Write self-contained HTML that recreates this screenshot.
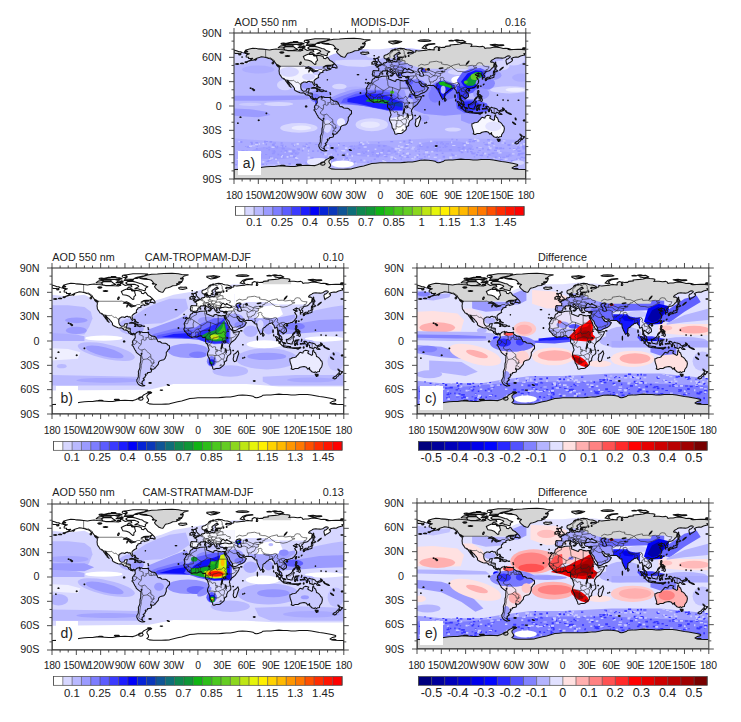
<!DOCTYPE html>
<html><head><meta charset="utf-8"><style>
*{margin:0;padding:0;box-sizing:border-box}
html,body{width:741px;height:722px;background:#fff;overflow:hidden}
body{position:relative;font-family:"Liberation Sans",sans-serif;color:#222}
svg{position:absolute;overflow:visible}
div{position:absolute;white-space:nowrap;line-height:1}
.yl{width:60px;text-align:right;font-size:10.8px}
.xl{width:60px;text-align:center;font-size:10.4px;letter-spacing:-0.25px}
.tl{font-size:10.8px}
.tc{text-align:center;font-size:10.8px}
.tr{width:100px;text-align:right;font-size:10.8px}
.lab{width:22.5px;height:24.3px;background:#fff;font-size:14px;padding:4.9px 0 0 4.7px}
svg.map{overflow:hidden}
.cl{width:60px;text-align:center;font-size:11.4px}
.cl2{font-size:12.5px}
</style></head><body>
<svg style="position:absolute;width:0;height:0"><defs><path id="bd" d="M-123,-49 -95,-49 -95,-49.4 -89.5,-48 -84.5,-46.5 -82.5,-45.3 -82.5,-42 -79,-42.8 -76.5,-44 -75,-45 -71.5,-45 -70,-46.5 -69,-47.4 -67.8,-47 -67.8,-45.5 -67,-45M-141,-69.6 -141,-60.3 -139,-60 -137,-59 -135,-59.5 -133,-58 -130,-56 -130,-54.7M-117.1,-32.5 -111,-31.3 -108,-31.3 -106.5,-31.8 -104.5,-29.8 -103,-29 -101,-29.5 -99.5,-27.5 -97.2,-25.9M-92.2,-14.5 -92,-16 -90.5,-16.1 -90.5,-17.8 -89.2,-17.8 -89.2,-15.9M-88.2,-15.7 -89.2,-14.4 -90.1,-13.7M-89.3,-14.4 -87.8,-13.9 -87.8,-13.3M-87.5,-13 -86,-13.9 -85,-14.1 -83.2,-15M-85.7,-11.1 -83.7,-10.9M-82.9,-8.1 -82.6,-9.5M-77.9,-7.2 -77.3,-8.6M-72,-11.5 -72.5,-8 -70,-7 -67.5,-6 -67.5,-2 -70,-1.2 -69.5,1 -70,4.2M-79,-1.2 -77,-0.4 -75.5,0.1 -73,2.5 -70,4.2M-80.3,3.4 -79,4.9 -76,2.5 -75.5,0.1M-70,4.2 -73,7 -73.5,9 -70.5,11 -69,11M-69,11 -68.8,13 -69.5,15.5 -69.5,17.5 -70.4,18.3M-69,11 -65.5,10 -62,13.5 -60,15.5 -58.3,16.5 -58,19.8M-69.5,17.5 -68.5,21 -67.5,22.8 -64.5,22.4 -62.5,22 -60,19.5 -58,19.8M-62.5,22 -58,24.5 -57.5,27.3 -55.5,27.5 -54.6,25.6M-58,19.8 -57.5,22 -55.5,22.5 -54.3,24 -54.6,25.6 -53.8,27.2 -56,28.5 -57.6,30.2M-57.6,30.2 -55.5,30.9 -53.5,32.5 -53.4,33.7M-57.6,30.2 -58.2,33 -58.4,34M-67.5,22.8 -68.5,25 -69.8,30 -70,33.5 -71,37 -71.5,41 -71.8,44 -72.5,48 -73,50 -71.5,52 -69,52.3M-60.5,-8.5 -61,-6 -60.7,-5.2 -62.8,-4 -64.5,-4 -63.5,-2.5 -64,-1.5 -66.3,-0.8 -67.5,-2M-60.7,-5.2 -60,-2 -57,-1.8 -55,-2.3 -52,-2.2 -51.5,-4M-57,-6 -58,-4 -57,-1.8M-54,-5.8 -54.4,-3.5 -54,-2.2M-2,-35.1 -1.7,-32.5 -3.6,-31.7 -8.7,-28.7 -8.7,-26 -12,-26 -12,-23.5 -13,-21.3 -17,-21.3M-13,-27.7 -8.7,-27.7 -4.8,-25 -6,-21 -5.5,-16.5 -11.5,-15.5 -12.2,-14.7 -16.5,-16.3M-4.8,-25 1.2,-21 4,-19.2 5.8,-19.4 12,-23.5M8.6,-36.9 8.3,-34.5 9.5,-30.3 10,-25 12,-23.5 15,-23 24,-19.5 24,-20 25,-20 25,-31.6M25,-22 36.9,-22M4,-19.2 3.5,-15.4 1,-15 0.2,-14.9 -2,-14.2 -4.5,-12 -5.5,-10.4 -8,-10.2 -8.5,-11.4 -9.5,-12.4 -11.4,-12.4 -12.2,-14.7M3.6,-11.7 7,-13 10,-13.3 13.6,-13.7 14.2,-13.1M15.5,-23 15.7,-20 14.2,-13.1M24,-19.5 22,-15 22.5,-13 22,-11 23,-9M15.5,-7.5 18.5,-8.8 21.7,-10.6 23,-9M14.2,-13.1 14.5,-11.5 15.5,-9.9 14,-9.5 15.5,-7.5M14.2,-12 13.3,-10 11.8,-7.2 9.7,-5.5 8.6,-4.6M2.7,-6.4 2.8,-9 3.6,-11.7M1.2,-6.1 0.5,-8.5 0,-11M-3.1,-5.1 -2.5,-8 -2.8,-9.6 -2.7,-11 0,-11 1,-11 2.4,-11.9 3.6,-11.7M0.2,-14.9 2.4,-11.9M-7.5,-4.4 -8.5,-7.5 -8,-8.5 -8,-10.2M23,-9 24,-8.7 26,-9.5 29,-9.6 32,-12 34,-9.5 33,-8 35,-4.6M38.6,-18 36.5,-14 36.2,-12.5 35,-10.5 34,-9.5M36.5,-14 40,-14.5 42.5,-12.5M43.3,-11 44,-9 48,-8 45,-5 42,-4 41,-3.9M41,-3.9 41,1.6M35,-4.6 38,-3.6 41,-3.9M34,-4.2 35,-1.5 34,1M34,1 37.6,3 39.3,4.6M29.6,1 34,1M30.8,-3.5 33.5,-3.8 34,-4.2M18.5,-3.5 22,-4.2 25,-5.2 27.5,-5 30.8,-3.5M12.2,5.8 13.5,4.8 16,3.5 17.5,1 18,-2 18.5,-3.5M9.5,-2.3 11.3,-2.2 13,-2.3 16,-2 16.2,-3.5 15,-5 14.5,-5 15.5,-7.5M11.3,-2.2 11.3,-1 13,-1.2 14.5,2 11.7,3 11,3.8M30.8,-3.5 29.7,1.4 29,2.8 29.2,4.5 30.5,8.3 28.8,8.5 28.5,11 29,13.4 27.2,11.7 25.5,11.6 24,11 22,11 21.8,7.3 20,7 17.6,8 16.5,6 13,5.9M11.8,17.2 14,17.4 18.5,17.4 21,18 23.5,17.6 25.3,17.8M22,11 24,11 24,13 22,13 22,16.3 23.5,17.6M21,18 20.9,22 20,22 20,28.5 16.5,28.6M20,24.8 22.5,26 25.5,25.5 27,24.3 29.4,22.2 31.3,22.4 32,24 32,26.8M25.3,17.8 26,18.5 27.5,20.5 29.4,22.2M25.3,17.8 27.5,17 29,16 30.4,15.6 33,16.5 32.7,19 32.5,21 31.3,22.4M30.4,15.6 33,14 33.5,10.5 32.9,9.4 30.8,8.3M40.4,10.5 37.8,11.5 35,11.5 33.5,10.5M33,14 35,16.5 35.3,17M-16.7,-12.4 -13.7,-12.4 -11.4,-12.4M-13.3,-9 -12,-10 -10.3,-8.5M-11.5,-6.9 -10.3,-8.5 -8.5,-7.6M-12.2,-14.7 -11.4,-12.4M28.2,28.7 29.4,29.8 27,30.5 28.2,28.7M-8.8,-42 -6.5,-41.9 -7,-39.6 -7.4,-37.2M-1.8,-43.4 3.2,-42.4M2.5,-51.1 4,-50 5.8,-49.5 8.2,-49 7.6,-47.6 6,-46.2 7,-45.8 6.6,-44.1 7.5,-43.8M7.6,-47.6 10.5,-47.5 10.5,-46.5 9,-45.9 7,-45.8M10.5,-46.8 12.5,-47 13.7,-46.5 13.7,-45.6M10.5,-47.5 13,-47.5 13.8,-48.8 12.2,-50.3 14.8,-50.9M14.2,-54 14.6,-52.5 14.8,-50.9M7,-53.5 6,-51.8 5.8,-50.7M3.5,-51.4 5.8,-50.7 6.1,-50M8.6,-54.9 9.9,-54.8M14.8,-50.9 16.5,-50.2 18.8,-49.5 22.5,-49.1M22.5,-49.1 24,-50.5 23.5,-52.5 23.5,-54.2 22.7,-54.4 19.5,-54.4M13.8,-48.8 15,-49 16.9,-48.6 17.2,-48 16.1,-46.8 18.8,-45.9 21,-46.2 22.7,-48 22.5,-49.1M16.9,-48.6 18.8,-49.5M13.7,-45.6 15.5,-45.9 16.5,-46.5M18.8,-45.9 19.5,-45 19,-44.5 19.4,-42.5M15.8,-45.2 19,-44.9M21,-46.2 22.7,-48 24,-47.9 26.6,-48.3 28.2,-45.5 29.6,-45.2M22.5,-44.5 25,-43.7 27.5,-44 28.6,-43.7M22.4,-42.3 24,-41.5 26.2,-41.7 28,-42M19,-44.5 22.5,-44.5 22.4,-42.3 21,-42.2 20,-42.5M20,-39.7 20.8,-40.9 22.4,-41.3 24,-41.5M26,-40.8 26.6,-41.7 28,-42M23.5,-51.5 27,-51.5 31,-52 34,-52.3 36,-50.3 40,-49.5 40,-47.5 38.2,-47.1M26.6,-48.3 28.5,-48 30,-46.5 29.6,-45.2M23.5,-54.2 26,-54.5 26.6,-55.7 28.2,-56 31,-55.7 31,-53.5 31,-52M21,-56.1 26.6,-55.7M24.3,-57.9 27.3,-57.5M28,-59.5 27.5,-57.5 28.2,-56M28,-60.5 31.5,-62.9 30,-64 30,-67 29,-69 28.5,-69.9M24,-65.8 23.5,-68 20.8,-69.1M12,-59 12.5,-61 12,-63.5 14.5,-65.5 16,-68 18,-68.5 20.8,-69.1 24.5,-68.8 26,-69.9 28.5,-69.9M36,-36 37,-36.7 40,-37 42.3,-37.1 44.8,-37.2 44,-39.5 44.8,-39.7M41.5,-41.5 43.5,-41.1 44.8,-39.7M42.3,-37.1 41,-34.5 38.8,-33.4 36,-32.7M38.8,-33.4 39,-32 37,-31.5 38,-30 36.5,-29.5 35,-29.4M39,-32 44,-29 46.5,-29.1 48,-29.5M44.8,-37.2 46,-35 45.5,-34 47.5,-33 48.5,-30M42.8,-16.5 46,-17.3 47.5,-17 52,-19 55,-20 55.5,-22.5 51,-24.5M52,-19 53,-16.6M54,-37.3 56,-38 57.5,-38 60.5,-36.8 61,-36.6 60.5,-34 61,-31.5 61.5,-29.8 62.8,-28.2 61.6,-25.2M61.5,-29.8 66,-29.5 66.5,-31 69.3,-31.9 70.5,-33.9 71,-34.8 71.5,-36.5 74.5,-37M61,-36.6 62.5,-35.2 64.5,-36.2 66.5,-37.4 68,-37 70,-37.7 71.5,-36.5M68.2,-23.7 70,-24.2 71,-24.4 70,-27.8 72,-28 74.5,-31 75,-32.5 74,-34.5 77.8,-35.5M77.8,-35.5 79,-34.3 78.7,-32.5 80.5,-30 84,-28.2 88,-27.9 88.8,-27.3 92,-27.8 95.5,-29 97.4,-28.2M80,-28.8 83,-27.3 86,-26.6 88.1,-26.4 89,-26 88.5,-24.2 89,-22M89.8,-26 92.4,-25 92,-23.6 92.3,-20.7M97.4,-28.2 96,-27 94.5,-25 93.5,-23 92.5,-22M97.4,-28.2 98.5,-25.8 97.7,-24 99,-22.2 100.1,-21.5 101.2,-21.2 100.5,-20.4 98,-19.7 97.5,-18 98.5,-16 99,-11 98.6,-10M100.5,-20.4 101,-17.5 102.1,-18.2 104.7,-17.5 105.5,-15.3 103,-14.3 102.3,-12.2M102.1,-22.4 104.6,-19.6 106.6,-16.4 107.6,-14.6 106,-11.5 104.5,-10.4M101.2,-21.2 102.1,-22.4 105,-23 106.7,-22.8 108,-21.5M100.2,-6.5 101.8,-5.8 102.1,-6.2M87.8,-49.1 91,-46 96,-42.7 101,-42.5 105,-41.6 110.3,-42.7 112,-43.7 114.5,-44.8 117.5,-46.5 119.7,-47 119,-47.8 116,-47.8 115.5,-48.5 116,-49.5M116,-49.5 119,-50 120,-52.5 122.5,-53.4 126,-52.8 127.5,-49.7 130.5,-48.6 134.7,-48.3 133,-45 131,-44.8 130.6,-42.4M124.3,-39.9 126.7,-41.7 128.2,-41.9 129.7,-42.4 130.6,-42.4M126.1,-37.7 128.4,-38.6M87.8,-49.1 91,-50.5 98,-52 98.5,-50 104,-50.3 108,-49.3 114,-50.2 116,-49.5M74.5,-37 75,-38.5 74,-40 76,-40.4 78.5,-41.5 80.2,-42.2 80,-44.8 82.6,-45.2 83,-47 85.5,-47 87.3,-49.1 87.8,-49.1M47,-49 51,-51.5 55,-50.5 60,-51.5 61,-52.8 61,-54 65,-54.6 70,-55.2 73.5,-54 76.5,-54 76,-52 80,-51 83,-51 87.3,-49.1M53,-41.9 56,-41.3 56,-45 58.5,-45.5 62,-43.5 66,-42 68,-41 69,-41.5 71,-42.7 73.5,-42.5 75,-42.8 78.5,-42.8 80.2,-42.2M56,-41.3 60,-42 62,-40 64.5,-38.5 66.5,-37.4M66.5,-37.4 68,-38.5 68.5,-40.5 70.5,-41 73,-40 75,-40M40,-43.4 43.5,-42.8 46.5,-41.8 48.5,-41.8M44.8,-39.7 46.5,-38.9 48,-38.5 48.9,-38.4M109.6,-1.9 112,-1.4 114.5,-1.5 115.5,-4 117.7,-4.2M141,2.6 141,9.1" fill="none" stroke="#222" stroke-width="0.6" vector-effect="non-scaling-stroke" stroke-linejoin="round"/><path id="cs" d="M-168,-65.5 -163,-67 -166,-68.8 -161,-70.3 -156.8,-71.3 -152,-70.8 -150,-70.4 -145,-70.1 -141,-69.7 -136,-69 -133,-69.6 -128,-70.2 -124,-69.6 -120,-69.3 -114,-68.3 -108,-68.5 -104,-68 -98,-67.8 -96,-69.5 -95,-71.5 -92,-70 -90,-68.5 -85,-69.5 -82,-68.5 -81.5,-66.8 -86,-66.2 -87,-64.5 -91,-62.8 -94.5,-61 -93.5,-58.8 -92.5,-57 -88,-56.5 -85,-55.3 -82.3,-52.9 -80.5,-51.3 -79,-51.5 -79,-54.5 -76.8,-56.5 -77.5,-58.5 -78,-60.5 -77.5,-62.5 -73,-62 -70,-61 -69.5,-59 -67,-58.3 -65,-60.3 -64,-59.3 -61.5,-56 -59,-55 -57,-53 -55.7,-52 -57.5,-51.3 -60,-50.2 -64,-50.2 -66.5,-50 -70,-47.8 -69,-48.6 -65,-49.2 -64.3,-48.5 -65,-47.5 -64.5,-46.2 -61.5,-45.6 -60,-46 -61,-45 -64,-44.5 -65.8,-43.6 -66,-44.8 -67.8,-44.5 -70,-43.7 -70.6,-42.5 -70,-41.7 -71.5,-41.4 -74,-40.6 -74.2,-39.5 -75.5,-38.5 -75.9,-37 -76,-35.5 -75.5,-35.2 -77,-34.5 -79,-33.3 -81,-31.5 -81.3,-29.8 -80,-26.5 -80.5,-25.2 -81.3,-25.8 -82,-26.5 -82.7,-28 -83,-29 -84,-30 -85.5,-29.7 -87,-30.4 -89,-30.2 -89.5,-29.2 -90.5,-29.1 -92,-29.6 -94,-29.6 -95.5,-28.7 -97.2,-27.8 -97.5,-26 -97.7,-24 -97.3,-21.5 -96.2,-19.5 -95,-18.6 -94,-18.2 -91.5,-18.5 -90.5,-19.8 -90.3,-21 -87,-21.5 -87.5,-19.8 -87.8,-18.3 -88.3,-17.5 -88.3,-16 -86,-15.9 -84,-15.8 -83.3,-15 -83.6,-13 -83.3,-11 -82,-9.2 -81.2,-8.8 -79.5,-9.5 -77.8,-8.8 -77.3,-8.5 -77.8,-7.5 -78.5,-8.3 -79.5,-8.9 -80.3,-8.2 -80,-7.4 -81,-7.6 -82.8,-8.2 -83.7,-9.1 -85.5,-10 -85.7,-11.1 -87.5,-13 -88.5,-13.3 -91.5,-14 -93,-15.6 -94.5,-16.2 -97,-16 -98.5,-16.3 -101.5,-17.5 -104.5,-19.2 -105.5,-20 -105.3,-21.5 -106.5,-23.5 -108,-25.2 -109,-26.5 -110.6,-27.8 -112.2,-29.5 -113,-31 -114.8,-31.8 -114.3,-30 -113,-29 -112.2,-27.5 -111.3,-25.6 -110.5,-24.2 -109.5,-23 -110.3,-23.5 -112,-24.8 -112.2,-26 -114,-27.5 -114.3,-28.6 -116,-30.5 -116.7,-31.8 -117.1,-32.5 -118.5,-34 -120.6,-34.6 -121.9,-36.5 -122.5,-37.5 -123,-38 -123.8,-39.5 -124.2,-40.5 -124.1,-42 -124.5,-43 -124,-46 -124.7,-48.4 -123,-48.5 -123,-49 -125,-50 -127.5,-50.8 -128,-52 -130,-54.5 -131.5,-55.5 -133,-57 -135,-58.2 -137,-58.5 -139.5,-59.6 -142,-60 -146,-60.8 -148,-60 -150,-59.5 -151.5,-59.2 -152.5,-58 -154,-57.5 -156.5,-56.5 -158,-56.5 -161,-55.5 -163,-55 -164.5,-54.5 -162,-55.6 -160,-56.5 -158,-57.8 -157,-58.7 -159,-58.4 -162,-58.5 -162,-60 -165,-60.5 -165,-61.8 -164.5,-63 -161,-64.5 -163.5,-64.6 -166,-64.7 -166.5,-65.3 -168,-65.5ZM-77.3,-8.5 -76.5,-9.5 -75.5,-10.5 -74.5,-11 -73,-11.5 -72,-12 -71.5,-11.3 -71.8,-10.5 -71.2,-9.5 -71,-10.5 -70,-11.5 -68,-10.5 -66,-10.6 -64,-10.6 -62,-10.6 -61,-10 -60.5,-8.5 -58,-6.8 -56,-5.9 -54,-5.8 -52.5,-5 -51.5,-4 -50.8,-2 -50,-1.5 -50,-0.2 -48.5,1 -47,0.6 -44.5,2.5 -42,2.8 -40,2.8 -38,3.8 -37,5 -35.3,5.5 -35,7 -35,9.5 -36.5,10.5 -37.5,12.5 -39,14 -39,17.5 -39.8,19.5 -40.5,21.5 -42,23 -45,23.7 -47,24.5 -48.5,26 -48.8,28.5 -50,30 -51,31 -52.5,33 -53.5,34 -55,34.9 -56.5,34.8 -58.3,34 -58.5,34.5 -57,36.5 -57.8,38.3 -60,38.8 -62,39 -62.3,40.5 -65,41 -64.5,42.5 -63.8,42.2 -65,43.5 -65.5,45 -67.5,46.3 -66,47.8 -67.5,49 -69,50.5 -68.5,52.3 -69.5,52.5 -68.5,53.3 -67.5,54.5 -65.5,55 -67,55.3 -69,55.5 -71,55 -72.5,54 -74,52.5 -75.3,50 -75.4,47.8 -74.5,46.5 -73.5,44.5 -73.5,42 -73.3,40 -73.5,37.5 -72.5,35.5 -71.5,32.5 -71.4,28 -70.5,25 -70.5,23 -70.2,18.5 -71.5,17.5 -73,16.5 -76,14 -76.5,12.5 -77.5,11 -79,8.2 -79.5,7 -81.2,5.5 -81.2,4.5 -80.3,3.5 -80,2.5 -80.9,1.5 -80.3,0 -80,-0.8 -78.9,-1.5 -78.5,-2.5 -77.3,-3.8 -77.4,-6.5 -77.8,-7.5 -77.3,-8.5ZM-73,-78 -69,-79 -66,-80.2 -62,-81.3 -57,-82.2 -50,-82.5 -42,-83.2 -32,-83.6 -24,-82.9 -20,-82 -12,-81.5 -17,-80 -19,-78.5 -18,-77 -19,-74 -22,-72.5 -22,-70.5 -24.5,-69.5 -27,-68.5 -31,-68 -34,-66.5 -37,-65.7 -40,-65 -41,-63.5 -42.5,-61 -43.5,-60 -45.5,-60.5 -48,-61.2 -49.5,-62.8 -51,-64 -52.5,-65.5 -53.5,-67 -52.5,-68.5 -51,-69.6 -54,-70.5 -54.5,-71.5 -55.5,-72.5 -56,-73.5 -58,-75.2 -62,-76 -66,-76.1 -68,-76.5 -71,-77.2 -73,-78ZM-5.9,-35.8 -4,-35.2 -2,-35.1 0,-35.8 2,-36.5 3,-36.8 5,-36.8 8,-36.9 10,-37.3 11,-36.9 10.5,-36.3 11,-35.2 10.3,-34.3 10.3,-33.5 11.5,-33.1 12,-32.9 15.5,-31.5 16.5,-31.2 19,-30.3 20,-31.5 20,-32.3 22.5,-32.8 23.5,-32.3 25,-31.6 27,-31.3 29,-30.9 31,-31.5 32.3,-31.3 34.2,-31.3 34.3,-30 34.9,-29.5 34.2,-28 33.6,-27.9 33,-29.5 32.5,-29.9 32.7,-28.5 33.9,-27 35,-24.8 35.5,-23.9 36.6,-22 37.3,-19 38.6,-18 39.3,-16 39.7,-15.5 41.2,-14.2 41.7,-13.5 43.3,-12.5 43.2,-11.7 44.5,-10.4 47,-11.1 49,-11.3 51.2,-11.8 51.1,-10.4 50.5,-9 49.5,-7 48,-5 46,-2 43.5,0 42,1 40.2,3 39.3,4.8 38.8,6.5 39.5,8 39.5,10 40.5,11.5 40.6,15 39.3,16.8 37,18 35.5,21.5 35.5,24 33,25.5 32.9,26 32.4,29 30.9,30.5 30,31.3 28.2,32.7 27,33.6 25.7,34 22.5,34 20,34.8 18.8,34.4 18.4,34.2 18.2,32.5 17.3,30.5 16.5,28.6 15.2,27 14.5,22.5 13.2,20 12,18 11.8,16 12.5,13.5 13.8,11 13.2,8.8 12.3,6 11.8,4 10,2.5 9.3,0.5 9.5,-1 9.8,-3 9.6,-4 8.5,-4.5 7,-4.4 6,-4.3 5,-5.5 4.5,-6.3 3,-6.4 1,-5.9 -1,-5 -2,-4.8 -4,-5.2 -6,-4.8 -7.5,-4.4 -9.5,-5.5 -11.5,-7 -12.5,-7.5 -13.3,-9 -14.5,-10.3 -15,-11 -16.5,-12 -16.7,-12.5 -16.8,-13.8 -17.5,-14.7 -16.5,-16.2 -16.1,-18 -16.3,-19.5 -17,-21 -16.5,-22.5 -15,-24.5 -14.5,-26 -13,-27.7 -11.5,-28.2 -10,-29.5 -9.8,-31 -9.6,-32 -8.5,-33.2 -6.8,-34 -6.2,-35.2 -5.9,-35.8ZM49.3,12 50.5,15.5 49.8,17 48.8,20 47.5,24.5 45.2,25.5 44,24.5 43.5,22 44.3,19 44.3,16.2 46.5,15.5 47.5,14 48.5,13 49.3,12ZM-9,-37 -8.8,-38.5 -9.5,-39 -8.8,-41 -8.8,-42.8 -8,-43.7 -5,-43.5 -1.8,-43.4 -1.2,-46 -2.5,-47.3 -4.7,-48.4 -3,-48.8 -1.5,-48.7 -1.3,-49.7 0,-49.6 1.5,-50.5 2.5,-51.1 3.5,-51.5 4.5,-52.5 5,-53.3 7,-53.5 8.5,-53.8 8.8,-54.5 8.5,-55.5 8.2,-57 10.5,-57.7 10.2,-56 10.8,-55.5 11,-54 13,-54.4 14,-54 16,-54.4 18,-54.8 19.5,-54.4 21,-55 21,-57 22,-57.5 23.5,-57 24.3,-57.3 23.7,-58.8 24.5,-59.4 26,-59.6 28,-60 29.5,-60.1 26,-60.4 23,-60 21.3,-60.7 21.5,-63 23.5,-64 25.3,-65 24.5,-65.8 22.5,-65.8 21.2,-65 19.5,-63.5 17.5,-62.3 17.3,-61 18.8,-60 18.3,-59.2 16.5,-58.5 16.5,-57 15.8,-56.1 14.5,-56 12.8,-55.5 12.5,-56.4 11.8,-57.7 11,-58.8 10.5,-59.6 10,-59 8,-58 6.5,-58.1 5.5,-58.8 5,-60 5,-61 5.5,-62.3 7,-62.8 9,-63.5 10.5,-64.5 12.5,-65.8 13.5,-67.8 15,-68.4 16,-69 18,-69.7 19,-70 21,-70.2 23.5,-70.8 25.5,-71.1 28,-71 30,-70.5 31,-70 33,-69.3 36.5,-69 40,-67.8 41,-67.5 41,-66.7 39,-66 35,-66.3 34,-65 36,-64.5 37.5,-64.2 40.5,-64.6 42,-66.3 44.2,-66.5 44.2,-68.5 46,-68 48,-67.7 53.5,-68.5 58,-68.9 60.5,-69.8 64,-69.4 67,-69.2 67,-70.5 66.8,-71.5 69,-73 70.5,-73.2 72,-72.5 72.5,-71 72,-68.5 73.6,-68.5 74,-70 73,-71.5 72.8,-72.7 76,-72 78,-72.3 80,-72.3 81,-73.5 84,-73.8 87,-74 86.5,-75.2 90,-75.6 95,-76 99,-76.5 104,-77.7 107,-77 111,-76.7 113.5,-76 113,-74 112,-73.5 115,-73.7 118.5,-73.6 123,-73 127,-73.5 129,-72.5 129.5,-71 132,-71.5 136,-71.6 140,-72.5 143,-72.7 146,-72.3 150,-71.5 152,-70.9 155,-71.1 159,-70.8 161,-69.5 165,-69.6 170,-70 175,-69.8 178,-69.4 180,-69 180,-65.3 178.7,-64.5 177.5,-64.7 179,-62.8 177,-62.5 173.5,-61.7 170.5,-60.2 168,-60.5 164.8,-59.8 163.4,-59.3 162,-58 163.5,-57.5 163.5,-56 162,-54.8 160,-53.2 158.5,-52.8 156.7,-51 156,-53 155.5,-56 156.5,-57.8 158,-58 161,-60.5 160.5,-61.3 159.5,-61.8 157,-61.5 154,-59.5 151,-59 148,-59.3 145.5,-59.4 143,-59.3 141.5,-58.7 140.5,-57.8 138,-56.5 136.5,-54.8 137,-54 139,-54.2 140.5,-53.2 141.3,-52 140.5,-50.5 140.4,-48.5 139.5,-47.5 138.2,-46.5 136.5,-44.5 135,-43.5 133,-42.8 132,-43 130.7,-42.3 129.7,-41 129.5,-40.5 128,-39.5 128.3,-38.5 129.3,-37.5 129.4,-35.5 128,-35 126.5,-34.4 126.3,-35.5 126.5,-37 126.2,-37.7 125,-37.8 125.3,-38.5 125.2,-39.5 124,-39.8 122.5,-40.3 121.5,-40.9 121,-40.5 122,-39.2 121.3,-39 120,-40 119,-39.2 117.7,-38.8 118.5,-38 118.8,-37.5 120,-37.5 121,-37.7 122.5,-37.4 122.5,-36.8 120.8,-36.5 120,-35.8 119.3,-34.8 120.2,-34.3 120.8,-32.7 121.9,-31.7 121.9,-30.9 121.5,-30.2 122,-29.8 121.5,-28.5 120.7,-27.5 119.7,-26.5 119.5,-25.5 118.5,-24.6 118,-24.4 116.5,-22.9 115,-22.7 113.5,-22.2 112,-21.8 110.5,-21.2 110.2,-20.3 109.7,-21.5 108.5,-21.7 108,-21.5 106.6,-20.2 105.8,-19 106.5,-18 107,-17 108.3,-16 108.8,-15.3 109.3,-13.5 109.3,-12 108.8,-11.2 107.5,-10.5 106.5,-9.5 105,-8.6 104.8,-10.4 104.3,-10.5 103,-10.8 102.5,-12 101,-12.7 100,-13.5 100,-12.2 99.2,-10 99.5,-9.3 100.3,-8.4 100.5,-7.2 101.3,-6.9 102.2,-6.2 103.4,-4.8 103.5,-2.8 104.3,-1.4 103.5,-1.3 101.3,-2.9 100.6,-4 100.3,-5.6 100.2,-6.5 99,-7.9 98.3,-8 98.6,-10 98.6,-12 98.2,-13.5 97.8,-16 97.3,-16.6 96.5,-16.8 95.5,-15.8 94.5,-16 94.2,-18.8 93.5,-19.5 92.3,-20.7 91.8,-22.3 91.5,-22.5 90.5,-22.2 90,-21.9 89,-21.6 88.5,-21.7 86.9,-20.6 86.5,-19.9 85,-19.4 84,-18.3 82.3,-16.6 81.3,-16.2 80.3,-15.5 80.2,-13.5 80.2,-13 79.8,-11.5 79.8,-10.3 79,-9.3 77.5,-8.1 76.5,-9.5 75.8,-11.5 74.8,-12.8 74.2,-14.8 73.5,-16 73,-18 72.8,-19.3 72.8,-20.5 72.6,-21.3 71.5,-20.8 70.5,-21.2 69.2,-22.3 70,-22.8 68.5,-23.5 67.5,-23.9 66.7,-25.2 64.5,-25.2 62,-25.2 59.5,-25.4 57.5,-25.7 57,-27 56.3,-27.2 54,-26.7 52.5,-27.5 51.5,-27.9 50.3,-30 49,-30.4 48.5,-30 48,-29.5 48.5,-28.5 49.5,-27.2 50,-26.5 50.5,-25.2 51.5,-25.8 51.5,-24.7 52,-24 54.5,-24.2 55.5,-25.3 56,-26 56.3,-24.5 57.5,-23.8 58.5,-23.6 59.8,-22.5 58.7,-20.8 57.8,-19 56.5,-18 55,-17 52,-15.8 50,-15 48.7,-14 47,-13.3 45,-12.8 43.4,-12.7 42.8,-15 42.6,-16.5 41.5,-18 40,-20 39.1,-21.7 38.5,-24 37.2,-25.3 36.5,-26 35.5,-27.5 35,-28 34.9,-29.5 34.5,-28.2 33.8,-27.8 32.7,-29.8 32.3,-31.3 34.2,-31.3 34.5,-31.5 35,-33 35.9,-35.5 36,-36.5 34.5,-36.8 32.5,-36.1 30.5,-36.5 28,-36.8 27.3,-37.5 26.5,-38.5 26.3,-40 27.5,-40.3 29,-41 28,-41.2 28.6,-41.5 28,-41.8 28.5,-43.5 29.5,-45.5 30.5,-46.5 31.6,-46.6 32.5,-45.4 33.5,-44.5 35,-45 34.9,-45.7 35.5,-46.2 37,-45 38.5,-44.3 39.8,-43.6 41.5,-42.5 41.5,-41.5 40,-41 38,-41 36,-41.7 34,-42 33,-42 31,-41.2 29,-41.2 27,-40.5 26,-40.8 24,-40.8 23,-40.3 22.8,-39.5 24,-38 23,-37.5 22.5,-36.5 21.8,-36.9 21,-37.7 21.2,-38.3 20.2,-39.6 19.4,-41.8 18,-42.7 16,-43.5 15,-44.5 13.7,-45.6 12.3,-45.3 12.5,-44 14,-42.5 15.3,-42 16,-41.4 18.5,-40.2 17.5,-40.3 16.6,-38.8 16,-38 15.7,-38 15.8,-40 14,-40.8 12,-41.9 10.5,-43 9.5,-44 8.8,-44.4 7.5,-43.8 6.5,-43.1 5,-43.4 3.2,-43.2 3.2,-42 2,-41.3 0.5,-40.6 -0.3,-39.5 0.2,-38.7 -0.7,-37.6 -2.1,-36.7 -4.4,-36.7 -5.6,-36 -6.3,-36.8 -7.4,-37.2 -9,-37ZM-180,-69 -176,-67.8 -174,-67 -171.8,-66.9 -169.8,-66 -171,-65.5 -172.5,-64.5 -175,-64.8 -178,-64.7 -180,-65.3ZM113.5,22 113.5,24.5 114,26.5 115,29.5 115.7,31.8 115.7,33.5 115,34.3 116.5,35 118,35 120,34 123.5,33.9 126,32.3 129,31.7 131,31.5 134,32.5 135.6,34.8 136,34.5 137.8,32.7 137.8,34 137.5,35.5 138.5,35.5 139.5,36.5 140,37.5 141.5,38.3 143.5,38.8 145,38 146.3,39 148,37.8 150,37.5 150.2,35.5 151.2,33.9 152.5,32.3 153,31 153.6,28 153,25 151.5,24 150.8,22.5 149,20.5 148,19.8 146.3,19 146,17 145.4,16 145.3,14.8 144,14.3 143.5,13.5 142.5,10.7 142,11.5 141.6,12.8 141.5,15 141.5,17 140,17.7 139,16.8 137.3,16 135.5,14.8 136.8,12.2 135.5,12 133,11.3 131,12.2 130,13.2 129.5,14.8 128.5,14.9 127.7,14.3 126,14 125,15 123.5,17 122.2,18 121.3,19.5 120,20 118.5,20.3 116.7,20.6 115,21.5 114.2,21.8 113.5,22ZM144.6,40.7 146.5,41.1 148.3,40.9 148.3,42 148,43.2 146.8,43.6 146,43.6 145.2,42.2 144.6,40.7ZM172.7,34.4 173.5,35 174.3,35.5 174.8,36.8 175.9,37 177,37.8 178.5,37.7 178,39 177,39.3 176.9,40 176,41 175.2,41.6 174.6,41.2 175.1,40.2 173.8,39.2 174.6,38.5 174.5,37 173,35.5 172.7,34.4ZM172.7,40.5 174,41 174.3,41.4 173.4,42.8 172.8,43.6 171.2,44.5 170.6,45.9 169.5,46.6 168,46.7 166.5,46 167,45 168.5,44 170.8,42.8 171.5,41.7 172.7,40.5ZM130.2,-31.2 131.3,-31.4 131.8,-32.5 132,-33.8 133,-33 134.7,-33.8 135.2,-34.3 135.8,-33.5 136.8,-34.3 137,-34.6 138.3,-34.6 139,-34.8 139.8,-35 140.9,-35.7 140.6,-36.8 141,-38 141.9,-39.5 141.4,-41.4 140.2,-41.2 140,-40.2 140,-39 139.5,-38 138.5,-37.4 137,-37 136.7,-37.3 136,-36 135.5,-35.6 133,-35.5 131,-34.3 130.8,-34 129.7,-33.3 130,-32.5 130.2,-31.2ZM140,-41.5 141.2,-41.8 141.8,-42.6 143.3,-42 144.5,-43 145.5,-43.3 144.3,-44.1 142.5,-45 141.9,-45.5 141.7,-44.3 141.3,-43.2 140.3,-43.2 140,-41.5ZM142,-46 143.5,-46.8 143.2,-49.5 144.6,-49 143.3,-51 143,-52.5 142.8,-54.3 142.2,-53.5 142.2,-52 141.8,-50 141.8,-48.5 142,-46ZM120.1,-23 120.8,-21.9 121.5,-22.8 122,-25 121.5,-25.3 120.5,-24.5 120.1,-23ZM108.6,-19.2 109.5,-18.3 110.5,-18.6 111,-19.6 110.3,-20.1 109.2,-19.9 108.6,-19.2ZM120,-14.8 120.6,-16.5 120.6,-18.5 122.3,-18.5 122.1,-17 121.5,-15.8 122,-14.5 124,-13.8 124,-12.8 123,-13.2 121.5,-13.8 120.6,-14 120,-14.8ZM122,-7 123.5,-7.8 124.5,-8.5 125.5,-9.8 126.5,-7.5 126.2,-6.3 125.5,-5.6 124.2,-6.3 123.5,-7.5 122,-7ZM122,-10.5 123,-11.5 124.5,-12.3 125.7,-11.2 125,-10.1 123.5,-9.7 122.5,-9.3 122,-10.5ZM109,-1.8 109.3,-0.5 109.6,1 110.2,2.5 111.5,3 113,3.2 114.5,3.8 116.3,3.8 116.5,1.5 117.5,0.5 118,-0.8 117.7,-2 117.5,-3.5 118.5,-4.5 119,-5.3 117.7,-6 117.2,-7 116,-6 115.3,-5 114.5,-4.5 113,-3.1 111.5,-2.7 111,-1.6 109.8,-2 109,-1.8ZM95.3,-5.6 97.5,-5.2 98.5,-4 100.3,-2.5 101.5,-1.8 103.7,0.5 104.5,1.7 106,3 105.8,5.8 104.5,5.9 102.3,4 100.8,2 99.7,0.5 98.7,-1.7 97.5,-2.7 96,-4.3 95.3,-5.6ZM105.2,6.8 106,5.9 106.5,6 108.3,6.2 110.5,6.8 111,6.4 112.6,6.9 114.5,7.7 114.4,8.7 112.5,8.4 111,8.2 108,7.8 106.4,7.4 105.2,6.8ZM115,8.3 116,8.2 119,8.5 122,8.2 125,8.2 127,8.4 125,9.3 123.5,10.3 122,9 119,9.3 116.5,8.9 115,8.7 115,8.3ZM119.4,5.5 120.4,5.5 120.4,3 121,2.7 122.5,4.8 123.2,4.3 122,1.8 123.3,0.9 121,1.3 120.5,-0.5 123,-0.6 124.9,-1.5 121,-1.2 120,-0.7 119.5,0.5 118.8,2.7 119.4,5.5ZM127.5,0.5 128.5,-1.5 128,-2.3 127.8,-0.8 127.5,0.5ZM131,1.2 132.4,0.4 134.1,0.9 135.3,3.4 137.8,1.5 139,2.2 141,2.6 144.5,3.8 145.8,5.5 147.6,6.1 147.2,7.5 148.5,9 150.8,10.3 149.5,10.4 147.2,10.2 146,8.5 144.2,7.6 143.3,9 141,9.1 139.2,8.1 138,8.4 137.7,5.3 135.2,4.4 133.2,4 132,2.8 131,1.2ZM79.8,-6.2 80.6,-5.9 81.8,-7.5 81.2,-8.6 80.2,-9.8 79.8,-8 79.8,-6.2ZM-5.7,-50 -4,-50.3 -3,-50.6 -1,-50.7 1.4,-51.2 1.7,-52.7 0.3,-53.3 0.2,-53.5 -0.2,-54.2 -1.6,-55.6 -2.1,-56.3 -1.8,-57.6 -3.1,-58.6 -5,-58.6 -5.7,-57.5 -5.7,-56.7 -5.5,-55.3 -4.8,-54.8 -3.3,-54.9 -3.1,-53.4 -4.7,-53.3 -4.2,-52.3 -5.2,-51.7 -3.4,-51.4 -4.5,-51 -5.7,-50ZM-6,-52.2 -6.2,-53.5 -6.2,-54 -5.7,-54.8 -7.5,-55.3 -8.5,-54.5 -10,-53.6 -9.3,-52.5 -10.3,-51.8 -8,-51.6 -6,-52.2ZM-22.5,-64 -24,-65.5 -22,-66.4 -18,-66.2 -14.5,-66.4 -13.5,-65 -15,-64.3 -18.7,-63.4 -22.5,-64ZM-84.9,-21.9 -82,-23.2 -80,-22.9 -77.2,-21.6 -74.1,-20.2 -77.7,-19.9 -78.5,-21.5 -81.8,-22.1 -84.9,-21.9ZM-74.5,-18.4 -73,-19.9 -70,-19.7 -68.4,-18.6 -70,-18.2 -71.5,-17.7 -74.5,-18.4ZM-61.8,-66.8 -64,-65.5 -65,-64.5 -64.5,-63 -66,-62 -68,-62.5 -71.5,-63.5 -74,-64.5 -77.8,-64.4 -73,-67 -73.5,-68 -77,-69.5 -79,-70 -84,-69.8 -87,-70 -89,-71.5 -86,-73.8 -80,-73.5 -76,-72.5 -71.5,-71 -68.5,-70.2 -66.5,-68.5 -61.8,-66.8ZM-118.5,-71 -117.5,-73 -113,-73.2 -107,-73.5 -104.5,-71.5 -101.5,-69.6 -107,-68.8 -114,-68.4 -117.5,-69.5 -118.5,-71ZM-125.5,-71.9 -123,-73.8 -118.5,-74.5 -115.5,-73.4 -120,-71.5 -125.5,-71.9ZM-90,-76.5 -80,-76.2 -75,-78.5 -66,-80.5 -62,-82.5 -70,-83 -80,-83 -91,-81 -87,-79 -90,-76.5ZM-91,-74.7 -80.5,-74.5 -79.5,-75.5 -89,-76.5 -91,-74.7ZM-120,-76 -100,-76 -96,-78 -110,-78.5 -120,-76ZM-101,-72 -96,-72 -93,-73.5 -98,-74 -101,-72ZM-87,-63.5 -81,-63.8 -84,-65.5 -86,-66 -87,-63.5ZM-59.4,-47.6 -56,-47.6 -53,-46.7 -52.8,-48 -53.5,-49.5 -55.5,-51.5 -57,-51.5 -59,-48.5 -59.4,-47.6ZM11,-78.5 16,-76.5 22,-77.5 27,-79.5 20,-80.5 11,-79.8 11,-78.5ZM52,-71.5 56,-70.5 58,-71 56,-73 60,-75.5 68,-76.5 67,-77 60,-76.5 55,-74.5 52,-71.5ZM95,-79 100,-78 106,-79 102,-81 95,-80.5 95,-79ZM136,-75.5 143,-73.5 150,-75 142,-76 136,-75.5ZM-180,78.3 -170,78 -163,78.2 -158,77 -150,76.5 -145,75.5 -140,75 -135,74.5 -130,74.5 -125,73.8 -120,73.8 -115,74.2 -110,74.5 -105,74.5 -100,73.5 -95,73.3 -90,73 -85,73.4 -80,73.5 -77,72.5 -75,71.5 -72,70.5 -70,69.5 -68,67.8 -67,66.5 -65,65.5 -63,64.5 -59,63.3 -57,63.5 -58,64.5 -60.5,65.5 -62,66.5 -63,68 -62.5,70 -61,72 -61,74 -63,76 -60,77.5 -55,78 -50,78 -45,78 -40,77.8 -35,77.5 -30,76 -25,75 -20,74 -15,72.5 -10,71 -5,70.5 0,70 5,70 10,70 15,70 20,70 25,70 30,69.5 35,69 40,69 45,68 50,67 55,66.5 60,67 65,67.5 68,68 70,69.5 72,70 75,69.5 78,68.5 80,67 85,66.5 90,66.5 95,66 100,65.5 105,66 110,66 115,66.5 120,66.5 125,66 130,66 135,66 140,66.5 145,67.5 150,68.5 155,69 160,70 165,71 170,72 170,73.5 166,74.5 163,76.5 165,77.5 168,78 175,78.2 180,78.3 180,90 -180,90ZM47,-44.5 47.5,-45.6 49.5,-46.5 51.5,-47 53,-46.5 53,-45 51,-44.3 51,-42.8 52.8,-41.8 53,-40 53.9,-38.5 53.5,-37 51,-36.7 49,-37.5 49.5,-40 48.5,-41.8 47,-43.5 47,-44.5ZM-92,-46.7 -88,-48.5 -84.5,-46.5 -84.5,-45.5 -82.5,-45.5 -83.5,-43 -82.5,-42 -79,-42.8 -76.5,-43.5 -79.5,-43.5 -81,-44.5 -84,-43 -84.5,-44 -86,-45.8 -87.5,-44 -87.8,-41.8 -86.5,-43.8 -85,-45.8 -89,-46.5 -92,-46.7ZM-154.5,-19.6 -154.8,-20.2 -155.5,-20.5 -156.2,-20.2 -156.5,-19.6 -156.2,-19 -155.5,-18.7 -154.8,-19 -154.5,-19.6ZM-156.2,-21 -156.4,-21.3 -157,-21.4 -157.6,-21.3 -157.8,-21 -157.6,-20.7 -157,-20.6 -156.4,-20.7 -156.2,-21ZM-158.9,-22 -159.1,-22.3 -159.5,-22.4 -159.9,-22.3 -160.1,-22 -159.9,-21.7 -159.5,-21.6 -159.1,-21.7 -158.9,-22ZM179.2,17.8 178.8,17.2 178,17 177.2,17.2 176.8,17.8 177.2,18.4 178,18.6 178.8,18.4 179.2,17.8ZM168.1,15.8 167.3,14.7 166.8,14.9 166.9,16.2 167.7,17.3 168.2,17.1 168.1,15.8ZM167.5,22.7 167.2,22 165.8,20.8 164.3,19.9 163.5,19.9 163.8,20.6 165.2,21.8 166.7,22.7 167.5,22.7ZM162.3,10.6 161.8,9.9 160.3,9 158.6,8.4 157.7,8.4 158.2,9.1 159.7,10 161.4,10.6 162.3,10.6ZM158.3,8.8 158.1,8.2 157.2,7.6 156.3,7.2 155.7,7.2 155.9,7.8 156.8,8.4 157.7,8.8 158.3,8.8ZM-171.2,13.8 -171.4,13.5 -172,13.4 -172.6,13.5 -172.8,13.8 -172.6,14.1 -172,14.2 -171.4,14.1 -171.2,13.8ZM-174.7,21.2 -174.8,20.9 -175.2,20.8 -175.6,20.9 -175.7,21.2 -175.6,21.5 -175.2,21.6 -174.8,21.5 -174.7,21.2ZM-148.8,17.6 -149,17.2 -149.5,17.1 -150,17.2 -150.2,17.6 -150,18 -149.5,18.1 -149,18 -148.8,17.6ZM-139.5,9 -139.6,8.6 -140,8.5 -140.4,8.6 -140.5,9 -140.4,9.4 -140,9.5 -139.6,9.4 -139.5,9ZM-90,0.5 -90.3,-0.1 -91,-0.3 -91.7,-0.1 -92,0.5 -91.7,1.1 -91,1.3 -90.3,1.1 -90,0.5ZM145.4,-13.4 145.3,-13.7 145,-13.8 144.7,-13.7 144.6,-13.4 144.7,-13.1 145,-13 145.3,-13.1 145.4,-13.4ZM171.5,-7.1 171.4,-7.4 171,-7.5 170.6,-7.4 170.5,-7.1 170.6,-6.8 171,-6.7 171.4,-6.8 171.5,-7.1ZM158.4,-6.9 158.3,-7.2 158,-7.3 157.7,-7.2 157.6,-6.9 157.7,-6.6 158,-6.5 158.3,-6.6 158.4,-6.9ZM152.4,-7.4 152.3,-7.6 152,-7.7 151.7,-7.6 151.6,-7.4 151.7,-7.2 152,-7.1 152.3,-7.2 152.4,-7.4ZM153.4,4.7 152.4,4.4 150.3,4.7 148.3,5.5 147.6,6.3 148.6,6.6 150.7,6.3 152.7,5.5 153.4,4.7ZM153.9,4.7 153.7,4 152.8,3.1 151.8,2.4 151.1,2.3 151.3,3 152.2,3.9 153.2,4.6 153.9,4.7ZM156.3,6.8 156.2,6.3 155.8,5.9 155.1,5.7 154.7,5.8 154.8,6.3 155.2,6.7 155.9,6.9 156.3,6.8ZM128.6,-27 128.1,-27 127.5,-26.4 127.4,-26 127.9,-26 128.5,-26.6 128.6,-27ZM125.1,-24.5 124.9,-24.7 124.5,-24.8 124.1,-24.7 123.9,-24.5 124.1,-24.3 124.5,-24.2 124.9,-24.3 125.1,-24.5ZM152.3,-47.9 151.4,-47.6 149.7,-46.3 148.2,-44.9 147.7,-44.1 148.6,-44.4 150.3,-45.7 151.8,-47.1 152.3,-47.9ZM-174,-51.8 -174.6,-52.2 -176,-52.3 -177.4,-52.2 -178,-51.8 -177.4,-51.4 -176,-51.3 -174.6,-51.4 -174,-51.8ZM-168,-52.5 -168.6,-52.8 -170,-52.9 -171.4,-52.8 -172,-52.5 -171.4,-52.2 -170,-52.1 -168.6,-52.2 -168,-52.5ZM-163.5,-54 -163.9,-54.4 -165,-54.5 -166.1,-54.4 -166.5,-54 -166.1,-53.6 -165,-53.5 -163.9,-53.6 -163.5,-54ZM179.5,-51.8 179.1,-52.1 178,-52.2 176.9,-52.1 176.5,-51.8 176.9,-51.5 178,-51.4 179.1,-51.5 179.5,-51.8ZM-151.9,-58.5 -152.5,-58.5 -153.4,-58 -154.1,-57.1 -154.1,-56.5 -153.5,-56.5 -152.6,-57 -151.9,-57.9 -151.9,-58.5ZM-171.5,-63.5 -171.9,-63.9 -173,-64 -174.1,-63.9 -174.5,-63.5 -174.1,-63.1 -173,-63 -171.9,-63.1 -171.5,-63.5ZM-169.4,-60.3 -169.6,-60.5 -170,-60.6 -170.4,-60.5 -170.6,-60.3 -170.4,-60.1 -170,-60 -169.6,-60.1 -169.4,-60.3ZM-131.1,-52.5 -131,-53.4 -131.4,-54 -132.2,-54.1 -132.9,-53.5 -133,-52.6 -132.6,-52 -131.8,-51.9 -131.1,-52.5ZM-123.5,-48.1 -123.7,-48.9 -125,-50.2 -126.6,-51 -127.5,-50.9 -127.3,-50.1 -126,-48.8 -124.4,-48 -123.5,-48.1ZM-117.9,-33.3 -118,-33.4 -118.3,-33.5 -118.6,-33.4 -118.7,-33.3 -118.6,-33.2 -118.3,-33.1 -118,-33.2 -117.9,-33.3ZM-76.3,-18.2 -76.6,-18.4 -77.3,-18.6 -78,-18.4 -78.3,-18.2 -78,-18 -77.3,-17.8 -76.6,-18 -76.3,-18.2ZM-65.6,-18.2 -65.9,-18.4 -66.5,-18.5 -67.1,-18.4 -67.4,-18.2 -67.1,-18 -66.5,-17.9 -65.9,-18 -65.6,-18.2ZM-60.7,-10.5 -60.9,-10.9 -61.3,-11 -61.7,-10.9 -61.9,-10.5 -61.7,-10.1 -61.3,-10 -60.9,-10.1 -60.7,-10.5ZM-60.7,-14.5 -60.8,-14.9 -61,-15.1 -61.2,-14.9 -61.3,-14.5 -61.2,-14.1 -61,-13.9 -60.8,-14.1 -60.7,-14.5ZM-61.1,-16.2 -61.2,-16.4 -61.5,-16.5 -61.8,-16.4 -61.9,-16.2 -61.8,-16 -61.5,-15.9 -61.2,-16 -61.1,-16.2ZM-76.9,-24.3 -76.9,-25.4 -77.4,-25.6 -78.1,-24.7 -78.1,-23.6 -77.6,-23.4 -76.9,-24.3ZM-75.2,-23.4 -75.4,-23.7 -76,-23.8 -76.6,-23.7 -76.8,-23.4 -76.6,-23.1 -76,-23 -75.4,-23.1 -75.2,-23.4ZM-73.4,-22.5 -73.6,-22.7 -74,-22.8 -74.4,-22.7 -74.6,-22.5 -74.4,-22.3 -74,-22.2 -73.6,-22.3 -73.4,-22.5ZM-77.4,-26.6 -77.6,-26.8 -78,-26.9 -78.4,-26.8 -78.6,-26.6 -78.4,-26.4 -78,-26.3 -77.6,-26.4 -77.4,-26.6ZM-15,-28.1 -15.1,-28.4 -15.5,-28.5 -15.9,-28.4 -16,-28.1 -15.9,-27.8 -15.5,-27.7 -15.1,-27.8 -15,-28.1ZM-17.5,-28.5 -17.6,-28.7 -17.8,-28.8 -18,-28.7 -18.1,-28.5 -18,-28.3 -17.8,-28.2 -17.6,-28.3 -17.5,-28.5ZM-13.3,-28.8 -13.4,-29 -13.8,-29.1 -14.2,-29 -14.3,-28.8 -14.2,-28.6 -13.8,-28.5 -13.4,-28.6 -13.3,-28.8ZM-23.4,-16 -23.6,-16.4 -24,-16.6 -24.4,-16.4 -24.6,-16 -24.4,-15.6 -24,-15.4 -23.6,-15.6 -23.4,-16ZM-26,-38.6 -26.3,-38.8 -27,-38.9 -27.7,-38.8 -28,-38.6 -27.7,-38.4 -27,-38.3 -26.3,-38.4 -26,-38.6ZM-16.6,-32.7 -16.7,-32.9 -17,-33 -17.3,-32.9 -17.4,-32.7 -17.3,-32.5 -17,-32.4 -16.7,-32.5 -16.6,-32.7ZM-57.5,51.7 -57.9,51.3 -59,51.1 -60.1,51.3 -60.5,51.7 -60.1,52.1 -59,52.3 -57.9,52.1 -57.5,51.7ZM-35.1,54.8 -35.4,54.4 -36.4,53.9 -37.4,53.7 -37.9,53.8 -37.6,54.2 -36.6,54.7 -35.6,54.9 -35.1,54.8ZM-64.5,-32.3 -64.6,-32.5 -64.8,-32.6 -65,-32.5 -65.1,-32.3 -65,-32.1 -64.8,-32 -64.6,-32.1 -64.5,-32.3ZM-54.1,-47 -54.2,-47.2 -54.5,-47.3 -54.8,-47.2 -54.9,-47 -54.8,-46.8 -54.5,-46.7 -54.2,-46.8 -54.1,-47ZM-61.8,-46.4 -62.2,-46.7 -63,-46.8 -63.8,-46.7 -64.2,-46.4 -63.8,-46.1 -63,-46 -62.2,-46.1 -61.8,-46.4ZM-61,-49.1 -61.4,-49.5 -62.4,-49.8 -63.5,-49.9 -64,-49.7 -63.6,-49.3 -62.6,-49 -61.5,-48.9 -61,-49.1ZM70.7,49.3 70.3,48.9 69.5,48.7 68.7,48.9 68.3,49.3 68.7,49.7 69.5,49.9 70.3,49.7 70.7,49.3ZM57.9,20.3 57.8,20 57.5,19.9 57.2,20 57.1,20.3 57.2,20.6 57.5,20.7 57.8,20.6 57.9,20.3ZM55.9,21.1 55.8,20.8 55.5,20.7 55.2,20.8 55.1,21.1 55.2,21.4 55.5,21.5 55.8,21.4 55.9,21.1ZM44,11.7 43.9,11.4 43.5,11.3 43.1,11.4 43,11.7 43.1,12 43.5,12.1 43.9,12 44,11.7ZM55.9,4.6 55.8,4.4 55.5,4.3 55.2,4.4 55.1,4.6 55.2,4.8 55.5,4.9 55.8,4.8 55.9,4.6ZM73.7,-3.5 73.6,-5.3 73.4,-6 73.2,-5.3 73.1,-3.5 73.2,-1.7 73.4,-1 73.6,-1.7 73.7,-3.5ZM93.1,-12 93,-13.3 92.7,-13.8 92.4,-13.3 92.3,-12 92.4,-10.7 92.7,-10.2 93,-10.7 93.1,-12ZM93.8,-7 93.7,-7.6 93.5,-7.8 93.3,-7.6 93.2,-7 93.3,-6.4 93.5,-6.2 93.7,-6.4 93.8,-7ZM54.5,-12.5 54.2,-12.8 53.5,-12.9 52.8,-12.8 52.5,-12.5 52.8,-12.2 53.5,-12.1 54.2,-12.2 54.5,-12.5ZM15.4,-37.5 15,-38 14,-38.2 13,-38 12.6,-37.5 13,-37 14,-36.8 15,-37 15.4,-37.5ZM9.9,-40 9.6,-40.9 9,-41.3 8.4,-40.9 8.1,-40 8.4,-39.1 9,-38.7 9.6,-39.1 9.9,-40ZM9.6,-42.1 9.5,-42.7 9.1,-42.9 8.7,-42.7 8.6,-42.1 8.7,-41.5 9.1,-41.3 9.5,-41.5 9.6,-42.1ZM26.8,-35.2 26.3,-35.5 25,-35.6 23.7,-35.5 23.2,-35.2 23.7,-34.9 25,-34.8 26.3,-34.9 26.8,-35.2ZM34.8,-35 34.3,-35.4 33.2,-35.5 32.1,-35.4 31.6,-35 32.1,-34.6 33.2,-34.5 34.3,-34.6 34.8,-35ZM3.7,-39.6 3.5,-39.8 3,-39.9 2.5,-39.8 2.3,-39.6 2.5,-39.4 3,-39.3 3.5,-39.4 3.7,-39.6ZM-6.2,-58.2 -6.4,-58.6 -7,-58.8 -7.6,-58.6 -7.8,-58.2 -7.6,-57.8 -7,-57.6 -6.4,-57.8 -6.2,-58.2ZM-2.4,-59 -2.6,-59.3 -3,-59.4 -3.4,-59.3 -3.6,-59 -3.4,-58.7 -3,-58.6 -2.6,-58.7 -2.4,-59ZM-0.9,-60.4 -1,-60.8 -1.2,-61 -1.4,-60.8 -1.5,-60.4 -1.4,-60 -1.2,-59.8 -1,-60 -0.9,-60.4ZM-6.6,-62 -6.7,-62.2 -7,-62.3 -7.3,-62.2 -7.4,-62 -7.3,-61.8 -7,-61.7 -6.7,-61.8 -6.6,-62ZM12.2,-56.5 11.8,-56.9 11,-57.1 10.2,-56.9 9.8,-56.5 10.2,-56.1 11,-55.9 11.8,-56.1 12.2,-56.5ZM18.9,-57.4 18.8,-57.8 18.5,-58 18.2,-57.8 18.1,-57.4 18.2,-57 18.5,-56.8 18.8,-57 18.9,-57.4ZM23.5,-58.5 23.2,-58.8 22.5,-58.9 21.8,-58.8 21.5,-58.5 21.8,-58.2 22.5,-58.1 23.2,-58.2 23.5,-58.5ZM16.3,-69.2 15.8,-69.2 14.8,-68.7 13.9,-68.1 13.7,-67.7 14.2,-67.6 15.2,-68.1 16.1,-68.7 16.3,-69.2ZM20,-69.8 19.7,-70.1 19,-70.2 18.3,-70.1 18,-69.8 18.3,-69.5 19,-69.4 19.7,-69.5 20,-69.8ZM127.2,-33.4 127.1,-33.6 126.7,-33.7 126.3,-33.6 126.2,-33.4 126.3,-33.2 126.7,-33.1 127.1,-33.2 127.2,-33.4ZM131,-32 130.9,-32.6 130.5,-32.8 130.1,-32.6 130,-32 130.1,-31.4 130.5,-31.2 130.9,-31.4 131,-32ZM122,-18.8 121.9,-19.1 121.5,-19.2 121.1,-19.1 121,-18.8 121.1,-18.5 121.5,-18.4 121.9,-18.5 122,-18.8ZM126,-11.5 125.7,-12.3 125,-12.7 124.3,-12.3 124,-11.5 124.3,-10.7 125,-10.3 125.7,-10.7 126,-11.5ZM123.5,-10.7 122.9,-11.6 122.4,-11.4 122.5,-10.3 123.1,-9.4 123.6,-9.6 123.5,-10.7ZM120.3,-11.3 119.5,-11 118.1,-9.9 117,-8.5 116.7,-7.7 117.5,-8 118.9,-9.1 120,-10.5 120.3,-11.3ZM121.7,-12.5 121.6,-13.1 121.2,-13.3 120.8,-13.1 120.7,-12.5 120.8,-11.9 121.2,-11.7 121.6,-11.9 121.7,-12.5ZM123.1,-13.8 122.9,-14.1 122.5,-14.2 122.1,-14.1 121.9,-13.8 122.1,-13.5 122.5,-13.4 122.9,-13.5 123.1,-13.8ZM126.8,7.6 125.9,7.6 124.2,8.2 122.7,9.1 122.2,9.8 123.1,9.8 124.8,9.2 126.3,8.3 126.8,7.6ZM131.5,3.2 131.1,2.8 130,2.7 128.9,2.8 128.5,3.2 128.9,3.6 130,3.7 131.1,3.6 131.5,3.2ZM127.8,3.5 127.6,3.1 127,3 126.4,3.1 126.2,3.5 126.4,3.9 127,4 127.6,3.9 127.8,3.5ZM135.3,6 135.1,5.2 134.5,4.8 133.9,5.2 133.7,6 133.9,6.8 134.5,7.2 135.1,6.8 135.3,6ZM107,2.4 106.7,2 106,1.8 105.3,2 105,2.4 105.3,2.8 106,3 106.7,2.8 107,2.4ZM108.4,2.9 108.2,2.5 107.8,2.4 107.4,2.5 107.2,2.9 107.4,3.3 107.8,3.4 108.2,3.3 108.4,2.9ZM114.5,7 114.2,6.8 113.5,6.7 112.8,6.8 112.5,7 112.8,7.2 113.5,7.3 114.2,7.2 114.5,7ZM101.5,2.2 102.1,1 101.6,0.6 100.5,1.4 99.9,2.6 100.4,3 101.5,2.2ZM98,-1.1 97.9,-1.8 97.5,-2.1 97.1,-1.8 97,-1.1 97.1,-0.4 97.5,-0.1 97.9,-0.4 98,-1.1ZM132.3,0.8 132.1,0.5 131.5,0.4 130.9,0.5 130.7,0.8 130.9,1.1 131.5,1.2 132.1,1.1 132.3,0.8ZM131.1,8 130.9,7.3 130.5,7 130.1,7.3 129.9,8 130.1,8.7 130.5,9 130.9,8.7 131.1,8ZM147.5,42 147.4,41.7 147,41.6 146.6,41.7 146.5,42 146.6,42.3 147,42.4 147.4,42.3 147.5,42ZM-106,-75.5 -107.8,-76.3 -112,-76.7 -116.2,-76.3 -118,-75.5 -116.2,-74.7 -112,-74.3 -107.8,-74.7 -106,-75.5ZM-116,-76.7 -116.9,-77.3 -119,-77.6 -121.1,-77.3 -122,-76.7 -121.1,-76.1 -119,-75.8 -116.9,-76.1 -116,-76.7ZM-96.5,-75.7 -97.2,-76.3 -99,-76.5 -100.8,-76.3 -101.5,-75.7 -100.8,-75.1 -99,-74.9 -97.2,-75.1 -96.5,-75.7ZM-87.5,-79.8 -88.4,-80.9 -90.5,-81.3 -92.6,-80.9 -93.5,-79.8 -92.6,-78.7 -90.5,-78.3 -88.4,-78.7 -87.5,-79.8ZM-92.2,-73 -92.7,-73.8 -94,-74.2 -95.3,-73.8 -95.8,-73 -95.3,-72.2 -94,-71.8 -92.7,-72.2 -92.2,-73ZM-95,-69 -95.7,-69.6 -97.5,-69.8 -99.3,-69.6 -100,-69 -99.3,-68.4 -97.5,-68.2 -95.7,-68.4 -95,-69ZM-78,-62.2 -78.6,-62.6 -80,-62.8 -81.4,-62.6 -82,-62.2 -81.4,-61.8 -80,-61.6 -78.6,-61.8 -78,-62.2ZM-101,-79 -101.9,-79.4 -104,-79.6 -106.1,-79.4 -107,-79 -106.1,-78.6 -104,-78.4 -101.9,-78.6 -101,-79ZM-93.5,-76.8 -94.2,-77.2 -96,-77.3 -97.8,-77.2 -98.5,-76.8 -97.8,-76.4 -96,-76.3 -94.2,-76.4 -93.5,-76.8ZM-74,-77.5 -74.6,-77.8 -76,-77.9 -77.4,-77.8 -78,-77.5 -77.4,-77.2 -76,-77.1 -74.6,-77.2 -74,-77.5ZM63,-80.5 60.7,-81.2 55,-81.5 49.3,-81.2 47,-80.5 49.3,-79.8 55,-79.5 60.7,-79.8 63,-80.5ZM22,-79.5 21.1,-80.2 19,-80.5 16.9,-80.2 16,-79.5 16.9,-78.8 19,-78.5 21.1,-78.8 22,-79.5ZM24,-78.3 23.4,-78.7 22,-78.8 20.6,-78.7 20,-78.3 20.6,-77.9 22,-77.8 23.4,-77.9 24,-78.3ZM91,-80.5 90.1,-80.8 88,-80.9 85.9,-80.8 85,-80.5 85.9,-80.2 88,-80.1 90.1,-80.2 91,-80.5ZM98,-81 97.1,-81.4 95,-81.5 92.9,-81.4 92,-81 92.9,-80.6 95,-80.5 97.1,-80.6 98,-81ZM143,-75.2 142.1,-75.6 140,-75.8 137.9,-75.6 137,-75.2 137.9,-74.8 140,-74.6 142.1,-74.8 143,-75.2ZM153,-75 152.1,-75.4 150,-75.6 147.9,-75.4 147,-75 147.9,-74.6 150,-74.4 152.1,-74.6 153,-75ZM182,-71.3 181.1,-71.7 179,-71.9 176.9,-71.7 176,-71.3 176.9,-70.9 179,-70.7 181.1,-70.9 182,-71.3ZM162,-69.8 161.4,-70 160,-70.1 158.6,-70 158,-69.8 158.6,-69.6 160,-69.5 161.4,-69.6 162,-69.8ZM-165,-67.3 -165.3,-67.4 -166,-67.5 -166.7,-67.4 -167,-67.3 -166.7,-67.2 -166,-67.1 -165.3,-67.2 -165,-67.3ZM-20,-72.5 -20.6,-72.9 -22,-73.1 -23.4,-72.9 -24,-72.5 -23.4,-72.1 -22,-71.9 -20.6,-72.1 -20,-72.5ZM-23.5,-70.4 -23.9,-70.7 -25,-70.8 -26.1,-70.7 -26.5,-70.4 -26.1,-70.1 -25,-70 -23.9,-70.1 -23.5,-70.4ZM-18.5,-77 -18.9,-77.4 -20,-77.5 -21.1,-77.4 -21.5,-77 -21.1,-76.6 -20,-76.5 -18.9,-76.6 -18.5,-77ZM-63,-76.7 -63.9,-77 -66,-77.1 -68.1,-77 -69,-76.7 -68.1,-76.4 -66,-76.3 -63.9,-76.4 -63,-76.7ZM-53.8,-70.6 -54.2,-71 -55,-71.1 -55.8,-71 -56.2,-70.6 -55.8,-70.2 -55,-70.1 -54.2,-70.2 -53.8,-70.6ZM-58,62.8 -58.6,62.6 -60,62.5 -61.4,62.6 -62,62.8 -61.4,63 -60,63.1 -58.6,63 -58,62.8ZM-43.5,60.6 -43.9,60.4 -45,60.3 -46.1,60.4 -46.5,60.6 -46.1,60.8 -45,60.9 -43.9,60.8 -43.5,60.6ZM-67.5,71 -68.4,69.6 -70.5,69 -72.6,69.6 -73.5,71 -72.6,72.4 -70.5,73 -68.4,72.4 -67.5,71ZM-59,64.2 -59.3,64 -60,63.9 -60.7,64 -61,64.2 -60.7,64.4 -60,64.5 -59.3,64.4 -59,64.2ZM-97,72.2 -97.9,71.8 -100,71.7 -102.1,71.8 -103,72.2 -102.1,72.6 -100,72.7 -97.9,72.6 -97,72.2ZM-117,73.5 -117.9,73.2 -120,73.1 -122.1,73.2 -123,73.5 -122.1,73.8 -120,73.9 -117.9,73.8 -117,73.5ZM170.5,77.5 169.8,77.1 168,76.9 166.2,77.1 165.5,77.5 166.2,77.9 168,78.1 169.8,77.9 170.5,77.5ZM167.5,77.5 167.2,77.2 166.5,77.1 165.8,77.2 165.5,77.5 165.8,77.8 166.5,77.9 167.2,77.8 167.5,77.5ZM34.5,1 34.1,0 33,-0.4 31.9,0 31.5,1 31.9,2 33,2.4 34.1,2 34.5,1ZM30.1,6.6 30.6,4.2 30.5,3.1 29.9,4 29.1,6.4 28.6,8.8 28.7,9.9 29.3,9 30.1,6.6ZM35,11.9 34.6,10.2 34.2,9.5 34,10.3 34.2,12.1 34.6,13.8 35,14.5 35.2,13.7 35,11.9ZM108.6,-53 109.7,-54.6 110,-55.4 109.2,-55 107.8,-53.6 106.7,-52 106.4,-51.2 107.2,-51.6 108.6,-53ZM61.2,-45.2 60.8,-46 60,-46.4 59.2,-46 58.8,-45.2 59.2,-44.4 60,-44 60.8,-44.4 61.2,-45.2ZM78,-46.9 77.2,-47.1 75.4,-46.9 73.7,-46.5 73,-46.1 73.8,-45.9 75.6,-46.1 77.3,-46.5 78,-46.9ZM-97.3,-52.4 -96.9,-53.6 -97.2,-54.3 -98,-54.1 -98.7,-53 -99.1,-51.8 -98.8,-51.1 -98,-51.3 -97.3,-52.4ZM-118.5,-66 -119.2,-66.6 -121,-66.8 -122.8,-66.6 -123.5,-66 -122.8,-65.4 -121,-65.2 -119.2,-65.4 -118.5,-66ZM-111.2,-61.6 -112,-62 -114,-62.2 -116,-62 -116.8,-61.6 -116,-61.2 -114,-61 -112,-61.2 -111.2,-61.6ZM32.1,-61 31.9,-61.6 31.5,-61.8 31.1,-61.6 30.9,-61 31.1,-60.4 31.5,-60.2 31.9,-60.4 32.1,-61ZM36,-61.8 35.9,-62.4 35.5,-62.6 35.1,-62.4 35,-61.8 35.1,-61.2 35.5,-61 35.9,-61.2 36,-61.8ZM-68.9,15.8 -69.1,15.4 -69.5,15.3 -69.9,15.4 -70.1,15.8 -69.9,16.2 -69.5,16.3 -69.1,16.2 -68.9,15.8ZM14.8,-13 14.6,-13.4 14,-13.6 13.4,-13.4 13.2,-13 13.4,-12.6 14,-12.4 14.6,-12.6 14.8,-13ZM37.6,-12 37.5,-12.3 37.3,-12.4 37.1,-12.3 37,-12 37.1,-11.7 37.3,-11.6 37.5,-11.7 37.6,-12ZM36.4,-3.8 36.3,-4.4 36.1,-4.6 35.9,-4.4 35.8,-3.8 35.9,-3.2 36.1,-3 36.3,-3.2 36.4,-3.8ZM-84.9,-11.2 -84.9,-11.5 -85.3,-11.8 -85.8,-12 -86.1,-11.8 -86.1,-11.5 -85.7,-11.2 -85.2,-11 -84.9,-11.2ZM77.9,-42.5 77.6,-42.7 77,-42.8 76.4,-42.7 76.1,-42.5 76.4,-42.3 77,-42.2 77.6,-42.3 77.9,-42.5ZM60.8,-45.5 60.6,-46.1 60,-46.4 59.4,-46.1 59.2,-45.5 59.4,-44.9 60,-44.6 60.6,-44.9 60.8,-45.5Z" fill="none" stroke="#111" stroke-width="1.05" vector-effect="non-scaling-stroke" stroke-linejoin="round"/></defs></svg>
<svg class="map" style="left:234.30px;top:33.40px;width:291.80px;height:146.00px" viewBox="-180 -90 360 180" preserveAspectRatio="none"><rect x="-180" y="-90" width="360" height="180" fill="#b9b9ff"/><ellipse cx="-172" cy="-58" rx="14" ry="7" fill="#d7d7ff"/><path d="M-55,-52 -40,-49 -20,-48 -8,-50 -5,-56 -20,-57 -40,-57 -55,-56Z" fill="#d7d7ff"/><path d="M-15,-60 0,-58 12,-62 18,-68 10,-72 -10,-72 -20,-66Z" fill="#d7d7ff"/><ellipse cx="165" cy="-58" rx="14" ry="8" fill="#d7d7ff"/><ellipse cx="150" cy="-50" rx="10" ry="6" fill="#d7d7ff"/><ellipse cx="-117" cy="-26" rx="10" ry="6.5" fill="#d7d7ff"/><ellipse cx="-150" cy="-45" rx="20" ry="5" fill="#adadff"/><path d="M-95,-49 -83,-46 -67,-45 -67.5,-44.5 -67.8,-44.5 -70,-43.7 -70.6,-42.5 -70.3,-42.1 -71,-41.5 -71.5,-41.4 -74,-40.6 -74.2,-39.5 -75.5,-38.5 -75.9,-37 -75.9,-36.5 -77.3,-34.3 -79,-33.3 -81,-31.5 -81.3,-29.8 -80,-26.5 -80.5,-25.2 -81.3,-25.8 -82,-26.5 -82.7,-28 -83,-29 -84,-30 -85.5,-29.7 -87,-30.4 -89,-30.2 -89.5,-29.2 -90.5,-29.1 -92,-29.6 -94,-29.6 -95.5,-28.7 -97.2,-27.8 -97.5,-26 -97.7,-24 -97.6,-23.1 -98.7,-19.3 -103.1,-18.4 -104.5,-19.2 -105.5,-20 -105.3,-21.5 -106.5,-23.5 -108,-25.2 -109,-26.5 -110.6,-27.8 -112.2,-29.5 -113,-31 -114.8,-31.8 -114.3,-30 -113,-29 -112.2,-27.5 -111.3,-25.6 -110.5,-24.2 -109.5,-23 -109.8,-23.2 -112.2,-25.7 -112.2,-26 -113.2,-26.8 -114.1,-27.8 -114.3,-28.6 -116,-30.5 -116.7,-31.8 -117.1,-32.5 -118.5,-34 -120.6,-34.6 -121.9,-36.5 -122.5,-37.5 -123,-38 -123.8,-39.5 -124.2,-40.5 -124.1,-42 -124.5,-43 -124,-46 -124.7,-48.4 -123,-48.5 -123,-49Z" fill="#f3f3ff" fill-rule="evenodd"/><path d="M-100,-41.7 -100.1,-41.4 -100.1,-41.1 -100.2,-40.8 -100.4,-40.5 -100.5,-40.3 -100.7,-40 -100.9,-39.7 -101.2,-39.4 -101.4,-39.2 -101.7,-38.9 -102,-38.7 -102.4,-38.4 -102.7,-38.2 -103.1,-38 -103.5,-37.8 -103.9,-37.6 -104.4,-37.4 -104.9,-37.2 -105.3,-37 -105.8,-36.9 -106.3,-36.7 -106.9,-36.6 -107.4,-36.5 -108,-36.4 -108.5,-36.3 -109.1,-36.2 -109.7,-36.1 -110.2,-36.1 -110.8,-36 -111.4,-36 -112,-36 -112.6,-36 -113.2,-36 -113.8,-36.1 -114.3,-36.1 -114.9,-36.2 -115.5,-36.3 -116,-36.4 -116.6,-36.5 -117.1,-36.6 -117.7,-36.7 -118.2,-36.9 -118.7,-37 -119.1,-37.2 -119.6,-37.4 -120.1,-37.6 -120.5,-37.8 -120.9,-38 -121.3,-38.2 -121.6,-38.4 -122,-38.7 -122.3,-38.9 -122.6,-39.2 -122.8,-39.4 -123.1,-39.7 -123.3,-40 -123.5,-40.3 -123.6,-40.5 -123.8,-40.8 -123.9,-41.1 -123.9,-41.4 -124,-41.7 -124,-42 -124,-42.3 -123.9,-42.6 -123.9,-42.9 -123.8,-43.2 -123.6,-43.5 -123.5,-43.7 -123.3,-44 -123.1,-44.3 -122.8,-44.6 -122.6,-44.8 -122.3,-45.1 -122,-45.3 -121.6,-45.6 -121.3,-45.8 -120.9,-46 -120.5,-46.2 -120.1,-46.4 -119.6,-46.6 -119.1,-46.8 -118.7,-47 -118.2,-47.1 -117.7,-47.3 -117.1,-47.4 -116.6,-47.5 -116,-47.6 -115.5,-47.7 -114.9,-47.8 -114.3,-47.9 -113.8,-47.9 -113.2,-48 -112.6,-48 -112,-48 -111.4,-48 -110.8,-48 -110.2,-47.9 -109.7,-47.9 -109.1,-47.8 -108.5,-47.7 -108,-47.6 -107.4,-47.5 -106.9,-47.4 -106.3,-47.3 -105.8,-47.1 -105.3,-47 -104.9,-46.8 -104.4,-46.6 -103.9,-46.4 -103.5,-46.2 -103.1,-46 -102.7,-45.8 -102.4,-45.6 -102,-45.3 -101.7,-45.1 -101.4,-44.8 -101.2,-44.6 -100.9,-44.3 -100.7,-44 -100.5,-43.7 -100.4,-43.5 -100.2,-43.2 -100.1,-42.9 -100.1,-42.6 -100,-42.3 -100,-42Z" fill="#d7d7ff" fill-rule="evenodd"/><path d="M-80,-35.8 -80,-35.6 -80.1,-35.4 -80.2,-35.2 -80.2,-35 -80.3,-34.8 -80.5,-34.7 -80.6,-34.5 -80.8,-34.3 -80.9,-34.1 -81.1,-33.9 -81.3,-33.8 -81.6,-33.6 -81.8,-33.5 -82.1,-33.3 -82.3,-33.2 -82.6,-33 -82.9,-32.9 -83.2,-32.8 -83.6,-32.7 -83.9,-32.6 -84.2,-32.5 -84.6,-32.4 -84.9,-32.3 -85.3,-32.2 -85.7,-32.2 -86.1,-32.1 -86.4,-32.1 -86.8,-32 -87.2,-32 -87.6,-32 -88,-32 -88.4,-32 -88.8,-32 -89.2,-32 -89.6,-32.1 -89.9,-32.1 -90.3,-32.2 -90.7,-32.2 -91.1,-32.3 -91.4,-32.4 -91.8,-32.5 -92.1,-32.6 -92.4,-32.7 -92.8,-32.8 -93.1,-32.9 -93.4,-33 -93.7,-33.2 -93.9,-33.3 -94.2,-33.5 -94.4,-33.6 -94.7,-33.8 -94.9,-33.9 -95.1,-34.1 -95.2,-34.3 -95.4,-34.5 -95.5,-34.7 -95.7,-34.8 -95.8,-35 -95.8,-35.2 -95.9,-35.4 -96,-35.6 -96,-35.8 -96,-36 -96,-36.2 -96,-36.4 -95.9,-36.6 -95.8,-36.8 -95.8,-37 -95.7,-37.2 -95.5,-37.3 -95.4,-37.5 -95.2,-37.7 -95.1,-37.9 -94.9,-38.1 -94.7,-38.2 -94.4,-38.4 -94.2,-38.5 -93.9,-38.7 -93.7,-38.8 -93.4,-39 -93.1,-39.1 -92.8,-39.2 -92.4,-39.3 -92.1,-39.4 -91.8,-39.5 -91.4,-39.6 -91.1,-39.7 -90.7,-39.8 -90.3,-39.8 -89.9,-39.9 -89.6,-39.9 -89.2,-40 -88.8,-40 -88.4,-40 -88,-40 -87.6,-40 -87.2,-40 -86.8,-40 -86.4,-39.9 -86.1,-39.9 -85.7,-39.8 -85.3,-39.8 -84.9,-39.7 -84.6,-39.6 -84.2,-39.5 -83.9,-39.4 -83.6,-39.3 -83.2,-39.2 -82.9,-39.1 -82.6,-39 -82.3,-38.8 -82.1,-38.7 -81.8,-38.5 -81.6,-38.4 -81.3,-38.2 -81.1,-38.1 -80.9,-37.9 -80.8,-37.7 -80.6,-37.5 -80.5,-37.3 -80.3,-37.2 -80.2,-37 -80.2,-36.8 -80.1,-36.6 -80,-36.4 -80,-36.2 -80,-36Z" fill="#d7d7ff" fill-rule="evenodd"/><path d="M-73,-40.9 -74,-40.6 -74.2,-39.5 -75.5,-38.5 -75.5,-38.4 -75.6,-38.4 -75.9,-38.3 -76.1,-38.2 -76.3,-38.2 -76.5,-38.1 -76.8,-38.1 -77,-38.1 -77.3,-38 -77.5,-38 -77.8,-38 -78,-38 -78.2,-38 -78.5,-38 -78.7,-38 -79,-38.1 -79.2,-38.1 -79.5,-38.1 -79.7,-38.2 -79.9,-38.2 -80.1,-38.3 -80.4,-38.4 -80.6,-38.4 -80.8,-38.5 -81,-38.6 -81.2,-38.7 -81.4,-38.8 -81.5,-38.9 -81.7,-39 -81.9,-39.1 -82,-39.2 -82.2,-39.3 -82.3,-39.5 -82.4,-39.6 -82.5,-39.7 -82.6,-39.9 -82.7,-40 -82.8,-40.1 -82.9,-40.3 -82.9,-40.4 -82.9,-40.6 -83,-40.7 -83,-40.9 -83,-41 -83,-41.1 -83,-41.3 -82.9,-41.4 -82.9,-41.6 -82.9,-41.7 -82.8,-41.9 -82.7,-42 -82.6,-42.1 -82.5,-42.3 -82.4,-42.4 -82.3,-42.5 -82.2,-42.7 -82,-42.8 -81.9,-42.9 -81.7,-43 -81.5,-43.1 -81.4,-43.2 -81.2,-43.3 -81,-43.4 -80.8,-43.5 -80.6,-43.6 -80.4,-43.6 -80.1,-43.7 -79.9,-43.8 -79.7,-43.8 -79.5,-43.9 -79.2,-43.9 -79,-43.9 -78.7,-44 -78.5,-44 -78.2,-44 -78,-44 -77.8,-44 -77.5,-44 -77.3,-44 -77,-43.9 -76.8,-43.9 -76.5,-43.9 -76.3,-43.8 -76.1,-43.8 -75.9,-43.7 -75.6,-43.6 -75.4,-43.6 -75.2,-43.5 -75,-43.4 -74.8,-43.3 -74.6,-43.2 -74.5,-43.1 -74.3,-43 -74.1,-42.9 -74,-42.8 -73.8,-42.7 -73.7,-42.5 -73.6,-42.4 -73.5,-42.3 -73.4,-42.1 -73.3,-42 -73.2,-41.9 -73.1,-41.7 -73.1,-41.6 -73.1,-41.4 -73,-41.3 -73,-41.1 -73,-41Z" fill="#c8c8ff" fill-rule="evenodd"/><ellipse cx="-90" cy="-25" rx="7" ry="4" fill="#9b9bff"/><ellipse cx="-73" cy="-15" rx="13" ry="5" fill="#9b9bff"/><ellipse cx="-80" cy="-10" rx="6" ry="5" fill="#7d7dff"/><ellipse cx="-75" cy="-5" rx="5" ry="5" fill="#3a3aff"/><path d="M-180,-6.5 -140,-6.5 -110,-7.5 -90,-8 -85,-10 -90,-13 -110,-13 -140,-12.5 -180,-12.5Z" fill="#9b9bff"/><ellipse cx="-125" cy="-2.5" rx="18" ry="2.5" fill="#d7d7ff"/><ellipse cx="-160" cy="-2" rx="14" ry="2" fill="#cbcbff"/><ellipse cx="160" cy="-20" rx="24" ry="4.5" fill="#d7d7ff"/><ellipse cx="167" cy="-20" rx="12" ry="2.5" fill="#efefff"/><ellipse cx="175" cy="-35" rx="12" ry="5" fill="#adadff"/><ellipse cx="-50" cy="-24" rx="9" ry="3.5" fill="#d7d7ff"/><ellipse cx="-30" cy="-20" rx="14" ry="4" fill="#b0b0ff"/><path d="M-62,-2 -45,-2 -20,-1 0,2 10,6 30,6 35,-5 30,-20 10,-25 -5,-24 -20,-22 -35,-20 -50,-15 -62,-10Z" fill="#9b9bff"/><path d="M-58,-3 -40,-2 -20,0 0,3 10,6 28,6 30,-8 20,-18 0,-22 -15,-21 -30,-18 -45,-13 -58,-8Z" fill="#7d7dff"/><path d="M-48,-4 -30,-2 -10,2 10,6 28,6 28,-6 15,-16 0,-19 -15,-18 -30,-15 -45,-9Z" fill="#5c5cff"/><path d="M-40,-5 -28,-3 -18,-1 -8,2 10,5 28,5 28,-4 12,-11 0,-15 -15,-15 -28,-12 -40,-9Z" fill="#1c1cff"/><path d="M-18,-6 -8,-4 0,-3.5 10,-2.5 12,-6 5,-8 -5,-8.5 -15,-8.2Z" fill="#0f9637"/><path d="M8,-2 20,0 28,2 28,-3 18,-5 10,-5Z" fill="#0a37b9"/><ellipse cx="15" cy="-17" rx="2.5" ry="2" fill="#4bc81e"/><ellipse cx="-3" cy="-6" rx="6" ry="1.5" fill="#2dbe19"/><path d="M-13.9,-26.7 -13,-27.7 -11.5,-28.2 -10,-29.5 -9.8,-31 -9.6,-32 -8.5,-33.2 -6.8,-34 -6.4,-34.8 10.3,-33.6 10.3,-33.5 11.5,-33.1 12,-32.9 15.5,-31.5 16.5,-31.2 19,-30.3 20,-31.5 20,-32.3 22.5,-32.8 23.5,-32.3 25,-31.6 27,-31.3 29,-30.9 31,-31.5 32.3,-31.3 34.2,-31.3 34.3,-30 34.9,-29.5 34.2,-28 33.6,-27.9 33,-29.5 32.5,-29.9 32.7,-28.5 33.9,-27 35,-24.8 35,-20 -16.5,-20 -16.8,-20.5Z" fill="#a7a7ff" fill-rule="evenodd"/><ellipse cx="45" cy="-25" rx="12" ry="8" fill="#7d7dff"/><ellipse cx="55" cy="-18" rx="8" ry="5" fill="#7d7dff"/><ellipse cx="45" cy="-12" rx="10" ry="4" fill="#5c5cff"/><ellipse cx="36" cy="-30" rx="5" ry="4" fill="#5c5cff"/><ellipse cx="65" cy="-10" rx="12" ry="10" fill="#9595ff"/><path d="M17.7,-60.7 18.8,-60 18.3,-59.2 16.5,-58.5 16.5,-57 15.8,-56.1 14.5,-56 12.8,-55.5 12.5,-56.4 11.8,-57.7 11,-58.8 10.5,-59.6 10,-59 8,-58 6.5,-58.1 5.5,-58.8 5,-60 5,-61 5.4,-62ZM23.9,-60.1 23,-60 22.4,-60.3ZM40,-58 40,-45 27.4,-37.4 27.3,-37.5 26.5,-38.5 26.3,-40 27.5,-40.3 29,-41 28.6,-41.1 27,-40.5 26,-40.8 24,-40.8 23,-40.3 22.8,-39.5 24,-38 23,-37.5 22.5,-36.5 21.8,-36.9 21,-37.7 21.2,-38.3 20.2,-39.6 19.4,-41.8 18,-42.7 16,-43.5 15,-44.5 13.7,-45.6 12.3,-45.3 12.5,-44 14,-42.5 15.3,-42 16,-41.4 18.5,-40.2 17.5,-40.3 16.6,-38.8 16,-38 15.7,-38 15.8,-40 14,-40.8 12,-41.9 10.5,-43 9.5,-44 8.8,-44.4 7.5,-43.8 6.5,-43.1 5,-43.4 3.2,-43.2 3.2,-42 2,-41.3 0.5,-40.6 -0.3,-39.5 0.2,-38.7 -0.7,-37.6 -2.1,-36.7 -4.4,-36.7 -5.6,-36 -6.3,-36.8 -7.4,-37.2 -9,-37 -8.8,-38.5 -9.5,-39 -8.8,-41 -8.8,-42.8 -8,-43.7 -5,-43.5 -1.8,-43.4 -1.2,-46 -2.5,-47.3 -4.7,-48.4 -3,-48.8 -1.5,-48.7 -1.3,-49.7 0,-49.6 1.5,-50.5 2.5,-51.1 3.5,-51.5 4.5,-52.5 5,-53.3 7,-53.5 8.5,-53.8 8.8,-54.5 8.5,-55.5 8.2,-57 10.5,-57.7 10.2,-56 10.8,-55.5 11,-54 13,-54.4 14,-54 16,-54.4 18,-54.8 19.5,-54.4 21,-55 21,-57 22,-57.5 23.5,-57 24.3,-57.3 23.7,-58.8 24.5,-59.4 26,-59.6 26.8,-59.8Z" fill="#a7a7ff" fill-rule="evenodd"/><ellipse cx="25" cy="-47" rx="8" ry="5" fill="#9595ff"/><ellipse cx="24" cy="-38.5" rx="2.5" ry="2" fill="#3a3aff"/><ellipse cx="55" cy="-45" rx="4" ry="3" fill="#3a3aff"/><ellipse cx="57" cy="-45" rx="1.5" ry="1.5" fill="#ff9600"/><path d="M40,-12 55,-22 65,-25 75,-20 80,-12 85,-20 92,-22 100,-15 108,-5 105,10 80,12 55,10 42,5Z" fill="#9292ff"/><ellipse cx="68" cy="-13" rx="8" ry="9" fill="#7d7dff"/><ellipse cx="88" cy="-15" rx="7" ry="6" fill="#7d7dff"/><path d="M62,-25 70,-30 80,-32 90,-28 98,-26 100,-20 95,-12 85,-8 78,-4 72,-8 65,-15Z" fill="#7d7dff"/><path d="M68,-26 75,-31 86,-28 92,-25 90,-20 82,-14 78,-8 74,-14 70,-20Z" fill="#1c1cff"/><path d="M72,-29 78,-30.5 86,-26.5 90,-24 88,-22 80,-24.5 74,-26Z" fill="#0fb414"/><ellipse cx="78" cy="-20" rx="3" ry="5" fill="#b9b9ff"/><path d="M106,-31.8 106,-31.5 105.9,-31.3 105.8,-31 105.7,-30.8 105.6,-30.5 105.5,-30.3 105.3,-30.1 105.1,-29.9 104.9,-29.6 104.7,-29.4 104.5,-29.2 104.2,-29 104,-28.8 103.7,-28.6 103.4,-28.5 103,-28.3 102.7,-28.1 102.4,-28 102,-27.8 101.6,-27.7 101.2,-27.6 100.8,-27.5 100.4,-27.4 100,-27.3 99.6,-27.2 99.2,-27.1 98.8,-27.1 98.3,-27.1 97.9,-27 97.4,-27 97,-27 96.6,-27 96.1,-27 95.7,-27.1 95.2,-27.1 94.8,-27.1 94.4,-27.2 94,-27.3 93.6,-27.4 93.2,-27.5 92.8,-27.6 92.4,-27.7 92,-27.8 91.6,-28 91.3,-28.1 91,-28.3 90.6,-28.5 90.3,-28.6 90,-28.8 89.8,-29 89.5,-29.2 89.3,-29.4 89.1,-29.6 88.9,-29.9 88.7,-30.1 88.5,-30.3 88.4,-30.5 88.3,-30.8 88.2,-31 88.1,-31.3 88,-31.5 88,-31.8 88,-32 88,-32.2 88,-32.5 88.1,-32.7 88.2,-33 88.3,-33.2 88.4,-33.5 88.5,-33.7 88.7,-33.9 88.9,-34.1 89.1,-34.4 89.3,-34.6 89.5,-34.8 89.8,-35 90,-35.2 90.3,-35.4 90.6,-35.5 91,-35.7 91.3,-35.9 91.6,-36 92,-36.2 92.4,-36.3 92.8,-36.4 93.2,-36.5 93.6,-36.6 94,-36.7 94.4,-36.8 94.8,-36.9 95.2,-36.9 95.7,-36.9 96.1,-37 96.6,-37 97,-37 97.4,-37 97.9,-37 98.3,-36.9 98.8,-36.9 99.2,-36.9 99.6,-36.8 100,-36.7 100.4,-36.6 100.8,-36.5 101.2,-36.4 101.6,-36.3 102,-36.2 102.4,-36 102.7,-35.9 103,-35.7 103.4,-35.5 103.7,-35.4 104,-35.2 104.2,-35 104.5,-34.8 104.7,-34.6 104.9,-34.4 105.1,-34.1 105.3,-33.9 105.5,-33.7 105.6,-33.5 105.7,-33.2 105.8,-33 105.9,-32.7 106,-32.5 106,-32.2 106,-32Z" fill="#ffffff" fill-rule="evenodd"/><path d="M116,-41.8 115.9,-41.6 115.8,-41.4 115.7,-41.2 115.5,-41 115.3,-40.8 115.1,-40.7 114.8,-40.5 114.5,-40.3 114.1,-40.1 113.7,-39.9 113.3,-39.8 112.9,-39.6 112.4,-39.5 111.9,-39.3 111.3,-39.2 110.7,-39 110.2,-38.9 109.5,-38.8 108.9,-38.7 108.2,-38.6 107.5,-38.5 106.8,-38.4 106.1,-38.3 105.4,-38.2 104.6,-38.2 103.9,-38.1 103.1,-38.1 102.3,-38 101.6,-38 100.8,-38 100,-38 99.2,-38 98.4,-38 97.7,-38 96.9,-38.1 96.1,-38.1 95.4,-38.2 94.6,-38.2 93.9,-38.3 93.2,-38.4 92.5,-38.5 91.8,-38.6 91.1,-38.7 90.5,-38.8 89.8,-38.9 89.3,-39 88.7,-39.2 88.1,-39.3 87.6,-39.5 87.1,-39.6 86.7,-39.8 86.3,-39.9 85.9,-40.1 85.5,-40.3 85.2,-40.5 84.9,-40.7 84.7,-40.8 84.5,-41 84.3,-41.2 84.2,-41.4 84.1,-41.6 84,-41.8 84,-42 84,-42.2 84.1,-42.4 84.2,-42.6 84.3,-42.8 84.5,-43 84.7,-43.2 84.9,-43.3 85.2,-43.5 85.5,-43.7 85.9,-43.9 86.3,-44.1 86.7,-44.2 87.1,-44.4 87.6,-44.5 88.1,-44.7 88.7,-44.8 89.3,-45 89.8,-45.1 90.5,-45.2 91.1,-45.3 91.8,-45.4 92.5,-45.5 93.2,-45.6 93.9,-45.7 94.6,-45.8 95.4,-45.8 96.1,-45.9 96.9,-45.9 97.7,-46 98.4,-46 99.2,-46 100,-46 100.8,-46 101.6,-46 102.3,-46 103.1,-45.9 103.9,-45.9 104.6,-45.8 105.4,-45.8 106.1,-45.7 106.8,-45.6 107.5,-45.5 108.2,-45.4 108.9,-45.3 109.5,-45.2 110.2,-45.1 110.7,-45 111.3,-44.8 111.9,-44.7 112.4,-44.5 112.9,-44.4 113.3,-44.2 113.7,-44.1 114.1,-43.9 114.5,-43.7 114.8,-43.5 115.1,-43.3 115.3,-43.2 115.5,-43 115.7,-42.8 115.8,-42.6 115.9,-42.4 116,-42.2 116,-42Z" fill="#d7d7ff" fill-rule="evenodd"/><path d="M95,-32 102,-42 112,-46 124,-47 132,-43 134,-35 128,-26 120,-18 110,-15 98,-20Z" fill="#5c5cff"/><path d="M100,-30 108,-40 118,-44 126,-43 129,-36 124,-28 116,-21 106,-21Z" fill="#0e0efc"/><path d="M104,-28 111,-37 118,-42 125,-42 126,-37 121,-30 115,-25 108,-25Z" fill="#0f9637"/><ellipse cx="117" cy="-36" rx="5" ry="4" fill="#64cd23"/><ellipse cx="106" cy="-29.5" rx="2.5" ry="2" fill="#4bc81e"/><path d="M95,-25 105,-24 110,-18 108,-10 100,-5 95,-10Z" fill="#3a3aff"/><path d="M93,-10 105,-8 118,-8 132,-3 135,6 118,10 105,9 95,3Z" fill="#5c5cff"/><ellipse cx="110" cy="0" rx="14" ry="6" fill="#2b2bff"/><ellipse cx="130" cy="-28" rx="12" ry="8" fill="#8989ff"/><ellipse cx="140" cy="-38" rx="10" ry="6" fill="#9b9bff"/><ellipse cx="125" cy="-15" rx="10" ry="7" fill="#9b9bff"/><path d="M100,10 125,10 125,20 110,22 100,18Z" fill="#9b9bff"/><ellipse cx="90" cy="29" rx="10" ry="2.5" fill="#d7d7ff"/><ellipse cx="55" cy="15" rx="6" ry="4" fill="#aaaaff"/><path d="M-180,3 -160,4 -140,7 -135,11 -150,14 -180,12Z" fill="#9b9bff"/><ellipse cx="-100" cy="27" rx="23" ry="6" fill="#d7d7ff"/><ellipse cx="-97" cy="27" rx="12" ry="3" fill="#ebebff"/><ellipse cx="-10" cy="23" rx="20" ry="8" fill="#d7d7ff"/><ellipse cx="-12" cy="23" rx="12" ry="4" fill="#e7e7ff"/><path d="M-71.5,-10 -71.2,-9.5 -71.1,-9.9 -58.1,-6.9 -58,-6.8 -56,-5.9 -54,-5.8 -52.5,-5 -51.5,-4 -50.8,-2 -50,-1.5 -50,-0.2 -48.5,1 -47,0.6 -44.5,2.5 -42,2.8 -40,2.8 -38,3.8 -37,5 -35.3,5.5 -35.2,5.9 -36.4,10.4 -36.5,10.5 -37.5,12.5 -39,14 -39,17.5 -39.8,19.5 -40.5,21.5 -42,23 -45,23.7 -47,24.5 -48.5,26 -48.8,28.5 -50,30 -51,31 -52.5,33 -53.5,34 -55,34.9 -56.5,34.8 -58.3,34 -58.5,34.5 -57.5,35.8 -70,40 -71.7,33.1 -71.5,32.5 -71.4,28 -70.5,25 -70.5,23 -70.2,18.5 -71.5,17.5 -73,16.5 -76,14 -76.5,12.5 -77.5,11 -78.8,8.5 -80,5 -80,2.5 -80,-0.8 -78.9,-1.5 -78.5,-2.5 -77.3,-3.8 -77.4,-6.5 -77.8,-7.5 -77.3,-8.5 -76.5,-9.5 -75.5,-10.5 -74.9,-10.8Z" fill="#b0b0ff" fill-rule="evenodd"/><path d="M-43,20.2 -43,20.5 -43.1,20.7 -43.1,21 -43.1,21.2 -43.2,21.5 -43.3,21.7 -43.4,21.9 -43.5,22.1 -43.6,22.4 -43.7,22.6 -43.8,22.8 -44,23 -44.1,23.2 -44.3,23.4 -44.5,23.5 -44.5,23.6 -45,23.7 -47,24.5 -47.5,25 -47.5,25 -47.8,25 -48,25 -48.2,25 -48.5,25 -48.7,24.9 -49,24.9 -49.2,24.9 -49.5,24.8 -49.7,24.7 -49.9,24.6 -50.1,24.5 -50.4,24.4 -50.6,24.3 -50.8,24.2 -51,24 -51.2,23.9 -51.4,23.7 -51.5,23.5 -51.7,23.4 -51.9,23.2 -52,23 -52.2,22.8 -52.3,22.6 -52.4,22.4 -52.5,22.1 -52.6,21.9 -52.7,21.7 -52.8,21.5 -52.9,21.2 -52.9,21 -52.9,20.7 -53,20.5 -53,20.2 -53,20 -53,19.8 -53,19.5 -52.9,19.3 -52.9,19 -52.9,18.8 -52.8,18.5 -52.7,18.3 -52.6,18.1 -52.5,17.9 -52.4,17.6 -52.3,17.4 -52.2,17.2 -52,17 -51.9,16.8 -51.7,16.6 -51.5,16.5 -51.4,16.3 -51.2,16.1 -51,16 -50.8,15.8 -50.6,15.7 -50.4,15.6 -50.1,15.5 -49.9,15.4 -49.7,15.3 -49.5,15.2 -49.2,15.1 -49,15.1 -48.7,15.1 -48.5,15 -48.2,15 -48,15 -47.8,15 -47.5,15 -47.3,15.1 -47,15.1 -46.8,15.1 -46.5,15.2 -46.3,15.3 -46.1,15.4 -45.9,15.5 -45.6,15.6 -45.4,15.7 -45.2,15.8 -45,16 -44.8,16.1 -44.6,16.3 -44.5,16.5 -44.3,16.6 -44.1,16.8 -44,17 -43.8,17.2 -43.7,17.4 -43.6,17.6 -43.5,17.9 -43.4,18.1 -43.3,18.3 -43.2,18.5 -43.1,18.8 -43.1,19 -43.1,19.3 -43,19.5 -43,19.8 -43,20Z" fill="#ebebff" fill-rule="evenodd"/><path d="M-60,25.4 -60,25.8 -60.1,26.2 -60.1,26.6 -60.1,26.9 -60.2,27.3 -60.3,27.7 -60.4,28.1 -60.5,28.4 -60.6,28.8 -60.7,29.1 -60.8,29.4 -61,29.8 -61.1,30.1 -61.3,30.4 -61.5,30.7 -61.6,30.9 -61.8,31.2 -62,31.4 -62.2,31.7 -62.4,31.9 -62.6,32.1 -62.9,32.2 -63.1,32.4 -63.3,32.5 -63.5,32.7 -63.8,32.8 -64,32.8 -64.3,32.9 -64.5,33 -64.8,33 -65,33 -65.2,33 -65.5,33 -65.7,32.9 -66,32.8 -66.2,32.8 -66.5,32.7 -66.7,32.5 -66.9,32.4 -67.1,32.2 -67.4,32.1 -67.6,31.9 -67.8,31.7 -68,31.4 -68.2,31.2 -68.4,30.9 -68.5,30.7 -68.7,30.4 -68.9,30.1 -69,29.8 -69.2,29.4 -69.3,29.1 -69.4,28.8 -69.5,28.4 -69.6,28.1 -69.7,27.7 -69.8,27.3 -69.9,26.9 -69.9,26.6 -69.9,26.2 -70,25.8 -70,25.4 -70,25 -70,24.6 -70,24.2 -69.9,23.8 -69.9,23.4 -69.9,23.1 -69.8,22.7 -69.7,22.3 -69.6,21.9 -69.5,21.6 -69.4,21.2 -69.3,20.9 -69.2,20.6 -69,20.2 -68.9,19.9 -68.7,19.6 -68.5,19.3 -68.4,19.1 -68.2,18.8 -68,18.6 -67.8,18.3 -67.6,18.1 -67.4,17.9 -67.1,17.8 -66.9,17.6 -66.7,17.5 -66.5,17.3 -66.2,17.2 -66,17.2 -65.7,17.1 -65.5,17 -65.2,17 -65,17 -64.8,17 -64.5,17 -64.3,17.1 -64,17.2 -63.8,17.2 -63.5,17.3 -63.3,17.5 -63.1,17.6 -62.9,17.8 -62.6,17.9 -62.4,18.1 -62.2,18.3 -62,18.6 -61.8,18.8 -61.6,19.1 -61.5,19.3 -61.3,19.6 -61.1,19.9 -61,20.2 -60.8,20.6 -60.7,20.9 -60.6,21.2 -60.5,21.6 -60.4,21.9 -60.3,22.3 -60.2,22.7 -60.1,23.1 -60.1,23.4 -60.1,23.8 -60,24.2 -60,24.6 -60,25Z" fill="#d7d7ff" fill-rule="evenodd"/><path d="M39.6,10.1 40,10.8 40,15.8 39.3,16.8 37,18 35.5,21.5 35.5,24 33,25.5 32.9,26 32.4,29 30.9,30.5 30,31.3 28.2,32.7 27,33.6 25.7,34 22.5,34 20,34.8 18.8,34.4 18.4,34.2 18.2,32.5 17.3,30.5 16.5,28.6 15.2,27 14.5,22.5 13.2,20 12,18 12,15.3 12.1,15Z" fill="#ebebff" fill-rule="evenodd"/><path d="M31,28.2 31,28.5 30.9,28.7 30.9,29 30.8,29.2 30.7,29.5 30.6,29.7 30.5,29.9 30.4,30.1 30.3,30.4 30.1,30.6 30,30.8 29.8,31 29.6,31.2 29.4,31.4 29.2,31.5 29,31.7 28.8,31.9 28.6,32 28.3,32.2 28.1,32.3 27.8,32.4 27.6,32.5 27.3,32.6 27,32.7 26.7,32.8 26.5,32.9 26.2,32.9 25.9,32.9 25.6,33 25.3,33 25,33 24.7,33 24.4,33 24.1,32.9 23.8,32.9 23.5,32.9 23.3,32.8 23,32.7 22.7,32.6 22.4,32.5 22.2,32.4 21.9,32.3 21.7,32.2 21.4,32 21.2,31.9 21,31.7 20.8,31.5 20.6,31.4 20.4,31.2 20.2,31 20,30.8 19.9,30.6 19.7,30.4 19.6,30.1 19.5,29.9 19.4,29.7 19.3,29.5 19.2,29.2 19.1,29 19.1,28.7 19,28.5 19,28.2 19,28 19,27.8 19,27.5 19.1,27.3 19.1,27 19.2,26.8 19.3,26.5 19.4,26.3 19.5,26.1 19.6,25.9 19.7,25.6 19.9,25.4 20,25.2 20.2,25 20.4,24.8 20.6,24.6 20.8,24.5 21,24.3 21.2,24.1 21.4,24 21.7,23.8 21.9,23.7 22.2,23.6 22.4,23.5 22.7,23.4 23,23.3 23.3,23.2 23.5,23.1 23.8,23.1 24.1,23.1 24.4,23 24.7,23 25,23 25.3,23 25.6,23 25.9,23.1 26.2,23.1 26.5,23.1 26.7,23.2 27,23.3 27.3,23.4 27.6,23.5 27.8,23.6 28.1,23.7 28.3,23.8 28.6,24 28.8,24.1 29,24.3 29.2,24.5 29.4,24.6 29.6,24.8 29.8,25 30,25.2 30.1,25.4 30.3,25.6 30.4,25.9 30.5,26.1 30.6,26.3 30.7,26.5 30.8,26.8 30.9,27 30.9,27.3 31,27.5 31,27.8 31,28Z" fill="#ffffff" fill-rule="evenodd"/><path d="M114.2,21.8 115,21.5 116.7,20.6 118.5,20.3 120,20 121.3,19.5 122.2,18 123.5,17 125,15 126,14 127.7,14.3 128.5,14.9 129.5,14.8 130,13.2 131,12.2 133,11.3 135.5,12 136.8,12.2 135.5,14.8 137.3,16 139,16.8 140,17.7 141.5,17 141.5,15 141.6,12.8 142,11.5 142.5,10.7 143.5,13.5 144,14.3 145.3,14.8 145.4,16 146,17 146.3,19 148,19.8 149,20.5 150.8,22.5 151.5,24 153,25 153.6,28 153,31 152.5,32.3 151.2,33.9 150.2,35.5 150,37.5 148,37.8 146.3,39 145,38 143.5,38.8 141.5,38.3 140,37.5 139.5,36.5 138.5,35.5 137.5,35.5 137.8,34 137.8,32.7 136,34.5 135.6,34.8 134,32.5 131,31.5 129,31.7 126,32.3 123.5,33.9 120,34 118,35 116.5,35 115,34.3 115.7,33.5 115.7,31.8 115,29.5 114,26.5 113.5,24.5 113.5,22Z" fill="#f7f7ff" fill-rule="evenodd"/><path d="M150,25.3 150,25.6 149.9,25.9 149.8,26.2 149.7,26.5 149.6,26.7 149.4,27 149.2,27.3 149,27.6 148.8,27.8 148.6,28.1 148.3,28.3 148,28.6 147.7,28.8 147.4,29 147.1,29.2 146.7,29.4 146.3,29.6 146,29.8 145.6,30 145.1,30.1 144.7,30.3 144.3,30.4 143.8,30.5 143.4,30.6 142.9,30.7 142.4,30.8 142,30.9 141.5,30.9 141,31 140.5,31 140,31 139.5,31 139,31 138.5,30.9 138,30.9 137.6,30.8 137.1,30.7 136.6,30.6 136.2,30.5 135.7,30.4 135.3,30.3 134.9,30.1 134.4,30 134,29.8 133.7,29.6 133.3,29.4 132.9,29.2 132.6,29 132.3,28.8 132,28.6 131.7,28.3 131.4,28.1 131.2,27.8 131,27.6 130.8,27.3 130.6,27 130.4,26.7 130.3,26.5 130.2,26.2 130.1,25.9 130,25.6 130,25.3 130,25 130,24.7 130,24.4 130.1,24.1 130.2,23.8 130.3,23.5 130.4,23.3 130.6,23 130.8,22.7 131,22.4 131.2,22.2 131.4,21.9 131.7,21.7 132,21.4 132.3,21.2 132.6,21 132.9,20.8 133.3,20.6 133.7,20.4 134,20.2 134.4,20 134.9,19.9 135.3,19.7 135.7,19.6 136.2,19.5 136.6,19.4 137.1,19.3 137.6,19.2 138,19.1 138.5,19.1 139,19 139.5,19 140,19 140.5,19 141,19 141.5,19.1 142,19.1 142.4,19.2 142.9,19.3 143.4,19.4 143.8,19.5 144.3,19.6 144.7,19.7 145.1,19.9 145.6,20 146,20.2 146.3,20.4 146.7,20.6 147.1,20.8 147.4,21 147.7,21.2 148,21.4 148.3,21.7 148.6,21.9 148.8,22.2 149,22.4 149.2,22.7 149.4,23 149.6,23.3 149.7,23.5 149.8,23.8 149.9,24.1 150,24.4 150,24.7 150,25Z" fill="#e3e3ff" fill-rule="evenodd"/><ellipse cx="47" cy="19" rx="2.5" ry="7" fill="#ebebff"/><path d="M-180,40 -120,44 -60,45 0,43 60,40 120,40 180,42 180,68 -180,72Z" fill="#acacff"/><ellipse cx="-130" cy="58" rx="30" ry="8" fill="#a1a1ff"/><ellipse cx="-10" cy="55" rx="30" ry="8" fill="#a1a1ff"/><ellipse cx="80" cy="50" rx="35" ry="7" fill="#a1a1ff"/><ellipse cx="150" cy="60" rx="15" ry="4" fill="#a4a4ff"/><path d="M-131.6 44.9h3.4v1.4h-3.4zM-1.6 57.6h3.1v2.2h-3.1zM-146.2 71.1h3.6v1.6h-3.6zM-19.7 48.9h2.1v2.4h-2.1zM-170.8 54.7h3.8v1.6h-3.8zM-102 58.5h1.6v1.3h-1.6zM-22.4 56.1h2.1v1.3h-2.1zM-101.2 57.3h2.2v1h-2.2zM121.5 54.2h3.1v1.3h-3.1zM177.3 44.5h1.8v1.5h-1.8zM79.7 49.2h3.8v1.6h-3.8zM118.8 50.6h2.3v1.9h-2.3zM137.7 44.9h2.8v1.9h-2.8zM-167.6 64.2h3.5v1.6h-3.5zM-117.7 54.4h3.3v2h-3.3zM-45.1 58h2.8v2.2h-2.8zM7.5 59.4h2.7v1h-2.7zM-164.3 49.5h4v1.9h-4zM-38.3 66.5h2.8v2.5h-2.8zM97.4 54.7h3.7v1.3h-3.7zM28 57.3h2.2v1.8h-2.2zM102.1 45.7h3.7v2.1h-3.7zM111.3 55.4h2.9v1.6h-2.9zM-159.8 44.2h2.9v1.3h-2.9zM1.7 56.5h2.4v1.5h-2.4zM13.9 52h3v1.7h-3zM-169.9 64.7h1.9v1.9h-1.9zM130 46.4h3.5v2.2h-3.5zM-88.1 45.1h3.2v1.1h-3.2zM-174 71.5h3.4v1.4h-3.4zM-140.6 52h2.4v1.1h-2.4zM-122.5 55.1h1.9v1.4h-1.9zM76.2 57.4h2.3v1.7h-2.3zM-171.5 59.6h2.6v1.3h-2.6zM-140.8 43.2h2.8v1.3h-2.8zM38 45.9h1.6v1h-1.6zM-127.3 49h1.9v2.1h-1.9zM64.1 54.6h2.1v2.5h-2.1zM107.2 55.5h2.1v2h-2.1zM-37.8 53.6h2.3v1.9h-2.3zM-158.8 62.4h3.9v2.3h-3.9zM87.8 58.7h2.1v1h-2.1zM115 41.2h2.9v1.3h-2.9zM132.4 40.8h3.3v1.8h-3.3zM-43.9 60.9h2v2h-2zM-24.1 65.8h1.8v2h-1.8zM-73.4 56h2.3v2.3h-2.3zM-107.7 61.5h4v2.2h-4zM-57.9 65.2h3.2v2.3h-3.2zM155.6 61h3.7v2h-3.7zM-95.5 48.8h1.7v1.3h-1.7zM148 65.2h3.4v1.9h-3.4zM122.8 60.2h2.4v1.4h-2.4zM132.3 52.7h3.9v2.3h-3.9zM-131.3 54.4h1.8v1.1h-1.8zM-153.7 44.3h3.5v2.2h-3.5zM-57.3 52.3h3.5v1.6h-3.5zM25.5 64.8h1.7v1.4h-1.7zM140.7 53.9h3.8v1.7h-3.8zM-80.2 46.8h3.6v1h-3.6zM61.3 69.1h1.8v2.3h-1.8zM-165.6 64.3h4v1.6h-4zM-138.4 66.6h2.1v2.1h-2.1zM-143 42.9h2.4v2.5h-2.4zM147.3 62.6h2.1v1.7h-2.1zM-144 51.1h1.6v1h-1.6zM173.7 62.5h3v1.7h-3zM-67.2 70h3.8v2.5h-3.8zM-102.5 52.2h3.9v1.8h-3.9zM67.7 50.8h2.1v1.8h-2.1zM-69.4 64.1h1.7v1.4h-1.7zM174 57.7h3.1v2h-3.1zM158.7 59.5h2.3v1.5h-2.3zM141.7 62.3h2.3v1.8h-2.3zM28.4 52.9h2.1v1h-2.1zM-92.2 69.7h2.9v1.1h-2.9zM-153 51.7h2.2v2.2h-2.2zM-2.4 44.4h1.9v1.8h-1.9zM161.7 66.5h3.4v2.5h-3.4zM115.8 61.8h1.8v1.8h-1.8zM151 62.6h3.7v1.2h-3.7zM109.4 43h3.6v2.1h-3.6zM68.3 66.3h2.6v1.2h-2.6zM77.3 50.6h2.1v1.1h-2.1zM166.8 46.1h2.9v1.8h-2.9zM126.5 57.5h2.5v1.5h-2.5zM52.7 58.7h2.9v1.1h-2.9zM-52.2 67.6h1.8v1.4h-1.8zM118.4 59.3h2.5v1.9h-2.5zM10.3 56h3.1v1.7h-3.1zM67.1 48.6h2.1v1.7h-2.1zM-7.6 64.8h2.5v1.8h-2.5zM146.5 42.6h2.2v2h-2.2zM-162.6 69.7h2.8v2.3h-2.8zM-122.6 47.5h3.7v1.5h-3.7zM69.3 44.8h2.4v2.1h-2.4zM85.1 53h3.6v2.3h-3.6zM165.6 53.7h1.9v1.4h-1.9zM-101.7 53.8h3.4v1.1h-3.4zM65.4 49.1h2.4v1.8h-2.4zM-120.7 48.6h1.6v2.5h-1.6zM110.9 51.9h2.2v2.4h-2.2zM165.4 67.5h3.4v2.3h-3.4zM57.5 49.6h2.6v2.4h-2.6zM169.6 59.8h3.5v1.6h-3.5zM-120.7 61.6h1.8v2.4h-1.8zM36.2 58.9h1.8v1.4h-1.8zM-90.6 48h1.5v1.3h-1.5zM45.9 52.6h3.6v1.3h-3.6zM-77.5 54.6h2.2v1.9h-2.2zM-89.7 50.1h3.5v2.2h-3.5zM170.5 54.5h2.7v2.3h-2.7zM96.9 53.7h2.5v1.4h-2.5zM-141.1 46.2h1.8v2.1h-1.8zM94 40.8h1.8v1.8h-1.8zM26.1 62h2.8v1.5h-2.8zM-20.8 57.6h2.3v1.6h-2.3zM101.9 50.1h2.7v2h-2.7zM-44.1 65.5h1.5v1.4h-1.5zM35.3 43.8h3.6v1.8h-3.6zM175.3 57.2h3.6v1.6h-3.6zM88.1 40.4h2.3v1.3h-2.3zM43.2 55h2.4v1h-2.4zM-39.9 58.4h2.5v2.3h-2.5zM30.4 48.5h3.7v2.1h-3.7zM-2.6 48.1h3.1v2h-3.1zM46.7 59h3.1v2h-3.1zM157.4 47h3.6v2.2h-3.6zM113.5 52.6h2.4v1.4h-2.4zM74.9 44h2.9v1.2h-2.9zM119.9 56.5h2.7v1.1h-2.7zM3.7 48.2h2.6v1.5h-2.6zM68.6 59.1h3.2v1.9h-3.2zM-104.8 65.4h3.7v1.4h-3.7zM-153 45.4h2.8v1.6h-2.8zM4.1 48.4h1.9v2h-1.9zM76.8 45.9h2.2v1.9h-2.2zM-96.4 54h1.9v2.2h-1.9zM132 61.5h2.1v2.4h-2.1zM74.4 45h1.6v2.3h-1.6zM44.1 61.9h2.6v2.1h-2.6zM102.7 65.9h3.1v1.2h-3.1zM170.3 57.8h3.8v2.1h-3.8zM38.3 63.6h2.8v1.2h-2.8zM-130.3 49.1h2.4v2.1h-2.4zM-93.4 49h3.3v1.5h-3.3zM-141.7 59.3h2.7v1.1h-2.7zM-112.8 70.2h3v2.3h-3zM-102 70.9h3.3v2.2h-3.3zM167.1 52.4h2.4v2.3h-2.4zM-137.5 49.8h1.7v1.6h-1.7zM-1.8 59.9h1.9v1.3h-1.9zM115.3 57.2h2.9v1.3h-2.9zM77.4 61.4h3v2.4h-3zM107.1 44.6h2.3v1.6h-2.3zM28.9 42.6h2.5v2.3h-2.5zM93.1 67.1h3.8v1h-3.8zM-127.7 50.7h1.6v1.6h-1.6zM-133.2 57.2h3.6v2.4h-3.6zM-167.2 70.1h3.6v1.1h-3.6zM-81.5 68.2h1.7v1h-1.7zM49.5 48.2h3.2v2.3h-3.2zM58.7 59.5h3.1v2.5h-3.1zM51 64.2h1.7v2.4h-1.7zM32.6 60.8h3v1.8h-3zM-52.8 58.8h2v2.3h-2zM-27.3 50.8h3.3v2.1h-3.3zM79.6 47.9h2.1v2.5h-2.1zM127.6 44.7h1.6v1.1h-1.6zM112.7 57h2.4v2.5h-2.4zM-165.6 55h2.6v1.2h-2.6zM-37.7 49.4h3.7v1h-3.7zM8.8 69.1h3.5v1.1h-3.5zM-167.7 59.7h3.3v1.5h-3.3zM-133.2 46.6h3.5v2.3h-3.5zM-70.7 58.4h2.1v1.8h-2.1zM-61.2 61.2h3.5v2.4h-3.5zM30.3 68.6h3.1v1.7h-3.1zM175.7 49h3.6v2.1h-3.6zM12.8 43.3h3.6v1.4h-3.6zM-123.5 60.1h2.8v1.1h-2.8zM-55.7 53.6h1.6v2.2h-1.6zM54.4 62h2.2v1.5h-2.2zM-62.9 48h2.8v1.8h-2.8zM-62.8 61.5h1.7v2.5h-1.7zM113.6 42.4h3.8v2.2h-3.8zM-131.6 55.2h2.9v2.5h-2.9zM102.2 49.5h3.4v1.5h-3.4zM159.2 51.4h2.5v1.7h-2.5zM172.7 55h1.9v1.2h-1.9zM67.4 54h3.8v1.3h-3.8zM-32 48.7h1.6v1.1h-1.6zM16.5 63.5h1.8v1.4h-1.8zM47.6 55.2h1.7v1.1h-1.7zM126.2 51.4h1.9v2.3h-1.9zM-172.1 60.2h3.6v2.1h-3.6zM35.3 44.3h3.7v1.6h-3.7zM63.2 54.6h3.9v2.2h-3.9zM81.3 46h4v1.4h-4zM-107.5 48.1h3.4v1.8h-3.4zM-4.7 59.1h3.7v2.2h-3.7zM126.4 57.3h2v1.4h-2zM-136.8 62.3h3.7v2.1h-3.7zM169.5 54.6h2.9v1.8h-2.9zM9.2 54.7h3.5v2.4h-3.5zM-33 51.8h2.3v1.5h-2.3zM2.3 53.2h2.9v2.5h-2.9zM-121.3 51.6h4v2.1h-4zM23.7 60.2h2.5v2.4h-2.5zM142.3 50.6h3.7v2.4h-3.7zM124.7 59.7h2.7v2.2h-2.7zM-45.9 48h2.7v1.5h-2.7zM-15.8 68.3h2.4v1.6h-2.4zM-173.5 66.5h2.2v2.3h-2.2zM32.2 62.8h4v1.4h-4zM5 48.3h3.2v1.7h-3.2zM99.7 56.5h3.3v1.7h-3.3zM169.7 49.1h1.7v1.2h-1.7zM167.9 64.7h1.6v1.4h-1.6zM-36.3 48.8h3.6v1.1h-3.6zM17.9 54.9h2.4v2.4h-2.4zM19 58.6h3.2v1.2h-3.2zM-84.5 63.1h2.7v2.2h-2.7zM128.8 46.8h3.2v1.1h-3.2zM-39.7 50.6h2.2v1.8h-2.2zM145.8 68.3h3.6v1.2h-3.6zM-107.6 55.3h2.5v2.3h-2.5zM177.1 62.8h2.7v2.3h-2.7zM16.1 65.1h3.4v1.5h-3.4zM176 51h3.8v2.5h-3.8zM-83.7 54.7h2.6v2.1h-2.6zM123.3 64.7h2.2v2.1h-2.2zM-31.8 67.8h2v1.8h-2zM35.5 41.3h2.8v1.9h-2.8zM-126.4 58.8h2.2v2h-2.2zM-83.9 65.1h2.4v1.7h-2.4zM-58.2 52.6h2v2.3h-2zM69.9 54.9h1.6v1.5h-1.6zM68.4 51.4h3.5v2.3h-3.5zM-66.5 56.2h2.3v1.2h-2.3zM-129.6 63.8h1.7v1.8h-1.7zM73.1 54h3.2v1.3h-3.2zM-108.2 53.8h3.7v1.6h-3.7zM-178.5 71.4h2.3v1.9h-2.3zM-149.6 64.8h3.2v2.5h-3.2zM-57.2 52.8h2.8v1h-2.8zM-61.3 67.5h2.1v2.2h-2.1zM-152.1 48.8h1.8v1.5h-1.8zM-83 70.4h1.6v1.2h-1.6zM49.8 64.3h3.2v1.4h-3.2zM5.5 61.7h3.9v1.5h-3.9zM109.3 51.5h3.6v1.9h-3.6zM133.3 59h3.2v1.9h-3.2zM10 53.9h2.8v1.6h-2.8zM143.4 51.8h2.9v1.1h-2.9zM3.1 66.4h2v1.7h-2zM16.5 64h2.2v1.8h-2.2zM-9.6 59.1h1.8v1.6h-1.8zM55.6 54.6h2.9v2.3h-2.9zM80.3 50.1h1.6v1.5h-1.6zM65.7 67h3.8v1.2h-3.8zM136.5 65.1h3.6v2.3h-3.6zM-122.5 44.8h2.5v1.7h-2.5zM-137.6 52.8h2.2v2h-2.2zM107.8 52.7h1.5v2.4h-1.5zM151.1 51.4h2.4v1.8h-2.4zM137.8 57.3h3.4v1.9h-3.4zM-33 52.6h1.6v1.7h-1.6zM-166.5 49.5h1.5v1.1h-1.5zM-140 67.5h2.8v1.5h-2.8zM147.2 51h3.5v2.2h-3.5zM-91.7 46.1h2.1v1.8h-2.1zM-51.2 66.9h3.4v2.4h-3.4zM-55.3 51h4v2.2h-4zM-160 58.1h2.4v1.4h-2.4zM113.8 57.9h3.2v2h-3.2zM62.3 43.5h1.9v2h-1.9zM-4.5 61.1h3.3v2.5h-3.3zM-172.2 43.3h2.5v2.3h-2.5zM-117.1 49.1h1.7v1.5h-1.7zM169.2 51h3.5v1.7h-3.5zM-10.4 56.2h3.4v2.1h-3.4zM-110.2 57.9h2.9v1.9h-2.9zM153.6 45.1h1.9v1.6h-1.9zM-140.8 71.2h1.7v1.3h-1.7zM95.8 50.6h3.5v1.4h-3.5zM117.4 41.7h1.5v1.6h-1.5zM48.2 48.4h3.8v1.8h-3.8zM109.4 40.6h3.8v2h-3.8zM-56.7 64.3h3.4v2.4h-3.4zM165.7 66.4h3v1.8h-3zM-26.1 46.6h3.8v2.1h-3.8zM72.1 49.9h3.1v1.8h-3.1zM-90.8 47.1h1.8v2h-1.8zM-40.7 54.1h3.1v1.7h-3.1zM172.1 64.3h1.5v2.4h-1.5zM-67.7 63.1h2.5v1.9h-2.5zM175 49.4h2.3v1.8h-2.3zM-18.5 55.9h2.5v1.3h-2.5zM-37.6 59.5h2v2.2h-2zM-50.4 67.2h2.9v2.3h-2.9zM101 52.1h3.3v1.5h-3.3zM-128.6 63.8h2.4v1.4h-2.4zM-11.6 67.2h1.8v1.4h-1.8zM-109.3 46.3h2.8v1.3h-2.8zM-25.5 44.1h2.9v1.8h-2.9zM-39.1 65.7h3.1v1.1h-3.1zM88.7 59.8h3.2v1.9h-3.2zM-133.5 54.8h1.7v1.4h-1.7zM-42.6 62.9h3.2v2.5h-3.2zM-51.5 45.2h2.1v2.1h-2.1zM-54.8 54.9h1.7v2.2h-1.7zM-104.8 57.2h2.2v2.2h-2.2zM33.3 52.3h3.4v1.4h-3.4zM-159 45.5h2.3v2.2h-2.3zM164.4 51.9h1.8v2.3h-1.8zM48 64.1h2v1.8h-2zM-136.2 43h3.3v2.2h-3.3zM-131.8 49.1h2.1v1h-2.1zM-136.5 65.6h3.4v1.6h-3.4z" fill="#9595ff"/><path d="M-6.5 52.4h2.2v2h-2.2zM61.8 42.5h2.8v2.3h-2.8zM168.4 47.4h2.6v1.4h-2.6zM-144.8 45.4h1.8v1.8h-1.8zM-102.8 45.7h2.8v2.4h-2.8zM-27.8 57.9h3.9v1.9h-3.9zM-111.6 55.7h2.8v1.3h-2.8zM173.3 47.1h1.7v2.4h-1.7zM-15 45.3h1.9v1.2h-1.9zM146.4 62.9h1.6v1.8h-1.6zM176.6 45.3h2.5v2.5h-2.5zM106.8 45.1h3.1v1.6h-3.1zM146.1 56.9h3.8v1.8h-3.8zM147.5 56.7h2.6v1.9h-2.6zM-65.8 67.2h3v2.3h-3zM103.4 47.2h2.5v2.5h-2.5zM104.7 53.6h1.8v1.9h-1.8zM-174.8 43.1h2.3v1.6h-2.3zM18.3 51.6h3v1.7h-3zM48.4 44.9h2.6v1.8h-2.6zM-122.1 61.6h2v2.3h-2zM-126.6 68.5h2.3v1.8h-2.3zM115.7 40.1h3.6v1.9h-3.6zM-166.5 70h3.1v2.2h-3.1zM18.1 53.6h3v1.1h-3zM-83.8 69.3h2.2v2.1h-2.2zM-85.4 65.3h2.2v1.7h-2.2zM85.5 62.4h3.7v2.5h-3.7zM129.4 67.7h2.6v1.5h-2.6zM-66.4 48h3.7v1.1h-3.7zM31.8 50.8h3.7v1.6h-3.7zM170.3 65.7h1.8v1.2h-1.8zM31.2 68.1h2.2v1.3h-2.2zM80.4 65h3.8v1h-3.8zM-88.8 54.3h1.5v2.1h-1.5zM-149.5 45.9h1.6v1.8h-1.6zM-104.6 62.8h2.7v1.6h-2.7zM-38.9 51.1h2v1.3h-2zM66.4 62.5h3.8v1.6h-3.8zM-172.6 68.6h3.1v2h-3.1zM162.8 58.2h3.3v1.5h-3.3zM-153.3 58.6h3.3v2.2h-3.3zM162.7 45.4h2.9v1.8h-2.9zM0.4 56.7h3.2v1.9h-3.2zM128.6 57.6h2.7v2.2h-2.7zM63.2 55.2h2.9v2.2h-2.9zM38.7 63.7h2.3v1.9h-2.3zM-163.5 57.4h3.7v1.3h-3.7zM-20.1 49.6h3.8v2h-3.8zM45.3 59.7h2.6v2h-2.6zM-51.7 46.9h1.5v2.1h-1.5zM87.1 62.2h1.5v1.5h-1.5zM32.1 46.8h3.7v1.3h-3.7zM-150.6 68.2h4v2h-4zM-133.8 49.9h3.9v1.9h-3.9zM72.2 66.1h3.4v1.8h-3.4zM26.7 60.3h2.2v1.6h-2.2zM9.5 57.2h3.7v1.1h-3.7zM38.8 52.2h3.1v1.4h-3.1zM-37.9 65.3h1.9v2.5h-1.9zM87.8 43.9h1.5v2.1h-1.5zM-69.4 56.1h3.2v1h-3.2zM-46.5 54.3h3.7v1.8h-3.7zM-65.7 52.7h3v1.4h-3zM17.3 63.2h1.5v1.5h-1.5zM-148.9 56.3h2.8v2.3h-2.8zM89.2 48h4v1.4h-4zM-45.8 64.6h1.8v1.8h-1.8zM4.1 67.8h3.8v2.5h-3.8zM-157.8 48.6h3.6v1.1h-3.6zM-176.8 54.8h2.3v1h-2.3zM-176.8 65.2h2v1.4h-2zM18.2 64h2.1v1.3h-2.1zM139.3 64.4h2.9v1.7h-2.9zM-60.7 59h1.5v1.3h-1.5zM50.5 47.6h2v1.3h-2zM106.1 43.9h1.9v2.2h-1.9zM-126 70.6h2.2v1.5h-2.2zM32.2 57.8h3.5v2h-3.5zM-137.1 65.5h3.4v1.2h-3.4zM162.9 46h2v1.4h-2zM-89.2 58.5h2.1v1h-2.1zM-89.4 65.8h2.4v1.7h-2.4zM134.8 50.9h3v2.3h-3zM-40.8 58.4h2.1v2.2h-2.1zM135.8 42.9h3v1.2h-3zM-154 46.5h3.7v1.8h-3.7zM151.5 42.2h3.4v1.6h-3.4zM-15.7 60.7h2.5v1.7h-2.5zM-173.8 67.9h1.9v1.9h-1.9zM133.8 49.2h1.9v1.7h-1.9zM45.8 67.7h1.7v1.9h-1.7zM-95.2 51.4h1.9v2.3h-1.9zM-68.5 58.3h2.9v2.3h-2.9zM149.9 45h3.2v1.1h-3.2zM-112.8 54.9h4v2.1h-4zM-111 60.6h3.9v1.8h-3.9zM133.3 44.5h3.5v1.9h-3.5zM59.7 61.1h1.8v2.4h-1.8zM-168.3 63.3h3v2.4h-3zM-104.3 64.1h3.6v1.5h-3.6zM-34.9 60.5h1.6v2.4h-1.6zM-145 67.7h2.4v2.3h-2.4zM-129.3 64.7h2.3v1.8h-2.3zM144.4 54.7h3.8v1.8h-3.8zM-24.4 44.1h3v1.7h-3zM4.5 60.6h2.6v1.1h-2.6zM-106.1 47.6h1.8v1.3h-1.8zM-121.1 60.4h1.6v1.5h-1.6zM39.5 50.3h3.7v1.1h-3.7zM51.8 65.7h2.4v1.9h-2.4zM121.7 50.5h4v1h-4zM-66.2 56.6h1.6v1.1h-1.6zM-48 54.1h1.8v1.1h-1.8zM-65.2 48.3h2.9v2.5h-2.9zM37.8 43.5h2.9v1.7h-2.9zM-30.4 69.7h1.7v2h-1.7zM-115.1 61.5h2.3v2.3h-2.3zM-89.1 62.2h2.7v2.4h-2.7zM-74 51.7h1.6v1.6h-1.6zM153.8 65h2.4v2h-2.4zM23.6 53.6h3v2h-3zM-63.8 60.7h2.5v1.8h-2.5zM24.1 44h2.5v1.7h-2.5zM119.8 40.9h2.1v2.1h-2.1zM-90.9 48.3h1.6v1.8h-1.6zM25.2 49.6h3.8v2.2h-3.8zM22.7 56.1h1.5v1.8h-1.5zM22.4 48.3h1.9v1.9h-1.9zM-161.4 48.8h3.6v1.7h-3.6zM67.6 50.8h2.3v1.1h-2.3zM92.9 60.6h1.9v1.7h-1.9zM119.9 41.5h2.9v2.5h-2.9zM-117.6 56.3h1.5v1.4h-1.5zM55.6 55.7h4v2.5h-4zM-135.6 63.6h4v1.5h-4zM42.2 62.1h2.9v1.6h-2.9zM-15.1 54.3h1.9v1.9h-1.9zM163.9 53.1h3.5v1.4h-3.5zM-43.2 51h3.3v1.9h-3.3zM-21.8 45.9h2.6v2.3h-2.6zM-160.6 48.9h1.7v1.6h-1.7zM-20.4 66.2h2.6v2.3h-2.6zM-166.9 65.8h3.9v1.7h-3.9zM99.3 66.4h3v1.3h-3zM99.3 54.2h3.5v1.1h-3.5zM154.1 64.6h3.6v1.7h-3.6zM-160.6 57h3.8v1.7h-3.8zM2.7 66.7h2.9v1.6h-2.9zM139.6 48.3h2.7v1.2h-2.7zM40 64.8h3.5v1.3h-3.5zM-16.6 43.9h1.8v1.2h-1.8zM-161.1 67.1h2.4v1.5h-2.4zM-4.6 57.7h3.4v1.5h-3.4zM29.2 62h3.4v1.3h-3.4zM-3.8 57.7h2.6v1.8h-2.6zM13 61.9h3.6v2.4h-3.6zM21.2 51.7h3.3v1.5h-3.3zM33.2 57.2h2.7v1.6h-2.7zM13.1 65h2.1v1.3h-2.1z" fill="#ceceff"/><ellipse cx="-75" cy="69" rx="15" ry="5" fill="#e7e7ff"/><ellipse cx="-46" cy="71.5" rx="14" ry="4.2" fill="#ffffff"/><ellipse cx="170" cy="70" rx="8" ry="3" fill="#d7d7ff"/><path d="M-180,-68 -168,-66 -160,-70 -140,-70.5 -132,-62 -100,-60 -68,-58 -62,-62 -57,-64 -50,-66 -45,-70 -20,-70 0,-70 20,-72 40,-71 60,-68 80,-70 100,-72 130,-70 160,-68 175,-66 180,-66 180,-90 -180,-90Z" fill="#ffffff"/><path d="M-95,-64 -75,-64 -75,-51 -95,-51Z" fill="#ffffff"/><path d="M-66.3,-49 -65,-49.2 -64.8,-49ZM-123,-49 -125,-50 -127.5,-50.8 -128,-52 -130,-54.5 -131.5,-55.5 -133,-57 -135,-58.2 -137,-58.5 -139.5,-59.6 -142,-60 -146,-60.8 -148,-60 -150,-59.5 -151.5,-59.2 -152.5,-58 -154,-57.5 -156.5,-56.5 -158,-56.5 -161,-55.5 -163,-55 -164.5,-54.5 -162,-55.6 -160,-56.5 -158,-57.8 -157,-58.7 -159,-58.4 -162,-58.5 -162,-60 -165,-60.5 -165,-61.8 -164.5,-63 -161,-64.5 -163.5,-64.6 -166,-64.7 -166.5,-65.3 -168,-65.5 -163,-67 -166,-68.8 -161,-70.3 -156.8,-71.3 -152,-70.8 -150,-70.4 -145,-70.1 -141,-69.7 -136,-69 -133,-69.6 -128,-70.2 -124,-69.6 -120,-69.3 -114,-68.3 -108,-68.5 -104,-68 -98,-67.8 -96,-69.5 -95,-71.5 -92,-70 -90,-68.5 -85,-69.5 -82,-68.5 -81.5,-66.8 -86,-66.2 -87,-64.5 -91,-62.8 -94.5,-61 -93.5,-58.8 -92.5,-57 -88,-56.5 -85,-55.3 -82.3,-52.9 -80.5,-51.3 -79,-51.5 -79,-54.5 -76.8,-56.5 -77.5,-58.5 -78,-60.5 -77.5,-62.5 -73,-62 -70,-61 -69.5,-59 -67,-58.3 -65,-60.3 -64,-59.3 -61.5,-56 -59,-55 -57,-53 -55.7,-52 -57.5,-51.3 -60,-50.2 -64,-50.2 -66.5,-50 -68.1,-49Z" fill="#d5d5d5" fill-rule="evenodd"/><path d="M-180,-69 -176,-67.8 -174,-67 -171.8,-66.9 -169.8,-66 -171,-65.5 -172.5,-64.5 -175,-64.8 -178,-64.7 -180,-65.3ZM180,-65.3 178.7,-64.5 177.5,-64.7 179,-62.8 177,-62.5 173.5,-61.7 170.5,-60.2 168,-60.5 165,-59.8 165,-61 160.7,-61 160.5,-61.3 159.5,-61.8 157,-61.5 156.2,-61 155,-61 155,-60.2 154,-59.5 151,-59 148,-59.3 145.5,-59.4 143,-59.3 141.5,-58.7 141.3,-58.5 23.8,-58.5 23.7,-58.8 24.5,-59.4 26,-59.6 28,-60 29.5,-60.1 26,-60.4 23,-60 21.3,-60.7 21.5,-63 23.5,-64 25.3,-65 24.5,-65.8 22.5,-65.8 21.2,-65 19.5,-63.5 17.5,-62.3 17.3,-61 18.8,-60 18.3,-59.2 16.5,-58.5 11.2,-58.5 11,-58.8 10.5,-59.6 10,-59 9,-58.5 5.9,-58.5 5.5,-58.8 5,-60 5,-61 5.5,-62.3 7,-62.8 9,-63.5 10.5,-64.5 12.5,-65.8 13.5,-67.8 15,-68.4 16,-69 18,-69.7 19,-70 21,-70.2 23.5,-70.8 25.5,-71.1 28,-71 30,-70.5 31,-70 33,-69.3 36.5,-69 40,-67.8 41,-67.5 41,-66.7 39,-66 35,-66.3 34,-65 36,-64.5 37.5,-64.2 40.5,-64.6 42,-66.3 44.2,-66.5 44.2,-68.5 46,-68 48,-67.7 53.5,-68.5 58,-68.9 60.5,-69.8 64,-69.4 67,-69.2 67,-70.5 66.8,-71.5 69,-73 70.5,-73.2 72,-72.5 72.5,-71 72,-68.5 73.6,-68.5 74,-70 73,-71.5 72.8,-72.7 76,-72 78,-72.3 80,-72.3 81,-73.5 84,-73.8 87,-74 86.5,-75.2 90,-75.6 95,-76 99,-76.5 104,-77.7 107,-77 111,-76.7 113.5,-76 113,-74 112,-73.5 115,-73.7 118.5,-73.6 123,-73 127,-73.5 129,-72.5 129.5,-71 132,-71.5 136,-71.6 140,-72.5 143,-72.7 146,-72.3 150,-71.5 152,-70.9 155,-71.1 159,-70.8 161,-69.5 165,-69.6 170,-70 175,-69.8 178,-69.4 180,-69ZM-5.1,-58.5 -5,-58.6 -3.1,-58.6 -3,-58.5ZM-66.8,-58.5 -65,-60.3 -64,-59.3 -63.4,-58.5ZM-77.5,-58.5 -78,-60.5 -77.5,-62.5 -73,-62 -70,-61 -69.5,-59 -67.7,-58.5ZM-137,-58.5 -139.5,-59.6 -142,-60 -146,-60.8 -148,-60 -150,-59.5 -151.5,-59.2 -152.1,-58.5 -157.2,-58.5 -157,-58.7 -158.3,-58.5 -162,-58.5 -162,-60 -165,-60.5 -165,-61.8 -164.5,-63 -161,-64.5 -163.5,-64.6 -166,-64.7 -166.5,-65.3 -168,-65.5 -163,-67 -166,-68.8 -161,-70.3 -156.8,-71.3 -152,-70.8 -150,-70.4 -145,-70.1 -141,-69.7 -136,-69 -133,-69.6 -128,-70.2 -124,-69.6 -120,-69.3 -114,-68.3 -108,-68.5 -104,-68 -98,-67.8 -96,-69.5 -95,-71.5 -92,-70 -90,-68.5 -85,-69.5 -82,-68.5 -81.5,-66.8 -86,-66.2 -87,-64.5 -91,-62.8 -94.5,-61 -93.5,-58.8 -93.3,-58.5ZM-84,-65.5 -81,-63.8 -87,-63.5 -86,-66ZM-18.7,-63.4 -22.5,-64 -24,-65.5 -22,-66.4 -18,-66.2 -14.5,-66.4 -13.5,-65 -15,-64.3ZM-71.5,-63.5 -74,-64.5 -77.8,-64.4 -73,-67 -73.5,-68 -77,-69.5 -79,-70 -84,-69.8 -87,-70 -89,-71.5 -86,-73.8 -80,-73.5 -76,-72.5 -71.5,-71 -68.5,-70.2 -66.5,-68.5 -61.8,-66.8 -64,-65.5 -65,-64.5 -64.5,-63 -66,-62 -68,-62.5ZM-114,-68.4 -117.5,-69.5 -118.5,-71 -117.8,-72.4 -120,-71.5 -125.5,-71.9 -123,-73.8 -118.5,-74.5 -115.5,-73.4 -116.3,-73.1 -113,-73.2 -107,-73.5 -104.5,-71.5 -101.5,-69.6 -107,-68.8ZM-32,-83.6 -24,-82.9 -20,-82 -12,-81.5 -17,-80 -19,-78.5 -18,-77 -19,-74 -22,-72.5 -22,-70.5 -24.5,-69.5 -27,-68.5 -31,-68 -34,-66.5 -37,-65.7 -40,-65 -41,-63.5 -42.5,-61 -43.5,-60 -45.5,-60.5 -48,-61.2 -49.5,-62.8 -51,-64 -52.5,-65.5 -53.5,-67 -52.5,-68.5 -51,-69.6 -54,-70.5 -54.5,-71.5 -55.5,-72.5 -56,-73.5 -58,-75.2 -62,-76 -66,-76.1 -68,-76.5 -71,-77.2 -73,-78 -69,-79 -66,-80.2 -62,-81.3 -57,-82.2 -50,-82.5 -42,-83.2ZM-96,-72 -101,-72 -98,-74 -93,-73.5ZM-87,-79 -91,-81 -80,-83 -70,-83 -62,-82.5 -66,-80.5 -75,-78.5 -80,-76.2 -88.6,-76.5 -79.5,-75.5 -80.5,-74.5 -91,-74.7 -89,-76.5 -90,-76.5ZM-96,-78 -100,-76 -120,-76 -110,-78.5ZM58,-71 56,-70.5 52,-71.5 55,-74.5 60,-76.5 67,-77 68,-76.5 60,-75.5 56,-73ZM11,-79.8 20,-80.5 27,-79.5 22,-77.5 16,-76.5 11,-78.5ZM95,-80.5 102,-81 106,-79 100,-78 95,-79ZM143,-73.5 136,-75.5 142,-76 150,-75Z" fill="#d5d5d5" fill-rule="evenodd"/><path d="M25,-59.5 26,-59.6 28,-60 29.5,-60.1 26,-60.4 25,-60.3 25,-64.8 25.3,-65 25,-65.3 25,-71 25.5,-71.1 28,-71 30,-70.5 31,-70 33,-69.3 36.5,-69 40,-67.8 41,-67.5 41,-66.7 39,-66 35,-66.3 34,-65 36,-64.5 37.5,-64.2 40.5,-64.6 42,-66.3 44.2,-66.5 44.2,-68.5 46,-68 48,-67.7 53.5,-68.5 58,-68.9 60.5,-69.8 64,-69.4 67,-69.2 67,-70.5 66.8,-71.5 69,-73 70.5,-73.2 72,-72.5 72.5,-71 72,-68.5 73.6,-68.5 74,-70 73,-71.5 72.8,-72.7 76,-72 78,-72.3 80,-72.3 81,-73.5 84,-73.8 87,-74 86.5,-75.2 90,-75.6 95,-76 99,-76.5 104,-77.7 107,-77 111,-76.7 113.5,-76 113,-74 112,-73.5 115,-73.7 118.5,-73.6 123,-73 127,-73.5 129,-72.5 129.5,-71 132,-71.5 136,-71.6 140,-72.5 143,-72.7 146,-72.3 150,-71.5 152,-70.9 155,-71.1 159,-70.8 161,-69.5 165,-69.6 170,-70 175,-69.8 178,-69.4 180,-69 180,-65.3 178.7,-64.5 177.5,-64.7 179,-62.8 177,-62.5 173.5,-61.7 173.2,-61.5 165,-61 160.7,-61 160.5,-61.3 159.5,-61.8 157,-61.5 156.2,-61 155,-61 151.9,-59.2 151,-59 148,-59.3 145.5,-59.4 143,-59.3 141.5,-58.7 140.5,-57.8 138,-56.5 136.5,-54.8 137,-54 139,-54.2 140.5,-53.2 141.3,-52 140.5,-50.5 140.4,-48.5 139.5,-47.5 138.2,-46.5 137.6,-45.7 135,-50 110,-50 108,-46 60,-46 50,-47 40,-50 25,-56Z" fill="#d5d5d5" fill-rule="evenodd"/><path d="M180,90 -180,90 -180,78.3 -170,78 -163,78.2 -158,77 -150,76.5 -145,75.5 -140,75 -135,74.5 -130,74.5 -125,73.8 -120,73.8 -115,74.2 -110,74.5 -105,74.5 -100,73.5 -95,73.3 -90,73 -85,73.4 -80,73.5 -77,72.5 -75,71.5 -72,70.5 -70,69.5 -68,67.8 -67,66.5 -65,65.5 -63,64.5 -59,63.3 -57,63.5 -58,64.5 -60.5,65.5 -62,66.5 -63,68 -62.5,70 -61,72 -61,74 -63,76 -60,77.5 -55,78 -50,78 -45,78 -40,77.8 -35,77.5 -30,76 -25,75 -20,74 -15,72.5 -10,71 -5,70.5 0,70 5,70 10,70 15,70 20,70 25,70 30,69.5 35,69 40,69 45,68 50,67 55,66.5 60,67 65,67.5 68,68 70,69.5 72,70 75,69.5 78,68.5 80,67 85,66.5 90,66.5 95,66 100,65.5 105,66 110,66 115,66.5 120,66.5 125,66 130,66 135,66 140,66.5 145,67.5 150,68.5 155,69 160,70 165,71 170,72 170,73.5 166,74.5 163,76.5 165,77.5 168,78 175,78.2 180,78.3Z" fill="#d5d5d5" fill-rule="evenodd"/><use href="#bd"/><use href="#cs"/></svg>
<svg class="frame" style="left:226.30px;top:25.40px;width:307.80px;height:162.00px"><rect x="8" y="8" width="291.8" height="146" fill="none" stroke="#3a3a3a" stroke-width="1.1"/><path d="M8.00 8.00v-5.00M8.00 154.00v5.00M16.11 8.00v-2.50M16.11 154.00v2.50M24.21 8.00v-2.50M24.21 154.00v2.50M32.32 8.00v-5.00M32.32 154.00v5.00M40.42 8.00v-2.50M40.42 154.00v2.50M48.53 8.00v-2.50M48.53 154.00v2.50M56.63 8.00v-5.00M56.63 154.00v5.00M64.74 8.00v-2.50M64.74 154.00v2.50M72.84 8.00v-2.50M72.84 154.00v2.50M80.95 8.00v-5.00M80.95 154.00v5.00M89.06 8.00v-2.50M89.06 154.00v2.50M97.16 8.00v-2.50M97.16 154.00v2.50M105.27 8.00v-5.00M105.27 154.00v5.00M113.37 8.00v-2.50M113.37 154.00v2.50M121.48 8.00v-2.50M121.48 154.00v2.50M129.58 8.00v-5.00M129.58 154.00v5.00M137.69 8.00v-2.50M137.69 154.00v2.50M145.79 8.00v-2.50M145.79 154.00v2.50M153.90 8.00v-5.00M153.90 154.00v5.00M162.01 8.00v-2.50M162.01 154.00v2.50M170.11 8.00v-2.50M170.11 154.00v2.50M178.22 8.00v-5.00M178.22 154.00v5.00M186.32 8.00v-2.50M186.32 154.00v2.50M194.43 8.00v-2.50M194.43 154.00v2.50M202.53 8.00v-5.00M202.53 154.00v5.00M210.64 8.00v-2.50M210.64 154.00v2.50M218.74 8.00v-2.50M218.74 154.00v2.50M226.85 8.00v-5.00M226.85 154.00v5.00M234.96 8.00v-2.50M234.96 154.00v2.50M243.06 8.00v-2.50M243.06 154.00v2.50M251.17 8.00v-5.00M251.17 154.00v5.00M259.27 8.00v-2.50M259.27 154.00v2.50M267.38 8.00v-2.50M267.38 154.00v2.50M275.48 8.00v-5.00M275.48 154.00v5.00M283.59 8.00v-2.50M283.59 154.00v2.50M291.69 8.00v-2.50M291.69 154.00v2.50M299.80 8.00v-5.00M299.80 154.00v5.00M8.00 8.00h-5.00M299.80 8.00h5.00M8.00 16.11h-2.50M299.80 16.11h2.50M8.00 24.22h-2.50M299.80 24.22h2.50M8.00 32.33h-5.00M299.80 32.33h5.00M8.00 40.44h-2.50M299.80 40.44h2.50M8.00 48.56h-2.50M299.80 48.56h2.50M8.00 56.67h-5.00M299.80 56.67h5.00M8.00 64.78h-2.50M299.80 64.78h2.50M8.00 72.89h-2.50M299.80 72.89h2.50M8.00 81.00h-5.00M299.80 81.00h5.00M8.00 89.11h-2.50M299.80 89.11h2.50M8.00 97.22h-2.50M299.80 97.22h2.50M8.00 105.33h-5.00M299.80 105.33h5.00M8.00 113.44h-2.50M299.80 113.44h2.50M8.00 121.56h-2.50M299.80 121.56h2.50M8.00 129.67h-5.00M299.80 129.67h5.00M8.00 137.78h-2.50M299.80 137.78h2.50M8.00 145.89h-2.50M299.80 145.89h2.50M8.00 154.00h-5.00M299.80 154.00h5.00" stroke="#3a3a3a" stroke-width="0.9" fill="none"/></svg>
<div class="yl" style="left:161.80px;top:27.80px">90N</div>
<div class="yl" style="left:161.80px;top:52.13px">60N</div>
<div class="yl" style="left:161.80px;top:76.47px">30N</div>
<div class="yl" style="left:161.80px;top:100.80px">0</div>
<div class="yl" style="left:161.80px;top:125.13px">30S</div>
<div class="yl" style="left:161.80px;top:149.47px">60S</div>
<div class="yl" style="left:161.80px;top:173.80px">90S</div>
<div class="xl" style="left:204.30px;top:190.70px">180</div>
<div class="xl" style="left:228.62px;top:190.70px">150W</div>
<div class="xl" style="left:252.93px;top:190.70px">120W</div>
<div class="xl" style="left:277.25px;top:190.70px">90W</div>
<div class="xl" style="left:301.57px;top:190.70px">60W</div>
<div class="xl" style="left:325.88px;top:190.70px">30W</div>
<div class="xl" style="left:350.20px;top:190.70px">0</div>
<div class="xl" style="left:374.52px;top:190.70px">30E</div>
<div class="xl" style="left:398.83px;top:190.70px">60E</div>
<div class="xl" style="left:423.15px;top:190.70px">90E</div>
<div class="xl" style="left:447.47px;top:190.70px">120E</div>
<div class="xl" style="left:471.78px;top:190.70px">150E</div>
<div class="xl" style="left:496.10px;top:190.70px">180</div>
<div class="tl" style="left:234.60px;top:16.80px">AOD 550 nm</div>
<div class="tc" style="left:234.30px;top:16.80px;width:291.80px">MODIS-DJF</div>
<div class="tr" style="left:426.10px;top:16.80px">0.16</div>
<div class="lab" style="left:238.10px;top:151.00px">a)</div>
<svg class="cb" style="left:235.00px;top:206.20px;width:289.60px;height:9.80px"><rect x="0.50" y="0.5" width="9.31" height="8.80" fill="#ffffff"/><rect x="9.81" y="0.5" width="9.31" height="8.80" fill="#d7d7ff"/><rect x="19.12" y="0.5" width="9.31" height="8.80" fill="#b9b9ff"/><rect x="28.43" y="0.5" width="9.31" height="8.80" fill="#9b9bff"/><rect x="37.74" y="0.5" width="9.31" height="8.80" fill="#7d7dff"/><rect x="47.05" y="0.5" width="9.31" height="8.80" fill="#5c5cff"/><rect x="56.36" y="0.5" width="9.31" height="8.80" fill="#3a3aff"/><rect x="65.67" y="0.5" width="9.31" height="8.80" fill="#1c1cff"/><rect x="74.98" y="0.5" width="9.31" height="8.80" fill="#0000fa"/><rect x="84.29" y="0.5" width="9.31" height="8.80" fill="#0523d7"/><rect x="93.60" y="0.5" width="9.31" height="8.80" fill="#0a37b9"/><rect x="102.91" y="0.5" width="9.31" height="8.80" fill="#0f5596"/><rect x="112.22" y="0.5" width="9.31" height="8.80" fill="#0f6e78"/><rect x="121.53" y="0.5" width="9.31" height="8.80" fill="#0f8750"/><rect x="130.84" y="0.5" width="9.31" height="8.80" fill="#0f9637"/><rect x="140.15" y="0.5" width="9.31" height="8.80" fill="#0fb414"/><rect x="149.45" y="0.5" width="9.31" height="8.80" fill="#2dbe19"/><rect x="158.76" y="0.5" width="9.31" height="8.80" fill="#4bc81e"/><rect x="168.07" y="0.5" width="9.31" height="8.80" fill="#64cd23"/><rect x="177.38" y="0.5" width="9.31" height="8.80" fill="#8cd71e"/><rect x="186.69" y="0.5" width="9.31" height="8.80" fill="#bee614"/><rect x="196.00" y="0.5" width="9.31" height="8.80" fill="#e6f50a"/><rect x="205.31" y="0.5" width="9.31" height="8.80" fill="#fff000"/><rect x="214.62" y="0.5" width="9.31" height="8.80" fill="#ffd200"/><rect x="223.93" y="0.5" width="9.31" height="8.80" fill="#ffb900"/><rect x="233.24" y="0.5" width="9.31" height="8.80" fill="#ff9600"/><rect x="242.55" y="0.5" width="9.31" height="8.80" fill="#ff7800"/><rect x="251.86" y="0.5" width="9.31" height="8.80" fill="#ff5000"/><rect x="261.17" y="0.5" width="9.31" height="8.80" fill="#ff2d00"/><rect x="270.48" y="0.5" width="9.31" height="8.80" fill="#ff1400"/><rect x="279.79" y="0.5" width="9.31" height="8.80" fill="#ff0000"/><path d="M0.50 0.5v8.80M9.81 0.5v8.80M19.12 0.5v8.80M28.43 0.5v8.80M37.74 0.5v8.80M47.05 0.5v8.80M56.36 0.5v8.80M65.67 0.5v8.80M74.98 0.5v8.80M84.29 0.5v8.80M93.60 0.5v8.80M102.91 0.5v8.80M112.22 0.5v8.80M121.53 0.5v8.80M130.84 0.5v8.80M140.15 0.5v8.80M149.45 0.5v8.80M158.76 0.5v8.80M168.07 0.5v8.80M177.38 0.5v8.80M186.69 0.5v8.80M196.00 0.5v8.80M205.31 0.5v8.80M214.62 0.5v8.80M223.93 0.5v8.80M233.24 0.5v8.80M242.55 0.5v8.80M251.86 0.5v8.80M261.17 0.5v8.80M270.48 0.5v8.80M279.79 0.5v8.80M289.10 0.5v8.80" stroke="#444" stroke-width="0.6" fill="none"/><rect x="0.5" y="0.5" width="288.60" height="8.80" fill="none" stroke="#444" stroke-width="0.7"/></svg>
<div class="cl" style="left:224.12px;top:217.30px">0.1</div>
<div class="cl" style="left:252.05px;top:217.30px">0.25</div>
<div class="cl" style="left:279.98px;top:217.30px">0.4</div>
<div class="cl" style="left:307.91px;top:217.30px">0.55</div>
<div class="cl" style="left:335.84px;top:217.30px">0.7</div>
<div class="cl" style="left:363.76px;top:217.30px">0.85</div>
<div class="cl" style="left:391.69px;top:217.30px">1</div>
<div class="cl" style="left:419.62px;top:217.30px">1.15</div>
<div class="cl" style="left:447.55px;top:217.30px">1.3</div>
<div class="cl" style="left:475.48px;top:217.30px">1.45</div>
<svg class="map" style="left:52.00px;top:268.20px;width:291.80px;height:146.00px" viewBox="-180 -90 360 180" preserveAspectRatio="none"><rect x="-180" y="-90" width="360" height="180" fill="#d7d7ff"/><path d="M-180,-44 -160,-44 -140,-42 -132,-36 -130,-28 -134,-18 -140,-8 -180,-8Z" fill="#b9b9ff"/><ellipse cx="-150" cy="-25.5" rx="14" ry="3.5" fill="#9b9bff"/><ellipse cx="-150" cy="-13" rx="13" ry="4.5" fill="#9b9bff"/><path d="M-180,-10 -150,-8 -140,-6 -140,0 -180,0Z" fill="#adadff"/><ellipse cx="-116" cy="-3.5" rx="23" ry="3.2" fill="#ffffff"/><ellipse cx="-82" cy="-18" rx="16" ry="10" fill="#b9b9ff"/><ellipse cx="-75" cy="-14" rx="8" ry="4" fill="#aaaaff"/><path d="M-80,-30 -65,-40 -50,-47 -35,-52 -15,-52 -12,-40 -25,-30 -45,-22 -80,-20Z" fill="#b9b9ff"/><path d="M-62,-14 -45,-20 -25,-27 -14,-32 -10,-22 -18,-14 -40,-9 -62,-8Z" fill="#9b9bff"/><path d="M-60,-2 -40,-3 -20,-3 0,-2 10,0 10,-15 -10,-18 -30,-15 -50,-10 -60,-7Z" fill="#7d7dff"/><path d="M-52,-4 -20,-3 0,-2 10,-2 10,-12 -10,-14 -30,-11 -50,-7Z" fill="#5c5cff"/><path d="M-45,-5 -20,-4 0,-3 10,-3 10,-9 -10,-10 -30,-8.5Z" fill="#1c1cff"/><path d="M-13.4,-27.2 -13,-27.7 -11.5,-28.2 -10,-29.5 -9.8,-31 -9.6,-32 -8.5,-33.2 -6.8,-34 -6.2,-35.2 -5.9,-35.8 -4,-35.2 -2,-35.1 0,-35.8 0.8,-36.1 11,-35.2 10.3,-34.3 10.3,-33.5 11.5,-33.1 12,-32.9 15.5,-31.5 16.5,-31.2 19,-30.3 20,-31.5 20,-32.3 22.5,-32.8 23.5,-32.3 25,-31.6 27,-31.3 29,-30.9 31,-31.5 32.3,-31.3 34.2,-31.3 34.3,-30 34.9,-29.5 34.2,-28 33.6,-27.9 33,-29.5 32.5,-29.9 32.7,-28.5 33.9,-27 35,-24.8 35.5,-23.9 36,-23 36,-17 -16.3,-17 -16.1,-18 -16.3,-19.1Z" fill="#b9b9ff" fill-rule="evenodd"/><ellipse cx="12" cy="-25" rx="12" ry="5" fill="#9b9bff"/><path d="M-10,-5 -5,-15 5,-22 20,-28 35,-29 40,-15 40,3 20,4 5,0Z" fill="#6c6cff"/><path d="M-5,-5 3,-12 15,-18 28,-24 33,-28 38,-15 38,2 20,3 8,1Z" fill="#2b2bff"/><path d="M32.6,-25.5 28.5,-20.2 21.8,-13.6 12.6,-10.9 4.6,-6.9 11.2,-1.5 21.8,0.5 33.9,-0.3 35.2,-10.9Z" fill="#0f9637"/><path d="M32,-22 30,-16 24,-9 20,-5 25,-2 33,-2 34,-10Z" fill="#3cc31c"/><ellipse cx="20.5" cy="-5" rx="5.5" ry="3.2" fill="#bee614"/><ellipse cx="21.5" cy="-4" rx="2" ry="1.2" fill="#ffd200"/><path d="M45,-37 27.8,-37 27.3,-37.5 26.5,-38.5 26.3,-40 27.5,-40.3 29,-41 28.6,-41.1 27,-40.5 26,-40.8 24,-40.8 23,-40.3 22.8,-39.5 24,-38 23,-37.5 22.8,-37 21.7,-37 21,-37.7 21.2,-38.3 20.2,-39.6 19.4,-41.8 18,-42.7 16,-43.5 15,-44.5 13.7,-45.6 12.3,-45.3 12.5,-44 14,-42.5 15.3,-42 16,-41.4 18.5,-40.2 17.5,-40.3 16.6,-38.8 16,-38 15.7,-38 15.8,-40 14,-40.8 12,-41.9 10.5,-43 9.5,-44 8.8,-44.4 7.5,-43.8 6.5,-43.1 5,-43.4 3.2,-43.2 3.2,-42 2,-41.3 0.5,-40.6 -0.3,-39.5 0.2,-38.7 -0.7,-37.6 -1.6,-37 -6.8,-37 -7.4,-37.2 -9,-37 -8.8,-38.5 -9.5,-39 -8.8,-41 -8.8,-42.8 -8,-43.7 -5,-43.5 -1.8,-43.4 -1.2,-46 -2.5,-47.3 -4.7,-48.4 -3,-48.8 -1.5,-48.7 -1.3,-49.7 0,-49.6 1.5,-50.5 2.5,-51.1 3.5,-51.5 4.5,-52.5 5,-53.3 7,-53.5 8.5,-53.8 8.8,-54.5 8.5,-55.5 8.2,-57 10.5,-57.7 10.2,-56 10.8,-55.5 11,-54 13,-54.4 14,-54 16,-54.4 18,-54.8 19.5,-54.4 21,-55 21,-57 22,-57.5 23.5,-57 24.3,-57.3 23.7,-58.8 24.5,-59.4 26,-59.6 28,-60 29.5,-60.1 26,-60.4 23,-60 21.3,-60.7 21.5,-63 23.5,-64 25.3,-65 24.5,-65.8 22.5,-65.8 21.2,-65 19.5,-63.5 17.5,-62.3 17.3,-61 18.8,-60 18.3,-59.2 16.5,-58.5 16.5,-57 15.8,-56.1 14.5,-56 12.8,-55.5 12.5,-56.4 11.8,-57.7 11,-58.8 10.5,-59.6 10,-59 8,-58 6.5,-58.1 5.5,-58.8 5,-60 5,-61 5.5,-62.3 7,-62.8 9,-63.5 10.5,-64.5 12.5,-65.8 13.5,-67.8 15,-68.4 16,-69 18,-69.7 19,-70 21,-70.2 23.5,-70.8 25.5,-71.1 28,-71 30,-70.5 31,-70 33,-69.3 36.5,-69 40,-67.8 41,-67.5 41,-66.7 39,-66 35,-66.3 34,-65 36,-64.5 37.5,-64.2 40.5,-64.6 42,-66.3 44.2,-66.5 44.2,-68.5 45,-68.3Z" fill="#ffffff" fill-rule="evenodd"/><ellipse cx="18" cy="-37" rx="14" ry="3" fill="#d7d7ff"/><ellipse cx="45" cy="-26" rx="12" ry="8" fill="#a7a7ff"/><ellipse cx="52" cy="-20" rx="7" ry="4" fill="#8c8cff"/><ellipse cx="50" cy="-43" rx="3" ry="3" fill="#5c5cff"/><path d="M45,-68.3 46,-68 48,-67.7 53.5,-68.5 58,-68.9 60.5,-69.8 64,-69.4 67,-69.2 67,-70.5 66.8,-71.5 69,-73 70.5,-73.2 72,-72.5 72.5,-71 72,-68.5 73.6,-68.5 74,-70 73,-71.5 72.8,-72.7 76,-72 78,-72.3 80,-72.3 81,-73.5 84,-73.8 87,-74 86.5,-75.2 90,-75.6 95,-76 99,-76.5 104,-77.7 107,-77 111,-76.7 113.5,-76 113,-74 112,-73.5 115,-73.7 118.5,-73.6 123,-73 127,-73.5 129,-72.5 129.5,-71 132,-71.5 136,-71.6 140,-72.5 143,-72.7 146,-72.3 150,-71.5 152,-70.9 155,-71.1 159,-70.8 161,-69.5 165,-69.6 170,-70 175,-69.8 178,-69.4 180,-69 180,-65.3 178.7,-64.5 177.5,-64.7 179,-62.8 177,-62.5 173.5,-61.7 170.5,-60.2 168,-60.5 164.8,-59.8 163.4,-59.3 162,-58 163.5,-57.5 163.5,-56 162,-54.8 160,-53.2 158.5,-52.8 156.7,-51 156,-53 155.5,-56 156.5,-57.8 158,-58 161,-60.5 160.5,-61.3 159.5,-61.8 157,-61.5 154,-59.5 151,-59 148,-59.3 145.5,-59.4 143,-59.3 141.5,-58.7 140.5,-57.8 138,-56.5 136.5,-54.8 137,-54 139,-54.2 140.5,-53.2 141.3,-52 140.5,-50.5 140.4,-48.5 139.5,-47.5 138.2,-46.5 136.9,-45 100,-45 80,-48 60,-48 45,-44Z" fill="#ffffff" fill-rule="evenodd"/><path d="M75,-42 100,-45 105,-33 98,-28 72,-28Z" fill="#ffffff" fill-rule="evenodd"/><path d="M62,-28 95,-28 95,-15.9 94.5,-16 94.2,-18.8 93.5,-19.5 92.3,-20.7 91.8,-22.3 91.5,-22.5 90.5,-22.2 90,-21.9 89,-21.6 88.5,-21.7 86.9,-20.6 86.5,-19.9 85,-19.4 84,-18.3 82.3,-16.6 81.3,-16.2 80.3,-15.5 80.2,-13.5 80.2,-13 79.8,-11.5 79.8,-10.3 79,-9.3 77.5,-8.1 76.5,-9.5 75.8,-11.5 74.8,-12.8 74.2,-14.8 73.5,-16 73,-18 72.8,-19.3 72.8,-20.5 72.6,-21.3 71.5,-20.8 70.5,-21.2 69.2,-22.3 70,-22.8 68.5,-23.5 67.5,-23.9 66.7,-25.2 64.5,-25.2 62,-25.2Z" fill="#adadff" fill-rule="evenodd"/><path d="M81,-19.7 81,-19.4 81,-19.1 80.9,-18.8 80.9,-18.5 80.8,-18.3 80.8,-18 80.7,-17.7 80.6,-17.4 80.5,-17.2 80.4,-16.9 80.3,-16.7 80.2,-16.4 80.1,-16.2 80,-16 79.8,-15.8 79.7,-15.6 79.5,-15.4 79.4,-15.2 79.2,-15 79.1,-14.9 78.9,-14.7 78.7,-14.6 78.5,-14.5 78.3,-14.4 78.2,-14.3 78,-14.2 77.8,-14.1 77.6,-14.1 77.4,-14 77.2,-14 77,-14 76.8,-14 76.6,-14 76.4,-14.1 76.2,-14.1 76,-14.2 75.8,-14.3 75.7,-14.4 75.5,-14.5 75.3,-14.6 75.1,-14.7 74.9,-14.9 74.8,-15 74.6,-15.2 74.5,-15.4 74.3,-15.6 74.2,-15.8 74,-16 73.9,-16.2 73.8,-16.4 73.7,-16.7 73.6,-16.9 73.5,-17.2 73.4,-17.4 73.3,-17.7 73.2,-18 73.2,-18.3 73.1,-18.5 73.1,-18.8 73,-19.1 73,-19.4 73,-19.7 73,-20 73,-20.3 73,-20.6 73,-20.9 73.1,-21.2 73.1,-21.5 73.2,-21.7 73.2,-22 73.3,-22.3 73.4,-22.6 73.5,-22.8 73.6,-23.1 73.7,-23.3 73.8,-23.6 73.9,-23.8 74,-24 74.2,-24.2 74.3,-24.4 74.5,-24.6 74.6,-24.8 74.8,-25 74.9,-25.1 75.1,-25.3 75.3,-25.4 75.5,-25.5 75.7,-25.6 75.8,-25.7 76,-25.8 76.2,-25.9 76.4,-25.9 76.6,-26 76.8,-26 77,-26 77.2,-26 77.4,-26 77.6,-25.9 77.8,-25.9 78,-25.8 78.2,-25.7 78.3,-25.6 78.5,-25.5 78.7,-25.4 78.9,-25.3 79.1,-25.1 79.2,-25 79.4,-24.8 79.5,-24.6 79.7,-24.4 79.8,-24.2 80,-24 80.1,-23.8 80.2,-23.6 80.3,-23.3 80.4,-23.1 80.5,-22.8 80.6,-22.6 80.7,-22.3 80.8,-22 80.8,-21.7 80.9,-21.5 80.9,-21.2 81,-20.9 81,-20.6 81,-20.3 81,-20Z" fill="#d7d7ff" fill-rule="evenodd"/><ellipse cx="65" cy="-12" rx="9" ry="7" fill="#b3b3ff"/><ellipse cx="87" cy="-14" rx="6" ry="6" fill="#adadff"/><path d="M95,-28 120,-33 120,-26.8 119.7,-26.5 119.5,-25.5 118.5,-24.6 118,-24.4 116.5,-22.9 115,-22.7 113.5,-22.2 112,-21.8 110.5,-21.2 110.2,-20.3 109.7,-21.5 108.5,-21.7 108,-21.5 106.6,-20.2 105.8,-19 106.5,-18 107,-17 108.3,-16 108.8,-15.3 109.3,-13.5 109.3,-12 108.8,-11.2 107.5,-10.5 106.5,-9.5 105,-8.6 104.8,-10.4 104.3,-10.5 103,-10.8 102.5,-12 101,-12.7 100,-13.5 100,-12.2 99.2,-10 99.5,-9.3 100.3,-8.4 100.5,-7.2 101.3,-6.9 102.2,-6.2 103.4,-4.8 103.5,-2.8 104.3,-1.4 103.5,-1.3 101.3,-2.9 100.6,-4 100.3,-5.6 100.2,-6.5 99,-7.9 98.3,-8 98.6,-10 98.6,-12 98.2,-13.5 97.8,-16 97.3,-16.6 96.5,-16.8 95.5,-15.8 95,-15.9Z" fill="#aaaaff" fill-rule="evenodd"/><path d="M108,-22 125,-32 145,-38 165,-42 180,-44 180,-27 150,-24 122,-18Z" fill="#b9b9ff"/><path d="M100,-15 125,-22 150,-26 180,-27 180,-12 150,-11 120,-9 100,-8Z" fill="#9b9bff"/><ellipse cx="120" cy="-18" rx="12" ry="4.5" fill="#7d7dff"/><ellipse cx="156" cy="-2.5" rx="24" ry="3.3" fill="#ffffff"/><ellipse cx="132" cy="2" rx="12" ry="4" fill="#b9b9ff"/><ellipse cx="-113" cy="13" rx="36" ry="9" fill="#b9b9ff" transform="rotate(12 -113 13)"/><ellipse cx="-115" cy="13.5" rx="24" ry="5.5" fill="#9b9bff" transform="rotate(14 -115 13.5)"/><path d="M-180,9 -160,10 -145,14 -148,22 -180,24Z" fill="#efefff"/><ellipse cx="-168" cy="31" rx="6" ry="2.5" fill="#b9b9ff"/><path d="M-180,42 -120,43 -75,44 -65,48 -65,55 -180,55Z" fill="#b9b9ff"/><path d="M80,44 120,42 180,42 180,55 90,55 80,50Z" fill="#b9b9ff"/><ellipse cx="-110" cy="48.5" rx="40" ry="3" fill="#a7a7ff"/><ellipse cx="140" cy="48" rx="30" ry="3" fill="#aaaaff"/><ellipse cx="-12" cy="12" rx="25" ry="9" fill="#9b9bff"/><ellipse cx="0" cy="17" rx="11" ry="4" fill="#7d7dff"/><ellipse cx="40" cy="37" rx="22" ry="7" fill="#b9b9ff"/><ellipse cx="17" cy="25" rx="6" ry="6.5" fill="#7d7dff"/><ellipse cx="17" cy="26.5" rx="3.5" ry="4" fill="#1c1cff"/><ellipse cx="16.5" cy="27" rx="1.8" ry="1.8" fill="#0f9637"/><path d="M-71.5,-10 -71.2,-9.5 -71.1,-10 -61,-10 -60.5,-8.5 -58,-6.8 -56,-5.9 -54,-5.8 -52.5,-5 -51.5,-4 -50.8,-2 -50,-1.5 -50,-0.2 -48.5,1 -47,0.6 -44.5,2.5 -42,2.8 -40,2.8 -38,3.8 -37,5 -35.3,5.5 -35,7 -35,9.5 -36.5,10.5 -37.5,12.5 -39,14 -39,17.5 -39.8,19.5 -40.5,21.5 -42,23 -45,23.7 -47,24.5 -48.5,26 -48.8,28.5 -50,30 -51,31 -52.5,33 -53.5,34 -55,34.9 -56.5,34.8 -58.3,34 -58.5,34.5 -57,36.5 -57.8,38.3 -60,38.8 -62,39 -62.3,40.5 -65,41 -64.5,42.5 -63.8,42.2 -65,43.5 -65.5,45 -67.5,46.3 -66,47.8 -67.5,49 -69,50.5 -68.5,52.3 -69.5,52.5 -68.5,53.3 -67.5,54.5 -65.5,55 -67,55.3 -69,55.5 -71,55 -72.5,54 -74,52.5 -75.3,50 -75.4,47.8 -74.5,46.5 -73.5,44.5 -73.5,42 -73.3,40 -73.5,37.5 -72.5,35.5 -71.5,32.5 -71.4,28 -70.5,25 -70.5,23 -70.2,18.5 -71.5,17.5 -73,16.5 -76,14 -76.5,12.5 -77.5,11 -79,8.2 -79.5,7 -80,6.6 -80,2.5 -80,-0.8 -78.9,-1.5 -78.5,-2.5 -77.3,-3.8 -77.4,-6.5 -77.8,-7.5 -77.3,-8.5 -76.5,-9.5 -76,-10Z" fill="#c5c5ff" fill-rule="evenodd"/><ellipse cx="85" cy="22" rx="38" ry="13" fill="#b9b9ff"/><ellipse cx="85" cy="19" rx="24" ry="4.5" fill="#9b9bff"/><ellipse cx="82" cy="4" rx="22" ry="5" fill="#ffffff"/><path d="M114.2,21.8 115,21.5 116.7,20.6 118.5,20.3 120,20 121.3,19.5 122.2,18 123.5,17 125,15 126,14 127.7,14.3 128.5,14.9 129.5,14.8 130,13.2 131,12.2 133,11.3 135.5,12 136.8,12.2 135.5,14.8 137.3,16 139,16.8 140,17.7 141.5,17 141.5,15 141.6,12.8 142,11.5 142.5,10.7 143.5,13.5 144,14.3 145.3,14.8 145.4,16 146,17 146.3,19 148,19.8 149,20.5 150.8,22.5 151.5,24 153,25 153.6,28 153,31 152.5,32.3 151.2,33.9 150.2,35.5 150,37.5 148,37.8 146.3,39 145,38 143.5,38.8 141.5,38.3 140,37.5 139.5,36.5 138.5,35.5 137.5,35.5 137.8,34 137.8,32.7 136,34.5 135.6,34.8 134,32.5 131,31.5 129,31.7 126,32.3 123.5,33.9 120,34 118,35 116.5,35 115,34.3 115.7,33.5 115.7,31.8 115,29.5 114,26.5 113.5,24.5 113.5,22Z" fill="#ebebff" fill-rule="evenodd"/><ellipse cx="170" cy="25" rx="10" ry="12" fill="#c5c5ff"/><path d="M-180,61 -60,60 -30,53 60,53 100,56 180,56 180,90 -180,90Z" fill="#ffffff"/><path d="M-180,-57 -160,-55 -140,-57 -130,-52 -125,-48 -60,-48 -45,-52 -30,-57 0,-62 10,-65 45,-70 170,-65 180,-62 180,-90 -180,-90Z" fill="#ffffff"/><path d="M-85.5,-10 -85.7,-11.1 -87.5,-13 -88.5,-13.3 -91.5,-14 -93,-15.6 -94.5,-16.2 -97,-16 -98.5,-16.3 -101.5,-17.5 -104.5,-19.2 -105.5,-20 -105.3,-21.5 -106.5,-23.5 -108,-25.2 -109,-26.5 -110.6,-27.8 -112.2,-29.5 -113,-31 -114.8,-31.8 -114.3,-30 -113,-29 -112.2,-27.5 -111.3,-25.6 -110.5,-24.2 -109.5,-23 -110.3,-23.5 -112,-24.8 -112.2,-26 -114,-27.5 -114.3,-28.6 -116,-30.5 -116.7,-31.8 -117.1,-32.5 -118.5,-34 -120.6,-34.6 -121.9,-36.5 -122.5,-37.5 -123,-38 -123.8,-39.5 -124.2,-40.5 -124.1,-42 -124.5,-43 -124,-46 -124.7,-48.4 -123,-48.5 -123,-49 -125,-50 -127.5,-50.8 -128,-52 -130,-54.5 -131.5,-55.5 -133,-57 -135,-58.2 -137,-58.5 -139.5,-59.6 -142,-60 -146,-60.8 -148,-60 -150,-59.5 -151.5,-59.2 -152.5,-58 -154,-57.5 -156.5,-56.5 -158,-56.5 -161,-55.5 -163,-55 -164.5,-54.5 -162,-55.6 -160,-56.5 -158,-57.8 -157,-58.7 -159,-58.4 -162,-58.5 -162,-60 -165,-60.5 -165,-61.8 -164.5,-63 -161,-64.5 -163.5,-64.6 -166,-64.7 -166.5,-65.3 -168,-65.5 -163,-67 -166,-68.8 -161,-70.3 -156.8,-71.3 -152,-70.8 -150,-70.4 -145,-70.1 -141,-69.7 -136,-69 -133,-69.6 -128,-70.2 -124,-69.6 -120,-69.3 -114,-68.3 -108,-68.5 -104,-68 -98,-67.8 -96,-69.5 -95,-71.5 -92,-70 -90,-68.5 -85,-69.5 -82,-68.5 -81.5,-66.8 -86,-66.2 -87,-64.5 -91,-62.8 -94.5,-61 -93.5,-58.8 -92.5,-57 -88,-56.5 -85,-55.3 -82.3,-52.9 -80.5,-51.3 -79,-51.5 -79,-54.5 -76.8,-56.5 -77.5,-58.5 -78,-60.5 -77.5,-62.5 -73,-62 -70,-61 -69.5,-59 -67,-58.3 -65,-60.3 -64,-59.3 -61.5,-56 -59,-55 -57,-53 -55.7,-52 -57.5,-51.3 -60,-50.2 -64,-50.2 -66.5,-50 -68.6,-48.7 -65,-49.2 -64.3,-48.5 -65,-47.5 -64.5,-46.2 -61.5,-45.6 -60,-46 -61,-45 -64,-44.5 -65.8,-43.6 -66,-44.8 -67.8,-44.5 -70,-43.7 -70.6,-42.5 -70,-41.7 -71.5,-41.4 -74,-40.6 -74.2,-39.5 -75.5,-38.5 -75.9,-37 -76,-35.5 -75.5,-35.2 -77,-34.5 -79,-33.3 -81,-31.5 -81.3,-29.8 -80,-26.5 -80.5,-25.2 -81.3,-25.8 -82,-26.5 -82.7,-28 -83,-29 -84,-30 -85.5,-29.7 -87,-30.4 -89,-30.2 -89.5,-29.2 -90.5,-29.1 -92,-29.6 -94,-29.6 -95.5,-28.7 -97.2,-27.8 -97.5,-26 -97.7,-24 -97.3,-21.5 -96.2,-19.5 -95,-18.6 -94,-18.2 -91.5,-18.5 -90.5,-19.8 -90.3,-21 -87,-21.5 -87.5,-19.8 -87.8,-18.3 -88.3,-17.5 -88.3,-16 -86,-15.9 -84,-15.8 -83.3,-15 -83.6,-13 -83.3,-11 -82.6,-10Z" fill="#ffffff" fill-rule="evenodd"/><path d="M-180,-69 -176,-67.8 -174,-67 -171.8,-66.9 -169.8,-66 -171,-65.5 -172.5,-64.5 -175,-64.8 -178,-64.7 -180,-65.3ZM180,-65.3 178.7,-64.5 177.5,-64.7 179,-62.8 177,-62.5 173.5,-61.7 170.5,-60.2 168,-60.5 164.8,-59.8 163.4,-59.3 162,-58 158,-58 161,-60.5 160.5,-61.3 159.5,-61.8 157,-61.5 154,-59.5 151,-59 148,-59.3 145.5,-59.4 143,-59.3 141.5,-58.7 140.7,-58 24,-58 23.7,-58.8 24.5,-59.4 26,-59.6 28,-60 29.5,-60.1 26,-60.4 23,-60 21.3,-60.7 21.5,-63 23.5,-64 25.3,-65 24.5,-65.8 22.5,-65.8 21.2,-65 19.5,-63.5 17.5,-62.3 17.3,-61 18.8,-60 18.3,-59.2 16.5,-58.5 16.5,-58 11.6,-58 11,-58.8 10.5,-59.6 10,-59 8,-58 6.5,-58.1 5.5,-58.8 5,-60 5,-61 5.5,-62.3 7,-62.8 9,-63.5 10.5,-64.5 12.5,-65.8 13.5,-67.8 15,-68.4 16,-69 18,-69.7 19,-70 21,-70.2 23.5,-70.8 25.5,-71.1 28,-71 30,-70.5 31,-70 33,-69.3 36.5,-69 40,-67.8 41,-67.5 41,-66.7 39,-66 35,-66.3 34,-65 36,-64.5 37.5,-64.2 40.5,-64.6 42,-66.3 44.2,-66.5 44.2,-68.5 46,-68 48,-67.7 53.5,-68.5 58,-68.9 60.5,-69.8 64,-69.4 67,-69.2 67,-70.5 66.8,-71.5 69,-73 70.5,-73.2 72,-72.5 72.5,-71 72,-68.5 73.6,-68.5 74,-70 73,-71.5 72.8,-72.7 76,-72 78,-72.3 80,-72.3 81,-73.5 84,-73.8 87,-74 86.5,-75.2 90,-75.6 95,-76 99,-76.5 104,-77.7 107,-77 111,-76.7 113.5,-76 113,-74 112,-73.5 115,-73.7 118.5,-73.6 123,-73 127,-73.5 129,-72.5 129.5,-71 132,-71.5 136,-71.6 140,-72.5 143,-72.7 146,-72.3 150,-71.5 152,-70.9 155,-71.1 159,-70.8 161,-69.5 165,-69.6 170,-70 175,-69.8 178,-69.4 180,-69ZM-5.4,-58 -5,-58.6 -3.1,-58.6 -2.3,-58ZM-77.3,-58 -77.5,-58.5 -78,-60.5 -77.5,-62.5 -73,-62 -70,-61 -69.5,-59 -67,-58.3 -65,-60.3 -64,-59.3 -63,-58ZM-134.7,-58 -135,-58.2 -137,-58.5 -139.5,-59.6 -142,-60 -146,-60.8 -148,-60 -150,-59.5 -151.5,-59.2 -152.5,-58 -157.8,-58 -157,-58.7 -159,-58.4 -162,-58.5 -162,-60 -165,-60.5 -165,-61.8 -164.5,-63 -161,-64.5 -163.5,-64.6 -166,-64.7 -166.5,-65.3 -168,-65.5 -163,-67 -166,-68.8 -161,-70.3 -156.8,-71.3 -152,-70.8 -150,-70.4 -145,-70.1 -141,-69.7 -136,-69 -133,-69.6 -128,-70.2 -124,-69.6 -120,-69.3 -114,-68.3 -108,-68.5 -104,-68 -98,-67.8 -96,-69.5 -95,-71.5 -92,-70 -90,-68.5 -85,-69.5 -82,-68.5 -81.5,-66.8 -86,-66.2 -87,-64.5 -91,-62.8 -94.5,-61 -93.5,-58.8 -93.1,-58ZM-84,-65.5 -81,-63.8 -87,-63.5 -86,-66ZM-18.7,-63.4 -22.5,-64 -24,-65.5 -22,-66.4 -18,-66.2 -14.5,-66.4 -13.5,-65 -15,-64.3ZM-71.5,-63.5 -74,-64.5 -77.8,-64.4 -73,-67 -73.5,-68 -77,-69.5 -79,-70 -84,-69.8 -87,-70 -89,-71.5 -86,-73.8 -80,-73.5 -76,-72.5 -71.5,-71 -68.5,-70.2 -66.5,-68.5 -61.8,-66.8 -64,-65.5 -65,-64.5 -64.5,-63 -66,-62 -68,-62.5ZM-114,-68.4 -117.5,-69.5 -118.5,-71 -117.8,-72.4 -120,-71.5 -125.5,-71.9 -123,-73.8 -118.5,-74.5 -115.5,-73.4 -116.3,-73.1 -113,-73.2 -107,-73.5 -104.5,-71.5 -101.5,-69.6 -107,-68.8ZM-32,-83.6 -24,-82.9 -20,-82 -12,-81.5 -17,-80 -19,-78.5 -18,-77 -19,-74 -22,-72.5 -22,-70.5 -24.5,-69.5 -27,-68.5 -31,-68 -34,-66.5 -37,-65.7 -40,-65 -41,-63.5 -42.5,-61 -43.5,-60 -45.5,-60.5 -48,-61.2 -49.5,-62.8 -51,-64 -52.5,-65.5 -53.5,-67 -52.5,-68.5 -51,-69.6 -54,-70.5 -54.5,-71.5 -55.5,-72.5 -56,-73.5 -58,-75.2 -62,-76 -66,-76.1 -68,-76.5 -71,-77.2 -73,-78 -69,-79 -66,-80.2 -62,-81.3 -57,-82.2 -50,-82.5 -42,-83.2ZM-96,-72 -101,-72 -98,-74 -93,-73.5ZM-87,-79 -91,-81 -80,-83 -70,-83 -62,-82.5 -66,-80.5 -75,-78.5 -80,-76.2 -88.6,-76.5 -79.5,-75.5 -80.5,-74.5 -91,-74.7 -89,-76.5 -90,-76.5ZM-96,-78 -100,-76 -120,-76 -110,-78.5ZM58,-71 56,-70.5 52,-71.5 55,-74.5 60,-76.5 67,-77 68,-76.5 60,-75.5 56,-73ZM11,-79.8 20,-80.5 27,-79.5 22,-77.5 16,-76.5 11,-78.5ZM95,-80.5 102,-81 106,-79 100,-78 95,-79ZM143,-73.5 136,-75.5 142,-76 150,-75Z" fill="#ffffff" fill-rule="evenodd"/><path d="M-69,-79 -66,-80.2 -62,-81.3 -57,-82.2 -50,-82.5 -42,-83.2 -32,-83.6 -24,-82.9 -20,-82 -12,-81.5 -17,-80 -19,-78.5 -18,-77 -19,-74 -22,-72.5 -22,-70.5 -24.5,-69.5 -27,-68.5 -31,-68 -34,-66.5 -37,-65.7 -40,-65 -41,-63.5 -42.5,-61 -43.5,-60 -45.5,-60.5 -48,-61.2 -49.5,-62.8 -51,-64 -52.5,-65.5 -53.5,-67 -52.5,-68.5 -51,-69.6 -54,-70.5 -54.5,-71.5 -55.5,-72.5 -56,-73.5 -58,-75.2 -62,-76 -66,-76.1 -68,-76.5 -71,-77.2 -73,-78Z" fill="#d5d5d5" fill-rule="evenodd"/><path d="M-18.7,-63.4 -22.5,-64 -24,-65.5 -22,-66.4 -18,-66.2 -14.5,-66.4 -13.5,-65 -15,-64.3Z" fill="#d5d5d5" fill-rule="evenodd"/><path d="M80,-72.3 81,-73.5 84,-73.8 87,-74 86.5,-75.2 90,-75.6 95,-76 99,-76.5 104,-77.7 107,-77 111,-76.7 113.5,-76 113,-74 112,-73.5 115,-73.7 115,-70 80,-70ZM95,-80.5 102,-81 106,-79 100,-78 95,-79Z" fill="#d5d5d5" fill-rule="evenodd"/><use href="#bd"/><use href="#cs"/></svg>
<svg class="frame" style="left:44.00px;top:260.20px;width:307.80px;height:162.00px"><rect x="8" y="8" width="291.8" height="146" fill="none" stroke="#3a3a3a" stroke-width="1.1"/><path d="M8.00 8.00v-5.00M8.00 154.00v5.00M16.11 8.00v-2.50M16.11 154.00v2.50M24.21 8.00v-2.50M24.21 154.00v2.50M32.32 8.00v-5.00M32.32 154.00v5.00M40.42 8.00v-2.50M40.42 154.00v2.50M48.53 8.00v-2.50M48.53 154.00v2.50M56.63 8.00v-5.00M56.63 154.00v5.00M64.74 8.00v-2.50M64.74 154.00v2.50M72.84 8.00v-2.50M72.84 154.00v2.50M80.95 8.00v-5.00M80.95 154.00v5.00M89.06 8.00v-2.50M89.06 154.00v2.50M97.16 8.00v-2.50M97.16 154.00v2.50M105.27 8.00v-5.00M105.27 154.00v5.00M113.37 8.00v-2.50M113.37 154.00v2.50M121.48 8.00v-2.50M121.48 154.00v2.50M129.58 8.00v-5.00M129.58 154.00v5.00M137.69 8.00v-2.50M137.69 154.00v2.50M145.79 8.00v-2.50M145.79 154.00v2.50M153.90 8.00v-5.00M153.90 154.00v5.00M162.01 8.00v-2.50M162.01 154.00v2.50M170.11 8.00v-2.50M170.11 154.00v2.50M178.22 8.00v-5.00M178.22 154.00v5.00M186.32 8.00v-2.50M186.32 154.00v2.50M194.43 8.00v-2.50M194.43 154.00v2.50M202.53 8.00v-5.00M202.53 154.00v5.00M210.64 8.00v-2.50M210.64 154.00v2.50M218.74 8.00v-2.50M218.74 154.00v2.50M226.85 8.00v-5.00M226.85 154.00v5.00M234.96 8.00v-2.50M234.96 154.00v2.50M243.06 8.00v-2.50M243.06 154.00v2.50M251.17 8.00v-5.00M251.17 154.00v5.00M259.27 8.00v-2.50M259.27 154.00v2.50M267.38 8.00v-2.50M267.38 154.00v2.50M275.48 8.00v-5.00M275.48 154.00v5.00M283.59 8.00v-2.50M283.59 154.00v2.50M291.69 8.00v-2.50M291.69 154.00v2.50M299.80 8.00v-5.00M299.80 154.00v5.00M8.00 8.00h-5.00M299.80 8.00h5.00M8.00 16.11h-2.50M299.80 16.11h2.50M8.00 24.22h-2.50M299.80 24.22h2.50M8.00 32.33h-5.00M299.80 32.33h5.00M8.00 40.44h-2.50M299.80 40.44h2.50M8.00 48.56h-2.50M299.80 48.56h2.50M8.00 56.67h-5.00M299.80 56.67h5.00M8.00 64.78h-2.50M299.80 64.78h2.50M8.00 72.89h-2.50M299.80 72.89h2.50M8.00 81.00h-5.00M299.80 81.00h5.00M8.00 89.11h-2.50M299.80 89.11h2.50M8.00 97.22h-2.50M299.80 97.22h2.50M8.00 105.33h-5.00M299.80 105.33h5.00M8.00 113.44h-2.50M299.80 113.44h2.50M8.00 121.56h-2.50M299.80 121.56h2.50M8.00 129.67h-5.00M299.80 129.67h5.00M8.00 137.78h-2.50M299.80 137.78h2.50M8.00 145.89h-2.50M299.80 145.89h2.50M8.00 154.00h-5.00M299.80 154.00h5.00" stroke="#3a3a3a" stroke-width="0.9" fill="none"/></svg>
<div class="yl" style="left:-20.50px;top:262.60px">90N</div>
<div class="yl" style="left:-20.50px;top:286.93px">60N</div>
<div class="yl" style="left:-20.50px;top:311.27px">30N</div>
<div class="yl" style="left:-20.50px;top:335.60px">0</div>
<div class="yl" style="left:-20.50px;top:359.93px">30S</div>
<div class="yl" style="left:-20.50px;top:384.27px">60S</div>
<div class="yl" style="left:-20.50px;top:408.60px">90S</div>
<div class="xl" style="left:22.00px;top:425.50px">180</div>
<div class="xl" style="left:46.32px;top:425.50px">150W</div>
<div class="xl" style="left:70.63px;top:425.50px">120W</div>
<div class="xl" style="left:94.95px;top:425.50px">90W</div>
<div class="xl" style="left:119.27px;top:425.50px">60W</div>
<div class="xl" style="left:143.58px;top:425.50px">30W</div>
<div class="xl" style="left:167.90px;top:425.50px">0</div>
<div class="xl" style="left:192.22px;top:425.50px">30E</div>
<div class="xl" style="left:216.53px;top:425.50px">60E</div>
<div class="xl" style="left:240.85px;top:425.50px">90E</div>
<div class="xl" style="left:265.17px;top:425.50px">120E</div>
<div class="xl" style="left:289.48px;top:425.50px">150E</div>
<div class="xl" style="left:313.80px;top:425.50px">180</div>
<div class="tl" style="left:52.30px;top:251.60px">AOD 550 nm</div>
<div class="tc" style="left:52.00px;top:251.60px;width:291.80px">CAM-TROPMAM-DJF</div>
<div class="tr" style="left:243.80px;top:251.60px">0.10</div>
<div class="lab" style="left:55.80px;top:385.80px">b)</div>
<svg class="cb" style="left:52.70px;top:441.00px;width:289.60px;height:9.80px"><rect x="0.50" y="0.5" width="9.31" height="8.80" fill="#ffffff"/><rect x="9.81" y="0.5" width="9.31" height="8.80" fill="#d7d7ff"/><rect x="19.12" y="0.5" width="9.31" height="8.80" fill="#b9b9ff"/><rect x="28.43" y="0.5" width="9.31" height="8.80" fill="#9b9bff"/><rect x="37.74" y="0.5" width="9.31" height="8.80" fill="#7d7dff"/><rect x="47.05" y="0.5" width="9.31" height="8.80" fill="#5c5cff"/><rect x="56.36" y="0.5" width="9.31" height="8.80" fill="#3a3aff"/><rect x="65.67" y="0.5" width="9.31" height="8.80" fill="#1c1cff"/><rect x="74.98" y="0.5" width="9.31" height="8.80" fill="#0000fa"/><rect x="84.29" y="0.5" width="9.31" height="8.80" fill="#0523d7"/><rect x="93.60" y="0.5" width="9.31" height="8.80" fill="#0a37b9"/><rect x="102.91" y="0.5" width="9.31" height="8.80" fill="#0f5596"/><rect x="112.22" y="0.5" width="9.31" height="8.80" fill="#0f6e78"/><rect x="121.53" y="0.5" width="9.31" height="8.80" fill="#0f8750"/><rect x="130.84" y="0.5" width="9.31" height="8.80" fill="#0f9637"/><rect x="140.15" y="0.5" width="9.31" height="8.80" fill="#0fb414"/><rect x="149.45" y="0.5" width="9.31" height="8.80" fill="#2dbe19"/><rect x="158.76" y="0.5" width="9.31" height="8.80" fill="#4bc81e"/><rect x="168.07" y="0.5" width="9.31" height="8.80" fill="#64cd23"/><rect x="177.38" y="0.5" width="9.31" height="8.80" fill="#8cd71e"/><rect x="186.69" y="0.5" width="9.31" height="8.80" fill="#bee614"/><rect x="196.00" y="0.5" width="9.31" height="8.80" fill="#e6f50a"/><rect x="205.31" y="0.5" width="9.31" height="8.80" fill="#fff000"/><rect x="214.62" y="0.5" width="9.31" height="8.80" fill="#ffd200"/><rect x="223.93" y="0.5" width="9.31" height="8.80" fill="#ffb900"/><rect x="233.24" y="0.5" width="9.31" height="8.80" fill="#ff9600"/><rect x="242.55" y="0.5" width="9.31" height="8.80" fill="#ff7800"/><rect x="251.86" y="0.5" width="9.31" height="8.80" fill="#ff5000"/><rect x="261.17" y="0.5" width="9.31" height="8.80" fill="#ff2d00"/><rect x="270.48" y="0.5" width="9.31" height="8.80" fill="#ff1400"/><rect x="279.79" y="0.5" width="9.31" height="8.80" fill="#ff0000"/><path d="M0.50 0.5v8.80M9.81 0.5v8.80M19.12 0.5v8.80M28.43 0.5v8.80M37.74 0.5v8.80M47.05 0.5v8.80M56.36 0.5v8.80M65.67 0.5v8.80M74.98 0.5v8.80M84.29 0.5v8.80M93.60 0.5v8.80M102.91 0.5v8.80M112.22 0.5v8.80M121.53 0.5v8.80M130.84 0.5v8.80M140.15 0.5v8.80M149.45 0.5v8.80M158.76 0.5v8.80M168.07 0.5v8.80M177.38 0.5v8.80M186.69 0.5v8.80M196.00 0.5v8.80M205.31 0.5v8.80M214.62 0.5v8.80M223.93 0.5v8.80M233.24 0.5v8.80M242.55 0.5v8.80M251.86 0.5v8.80M261.17 0.5v8.80M270.48 0.5v8.80M279.79 0.5v8.80M289.10 0.5v8.80" stroke="#444" stroke-width="0.6" fill="none"/><rect x="0.5" y="0.5" width="288.60" height="8.80" fill="none" stroke="#444" stroke-width="0.7"/></svg>
<div class="cl" style="left:41.82px;top:452.10px">0.1</div>
<div class="cl" style="left:69.75px;top:452.10px">0.25</div>
<div class="cl" style="left:97.68px;top:452.10px">0.4</div>
<div class="cl" style="left:125.61px;top:452.10px">0.55</div>
<div class="cl" style="left:153.54px;top:452.10px">0.7</div>
<div class="cl" style="left:181.46px;top:452.10px">0.85</div>
<div class="cl" style="left:209.39px;top:452.10px">1</div>
<div class="cl" style="left:237.32px;top:452.10px">1.15</div>
<div class="cl" style="left:265.25px;top:452.10px">1.3</div>
<div class="cl" style="left:293.18px;top:452.10px">1.45</div>
<svg class="map" style="left:416.50px;top:268.30px;width:291.80px;height:146.00px" viewBox="-180 -90 360 180" preserveAspectRatio="none"><rect x="-180" y="-90" width="360" height="180" fill="#e1e1ff"/><path d="M-180,-36 -160,-37 -130,-34 -122,-26 -126,-12 -150,-11 -180,-12Z" fill="#ffe1e1"/><ellipse cx="-155" cy="-16.5" rx="22" ry="6.5" fill="#ffafaf"/><path d="M118,-22 150,-21 180,-21 180,-7 150,-7 118,-10Z" fill="#ffe1e1"/><ellipse cx="162" cy="-14" rx="19" ry="4.8" fill="#ffafaf"/><ellipse cx="128" cy="-16" rx="7" ry="3" fill="#ffc3c3"/><path d="M-180,-12 -140,-11.5 -100,-11 -85,-9 -80,-2 -100,0 -140,0 -180,-1Z" fill="#b4b4ff"/><path d="M-180,-8 -130,-7.5 -95,-6 -95,-3 -130,-3 -180,-4Z" fill="#8282ff"/><ellipse cx="-82" cy="-3" rx="4" ry="3" fill="#0005ff"/><path d="M-180,-62 -165,-60 -150,-58 -138,-59 -140,-54 -160,-50 -180,-52Z" fill="#b4b4ff"/><ellipse cx="-172" cy="-58" rx="8" ry="3" fill="#8282ff"/><path d="M-65,-48 -67.4,-44.6 -67.8,-44.5 -70,-43.7 -70.6,-42.5 -70,-41.7 -71.5,-41.4 -74,-40.6 -74.2,-39.5 -75.5,-38.5 -75.7,-37.7 -95,-36 -112,-40 -112,-49Z" fill="#9b9bff" fill-rule="evenodd"/><path d="M-112,-40 -100,-33 -97.2,-27.7 -97.5,-26 -97.7,-24 -97.3,-21.5 -96.2,-19.5 -95,-18.6 -94,-18.2 -92.3,-18.4 -90,-14 -91.7,-14.2 -93,-15.6 -94.5,-16.2 -97,-16 -98.5,-16.3 -101.5,-17.5 -104.5,-19.2 -105.5,-20 -105.3,-21.5 -106.5,-23.5 -108,-25.2 -109,-26.5 -110.6,-27.8 -112.2,-29.5 -113,-31 -114.8,-31.8 -114.3,-30 -113,-29 -112.2,-27.5 -111.3,-25.6 -110.5,-24.2 -109.5,-23 -109.9,-23.3 -112,-25 -112.2,-26 -114,-27.5 -114.3,-28.6 -116,-30.5 -116.7,-31.8 -117.1,-32.5 -118.5,-34 -120.6,-34.6 -121.9,-36.5 -122.5,-37.5 -123,-38 -123.8,-39.5 -124,-40Z" fill="#f0e1f0" fill-rule="evenodd"/><ellipse cx="-90" cy="-25" rx="7" ry="4" fill="#b4b4ff"/><ellipse cx="-100" cy="-13" rx="6" ry="3" fill="#b4b4ff"/><ellipse cx="-67" cy="-8" rx="6" ry="3" fill="#ff5252"/><path d="M-38,-63 -10,-61 5,-55 5,-41 -20,-40 -38,-46Z" fill="#ffe1e1"/><path d="M-62,-58 -50,-63 -45,-60 -45,-50 -55,-45 -62,-45Z" fill="#9b9bff"/><ellipse cx="-47" cy="-15" rx="14" ry="9" fill="#ffc8c8"/><ellipse cx="-48" cy="-14" rx="10" ry="6" fill="#ffafaf"/><path d="M-45,0 -20,-1 0,-3 10,-3 10,1 -10,3 -45,2Z" fill="#5252ff"/><path d="M-30,-3 -10,-5 8,-5 8,-2 -10,-1 -30,0Z" fill="#1416ff"/><path d="M18.8,-60 18.3,-59.2 16.5,-58.5 16.5,-57 15.8,-56.1 14.5,-56 12.8,-55.5 12.5,-56.4 11.8,-57.7 11,-58.8 10.5,-59.6 10,-59 8,-58 6.5,-58.1 5.5,-58.8 5,-60ZM45,-60 45,-36 36,-36 36,-36.5 34.5,-36.8 32.5,-36.1 30.5,-36.5 28,-36.8 27.3,-37.5 26.5,-38.5 26.3,-40 27.5,-40.3 29,-41 28.6,-41.1 27,-40.5 26,-40.8 24,-40.8 23,-40.3 22.8,-39.5 24,-38 23,-37.5 22.5,-36.5 21.8,-36.9 21,-37.7 21.2,-38.3 20.2,-39.6 19.4,-41.8 18,-42.7 16,-43.5 15,-44.5 13.7,-45.6 12.3,-45.3 12.5,-44 14,-42.5 15.3,-42 16,-41.4 18.5,-40.2 17.5,-40.3 16.6,-38.8 16,-38 15.7,-38 15.8,-40 14,-40.8 12,-41.9 10.5,-43 9.5,-44 8.8,-44.4 7.5,-43.8 6.5,-43.1 5,-43.4 3.2,-43.2 3.2,-42 2,-41.3 0.5,-40.6 -0.3,-39.5 0.2,-38.7 -0.7,-37.6 -2.1,-36.7 -4.4,-36.7 -5.6,-36 -6.3,-36.8 -7.4,-37.2 -9,-37 -8.8,-38.5 -9.5,-39 -8.8,-41 -8.8,-42.8 -8,-43.7 -5,-43.5 -1.8,-43.4 -1.2,-46 -2.5,-47.3 -4.7,-48.4 -3,-48.8 -1.5,-48.7 -1.3,-49.7 0,-49.6 1.5,-50.5 2.5,-51.1 3.5,-51.5 4.5,-52.5 5,-53.3 7,-53.5 8.5,-53.8 8.8,-54.5 8.5,-55.5 8.2,-57 10.5,-57.7 10.2,-56 10.8,-55.5 11,-54 13,-54.4 14,-54 16,-54.4 18,-54.8 19.5,-54.4 21,-55 21,-57 22,-57.5 23.5,-57 24.3,-57.3 23.7,-58.8 24.5,-59.4 26,-59.6 28,-60Z" fill="#9b9bff" fill-rule="evenodd"/><path d="M35,-33 35.9,-35.5 36,-36.5 35,-36.7 35,-40 62,-40 62,-25.2 59.5,-25.4 57.5,-25.7 57,-27 56.3,-27.2 54,-26.7 52.5,-27.5 51.5,-27.9 50.3,-30 49,-30.4 48.5,-30 48,-29.5 48.5,-28.5 49.5,-27.2 50,-26.5 50.5,-25.2 51.5,-25.8 51.5,-24.7 52,-24 54.5,-24.2 55.5,-25.3 56,-26 56.3,-24.5 57.5,-23.8 58.5,-23.6 59.8,-22.5 58.7,-20.8 57.8,-19 56.5,-18 55,-17 52,-15.8 50,-15 48.7,-14 47,-13.3 45,-12.8 43.4,-12.7 42.8,-15 42.6,-16.5 41.5,-18 40,-20 39.1,-21.7 38.5,-24 37.2,-25.3 36.5,-26 35.5,-27.5 35,-28Z" fill="#6a6aff" fill-rule="evenodd"/><path d="M-16.7,-15.9 -16.5,-16.2 -16.3,-17.1 -12.7,-27.8 -11.5,-28.2 -10,-29.5 -9.8,-31 -9.6,-32 -8.5,-33.2 -6.8,-34 -6.2,-35.2 -5.9,-35.8 -4,-35.2 -2,-35.1 0,-35.8 0.6,-36 10.6,-36 11,-35.2 10.3,-34.3 10.3,-33.5 11.5,-33.1 12,-32.9 15.5,-31.5 16.5,-31.2 19,-30.3 20,-31.5 20,-32.3 22.5,-32.8 23.5,-32.3 25,-31.6 27,-31.3 29,-30.9 31,-31.5 32.3,-31.3 34.2,-31.3 34.3,-30 34.9,-29.5 34.2,-28 33.6,-27.9 33,-29.5 32.5,-29.9 32.7,-28.5 33.9,-27 35,-24.8 35,-15 -17,-15Z" fill="#e7e1f9" fill-rule="evenodd"/><ellipse cx="0" cy="-20" rx="8" ry="4" fill="#9b9bff"/><ellipse cx="-4" cy="-23.5" rx="2.5" ry="2" fill="#ff5252"/><path d="M-17,-15 12,-15 12,-0 9.4,-0 9.5,-1 9.8,-3 9.6,-4 8.5,-4.5 7,-4.4 6,-4.3 5,-5.5 4.5,-6.3 3,-6.4 1,-5.9 -1,-5 -2,-4.8 -4,-5.2 -6,-4.8 -7.5,-4.4 -9.5,-5.5 -11.5,-7 -12.5,-7.5 -13.3,-9 -14.5,-10.3 -15,-11 -16.5,-12 -16.7,-12.5 -16.8,-13.8 -17,-14.1Z" fill="#b4b4ff" fill-rule="evenodd"/><ellipse cx="14" cy="-18" rx="7" ry="3" fill="#5252ff"/><path d="M8,-6 14,-12 20,-18 28,-22 34,-27 37,-22 37,-8 40,-5 37,-1 30,0.5 14,-0.5 8,-3Z" fill="#ff0000"/><path d="M17.5,-10 22,-16 30,-18 34,-22 35,-10 35,-2 25,-1.5 17.5,-2Z" fill="#c30000"/><ellipse cx="28" cy="-8" rx="6" ry="5" fill="#a00000"/><path d="M45,-52 105,-52 125,-50 125,-42 105,-38 45,-36Z" fill="#6a6aff" fill-rule="evenodd"/><ellipse cx="75" cy="-8" rx="22" ry="10" fill="#b4b4ff"/><ellipse cx="60" cy="-45" rx="2.5" ry="2" fill="#ff0000"/><path d="M62,-33 95,-33 95,-15.9 94.5,-16 94.2,-18.8 93.5,-19.5 92.3,-20.7 91.8,-22.3 91.5,-22.5 90.5,-22.2 90,-21.9 89,-21.6 88.5,-21.7 86.9,-20.6 86.5,-19.9 85,-19.4 84,-18.3 82.3,-16.6 81.3,-16.2 80.3,-15.5 80.2,-13.5 80.2,-13 79.8,-11.5 79.8,-10.3 79,-9.3 77.5,-8.1 76.5,-9.5 75.8,-11.5 74.8,-12.8 74.2,-14.8 73.5,-16 73,-18 72.8,-19.3 72.8,-20.5 72.6,-21.3 71.5,-20.8 70.5,-21.2 69.2,-22.3 70,-22.8 68.5,-23.5 67.5,-23.9 66.7,-25.2 64.5,-25.2 62,-25.2Z" fill="#1416ff" fill-rule="evenodd"/><path d="M72,-30 78,-31 88,-27 86,-24 76,-25Z" fill="#0000eb"/><path d="M104,-32.8 103.9,-32.6 103.9,-32.4 103.8,-32.2 103.6,-32 103.5,-31.8 103.3,-31.7 103.1,-31.5 102.8,-31.3 102.6,-31.1 102.3,-30.9 102,-30.8 101.6,-30.6 101.3,-30.5 100.9,-30.3 100.5,-30.2 100.1,-30 99.6,-29.9 99.1,-29.8 98.7,-29.7 98.2,-29.6 97.7,-29.5 97.1,-29.4 96.6,-29.3 96,-29.2 95.5,-29.2 94.9,-29.1 94.3,-29.1 93.8,-29 93.2,-29 92.6,-29 92,-29 91.4,-29 90.8,-29 90.2,-29 89.7,-29.1 89.1,-29.1 88.5,-29.2 88,-29.2 87.4,-29.3 86.9,-29.4 86.3,-29.5 85.8,-29.6 85.3,-29.7 84.9,-29.8 84.4,-29.9 83.9,-30 83.5,-30.2 83.1,-30.3 82.7,-30.5 82.4,-30.6 82,-30.8 81.7,-30.9 81.4,-31.1 81.2,-31.3 80.9,-31.5 80.7,-31.7 80.5,-31.8 80.4,-32 80.2,-32.2 80.1,-32.4 80.1,-32.6 80,-32.8 80,-33 80,-33.2 80.1,-33.4 80.1,-33.6 80.2,-33.8 80.4,-34 80.5,-34.2 80.7,-34.3 80.9,-34.5 81.2,-34.7 81.4,-34.9 81.7,-35.1 82,-35.2 82.4,-35.4 82.7,-35.5 83.1,-35.7 83.5,-35.8 83.9,-36 84.4,-36.1 84.9,-36.2 85.3,-36.3 85.8,-36.4 86.3,-36.5 86.9,-36.6 87.4,-36.7 88,-36.8 88.5,-36.8 89.1,-36.9 89.7,-36.9 90.2,-37 90.8,-37 91.4,-37 92,-37 92.6,-37 93.2,-37 93.8,-37 94.3,-36.9 94.9,-36.9 95.5,-36.8 96,-36.8 96.6,-36.7 97.1,-36.6 97.7,-36.5 98.2,-36.4 98.7,-36.3 99.1,-36.2 99.6,-36.1 100.1,-36 100.5,-35.8 100.9,-35.7 101.3,-35.5 101.6,-35.4 102,-35.2 102.3,-35.1 102.6,-34.9 102.8,-34.7 103.1,-34.5 103.3,-34.3 103.5,-34.2 103.6,-34 103.8,-33.8 103.9,-33.6 103.9,-33.4 104,-33.2 104,-33Z" fill="#cacaff" fill-rule="evenodd"/><path d="M100,-24 105,-40 118,-46 130,-43 132,-33 122,-21 105,-20Z" fill="#0002f5"/><path d="M104,-27 110,-38 118,-42 125,-37 121,-26 110,-23Z" fill="#0000aa"/><path d="M118,-26 132,-40 150,-52 165,-56 170,-48 150,-36 132,-23Z" fill="#6060ff"/><path d="M128,-22 150,-32 180,-40 180,-26 150,-23 128,-20Z" fill="#b4b4ff"/><path d="M92,-6 110,-6 130,-2 142,3 130,9 110,9 92,4Z" fill="#3d3dff"/><ellipse cx="108" cy="0" rx="8" ry="3" fill="#0005ff"/><ellipse cx="70" cy="0" rx="25" ry="8" fill="#b4b4ff"/><ellipse cx="150" cy="0" rx="28" ry="5" fill="#b4b4ff"/><path d="M-180,5 -150,7 -125,15 -125,22 -150,20 -180,15Z" fill="#9b9bff"/><ellipse cx="-167" cy="10" rx="12" ry="4" fill="#8282ff"/><ellipse cx="-108" cy="17" rx="33" ry="11" fill="#ffe1e1" transform="rotate(15 -108 17)"/><ellipse cx="-106" cy="16" rx="14" ry="3.8" fill="#ffafaf" transform="rotate(15 -106 16)"/><path d="M-165,24 -125,26 -105,38 -120,43 -165,37Z" fill="#b4b4ff"/><ellipse cx="-165" cy="41" rx="16" ry="5" fill="#b4b4ff"/><ellipse cx="-12" cy="19" rx="26" ry="11" fill="#ffe1e1"/><ellipse cx="-10" cy="18" rx="21" ry="6.5" fill="#ffafaf"/><ellipse cx="86" cy="22" rx="27" ry="10" fill="#ffe1e1"/><ellipse cx="89" cy="21.5" rx="19" ry="6.5" fill="#ffafaf"/><ellipse cx="45" cy="28" rx="15" ry="4" fill="#ffe1e1"/><path d="M114.2,21.8 115,21.5 116.7,20.6 118.5,20.3 120,20 121.3,19.5 122.2,18 123.5,17 125,15 126,14 127.7,14.3 128.5,14.9 129.5,14.8 130,13.2 131,12.2 133,11.3 135.5,12 136.8,12.2 135.5,14.8 137.3,16 139,16.8 140,17.7 141.5,17 141.5,15 141.6,12.8 142,11.5 142.5,10.7 143.5,13.5 144,14.3 145.3,14.8 145.4,16 146,17 146.3,19 148,19.8 149,20.5 150.8,22.5 151.5,24 153,25 153.6,28 153,31 152.5,32.3 151.2,33.9 150.2,35.5 150,37.5 148,37.8 146.3,39 145,38 143.5,38.8 141.5,38.3 140,37.5 139.5,36.5 138.5,35.5 137.5,35.5 137.8,34 137.8,32.7 136,34.5 135.6,34.8 134,32.5 131,31.5 129,31.7 126,32.3 123.5,33.9 120,34 118,35 116.5,35 115,34.3 115.7,33.5 115.7,31.8 115,29.5 114,26.5 113.5,24.5 113.5,22Z" fill="#ffe1e1" fill-rule="evenodd"/><path d="M60,0 180,0 180,8 60,8Z" fill="#aaaaff"/><path d="M108,7 140,7 140,16 120,18 108,14Z" fill="#8282ff"/><ellipse cx="172" cy="25" rx="12" ry="12" fill="#c2c2ff"/><path d="M-71.5,-10 -71.2,-9.5 -71.1,-10 -61,-10 -60.5,-8.5 -58,-6.8 -56,-5.9 -54,-5.8 -52.5,-5 -51.5,-4 -50.8,-2 -50,-1.5 -50,-0.2 -48.5,1 -47,0.6 -44.5,2.5 -42,2.8 -40,2.8 -38,3.8 -37,5 -35.3,5.5 -35,7 -35,9.5 -36.5,10.5 -37.5,12.5 -39,14 -39,17.5 -39.8,19.5 -40.5,21.5 -42,23 -45,23.7 -47,24.5 -48.5,26 -48.8,28.5 -50,30 -51,31 -52.5,33 -53.5,34 -55,34.9 -56.5,34.8 -58.3,34 -58.5,34.5 -57,36.5 -57.8,38.3 -60,38.8 -62,39 -62.3,40.5 -65,41 -64.5,42.5 -63.8,42.2 -65,43.5 -65.5,45 -67.5,46.3 -66,47.8 -67.5,49 -69,50.5 -68.5,52.3 -69.5,52.5 -68.5,53.3 -67.5,54.5 -65.5,55 -67,55.3 -69,55.5 -71,55 -72.5,54 -74,52.5 -75.3,50 -75.4,47.8 -74.5,46.5 -73.5,44.5 -73.5,42 -73.3,40 -73.5,37.5 -72.5,35.5 -71.5,32.5 -71.4,28 -70.5,25 -70.5,23 -70.2,18.5 -71.5,17.5 -73,16.5 -76,14 -76.5,12.5 -77.5,11 -79,8.2 -79.5,7 -80,6.6 -80,2.5 -80,-0.8 -78.9,-1.5 -78.5,-2.5 -77.3,-3.8 -77.4,-6.5 -77.8,-7.5 -77.3,-8.5 -76.5,-9.5 -76,-10Z" fill="#f0e1f0" fill-rule="evenodd"/><ellipse cx="-62" cy="3" rx="28" ry="10" fill="#8282ff"/><path d="M-36.8,5.4 -37.1,5.9 -37.5,6.4 -38,6.8 -38.5,7.3 -39.1,7.7 -39.7,8.1 -40.4,8.6 -41.1,9 -41.9,9.3 -42.7,9.7 -43.6,10.1 -44.5,10.4 -45.5,10.7 -46.5,11 -47.6,11.3 -48.6,11.6 -49.7,11.8 -50.9,12 -52.1,12.2 -53.2,12.4 -54.5,12.6 -55.7,12.7 -56.9,12.8 -58.2,12.9 -59.5,13 -60.7,13 -62,13 -63.3,13 -64.5,13 -65.8,12.9 -67.1,12.8 -68.3,12.7 -69.5,12.6 -70.8,12.4 -71.9,12.2 -73.1,12 -74.3,11.8 -75.4,11.6 -76.4,11.3 -77.5,11 -77.5,11 -79,8.2 -79.5,7 -81.2,5.5 -81.2,4.5 -80.3,3.5 -80,2.5 -80.9,1.5 -80.3,-0 -80,-0.8 -78.9,-1.5 -78.5,-2.5 -77.3,-3.8 -77.3,-5.1 -76.4,-5.3 -75.4,-5.6 -74.3,-5.8 -73.1,-6 -71.9,-6.2 -70.8,-6.4 -69.5,-6.6 -68.3,-6.7 -67.1,-6.8 -65.8,-6.9 -64.5,-7 -63.3,-7 -62,-7 -60.7,-7 -59.5,-7 -58.2,-6.9 -58.1,-6.9 -58,-6.8 -56,-5.9 -54,-5.8 -52.5,-5 -51.5,-4 -50.8,-2 -50,-1.5 -50,-0.2 -48.5,1 -47,0.6 -44.5,2.5 -42,2.8 -40,2.8 -38,3.8 -37,5 -36.6,5.1Z" fill="#7474ff" fill-rule="evenodd"/><path d="M-64,2.2 -64,2.5 -64.1,2.7 -64.2,3 -64.3,3.2 -64.4,3.5 -64.5,3.7 -64.7,3.9 -64.9,4.1 -65.1,4.4 -65.3,4.6 -65.5,4.8 -65.8,5 -66,5.2 -66.3,5.4 -66.6,5.5 -67,5.7 -67.3,5.9 -67.6,6 -68,6.2 -68.4,6.3 -68.8,6.4 -69.2,6.5 -69.6,6.6 -70,6.7 -70.4,6.8 -70.8,6.9 -71.2,6.9 -71.7,6.9 -72.1,7 -72.6,7 -73,7 -73.4,7 -73.9,7 -74.3,6.9 -74.8,6.9 -75.2,6.9 -75.6,6.8 -76,6.7 -76.4,6.6 -76.8,6.5 -77.2,6.4 -77.6,6.3 -78,6.2 -78.4,6 -78.7,5.9 -79,5.7 -79.4,5.5 -79.7,5.4 -80,5.2 -80.2,5 -80.5,4.8 -80.7,4.6 -80.9,4.4 -81,4.3 -80.3,3.5 -80,2.5 -80.9,1.5 -80.3,-0 -80,-0.8 -78.9,-1.5 -78.8,-1.8 -78.7,-1.9 -78.4,-2 -78,-2.2 -77.6,-2.3 -77.2,-2.4 -76.8,-2.5 -76.4,-2.6 -76,-2.7 -75.6,-2.8 -75.2,-2.9 -74.8,-2.9 -74.3,-2.9 -73.9,-3 -73.4,-3 -73,-3 -72.6,-3 -72.1,-3 -71.7,-2.9 -71.2,-2.9 -70.8,-2.9 -70.4,-2.8 -70,-2.7 -69.6,-2.6 -69.2,-2.5 -68.8,-2.4 -68.4,-2.3 -68,-2.2 -67.6,-2 -67.3,-1.9 -67,-1.7 -66.6,-1.5 -66.3,-1.4 -66,-1.2 -65.8,-1 -65.5,-0.8 -65.3,-0.6 -65.1,-0.4 -64.9,-0.1 -64.7,0.1 -64.5,0.3 -64.4,0.5 -64.3,0.8 -64.2,1 -64.1,1.3 -64,1.5 -64,1.8 -64,2Z" fill="#2828ff" fill-rule="evenodd"/><path d="M-48,1.7 -48,1.9 -48.1,2.1 -48.1,2.3 -48.1,2.5 -48.2,2.7 -48.3,2.8 -48.4,3 -48.5,3.2 -48.6,3.4 -48.7,3.6 -48.8,3.7 -49,3.9 -49.1,4 -49.3,4.2 -49.5,4.3 -49.6,4.5 -49.8,4.6 -50,4.7 -50.2,4.8 -50.4,4.9 -50.6,5 -50.9,5.1 -51.1,5.2 -51.3,5.3 -51.5,5.3 -51.8,5.4 -52,5.4 -52.3,5.5 -52.5,5.5 -52.8,5.5 -53,5.5 -53.2,5.5 -53.5,5.5 -53.7,5.5 -54,5.4 -54.2,5.4 -54.5,5.3 -54.7,5.3 -54.9,5.2 -55.1,5.1 -55.4,5 -55.6,4.9 -55.8,4.8 -56,4.7 -56.2,4.6 -56.4,4.5 -56.5,4.3 -56.7,4.2 -56.9,4 -57,3.9 -57.2,3.7 -57.3,3.6 -57.4,3.4 -57.5,3.2 -57.6,3 -57.7,2.8 -57.8,2.7 -57.9,2.5 -57.9,2.3 -57.9,2.1 -58,1.9 -58,1.7 -58,1.5 -58,1.3 -58,1.1 -57.9,0.9 -57.9,0.7 -57.9,0.5 -57.8,0.3 -57.7,0.2 -57.6,-0 -57.5,-0.2 -57.4,-0.4 -57.3,-0.6 -57.2,-0.7 -57,-0.9 -56.9,-1 -56.7,-1.2 -56.5,-1.3 -56.4,-1.5 -56.2,-1.6 -56,-1.7 -55.8,-1.8 -55.6,-1.9 -55.4,-2 -55.1,-2.1 -54.9,-2.2 -54.7,-2.3 -54.5,-2.3 -54.2,-2.4 -54,-2.4 -53.7,-2.5 -53.5,-2.5 -53.2,-2.5 -53,-2.5 -52.8,-2.5 -52.5,-2.5 -52.3,-2.5 -52,-2.4 -51.8,-2.4 -51.5,-2.3 -51.3,-2.3 -51.1,-2.2 -50.9,-2.1 -50.8,-2.1 -50.8,-2 -50,-1.5 -50,-0.2 -48.5,1 -48.1,0.9 -48.1,0.9 -48,1.1 -48,1.3 -48,1.5Z" fill="#3d3dff" fill-rule="evenodd"/><path d="M-42,20.4 -42,20.8 -42.1,21.2 -42.2,21.6 -42.2,21.9 -42.3,22.3 -42.5,22.7 -42.6,23.1 -42.6,23.2 -45,23.7 -47,24.5 -48.5,26 -48.7,27.9 -48.8,27.9 -49.2,28 -49.6,28 -50,28 -50.4,28 -50.8,28 -51.2,27.9 -51.6,27.8 -51.9,27.8 -52.3,27.7 -52.7,27.5 -53.1,27.4 -53.4,27.2 -53.8,27.1 -54.1,26.9 -54.4,26.7 -54.8,26.4 -55.1,26.2 -55.4,25.9 -55.7,25.7 -55.9,25.4 -56.2,25.1 -56.4,24.8 -56.7,24.4 -56.9,24.1 -57.1,23.8 -57.2,23.4 -57.4,23.1 -57.5,22.7 -57.7,22.3 -57.8,21.9 -57.8,21.6 -57.9,21.2 -58,20.8 -58,20.4 -58,20 -58,19.6 -58,19.2 -57.9,18.8 -57.8,18.4 -57.8,18.1 -57.7,17.7 -57.5,17.3 -57.4,16.9 -57.2,16.6 -57.1,16.2 -56.9,15.9 -56.7,15.6 -56.4,15.2 -56.2,14.9 -55.9,14.6 -55.7,14.3 -55.4,14.1 -55.1,13.8 -54.8,13.6 -54.4,13.3 -54.1,13.1 -53.8,12.9 -53.4,12.8 -53.1,12.6 -52.7,12.5 -52.3,12.3 -51.9,12.2 -51.6,12.2 -51.2,12.1 -50.8,12 -50.4,12 -50,12 -49.6,12 -49.2,12 -48.8,12.1 -48.4,12.2 -48.1,12.2 -47.7,12.3 -47.3,12.5 -46.9,12.6 -46.6,12.8 -46.2,12.9 -45.9,13.1 -45.6,13.3 -45.2,13.6 -44.9,13.8 -44.6,14.1 -44.3,14.3 -44.1,14.6 -43.8,14.9 -43.6,15.2 -43.3,15.6 -43.1,15.9 -42.9,16.2 -42.8,16.6 -42.6,16.9 -42.5,17.3 -42.3,17.7 -42.2,18.1 -42.2,18.4 -42.1,18.8 -42,19.2 -42,19.6 -42,20Z" fill="#ffd2d2" fill-rule="evenodd"/><path d="M-69.3,52.9 -69.5,53 -69.8,53 -70,53 -70.2,53 -70.5,53 -70.7,52.9 -71,52.8 -71.2,52.8 -71.5,52.7 -71.7,52.5 -71.9,52.4 -72.1,52.2 -72.4,52.1 -72.6,51.9 -72.8,51.7 -73,51.4 -73.2,51.2 -73.4,50.9 -73.5,50.7 -73.7,50.4 -73.9,50.1 -74,49.8 -74.2,49.4 -74.3,49.1 -74.4,48.8 -74.5,48.4 -74.6,48.1 -74.7,47.7 -74.8,47.3 -74.8,47 -74.5,46.5 -73.5,44.5 -73.5,42 -73.3,40 -73.4,39.1 -73.4,39.1 -73.2,38.8 -73,38.6 -72.8,38.3 -72.6,38.1 -72.4,37.9 -72.1,37.8 -71.9,37.6 -71.7,37.5 -71.5,37.3 -71.2,37.2 -71,37.2 -70.7,37.1 -70.5,37 -70.2,37 -70,37 -69.8,37 -69.5,37 -69.3,37.1 -69,37.2 -68.8,37.2 -68.5,37.3 -68.3,37.5 -68.1,37.6 -67.9,37.8 -67.6,37.9 -67.4,38.1 -67.2,38.3 -67,38.6 -66.8,38.8 -66.6,39.1 -66.5,39.3 -66.3,39.6 -66.1,39.9 -66,40.2 -65.8,40.6 -65.7,40.9 -65.6,41.2 -65.5,41.6 -65.4,41.9 -65.3,42.3 -65.2,42.7 -65.1,43.1 -65.1,43.4 -65.1,43.7 -65.5,45 -67.5,46.3 -66,47.8 -67.5,49 -69,50.5 -68.5,52.3 -69.5,52.5 -69.1,52.9Z" fill="#9b9bff" fill-rule="evenodd"/><path d="M-61,-8.9 -61,-8.8 -61.1,-8.6 -61.1,-8.5 -61.2,-8.4 -61.3,-8.3 -61.4,-8.2 -61.5,-8 -61.6,-7.9 -61.7,-7.8 -61.9,-7.7 -62,-7.6 -62.2,-7.5 -62.4,-7.4 -62.6,-7.3 -62.8,-7.2 -63,-7.1 -63.2,-7.1 -63.4,-7 -63.7,-6.9 -63.9,-6.9 -64.2,-6.8 -64.4,-6.7 -64.7,-6.7 -65,-6.6 -65.3,-6.6 -65.5,-6.6 -65.8,-6.5 -66.1,-6.5 -66.4,-6.5 -66.7,-6.5 -67,-6.5 -67.3,-6.5 -67.6,-6.5 -67.9,-6.5 -68.2,-6.5 -68.5,-6.6 -68.7,-6.6 -69,-6.6 -69.3,-6.7 -69.6,-6.7 -69.8,-6.8 -70.1,-6.9 -70.3,-6.9 -70.6,-7 -70.8,-7.1 -71,-7.1 -71.2,-7.2 -71.4,-7.3 -71.6,-7.4 -71.8,-7.5 -72,-7.6 -72.1,-7.7 -72.3,-7.8 -72.4,-7.9 -72.5,-8 -72.6,-8.2 -72.7,-8.3 -72.8,-8.4 -72.9,-8.5 -72.9,-8.6 -73,-8.8 -73,-8.9 -73,-9 -73,-9.1 -73,-9.2 -72.9,-9.4 -72.9,-9.5 -72.8,-9.6 -72.7,-9.7 -72.6,-9.8 -72.5,-10 -72.4,-10.1 -72.3,-10.2 -72.1,-10.3 -72,-10.4 -71.8,-10.5 -71.8,-10.5 -71.2,-9.5 -71,-10.5 -70.5,-11 -70.3,-11.1 -70.1,-11.1 -69.8,-11.2 -69.6,-11.3 -69.5,-11.3 -68,-10.5 -66,-10.6 -64,-10.6 -62.4,-10.6 -62.4,-10.6 -62.2,-10.5 -62,-10.4 -61.9,-10.3 -61.7,-10.2 -61.6,-10.1 -61.5,-10 -61.4,-9.8 -61.3,-9.7 -61.2,-9.6 -61.1,-9.5 -61.1,-9.4 -61,-9.2 -61,-9.1 -61,-9Z" fill="#ff5252" fill-rule="evenodd"/><ellipse cx="21" cy="24.5" rx="12" ry="4.5" fill="#ff0000" transform="rotate(33 21 24.5)"/><ellipse cx="19" cy="24" rx="6" ry="3" fill="#ac0000" transform="rotate(33 19 24)"/><path d="M-180,49 -150,52 -100,52 -70,47 -40,43 0,43 60,40 120,40 180,46 180,80 -180,80Z" fill="#a0a0ff"/><path d="M-180,56 -120,56 -60,51 0,50 60,50 120,53 180,55 180,80 -180,80Z" fill="#7d7dff"/><path d="M-159.6 72.9h3.6v2.1h-3.6zM61.1 64.9h3v1.9h-3zM29.2 70.3h2.6v1.6h-2.6zM80.3 40.2h3.9v1.8h-3.9zM-19.9 66.3h1.6v1h-1.6zM-12.6 64.5h2.5v2.3h-2.5zM9.3 55.8h2.1v1h-2.1zM-62.9 71.1h2.8v2.5h-2.8zM62.8 69.5h3.7v2.2h-3.7zM84.4 43.4h3.4v2.2h-3.4zM166.3 70.2h3.4v2.1h-3.4zM-13.9 56.9h2.7v2.4h-2.7zM0.3 46.1h2.4v2.3h-2.4zM143.9 59.4h2.9v2.4h-2.9zM80.6 58.5h2.1v1.5h-2.1zM71.8 70h3.8v1.4h-3.8zM148.1 64.9h3.9v2.1h-3.9zM1.5 57.4h3.1v1.9h-3.1zM-67.7 68.5h2.8v2.4h-2.8zM44.4 73.3h3.6v2.1h-3.6zM146.8 69.1h3.4v1.1h-3.4zM55 66.2h2.1v2.3h-2.1zM-141.7 57.2h3.6v1.4h-3.6zM-27.7 50.2h1.6v1.5h-1.6zM-118.1 51.8h1.7v2.4h-1.7zM-170.9 49.7h1.6v1.4h-1.6zM112.8 70.3h2v2h-2zM-41.2 74.4h4v1.2h-4zM-166.9 63.6h3v2.1h-3zM-139.3 63.9h1.6v1.7h-1.6zM95.7 49.4h3.8v2.1h-3.8zM130.5 50.6h2.7v1.3h-2.7zM57.9 64.6h1.8v1.7h-1.8zM134.9 71.4h3v1.6h-3zM5.3 70.8h3.9v1.4h-3.9zM38.2 60.9h1.5v1.8h-1.5zM-129.4 74h1.6v1.2h-1.6zM-145.5 53.1h2.8v2.5h-2.8zM-96.3 60h2.1v1.9h-2.1zM44.7 47.2h3.3v1.4h-3.3zM-27.7 57.1h1.5v1.1h-1.5zM-32.9 72h3.3v1.4h-3.3zM-144.1 69.5h2.1v1.3h-2.1zM7.5 59.3h2.3v2h-2.3zM166.7 49.8h2.6v1.8h-2.6zM29.2 74.2h2.5v1.8h-2.5zM-114.8 72.6h3.5v1.5h-3.5zM6.9 42.8h3v1.4h-3zM174.1 62.6h1.5v2h-1.5zM-143.6 65h3.6v2h-3.6zM-174.3 59.7h2.5v1.7h-2.5zM-105 54.8h1.7v1.4h-1.7zM-110.8 55.4h2.5v1.7h-2.5zM91.3 61.8h1.8v1.2h-1.8zM50.8 41.5h3.2v1h-3.2zM57.3 48h3.3v1.7h-3.3zM-51.3 59.5h3.5v1.4h-3.5zM9.5 58.8h3.9v2.2h-3.9zM155.5 45.9h2.2v1.3h-2.2zM-4 66.7h2.6v2h-2.6zM150.7 54.9h3.5v1.1h-3.5zM-127.3 61h1.7v1.1h-1.7zM53.3 71.4h2.2v1.3h-2.2zM61.5 51.5h2.6v1.8h-2.6zM-139.7 56.5h3.9v2.1h-3.9zM-145.4 57.4h3.3v1.4h-3.3zM142.2 59.4h3.3v1.6h-3.3zM178.2 47.8h2.9v1.2h-2.9zM-21.2 74.9h3v2.3h-3zM-115 57.6h2.7v1.6h-2.7zM75.8 42.3h3.3v1.7h-3.3zM166.3 64.1h3.4v2h-3.4zM94.2 45.3h2.1v1.9h-2.1zM-35 52h3.9v2h-3.9zM-175.8 59.3h3.3v2.3h-3.3zM54 46.6h1.5v2.4h-1.5zM82.6 54.2h3.8v2.3h-3.8zM96.1 68.8h3.4v1.9h-3.4zM-130.4 54h2.6v1.4h-2.6zM23.8 59.2h2v2.5h-2zM-5.2 45.9h3.1v2.1h-3.1zM-5.4 51.7h2.3v1.4h-2.3zM102.4 61.4h3.2v2.2h-3.2zM131 71.1h1.9v1.6h-1.9zM-12.7 65.4h1.5v1.8h-1.5zM168.1 62.8h2.8v1.6h-2.8zM-20.6 44.7h2.3v2h-2.3zM-5.8 56.6h3.8v1.1h-3.8zM116.8 65h3.1v2.2h-3.1zM55.2 61.9h3.6v1.1h-3.6zM48 61.9h2.8v2.3h-2.8zM107.2 53.4h2.3v1.3h-2.3zM-15.3 67.6h2.2v2.4h-2.2zM-43.5 62.9h2.3v1.1h-2.3zM-15.3 70h2.6v1.4h-2.6zM142 42.8h2.6v2h-2.6zM154.7 64.3h1.7v1.4h-1.7zM-111.8 51.6h2.4v1.5h-2.4zM106.2 67.6h3.5v1.9h-3.5zM-35.9 46.4h2.4v2.3h-2.4zM153.3 57.9h3.2v2.4h-3.2zM87.3 49h3.7v2.4h-3.7zM91.3 40.8h2.2v1.9h-2.2zM61.4 62.8h2.5v1.3h-2.5zM164.8 63.3h2.7v2.3h-2.7zM-134.3 75h2.4v1.5h-2.4zM150.4 44.2h3.4v1.7h-3.4zM15.4 67.5h3.6v1.6h-3.6zM-77.5 53h1.9v1.5h-1.9zM153.4 72.6h1.9v1.3h-1.9zM-89.6 60.9h2.1v1.5h-2.1zM-91.3 67.4h3v1.5h-3zM-45.8 48.4h1.7v1.2h-1.7zM126.3 60.5h3.4v1.2h-3.4zM8.3 45.6h2.3v2.2h-2.3zM39.7 61.8h4v1.6h-4zM-9.4 53.7h2.3v2.3h-2.3zM35.1 54.8h2.8v2.5h-2.8zM176 45.7h2.6v1.6h-2.6zM8.9 74.3h1.8v2.5h-1.8zM64.7 43.1h1.7v1.5h-1.7zM-141.9 63.4h1.9v1.2h-1.9zM61.1 72.7h3.9v2h-3.9zM-93.1 58.7h2.9v1.2h-2.9zM0.8 73.8h2v2.4h-2zM115.9 57.2h3.2v2.3h-3.2zM-129.6 58.3h1.8v1.2h-1.8zM-141 68.4h1.6v1.3h-1.6zM-43.5 53.6h3.6v2.4h-3.6zM78.3 57.7h3.8v1.2h-3.8zM45.8 68.4h2.4v1.4h-2.4zM-24.9 60.6h2.5v2.2h-2.5zM112.1 55.8h2.7v1.4h-2.7zM95.5 40.5h2.1v2.1h-2.1zM71.7 52.3h1.6v1.8h-1.6zM-107.3 69h2.9v2h-2.9zM45.2 49.3h3.3v1.7h-3.3zM116.3 45.9h3v1.1h-3zM-109.5 72.1h3.1v1.8h-3.1zM172.1 43.6h2.7v1.4h-2.7zM72.3 66h3.8v1.9h-3.8zM-31.4 61h3.3v1.7h-3.3zM57.3 71.6h3.3v1.4h-3.3zM147.8 68.3h2.3v1.8h-2.3zM-38.7 57.1h3.8v1.3h-3.8zM98 51h3.5v1.7h-3.5zM-16.4 63.5h2.7v1.4h-2.7zM-111.3 58.9h2v1.7h-2zM26.4 64.9h1.9v1.9h-1.9zM129.7 68h3v2h-3zM138.5 51.4h2.3v1.3h-2.3zM121.3 65.2h1.5v2.3h-1.5zM-108.8 64.7h2.3v1.4h-2.3zM80.7 63.7h2.6v1.6h-2.6zM28.7 71.3h1.9v1.9h-1.9zM-44.7 73.7h3v2.4h-3zM52.2 58.2h3.5v2.4h-3.5zM-125.5 65.2h3.9v2.4h-3.9zM134.8 54.7h3.3v1.8h-3.3zM-95.5 68.3h1.7v2h-1.7zM-130.2 53.6h2.5v1.7h-2.5zM169.4 61.9h2.7v1.6h-2.7zM-102.6 67.9h2.8v2.2h-2.8zM62.8 74.1h3.3v1.6h-3.3zM5.3 72.4h2.8v1.8h-2.8zM101.7 55.1h3.3v2.1h-3.3zM-100.4 75.1h2.7v1.2h-2.7zM-129 64.4h2.8v1.9h-2.8zM52.7 42.1h1.8v1.8h-1.8zM-148.8 51.9h2.6v1.2h-2.6zM-68.2 52.2h2.7v2.4h-2.7zM-52.1 63.8h3.8v1.9h-3.8zM48.9 47h3.7v1.8h-3.7zM-57.5 45.8h1.5v2h-1.5zM179.7 50.2h3.7v1.1h-3.7zM14.5 54.1h2.6v1.6h-2.6zM104.6 70.1h1.6v1.9h-1.6zM167.9 46.2h3.2v1.4h-3.2zM142.1 61.5h3.8v1.2h-3.8zM34.9 73.6h2.1v1.3h-2.1zM-177.7 61.4h2.8v1.4h-2.8zM54.6 74.1h2.8v1.8h-2.8zM-34.9 43.1h1.8v1.6h-1.8zM-14.5 62.6h3.9v1.9h-3.9zM5.9 60.2h2.6v2.4h-2.6zM107.7 52.7h1.9v1.9h-1.9zM-134 63.4h1.6v2.1h-1.6zM171.9 53h2.9v1.4h-2.9zM-20.7 59.3h2.6v1.4h-2.6zM162.9 46.4h3.1v1h-3.1zM170.2 56.3h2.9v2h-2.9zM-91 50.4h2.4v2.3h-2.4zM-13.8 52.1h2.9v1.8h-2.9zM91.7 60.9h2.8v2.3h-2.8zM88.9 52.5h3.9v1.2h-3.9zM35.3 53.5h2.6v2.4h-2.6zM168.3 61.9h3v2.1h-3zM70.6 62.9h3.5v1.5h-3.5zM-127.1 52.1h3.1v1.6h-3.1zM110.9 61.3h3.8v1.9h-3.8zM-34.2 52.7h3.5v2.3h-3.5zM61.3 52h2.5v1.1h-2.5zM-16.3 71.9h3.9v1.5h-3.9zM37.8 49.6h1.9v2.3h-1.9zM-62.8 73.1h3v1.6h-3zM150.9 60h1.7v1h-1.7zM-169.1 58.2h3.3v1.1h-3.3zM-61.3 58.8h3.7v2.5h-3.7zM135 53h2.9v1.3h-2.9zM40.4 70h2.3v2.2h-2.3zM24.5 49.9h2.7v1.4h-2.7zM1.3 55.4h2.1v2.3h-2.1zM173.2 69.5h2.1v2.2h-2.1zM79.9 67.9h3v1.4h-3zM130.6 54.9h2.8v1.2h-2.8zM-33.9 59h2.4v1.3h-2.4zM153 45.6h3v2.2h-3zM-131.9 68.4h3.3v1h-3.3zM-109.1 69.3h2.5v2.3h-2.5zM-70.3 55.4h2.7v1.2h-2.7zM165 69.7h3.5v2.3h-3.5zM-157.4 70.7h2.7v1.1h-2.7zM110.8 57h3.5v1.4h-3.5zM-105 61h1.8v1.9h-1.8zM-13 68.9h1.6v1.5h-1.6zM102.1 70.5h2.1v1.9h-2.1zM48.6 47h3.1v2.3h-3.1zM-169.6 71.7h1.8v2.2h-1.8zM41.1 63.4h3.9v2.1h-3.9zM-109.4 56.1h1.6v1h-1.6zM50 50.1h3.7v2.1h-3.7zM173.2 51.6h2.7v1.4h-2.7zM-157.1 53.5h3.9v1.2h-3.9zM115.5 43.7h2.4v2.3h-2.4zM-123.9 65.2h2.9v2.3h-2.9zM12.9 72.8h3.8v1.9h-3.8zM100.4 67.7h2.3v1.1h-2.3zM-112.8 60.3h2.5v2h-2.5zM120.1 64h3.8v2h-3.8zM-55.9 69.3h3.9v2h-3.9zM-164.5 51.4h2.4v1.6h-2.4zM95.6 68h2.2v1.8h-2.2zM145.7 72.9h3.6v2.1h-3.6zM-116.2 52.2h3.1v2.1h-3.1zM13.4 64.7h2.8v1.4h-2.8zM-16.1 61.4h1.8v1.3h-1.8zM-56 61.8h2.9v2.1h-2.9zM-86.7 56h2.3v1.3h-2.3zM155.6 46.1h1.9v1.2h-1.9zM-142.4 65.2h2.6v1h-2.6zM-28 51.2h3.6v1.3h-3.6zM-43.1 64.7h1.9v1.4h-1.9zM-84.1 66.8h2.1v1.8h-2.1zM112.8 64.9h2.5v1.7h-2.5zM123.2 48.4h4v1.3h-4zM110 65.4h2.9v1.8h-2.9zM26.9 64.4h1.7v1h-1.7zM153.9 44.1h2.7v1.1h-2.7zM121.7 57.9h2.7v2h-2.7zM-123.3 68.1h3.5v2.1h-3.5zM174.2 60.4h3.9v2.3h-3.9zM2.7 43.9h1.9v1.1h-1.9zM113.1 70.9h2.8v2.1h-2.8zM64.6 68.1h3.5v1.1h-3.5zM22.3 43.7h2.9v1.5h-2.9zM179 49.8h3.5v2.3h-3.5zM156.6 55.3h3.6v1.8h-3.6zM-88.2 66h2.2v1h-2.2zM43.2 61.6h3.8v1.1h-3.8zM101.9 69h2.3v1.4h-2.3zM164.6 52.7h2.7v1.3h-2.7zM-162.8 62.8h3.9v1.7h-3.9zM63.2 44.3h1.6v1.5h-1.6zM-29.6 67.9h2.5v2h-2.5zM-131.5 51h2.2v2h-2.2zM-29.1 46h3.9v1.9h-3.9zM-172.3 62.8h3.9v2h-3.9zM93.1 58.9h3.9v2.4h-3.9zM40.6 54.8h1.8v1h-1.8zM125 48.3h3.7v1h-3.7zM-169.7 66.8h1.5v1.9h-1.5zM154.7 43.6h1.8v2h-1.8zM61.6 52.3h2.5v1.4h-2.5zM139 43.5h3.3v1.8h-3.3zM-168.1 66h2.1v1.4h-2.1zM-102.2 52h3.2v1.3h-3.2zM164 55h3.1v1.4h-3.1zM68.9 44.4h2v1.2h-2zM103.6 67h1.8v1.7h-1.8zM-112.7 68.3h2.2v1.1h-2.2zM114.8 55.6h3.1v1.4h-3.1zM99.1 41.4h4v1.1h-4zM-68.2 72.8h2.7v2h-2.7zM39 63.2h3.9v1.9h-3.9zM178.8 60.7h3.1v1.1h-3.1zM12.9 52.7h2.1v1.9h-2.1zM-132.4 59.4h3v1.7h-3zM-125.5 69.2h2.4v2h-2.4zM-24.1 68.8h2.3v1.5h-2.3zM-130.5 54.8h2.7v1.5h-2.7z" fill="#3535ff"/><path d="M-163.7 71.9h2.4v2.2h-2.4zM157.1 48.7h2.1v2.3h-2.1zM-168.3 72h1.8v1.8h-1.8zM33.7 53.4h4.3v2.1h-4.3zM87.8 69.8h4.2v2.4h-4.2zM118.2 73.1h3.6v1.8h-3.6zM13.4 66.4h3.8v2.2h-3.8zM97.1 65.1h3.7v1.1h-3.7zM-177.8 72.2h3.5v2.5h-3.5zM-11.7 52.8h3.3v2.3h-3.3zM169.1 46.6h2.5v1.1h-2.5zM141.6 66h3.8v2.3h-3.8zM-119.5 69h2.8v2.3h-2.8zM-81.7 53.6h4.1v1.6h-4.1zM31.3 67.9h4.1v1.7h-4.1zM-4.9 52.4h2.5v2.2h-2.5zM-14.7 60.5h3.7v2h-3.7zM75.5 44.5h3.9v1.6h-3.9zM51.8 44.9h1.7v2h-1.7zM9.9 61.5h1.9v1.4h-1.9zM90 44.2h4.5v2.1h-4.5zM136.9 46.3h2v2h-2zM132.9 48.9h2.3v2.1h-2.3zM-39.7 60.4h3.7v2h-3.7zM-131 52.9h1.7v1.3h-1.7zM116.9 43.1h2.3v2.1h-2.3zM-114.3 58.1h2.5v1.1h-2.5zM-24.1 56.1h4.1v1.2h-4.1zM-104.9 66.4h4v2.4h-4zM-102.6 58.6h3.1v1.7h-3.1zM-166.1 61.3h3.1v2h-3.1zM10.9 46.5h1.8v1.7h-1.8zM118.9 69.9h2v1.9h-2zM-127.8 56.4h1.9v1.3h-1.9zM-59.7 47.8h3.3v1.9h-3.3zM46 61.7h4.4v1.9h-4.4zM46.3 73.6h2.2v1.9h-2.2zM164.1 50.7h1.7v2.2h-1.7zM-103.6 54.6h2.1v1.1h-2.1zM98.2 58.5h3.3v2.1h-3.3zM33.8 61h2.5v1.8h-2.5zM-91.4 66.6h3.9v1.5h-3.9zM79.6 51.5h2.9v2.2h-2.9zM125.4 49h3.7v2.4h-3.7zM-33.1 60.7h3.3v2.3h-3.3zM-78.8 48.7h4.4v1.4h-4.4zM-173.7 70.2h3.4v1.3h-3.4zM161.4 72.7h4.2v1.5h-4.2zM151.3 63.8h1.8v2h-1.8zM116.2 66.8h3v1.8h-3zM98.2 66.5h3.2v1.8h-3.2zM31.7 56h2.8v1.6h-2.8zM8 72.2h2.7v2.1h-2.7zM65.6 73.1h2.7v1.7h-2.7zM124.3 66.4h4.2v2.2h-4.2zM-172.9 58.1h3.1v1.9h-3.1zM139.5 68.7h4v1h-4zM119.9 66.6h1.6v2.2h-1.6zM169.5 52.3h3.8v1.6h-3.8zM-90.8 52.1h3.9v1.4h-3.9zM-44.8 66.3h2.3v2.3h-2.3zM-177.5 75.2h2.1v2.2h-2.1zM25.2 48.7h3.6v2.3h-3.6zM-143.2 61.2h1.9v1.5h-1.9zM167.3 51.8h2.8v1.6h-2.8zM-154.7 59.7h1.9v1.8h-1.9zM113.9 61.6h3.6v2.2h-3.6zM149.3 60.6h2.2v2.3h-2.2zM-0.3 66.2h3.6v2.3h-3.6zM174 62.4h2.3v1.4h-2.3zM-72.6 68.2h4.3v2h-4.3zM-161.9 72.6h2.1v2.5h-2.1zM-56.8 47h2.2v1.3h-2.2zM159.2 73.3h3v1.8h-3zM-58.5 48.8h4.1v1.3h-4.1zM-71.4 58.5h2.9v1.9h-2.9zM98.8 63.8h4.3v1.7h-4.3zM-169.7 60.8h3.1v1.3h-3.1zM136.7 54.5h3.1v1.4h-3.1zM-132.1 66.1h3.4v2h-3.4zM100.1 51h3.5v1.8h-3.5zM127.3 41.4h3.3v1.6h-3.3zM14.9 47.2h3.5v2.2h-3.5zM-68.7 54.3h2.2v1.9h-2.2zM-174.6 56.8h3.7v2.4h-3.7zM-5.4 44.6h2.1v1h-2.1zM19.1 63.6h2.7v1.9h-2.7zM92.1 45h2.5v1.9h-2.5zM46.7 51.3h3.3v1.7h-3.3zM103 70h2v2h-2zM-16.3 63.7h1.7v1.1h-1.7zM-83.6 72.5h3.6v1.3h-3.6zM-43 60.8h3.6v2.2h-3.6zM47.4 68.2h1.9v1.8h-1.9zM-48.2 49.9h2.1v2h-2.1zM-51 65.9h2v2.1h-2zM1.5 56.4h4v1h-4zM16.3 64.2h2.2v2.2h-2.2zM-92.6 61.3h2.8v1.2h-2.8zM0.1 53.4h4.5v2.4h-4.5zM-142.5 70.6h3.1v2h-3.1zM33.8 74.7h2.7v1.7h-2.7zM-40.9 48.6h3.7v1.1h-3.7zM-12.5 50.9h3.9v2h-3.9zM171.9 49.4h2.7v2.3h-2.7zM40.4 54.5h3.3v2.1h-3.3zM75.1 59.5h3.9v1.6h-3.9zM86.7 43.1h3.1v1.2h-3.1zM146.1 68.3h2.1v1.1h-2.1zM-29 61.6h4v1.3h-4zM-44.2 48.3h1.6v1.6h-1.6zM-72.3 70.9h1.8v1.3h-1.8zM73.1 71.8h1.6v1.4h-1.6zM93 56.8h2.5v1.1h-2.5zM77.4 67.3h3.1v2.5h-3.1zM-93.6 51.2h2.8v1.8h-2.8zM-34.3 50.7h3.1v1h-3.1zM115.1 67.4h2.6v1.7h-2.6zM33.9 48.7h1.9v1.6h-1.9zM43.6 59.1h2.2v2.2h-2.2zM166.8 52.8h3.1v1.2h-3.1zM-7.6 47.7h2.4v1.7h-2.4zM-18.8 64.9h3.3v1.4h-3.3zM151.8 45.8h2.4v1.1h-2.4zM-27.6 71.7h1.6v2.2h-1.6zM-51.4 53.4h2.5v2h-2.5zM-129.2 66.4h1.9v1.1h-1.9zM-76.6 70.2h1.6v1.5h-1.6zM-149 58.2h2.9v1.3h-2.9zM138.2 55h3.8v1.4h-3.8zM79.8 51h3.8v1.3h-3.8zM161.8 59.6h1.7v2.4h-1.7zM-105.2 73.4h3v1.8h-3zM62.6 52.9h2.6v2.1h-2.6zM5.4 70.8h3.3v1.5h-3.3zM16.3 70.3h2.3v1.4h-2.3zM-30.1 61.5h4.1v1.2h-4.1zM5.3 46.8h2.7v2.4h-2.7zM-88.5 58.2h2.4v1.4h-2.4zM55.5 45.9h2.9v1.3h-2.9zM57.7 42.4h3.2v1.4h-3.2zM8.2 45.3h4v1.9h-4zM-130.6 75.6h2.9v1.7h-2.9zM17 49.7h4.4v2.1h-4.4zM88.9 53h3.1v2.2h-3.1zM101.8 65.3h3.9v1.2h-3.9zM11.6 42.9h2.2v2.3h-2.2zM-5.7 49.7h2v1.1h-2zM-89.6 54.6h4.2v1.8h-4.2zM8 62.3h3v2.1h-3zM132.1 63.5h3.5v1.5h-3.5zM-88.8 74h2.7v1.9h-2.7zM3.3 59.9h3.8v1.7h-3.8zM68.8 56h4.3v1.5h-4.3zM-20.9 48.4h2.4v2.2h-2.4zM-63.2 70.5h3.1v1.8h-3.1zM-70 66.2h4.5v1.8h-4.5zM75.7 60.9h3.2v1.4h-3.2zM65.4 65h2.7v1.8h-2.7zM-156.6 53.9h4.5v2h-4.5zM-12.2 71.7h3.1v1.9h-3.1zM71.1 44.2h2.3v1.2h-2.3zM168.9 56.8h4.2v1.9h-4.2zM144.5 54.3h3.7v2h-3.7zM163.1 49h4.4v1.6h-4.4zM-105.8 68.8h2.9v1.8h-2.9zM68.1 59.3h4.4v1.6h-4.4zM-176.9 57h3.5v1.4h-3.5zM87.2 68.9h4.2v1.7h-4.2zM162.9 53.9h3.7v1.3h-3.7zM-126.1 55.1h2v2.3h-2zM131.3 43.2h3.8v1.6h-3.8zM47.4 73.9h1.8v1.8h-1.8zM86.7 65.4h1.5v1.1h-1.5zM-61.2 62.6h4.2v2h-4.2zM137.6 48.8h3.6v2.1h-3.6zM29.1 52.8h3v1.7h-3zM123.7 47.2h2.1v2.3h-2.1zM14.3 73.8h3.9v2.3h-3.9zM-23.7 60.5h2.3v1.3h-2.3zM12.5 60.3h3.5v2h-3.5zM-17.7 61.3h2.1v1.9h-2.1zM64.7 47.8h4v1.5h-4zM16.7 53.9h2.7v1h-2.7zM82.4 43.6h2.9v2.4h-2.9zM-161.4 55h2.7v2h-2.7zM-50.3 50.1h2.1v1.4h-2.1zM-31.7 61h2.7v2.4h-2.7zM5 55.8h1.9v1.8h-1.9zM93.9 50.7h4.4v1.9h-4.4zM-46.3 44.7h4.4v2.5h-4.4zM-138.7 51.7h2v1.4h-2zM99.5 44.5h3.3v1.5h-3.3zM-5.1 64.9h2.3v1.3h-2.3zM89.5 49.9h2.3v1.8h-2.3zM113.5 50.8h4.3v1.1h-4.3zM-60.8 62.7h2.7v2.5h-2.7zM168.5 46.1h3.5v2.2h-3.5zM125.5 68.3h3.4v2.5h-3.4zM-120.1 60h2.6v2.3h-2.6zM-13.3 71h2.6v2h-2.6zM113.6 65.8h1.6v1.9h-1.6zM61.4 54.1h1.8v1h-1.8zM80.7 57.7h1.5v1.8h-1.5zM-149.8 59h3.6v1.3h-3.6zM-33.7 50.1h2.3v1.9h-2.3zM-159.8 50.7h2.2v1.6h-2.2zM177.9 48h2.1v2.2h-2.1zM-36.8 58.2h2.3v1.3h-2.3zM175.1 62h2.1v2.2h-2.1zM-142.2 61.1h1.8v1.1h-1.8zM174.1 58.4h3.5v1.2h-3.5zM-48.8 73.9h4v1h-4zM-108.6 65.7h2v1h-2zM-8.9 57.1h4.1v1.7h-4.1zM-117.2 60.6h2v1.1h-2zM-40.4 46h1.7v2.5h-1.7zM122.8 40.2h3.3v1.5h-3.3zM97.3 70.7h3.1v2.2h-3.1zM13.2 48.5h2v2.3h-2z" fill="#cacaff"/><ellipse cx="-46" cy="71.5" rx="14" ry="4.2" fill="#ffffff"/><path d="M-180,-68 -168,-66 -160,-70 -140,-70.5 -132,-62 -100,-60 -68,-58 -62,-62 -57,-64 -50,-66 -45,-70 -20,-70 0,-70 20,-72 40,-71 60,-68 80,-70 100,-72 130,-70 160,-68 175,-66 180,-66 180,-90 -180,-90Z" fill="#ffffff"/><path d="M-95,-64 -75,-64 -75,-51 -95,-51Z" fill="#ffffff"/><path d="M-66.3,-49 -65,-49.2 -64.8,-49ZM-123,-49 -125,-50 -127.5,-50.8 -128,-52 -130,-54.5 -131.5,-55.5 -133,-57 -135,-58.2 -137,-58.5 -139.5,-59.6 -142,-60 -146,-60.8 -148,-60 -150,-59.5 -151.5,-59.2 -152.5,-58 -154,-57.5 -156.5,-56.5 -158,-56.5 -161,-55.5 -163,-55 -164.5,-54.5 -162,-55.6 -160,-56.5 -158,-57.8 -157,-58.7 -159,-58.4 -162,-58.5 -162,-60 -165,-60.5 -165,-61.8 -164.5,-63 -161,-64.5 -163.5,-64.6 -166,-64.7 -166.5,-65.3 -168,-65.5 -163,-67 -166,-68.8 -161,-70.3 -156.8,-71.3 -152,-70.8 -150,-70.4 -145,-70.1 -141,-69.7 -136,-69 -133,-69.6 -128,-70.2 -124,-69.6 -120,-69.3 -114,-68.3 -108,-68.5 -104,-68 -98,-67.8 -96,-69.5 -95,-71.5 -92,-70 -90,-68.5 -85,-69.5 -82,-68.5 -81.5,-66.8 -86,-66.2 -87,-64.5 -91,-62.8 -94.5,-61 -93.5,-58.8 -92.5,-57 -88,-56.5 -85,-55.3 -82.3,-52.9 -80.5,-51.3 -79,-51.5 -79,-54.5 -76.8,-56.5 -77.5,-58.5 -78,-60.5 -77.5,-62.5 -73,-62 -70,-61 -69.5,-59 -67,-58.3 -65,-60.3 -64,-59.3 -61.5,-56 -59,-55 -57,-53 -55.7,-52 -57.5,-51.3 -60,-50.2 -64,-50.2 -66.5,-50 -68.1,-49Z" fill="#d5d5d5" fill-rule="evenodd"/><path d="M-180,-69 -176,-67.8 -174,-67 -171.8,-66.9 -169.8,-66 -171,-65.5 -172.5,-64.5 -175,-64.8 -178,-64.7 -180,-65.3ZM180,-65.3 178.7,-64.5 177.5,-64.7 179,-62.8 177,-62.5 173.5,-61.7 170.5,-60.2 168,-60.5 165,-59.8 165,-61 160.7,-61 160.5,-61.3 159.5,-61.8 157,-61.5 156.2,-61 155,-61 155,-60.2 154,-59.5 151,-59 148,-59.3 145.5,-59.4 143,-59.3 141.5,-58.7 141.3,-58.5 23.8,-58.5 23.7,-58.8 24.5,-59.4 26,-59.6 28,-60 29.5,-60.1 26,-60.4 23,-60 21.3,-60.7 21.5,-63 23.5,-64 25.3,-65 24.5,-65.8 22.5,-65.8 21.2,-65 19.5,-63.5 17.5,-62.3 17.3,-61 18.8,-60 18.3,-59.2 16.5,-58.5 11.2,-58.5 11,-58.8 10.5,-59.6 10,-59 9,-58.5 5.9,-58.5 5.5,-58.8 5,-60 5,-61 5.5,-62.3 7,-62.8 9,-63.5 10.5,-64.5 12.5,-65.8 13.5,-67.8 15,-68.4 16,-69 18,-69.7 19,-70 21,-70.2 23.5,-70.8 25.5,-71.1 28,-71 30,-70.5 31,-70 33,-69.3 36.5,-69 40,-67.8 41,-67.5 41,-66.7 39,-66 35,-66.3 34,-65 36,-64.5 37.5,-64.2 40.5,-64.6 42,-66.3 44.2,-66.5 44.2,-68.5 46,-68 48,-67.7 53.5,-68.5 58,-68.9 60.5,-69.8 64,-69.4 67,-69.2 67,-70.5 66.8,-71.5 69,-73 70.5,-73.2 72,-72.5 72.5,-71 72,-68.5 73.6,-68.5 74,-70 73,-71.5 72.8,-72.7 76,-72 78,-72.3 80,-72.3 81,-73.5 84,-73.8 87,-74 86.5,-75.2 90,-75.6 95,-76 99,-76.5 104,-77.7 107,-77 111,-76.7 113.5,-76 113,-74 112,-73.5 115,-73.7 118.5,-73.6 123,-73 127,-73.5 129,-72.5 129.5,-71 132,-71.5 136,-71.6 140,-72.5 143,-72.7 146,-72.3 150,-71.5 152,-70.9 155,-71.1 159,-70.8 161,-69.5 165,-69.6 170,-70 175,-69.8 178,-69.4 180,-69ZM-5.1,-58.5 -5,-58.6 -3.1,-58.6 -3,-58.5ZM-66.8,-58.5 -65,-60.3 -64,-59.3 -63.4,-58.5ZM-77.5,-58.5 -78,-60.5 -77.5,-62.5 -73,-62 -70,-61 -69.5,-59 -67.7,-58.5ZM-137,-58.5 -139.5,-59.6 -142,-60 -146,-60.8 -148,-60 -150,-59.5 -151.5,-59.2 -152.1,-58.5 -157.2,-58.5 -157,-58.7 -158.3,-58.5 -162,-58.5 -162,-60 -165,-60.5 -165,-61.8 -164.5,-63 -161,-64.5 -163.5,-64.6 -166,-64.7 -166.5,-65.3 -168,-65.5 -163,-67 -166,-68.8 -161,-70.3 -156.8,-71.3 -152,-70.8 -150,-70.4 -145,-70.1 -141,-69.7 -136,-69 -133,-69.6 -128,-70.2 -124,-69.6 -120,-69.3 -114,-68.3 -108,-68.5 -104,-68 -98,-67.8 -96,-69.5 -95,-71.5 -92,-70 -90,-68.5 -85,-69.5 -82,-68.5 -81.5,-66.8 -86,-66.2 -87,-64.5 -91,-62.8 -94.5,-61 -93.5,-58.8 -93.3,-58.5ZM-84,-65.5 -81,-63.8 -87,-63.5 -86,-66ZM-18.7,-63.4 -22.5,-64 -24,-65.5 -22,-66.4 -18,-66.2 -14.5,-66.4 -13.5,-65 -15,-64.3ZM-71.5,-63.5 -74,-64.5 -77.8,-64.4 -73,-67 -73.5,-68 -77,-69.5 -79,-70 -84,-69.8 -87,-70 -89,-71.5 -86,-73.8 -80,-73.5 -76,-72.5 -71.5,-71 -68.5,-70.2 -66.5,-68.5 -61.8,-66.8 -64,-65.5 -65,-64.5 -64.5,-63 -66,-62 -68,-62.5ZM-114,-68.4 -117.5,-69.5 -118.5,-71 -117.8,-72.4 -120,-71.5 -125.5,-71.9 -123,-73.8 -118.5,-74.5 -115.5,-73.4 -116.3,-73.1 -113,-73.2 -107,-73.5 -104.5,-71.5 -101.5,-69.6 -107,-68.8ZM-32,-83.6 -24,-82.9 -20,-82 -12,-81.5 -17,-80 -19,-78.5 -18,-77 -19,-74 -22,-72.5 -22,-70.5 -24.5,-69.5 -27,-68.5 -31,-68 -34,-66.5 -37,-65.7 -40,-65 -41,-63.5 -42.5,-61 -43.5,-60 -45.5,-60.5 -48,-61.2 -49.5,-62.8 -51,-64 -52.5,-65.5 -53.5,-67 -52.5,-68.5 -51,-69.6 -54,-70.5 -54.5,-71.5 -55.5,-72.5 -56,-73.5 -58,-75.2 -62,-76 -66,-76.1 -68,-76.5 -71,-77.2 -73,-78 -69,-79 -66,-80.2 -62,-81.3 -57,-82.2 -50,-82.5 -42,-83.2ZM-96,-72 -101,-72 -98,-74 -93,-73.5ZM-87,-79 -91,-81 -80,-83 -70,-83 -62,-82.5 -66,-80.5 -75,-78.5 -80,-76.2 -88.6,-76.5 -79.5,-75.5 -80.5,-74.5 -91,-74.7 -89,-76.5 -90,-76.5ZM-96,-78 -100,-76 -120,-76 -110,-78.5ZM58,-71 56,-70.5 52,-71.5 55,-74.5 60,-76.5 67,-77 68,-76.5 60,-75.5 56,-73ZM11,-79.8 20,-80.5 27,-79.5 22,-77.5 16,-76.5 11,-78.5ZM95,-80.5 102,-81 106,-79 100,-78 95,-79ZM143,-73.5 136,-75.5 142,-76 150,-75Z" fill="#d5d5d5" fill-rule="evenodd"/><path d="M25,-59.5 26,-59.6 28,-60 29.5,-60.1 26,-60.4 25,-60.3 25,-64.8 25.3,-65 25,-65.3 25,-71 25.5,-71.1 28,-71 30,-70.5 31,-70 33,-69.3 36.5,-69 40,-67.8 41,-67.5 41,-66.7 39,-66 35,-66.3 34,-65 36,-64.5 37.5,-64.2 40.5,-64.6 42,-66.3 44.2,-66.5 44.2,-68.5 46,-68 48,-67.7 53.5,-68.5 58,-68.9 60.5,-69.8 64,-69.4 67,-69.2 67,-70.5 66.8,-71.5 69,-73 70.5,-73.2 72,-72.5 72.5,-71 72,-68.5 73.6,-68.5 74,-70 73,-71.5 72.8,-72.7 76,-72 78,-72.3 80,-72.3 81,-73.5 84,-73.8 87,-74 86.5,-75.2 90,-75.6 95,-76 99,-76.5 104,-77.7 107,-77 111,-76.7 113.5,-76 113,-74 112,-73.5 115,-73.7 118.5,-73.6 123,-73 127,-73.5 129,-72.5 129.5,-71 132,-71.5 136,-71.6 140,-72.5 143,-72.7 146,-72.3 150,-71.5 152,-70.9 155,-71.1 159,-70.8 161,-69.5 165,-69.6 170,-70 175,-69.8 178,-69.4 180,-69 180,-65.3 178.7,-64.5 177.5,-64.7 179,-62.8 177,-62.5 173.5,-61.7 173.2,-61.5 165,-61 160.7,-61 160.5,-61.3 159.5,-61.8 157,-61.5 156.2,-61 155,-61 151.9,-59.2 151,-59 148,-59.3 145.5,-59.4 143,-59.3 141.5,-58.7 140.5,-57.8 138,-56.5 136.5,-54.8 137,-54 139,-54.2 140.5,-53.2 141.3,-52 140.5,-50.5 140.4,-48.5 139.5,-47.5 138.2,-46.5 137.6,-45.7 135,-50 110,-50 108,-46 60,-46 50,-47 40,-50 25,-56Z" fill="#d5d5d5" fill-rule="evenodd"/><path d="M180,90 -180,90 -180,78.3 -170,78 -163,78.2 -158,77 -150,76.5 -145,75.5 -140,75 -135,74.5 -130,74.5 -125,73.8 -120,73.8 -115,74.2 -110,74.5 -105,74.5 -100,73.5 -95,73.3 -90,73 -85,73.4 -80,73.5 -77,72.5 -75,71.5 -72,70.5 -70,69.5 -68,67.8 -67,66.5 -65,65.5 -63,64.5 -59,63.3 -57,63.5 -58,64.5 -60.5,65.5 -62,66.5 -63,68 -62.5,70 -61,72 -61,74 -63,76 -60,77.5 -55,78 -50,78 -45,78 -40,77.8 -35,77.5 -30,76 -25,75 -20,74 -15,72.5 -10,71 -5,70.5 0,70 5,70 10,70 15,70 20,70 25,70 30,69.5 35,69 40,69 45,68 50,67 55,66.5 60,67 65,67.5 68,68 70,69.5 72,70 75,69.5 78,68.5 80,67 85,66.5 90,66.5 95,66 100,65.5 105,66 110,66 115,66.5 120,66.5 125,66 130,66 135,66 140,66.5 145,67.5 150,68.5 155,69 160,70 165,71 170,72 170,73.5 166,74.5 163,76.5 165,77.5 168,78 175,78.2 180,78.3Z" fill="#d5d5d5" fill-rule="evenodd"/><use href="#bd"/><use href="#cs"/></svg>
<svg class="frame" style="left:408.50px;top:260.30px;width:307.80px;height:162.00px"><rect x="8" y="8" width="291.8" height="146" fill="none" stroke="#3a3a3a" stroke-width="1.1"/><path d="M8.00 8.00v-5.00M8.00 154.00v5.00M16.11 8.00v-2.50M16.11 154.00v2.50M24.21 8.00v-2.50M24.21 154.00v2.50M32.32 8.00v-5.00M32.32 154.00v5.00M40.42 8.00v-2.50M40.42 154.00v2.50M48.53 8.00v-2.50M48.53 154.00v2.50M56.63 8.00v-5.00M56.63 154.00v5.00M64.74 8.00v-2.50M64.74 154.00v2.50M72.84 8.00v-2.50M72.84 154.00v2.50M80.95 8.00v-5.00M80.95 154.00v5.00M89.06 8.00v-2.50M89.06 154.00v2.50M97.16 8.00v-2.50M97.16 154.00v2.50M105.27 8.00v-5.00M105.27 154.00v5.00M113.37 8.00v-2.50M113.37 154.00v2.50M121.48 8.00v-2.50M121.48 154.00v2.50M129.58 8.00v-5.00M129.58 154.00v5.00M137.69 8.00v-2.50M137.69 154.00v2.50M145.79 8.00v-2.50M145.79 154.00v2.50M153.90 8.00v-5.00M153.90 154.00v5.00M162.01 8.00v-2.50M162.01 154.00v2.50M170.11 8.00v-2.50M170.11 154.00v2.50M178.22 8.00v-5.00M178.22 154.00v5.00M186.32 8.00v-2.50M186.32 154.00v2.50M194.43 8.00v-2.50M194.43 154.00v2.50M202.53 8.00v-5.00M202.53 154.00v5.00M210.64 8.00v-2.50M210.64 154.00v2.50M218.74 8.00v-2.50M218.74 154.00v2.50M226.85 8.00v-5.00M226.85 154.00v5.00M234.96 8.00v-2.50M234.96 154.00v2.50M243.06 8.00v-2.50M243.06 154.00v2.50M251.17 8.00v-5.00M251.17 154.00v5.00M259.27 8.00v-2.50M259.27 154.00v2.50M267.38 8.00v-2.50M267.38 154.00v2.50M275.48 8.00v-5.00M275.48 154.00v5.00M283.59 8.00v-2.50M283.59 154.00v2.50M291.69 8.00v-2.50M291.69 154.00v2.50M299.80 8.00v-5.00M299.80 154.00v5.00M8.00 8.00h-5.00M299.80 8.00h5.00M8.00 16.11h-2.50M299.80 16.11h2.50M8.00 24.22h-2.50M299.80 24.22h2.50M8.00 32.33h-5.00M299.80 32.33h5.00M8.00 40.44h-2.50M299.80 40.44h2.50M8.00 48.56h-2.50M299.80 48.56h2.50M8.00 56.67h-5.00M299.80 56.67h5.00M8.00 64.78h-2.50M299.80 64.78h2.50M8.00 72.89h-2.50M299.80 72.89h2.50M8.00 81.00h-5.00M299.80 81.00h5.00M8.00 89.11h-2.50M299.80 89.11h2.50M8.00 97.22h-2.50M299.80 97.22h2.50M8.00 105.33h-5.00M299.80 105.33h5.00M8.00 113.44h-2.50M299.80 113.44h2.50M8.00 121.56h-2.50M299.80 121.56h2.50M8.00 129.67h-5.00M299.80 129.67h5.00M8.00 137.78h-2.50M299.80 137.78h2.50M8.00 145.89h-2.50M299.80 145.89h2.50M8.00 154.00h-5.00M299.80 154.00h5.00" stroke="#3a3a3a" stroke-width="0.9" fill="none"/></svg>
<div class="yl" style="left:344.00px;top:262.70px">90N</div>
<div class="yl" style="left:344.00px;top:287.03px">60N</div>
<div class="yl" style="left:344.00px;top:311.37px">30N</div>
<div class="yl" style="left:344.00px;top:335.70px">0</div>
<div class="yl" style="left:344.00px;top:360.03px">30S</div>
<div class="yl" style="left:344.00px;top:384.37px">60S</div>
<div class="yl" style="left:344.00px;top:408.70px">90S</div>
<div class="xl" style="left:386.50px;top:425.60px">180</div>
<div class="xl" style="left:410.82px;top:425.60px">150W</div>
<div class="xl" style="left:435.13px;top:425.60px">120W</div>
<div class="xl" style="left:459.45px;top:425.60px">90W</div>
<div class="xl" style="left:483.77px;top:425.60px">60W</div>
<div class="xl" style="left:508.08px;top:425.60px">30W</div>
<div class="xl" style="left:532.40px;top:425.60px">0</div>
<div class="xl" style="left:556.72px;top:425.60px">30E</div>
<div class="xl" style="left:581.03px;top:425.60px">60E</div>
<div class="xl" style="left:605.35px;top:425.60px">90E</div>
<div class="xl" style="left:629.67px;top:425.60px">120E</div>
<div class="xl" style="left:653.98px;top:425.60px">150E</div>
<div class="xl" style="left:678.30px;top:425.60px">180</div>
<div class="tc" style="left:416.50px;top:251.70px;width:291.80px">Difference</div>
<div class="lab" style="left:420.30px;top:385.90px">c)</div>
<svg class="cb" style="left:417.70px;top:441.10px;width:289.70px;height:9.80px"><rect x="0.50" y="0.5" width="13.12" height="8.80" fill="#00007d"/><rect x="13.62" y="0.5" width="13.12" height="8.80" fill="#00009b"/><rect x="26.75" y="0.5" width="13.12" height="8.80" fill="#0000b9"/><rect x="39.87" y="0.5" width="13.12" height="8.80" fill="#0000d2"/><rect x="52.99" y="0.5" width="13.12" height="8.80" fill="#0000eb"/><rect x="66.11" y="0.5" width="13.12" height="8.80" fill="#0005ff"/><rect x="79.24" y="0.5" width="13.12" height="8.80" fill="#2828ff"/><rect x="92.36" y="0.5" width="13.12" height="8.80" fill="#5252ff"/><rect x="105.48" y="0.5" width="13.12" height="8.80" fill="#8282ff"/><rect x="118.60" y="0.5" width="13.12" height="8.80" fill="#b4b4ff"/><rect x="131.73" y="0.5" width="13.12" height="8.80" fill="#e1e1ff"/><rect x="144.85" y="0.5" width="13.12" height="8.80" fill="#ffe1e1"/><rect x="157.97" y="0.5" width="13.12" height="8.80" fill="#ffafaf"/><rect x="171.10" y="0.5" width="13.12" height="8.80" fill="#ff8282"/><rect x="184.22" y="0.5" width="13.12" height="8.80" fill="#ff5252"/><rect x="197.34" y="0.5" width="13.12" height="8.80" fill="#ff2a2a"/><rect x="210.46" y="0.5" width="13.12" height="8.80" fill="#ff0000"/><rect x="223.59" y="0.5" width="13.12" height="8.80" fill="#e60000"/><rect x="236.71" y="0.5" width="13.12" height="8.80" fill="#cd0000"/><rect x="249.83" y="0.5" width="13.12" height="8.80" fill="#b90000"/><rect x="262.95" y="0.5" width="13.12" height="8.80" fill="#a00000"/><rect x="276.08" y="0.5" width="13.12" height="8.80" fill="#780000"/><path d="M0.50 0.5v8.80M13.62 0.5v8.80M26.75 0.5v8.80M39.87 0.5v8.80M52.99 0.5v8.80M66.11 0.5v8.80M79.24 0.5v8.80M92.36 0.5v8.80M105.48 0.5v8.80M118.60 0.5v8.80M131.73 0.5v8.80M144.85 0.5v8.80M157.97 0.5v8.80M171.10 0.5v8.80M184.22 0.5v8.80M197.34 0.5v8.80M210.46 0.5v8.80M223.59 0.5v8.80M236.71 0.5v8.80M249.83 0.5v8.80M262.95 0.5v8.80M276.08 0.5v8.80M289.20 0.5v8.80" stroke="#444" stroke-width="0.6" fill="none"/><rect x="0.5" y="0.5" width="288.70" height="8.80" fill="none" stroke="#444" stroke-width="0.7"/></svg>
<div class="cl cl2" style="left:401.32px;top:451.60px">-0.5</div>
<div class="cl cl2" style="left:427.57px;top:451.60px">-0.4</div>
<div class="cl cl2" style="left:453.81px;top:451.60px">-0.3</div>
<div class="cl cl2" style="left:480.06px;top:451.60px">-0.2</div>
<div class="cl cl2" style="left:506.30px;top:451.60px">-0.1</div>
<div class="cl cl2" style="left:532.55px;top:451.60px">0</div>
<div class="cl cl2" style="left:558.80px;top:451.60px">0.1</div>
<div class="cl cl2" style="left:585.04px;top:451.60px">0.2</div>
<div class="cl cl2" style="left:611.29px;top:451.60px">0.3</div>
<div class="cl cl2" style="left:637.53px;top:451.60px">0.4</div>
<div class="cl cl2" style="left:663.78px;top:451.60px">0.5</div>
<svg class="map" style="left:52.00px;top:503.60px;width:291.80px;height:146.00px" viewBox="-180 -90 360 180" preserveAspectRatio="none"><rect x="-180" y="-90" width="360" height="180" fill="#d7d7ff"/><path d="M-180,-44 -160,-44 -140,-42 -132,-36 -130,-28 -134,-18 -140,-8 -180,-8Z" fill="#b9b9ff"/><ellipse cx="-160" cy="-22" rx="25" ry="4" fill="#a7a7ff"/><path d="M-180,-17 -140,-17 -128,-12 -140,-7 -180,-8Z" fill="#9b9bff"/><path d="M-180,-8 -150,-7 -140,-5 -140,0 -180,0Z" fill="#adadff"/><ellipse cx="-116" cy="-3.5" rx="23" ry="3.2" fill="#ffffff"/><ellipse cx="-82" cy="-18" rx="16" ry="10" fill="#b3b3ff"/><ellipse cx="-75" cy="-14" rx="8" ry="4" fill="#9b9bff"/><path d="M-80,-30 -65,-40 -50,-47 -35,-52 -15,-55 -10,-40 -25,-30 -45,-22 -80,-20Z" fill="#b9b9ff"/><path d="M-62,-14 -45,-21 -30,-27 -14,-33 -8,-22 -18,-14 -40,-9 -62,-8Z" fill="#9b9bff"/><path d="M-60,-2 -40,-3 -20,-3 0,-2 10,0 10,-18 -10,-21 -30,-17 -50,-11 -60,-7Z" fill="#7d7dff"/><path d="M-55,-4 -20,-3 0,-2 10,-2 10,-15 -10,-17 -30,-13 -50,-8Z" fill="#4b4bff"/><path d="M-48,-5 -20,-4 0,-3 10,-3 10,-11 -10,-13 -30,-10Z" fill="#0e0efc"/><path d="M-13.4,-27.2 -13,-27.7 -11.5,-28.2 -10,-29.5 -9.8,-31 -9.6,-32 -8.5,-33.2 -6.8,-34 -6.2,-35.2 -5.9,-35.8 -4,-35.2 -2,-35.1 0,-35.8 0.8,-36.1 11,-35.2 10.3,-34.3 10.3,-33.5 11.5,-33.1 12,-32.9 15.5,-31.5 16.5,-31.2 19,-30.3 20,-31.5 20,-32.3 22.5,-32.8 23.5,-32.3 25,-31.6 27,-31.3 29,-30.9 31,-31.5 32.3,-31.3 34.2,-31.3 34.3,-30 34.9,-29.5 34.2,-28 33.6,-27.9 33,-29.5 32.5,-29.9 32.7,-28.5 33.9,-27 35,-24.8 35.5,-23.9 36,-23 36,-17 -16.3,-17 -16.1,-18 -16.3,-19.1Z" fill="#adadff" fill-rule="evenodd"/><ellipse cx="12" cy="-25" rx="14" ry="6" fill="#8c8cff"/><path d="M-17,-5 -10,-18 0,-25 20,-30 36,-30 42,-15 42,4 20,5 0,1Z" fill="#5c5cff"/><path d="M-12,-6 -5,-14 5,-20 20,-24 33,-29 40,-15 40,3 20,4 5,0Z" fill="#0e0efc"/><ellipse cx="-4.5" cy="-22" rx="4" ry="3" fill="#0f9637"/><path d="M-9,-11 -9,-3 5,0 15,1.5 28,1.5 36,-2 36,-15 35,-27 31,-28 27,-22 21,-19 16,-19 12,-13 2,-11Z" fill="#0fa526"/><ellipse cx="18.5" cy="-17.3" rx="2.8" ry="2" fill="#2dbe19"/><path d="M8,-7 18,-9 25,-11 26,-20 28,-27 32,-28 35,-22 35,-5 33,1 20,2 8,-1Z" fill="#d2ee0f"/><ellipse cx="22" cy="-4.3" rx="11.5" ry="4.6" fill="#ffa800"/><ellipse cx="30.5" cy="-18" rx="2.3" ry="4.5" fill="#ffb900"/><ellipse cx="22" cy="-4" rx="9.5" ry="3.4" fill="#ff1400"/><path d="M45,-37 27.8,-37 27.3,-37.5 26.5,-38.5 26.3,-40 27.5,-40.3 29,-41 28.6,-41.1 27,-40.5 26,-40.8 24,-40.8 23,-40.3 22.8,-39.5 24,-38 23,-37.5 22.8,-37 21.7,-37 21,-37.7 21.2,-38.3 20.2,-39.6 19.4,-41.8 18,-42.7 16,-43.5 15,-44.5 13.7,-45.6 12.3,-45.3 12.5,-44 14,-42.5 15.3,-42 16,-41.4 18.5,-40.2 17.5,-40.3 16.6,-38.8 16,-38 15.7,-38 15.8,-40 14,-40.8 12,-41.9 10.5,-43 9.5,-44 8.8,-44.4 7.5,-43.8 6.5,-43.1 5,-43.4 3.2,-43.2 3.2,-42 2,-41.3 0.5,-40.6 -0.3,-39.5 0.2,-38.7 -0.7,-37.6 -1.6,-37 -6.8,-37 -7.4,-37.2 -9,-37 -8.8,-38.5 -9.5,-39 -8.8,-41 -8.8,-42.8 -8,-43.7 -5,-43.5 -1.8,-43.4 -1.2,-46 -2.5,-47.3 -4.7,-48.4 -3,-48.8 -1.5,-48.7 -1.3,-49.7 0,-49.6 1.5,-50.5 2.5,-51.1 3.5,-51.5 4.5,-52.5 5,-53.3 7,-53.5 8.5,-53.8 8.8,-54.5 8.5,-55.5 8.2,-57 10.5,-57.7 10.2,-56 10.8,-55.5 11,-54 13,-54.4 14,-54 16,-54.4 18,-54.8 19.5,-54.4 21,-55 21,-57 22,-57.5 23.5,-57 24.3,-57.3 23.7,-58.8 24.5,-59.4 26,-59.6 28,-60 29.5,-60.1 26,-60.4 23,-60 21.3,-60.7 21.5,-63 23.5,-64 25.3,-65 24.5,-65.8 22.5,-65.8 21.2,-65 19.5,-63.5 17.5,-62.3 17.3,-61 18.8,-60 18.3,-59.2 16.5,-58.5 16.5,-57 15.8,-56.1 14.5,-56 12.8,-55.5 12.5,-56.4 11.8,-57.7 11,-58.8 10.5,-59.6 10,-59 8,-58 6.5,-58.1 5.5,-58.8 5,-60 5,-61 5.5,-62.3 7,-62.8 9,-63.5 10.5,-64.5 12.5,-65.8 13.5,-67.8 15,-68.4 16,-69 18,-69.7 19,-70 21,-70.2 23.5,-70.8 25.5,-71.1 28,-71 30,-70.5 31,-70 33,-69.3 36.5,-69 40,-67.8 41,-67.5 41,-66.7 39,-66 35,-66.3 34,-65 36,-64.5 37.5,-64.2 40.5,-64.6 42,-66.3 44.2,-66.5 44.2,-68.5 45,-68.3Z" fill="#f7f7ff" fill-rule="evenodd"/><path d="M8,-46.8 8,-46.5 7.9,-46.3 7.8,-46 7.8,-45.8 7.7,-45.5 7.5,-45.3 7.4,-45.1 7.2,-44.9 7.1,-44.6 6.9,-44.4 6.7,-44.2 6.4,-44 6.2,-43.8 5.9,-43.6 5.7,-43.5 5.4,-43.3 5,-43.4 3.2,-43.2 3.2,-42.4 3.1,-42.4 2.7,-42.3 2.3,-42.2 1.9,-42.1 1.6,-42.1 1.2,-42.1 0.8,-42 0.4,-42 0,-42 -0.4,-42 -0.8,-42 -1.2,-42.1 -1.6,-42.1 -1.9,-42.1 -2.3,-42.2 -2.7,-42.3 -3.1,-42.4 -3.4,-42.5 -3.8,-42.6 -4.1,-42.7 -4.4,-42.8 -4.8,-43 -5.1,-43.1 -5.4,-43.3 -5.7,-43.5 -5.8,-43.6 -5,-43.5 -1.8,-43.4 -1.2,-46 -2.5,-47.3 -4.7,-48.4 -3,-48.8 -1.5,-48.7 -1.3,-49.7 0,-49.6 1.5,-50.5 2.5,-51.1 3.5,-51.5 3.8,-51.4 4.1,-51.3 4.4,-51.2 4.8,-51 5.1,-50.9 5.4,-50.7 5.7,-50.5 5.9,-50.4 6.2,-50.2 6.4,-50 6.7,-49.8 6.9,-49.6 7.1,-49.4 7.2,-49.1 7.4,-48.9 7.5,-48.7 7.7,-48.5 7.8,-48.2 7.8,-48 7.9,-47.7 8,-47.5 8,-47.2 8,-47Z" fill="#d7d7ff" fill-rule="evenodd"/><ellipse cx="18" cy="-37" rx="14" ry="3" fill="#c5c5ff"/><ellipse cx="45" cy="-26" rx="12" ry="8" fill="#9b9bff"/><ellipse cx="52" cy="-20" rx="7" ry="4" fill="#7d7dff"/><ellipse cx="50" cy="-43" rx="3.5" ry="3" fill="#0000fa"/><ellipse cx="50" cy="-43" rx="1.5" ry="1.5" fill="#0f9637"/><path d="M45,-68.3 46,-68 48,-67.7 53.5,-68.5 58,-68.9 60.5,-69.8 64,-69.4 67,-69.2 67,-70.5 66.8,-71.5 69,-73 70.5,-73.2 72,-72.5 72.5,-71 72,-68.5 73.6,-68.5 74,-70 73,-71.5 72.8,-72.7 76,-72 78,-72.3 80,-72.3 81,-73.5 84,-73.8 87,-74 86.5,-75.2 90,-75.6 95,-76 99,-76.5 104,-77.7 107,-77 111,-76.7 113.5,-76 113,-74 112,-73.5 115,-73.7 118.5,-73.6 123,-73 127,-73.5 129,-72.5 129.5,-71 132,-71.5 136,-71.6 140,-72.5 143,-72.7 146,-72.3 150,-71.5 152,-70.9 155,-71.1 159,-70.8 161,-69.5 165,-69.6 170,-70 175,-69.8 178,-69.4 180,-69 180,-65.3 178.7,-64.5 177.5,-64.7 179,-62.8 177,-62.5 173.5,-61.7 170.5,-60.2 168,-60.5 164.8,-59.8 163.4,-59.3 162,-58 163.5,-57.5 163.5,-56 162,-54.8 160,-53.2 158.5,-52.8 156.7,-51 156,-53 155.5,-56 156.5,-57.8 158,-58 161,-60.5 160.5,-61.3 159.5,-61.8 157,-61.5 154,-59.5 151,-59 148,-59.3 145.5,-59.4 143,-59.3 141.5,-58.7 140.5,-57.8 138,-56.5 136.5,-54.8 137,-54 139,-54.2 140.5,-53.2 141.3,-52 140.5,-50.5 140.4,-48.5 139.5,-47.5 138.2,-46.5 136.9,-45 100,-45 80,-48 60,-48 45,-44Z" fill="#ffffff" fill-rule="evenodd"/><path d="M75,-42 100,-45 105,-33 98,-28 72,-28Z" fill="#ffffff" fill-rule="evenodd"/><ellipse cx="90" cy="-40" rx="3" ry="2" fill="#b9b9ff"/><path d="M62,-28 95,-28 95,-15.9 94.5,-16 94.2,-18.8 93.5,-19.5 92.3,-20.7 91.8,-22.3 91.5,-22.5 90.5,-22.2 90,-21.9 89,-21.6 88.5,-21.7 86.9,-20.6 86.5,-19.9 85,-19.4 84,-18.3 82.3,-16.6 81.3,-16.2 80.3,-15.5 80.2,-13.5 80.2,-13 79.8,-11.5 79.8,-10.3 79,-9.3 77.5,-8.1 76.5,-9.5 75.8,-11.5 74.8,-12.8 74.2,-14.8 73.5,-16 73,-18 72.8,-19.3 72.8,-20.5 72.6,-21.3 71.5,-20.8 70.5,-21.2 69.2,-22.3 70,-22.8 68.5,-23.5 67.5,-23.9 66.7,-25.2 64.5,-25.2 62,-25.2Z" fill="#a7a7ff" fill-rule="evenodd"/><ellipse cx="65" cy="-12" rx="9" ry="7" fill="#adadff"/><ellipse cx="87" cy="-14" rx="6" ry="6" fill="#a7a7ff"/><path d="M95,-28 120,-33 120,-26.8 119.7,-26.5 119.5,-25.5 118.5,-24.6 118,-24.4 116.5,-22.9 115,-22.7 113.5,-22.2 112,-21.8 110.5,-21.2 110.2,-20.3 109.7,-21.5 108.5,-21.7 108,-21.5 106.6,-20.2 105.8,-19 106.5,-18 107,-17 108.3,-16 108.8,-15.3 109.3,-13.5 109.3,-12 108.8,-11.2 107.5,-10.5 106.5,-9.5 105,-8.6 104.8,-10.4 104.3,-10.5 103,-10.8 102.5,-12 101,-12.7 100,-13.5 100,-12.2 99.2,-10 99.5,-9.3 100.3,-8.4 100.5,-7.2 101.3,-6.9 102.2,-6.2 103.4,-4.8 103.5,-2.8 104.3,-1.4 103.5,-1.3 101.3,-2.9 100.6,-4 100.3,-5.6 100.2,-6.5 99,-7.9 98.3,-8 98.6,-10 98.6,-12 98.2,-13.5 97.8,-16 97.3,-16.6 96.5,-16.8 95.5,-15.8 95,-15.9Z" fill="#a1a1ff" fill-rule="evenodd"/><ellipse cx="106" cy="-30" rx="6" ry="4" fill="#8c8cff"/><path d="M108,-22 125,-32 145,-38 165,-42 180,-44 180,-27 150,-24 122,-18Z" fill="#b9b9ff"/><path d="M100,-15 125,-22 150,-26 180,-27 180,-12 150,-11 120,-9 100,-8Z" fill="#9b9bff"/><ellipse cx="118" cy="-17" rx="12" ry="4.5" fill="#5c5cff"/><ellipse cx="156" cy="-2.5" rx="24" ry="3.3" fill="#ffffff"/><ellipse cx="132" cy="2" rx="12" ry="4" fill="#b9b9ff"/><ellipse cx="-113" cy="13" rx="36" ry="9" fill="#b9b9ff" transform="rotate(12 -113 13)"/><ellipse cx="-115" cy="13.5" rx="24" ry="5.5" fill="#9b9bff" transform="rotate(14 -115 13.5)"/><path d="M-180,9 -160,10 -145,14 -148,20 -180,18Z" fill="#efefff"/><ellipse cx="-172" cy="28" rx="12" ry="7" fill="#b3b3ff"/><path d="M-180,40 -120,41 -75,42 -65,46 -65,54 -180,54Z" fill="#b9b9ff"/><path d="M70,38 120,36 180,38 180,54 90,54 75,48Z" fill="#b9b9ff"/><ellipse cx="-110" cy="47.5" rx="40" ry="3" fill="#a4a4ff"/><ellipse cx="140" cy="46" rx="35" ry="4" fill="#aaaaff"/><ellipse cx="-12" cy="12" rx="26" ry="9" fill="#9595ff"/><ellipse cx="-2" cy="16" rx="12" ry="5" fill="#6c6cff"/><ellipse cx="40" cy="36" rx="24" ry="7" fill="#b9b9ff"/><ellipse cx="8" cy="18" rx="10" ry="4" fill="#8c8cff" transform="rotate(-30 8 18)"/><ellipse cx="17" cy="25" rx="6.5" ry="6.5" fill="#5c5cff"/><ellipse cx="17.5" cy="26.5" rx="4" ry="4.5" fill="#0e0efc"/><ellipse cx="17.8" cy="27.6" rx="3" ry="3.5" fill="#0fb414"/><ellipse cx="17.8" cy="27.8" rx="1.6" ry="1.8" fill="#e6f50a"/><ellipse cx="17.8" cy="28" rx="0.8" ry="0.9" fill="#ff7800"/><path d="M-71.5,-10 -71.2,-9.5 -71.1,-10 -61,-10 -60.5,-8.5 -58,-6.8 -56,-5.9 -54,-5.8 -52.5,-5 -51.5,-4 -50.8,-2 -50,-1.5 -50,-0.2 -48.5,1 -47,0.6 -44.5,2.5 -42,2.8 -40,2.8 -38,3.8 -37,5 -35.3,5.5 -35,7 -35,9.5 -36.5,10.5 -37.5,12.5 -39,14 -39,17.5 -39.8,19.5 -40.5,21.5 -42,23 -45,23.7 -47,24.5 -48.5,26 -48.8,28.5 -50,30 -51,31 -52.5,33 -53.5,34 -55,34.9 -56.5,34.8 -58.3,34 -58.5,34.5 -57,36.5 -57.8,38.3 -60,38.8 -62,39 -62.3,40.5 -65,41 -64.5,42.5 -63.8,42.2 -65,43.5 -65.5,45 -67.5,46.3 -66,47.8 -67.5,49 -69,50.5 -68.5,52.3 -69.5,52.5 -68.5,53.3 -67.5,54.5 -65.5,55 -67,55.3 -69,55.5 -71,55 -72.5,54 -74,52.5 -75.3,50 -75.4,47.8 -74.5,46.5 -73.5,44.5 -73.5,42 -73.3,40 -73.5,37.5 -72.5,35.5 -71.5,32.5 -71.4,28 -70.5,25 -70.5,23 -70.2,18.5 -71.5,17.5 -73,16.5 -76,14 -76.5,12.5 -77.5,11 -79,8.2 -79.5,7 -80,6.6 -80,2.5 -80,-0.8 -78.9,-1.5 -78.5,-2.5 -77.3,-3.8 -77.4,-6.5 -77.8,-7.5 -77.3,-8.5 -76.5,-9.5 -76,-10Z" fill="#bfbfff" fill-rule="evenodd"/><path d="M-42,12.2 -42,12.5 -42.1,12.7 -42.1,13 -42.2,13.2 -42.3,13.5 -42.4,13.7 -42.5,13.9 -42.6,14.1 -42.7,14.4 -42.9,14.6 -43,14.8 -43.2,15 -43.4,15.2 -43.6,15.4 -43.8,15.5 -44,15.7 -44.2,15.9 -44.4,16 -44.7,16.2 -44.9,16.3 -45.2,16.4 -45.4,16.5 -45.7,16.6 -46,16.7 -46.3,16.8 -46.5,16.9 -46.8,16.9 -47.1,16.9 -47.4,17 -47.7,17 -48,17 -48.3,17 -48.6,17 -48.9,16.9 -49.2,16.9 -49.5,16.9 -49.7,16.8 -50,16.7 -50.3,16.6 -50.6,16.5 -50.8,16.4 -51.1,16.3 -51.3,16.2 -51.6,16 -51.8,15.9 -52,15.7 -52.2,15.5 -52.4,15.4 -52.6,15.2 -52.8,15 -53,14.8 -53.1,14.6 -53.3,14.4 -53.4,14.1 -53.5,13.9 -53.6,13.7 -53.7,13.5 -53.8,13.2 -53.9,13 -53.9,12.7 -54,12.5 -54,12.2 -54,12 -54,11.8 -54,11.5 -53.9,11.3 -53.9,11 -53.8,10.8 -53.7,10.5 -53.6,10.3 -53.5,10.1 -53.4,9.9 -53.3,9.6 -53.1,9.4 -53,9.2 -52.8,9 -52.6,8.8 -52.4,8.6 -52.2,8.5 -52,8.3 -51.8,8.1 -51.6,8 -51.3,7.8 -51.1,7.7 -50.8,7.6 -50.6,7.5 -50.3,7.4 -50,7.3 -49.7,7.2 -49.5,7.1 -49.2,7.1 -48.9,7.1 -48.6,7 -48.3,7 -48,7 -47.7,7 -47.4,7 -47.1,7.1 -46.8,7.1 -46.5,7.1 -46.3,7.2 -46,7.3 -45.7,7.4 -45.4,7.5 -45.2,7.6 -44.9,7.7 -44.7,7.8 -44.4,8 -44.2,8.1 -44,8.3 -43.8,8.5 -43.6,8.6 -43.4,8.8 -43.2,9 -43,9.2 -42.9,9.4 -42.7,9.6 -42.6,9.9 -42.5,10.1 -42.4,10.3 -42.3,10.5 -42.2,10.8 -42.1,11 -42.1,11.3 -42,11.5 -42,11.8 -42,12Z" fill="#9b9bff" fill-rule="evenodd"/><ellipse cx="87" cy="21" rx="38" ry="13" fill="#b3b3ff"/><ellipse cx="93" cy="20" rx="20" ry="5" fill="#9595ff"/><ellipse cx="80" cy="3.5" rx="21" ry="5.5" fill="#ffffff"/><path d="M114.2,21.8 115,21.5 116.7,20.6 118.5,20.3 120,20 121.3,19.5 122.2,18 123.5,17 125,15 126,14 127.7,14.3 128.5,14.9 129.5,14.8 130,13.2 131,12.2 133,11.3 135.5,12 136.8,12.2 135.5,14.8 137.3,16 139,16.8 140,17.7 141.5,17 141.5,15 141.6,12.8 142,11.5 142.5,10.7 143.5,13.5 144,14.3 145.3,14.8 145.4,16 146,17 146.3,19 148,19.8 149,20.5 150.8,22.5 151.5,24 153,25 153.6,28 153,31 152.5,32.3 151.2,33.9 150.2,35.5 150,37.5 148,37.8 146.3,39 145,38 143.5,38.8 141.5,38.3 140,37.5 139.5,36.5 138.5,35.5 137.5,35.5 137.8,34 137.8,32.7 136,34.5 135.6,34.8 134,32.5 131,31.5 129,31.7 126,32.3 123.5,33.9 120,34 118,35 116.5,35 115,34.3 115.7,33.5 115.7,31.8 115,29.5 114,26.5 113.5,24.5 113.5,22Z" fill="#c8c8ff" fill-rule="evenodd"/><ellipse cx="132" cy="25" rx="5" ry="2.5" fill="#9b9bff"/><ellipse cx="170" cy="25" rx="10" ry="12" fill="#bfbfff"/><path d="M-180,60 -60,59 -30,53 60,54 100,56 180,56 180,90 -180,90Z" fill="#ffffff"/><path d="M-180,-57 -160,-55 -140,-57 -130,-52 -125,-48 -60,-48 -45,-52 -30,-58 0,-63 10,-65 45,-70 170,-65 180,-62 180,-90 -180,-90Z" fill="#ffffff"/><path d="M-85.5,-10 -85.7,-11.1 -87.5,-13 -88.5,-13.3 -91.5,-14 -93,-15.6 -94.5,-16.2 -97,-16 -98.5,-16.3 -101.5,-17.5 -104.5,-19.2 -105.5,-20 -105.3,-21.5 -106.5,-23.5 -108,-25.2 -109,-26.5 -110.6,-27.8 -112.2,-29.5 -113,-31 -114.8,-31.8 -114.3,-30 -113,-29 -112.2,-27.5 -111.3,-25.6 -110.5,-24.2 -109.5,-23 -110.3,-23.5 -112,-24.8 -112.2,-26 -114,-27.5 -114.3,-28.6 -116,-30.5 -116.7,-31.8 -117.1,-32.5 -118.5,-34 -120.6,-34.6 -121.9,-36.5 -122.5,-37.5 -123,-38 -123.8,-39.5 -124.2,-40.5 -124.1,-42 -124.5,-43 -124,-46 -124.7,-48.4 -123,-48.5 -123,-49 -125,-50 -127.5,-50.8 -128,-52 -130,-54.5 -131.5,-55.5 -133,-57 -135,-58.2 -137,-58.5 -139.5,-59.6 -142,-60 -146,-60.8 -148,-60 -150,-59.5 -151.5,-59.2 -152.5,-58 -154,-57.5 -156.5,-56.5 -158,-56.5 -161,-55.5 -163,-55 -164.5,-54.5 -162,-55.6 -160,-56.5 -158,-57.8 -157,-58.7 -159,-58.4 -162,-58.5 -162,-60 -165,-60.5 -165,-61.8 -164.5,-63 -161,-64.5 -163.5,-64.6 -166,-64.7 -166.5,-65.3 -168,-65.5 -163,-67 -166,-68.8 -161,-70.3 -156.8,-71.3 -152,-70.8 -150,-70.4 -145,-70.1 -141,-69.7 -136,-69 -133,-69.6 -128,-70.2 -124,-69.6 -120,-69.3 -114,-68.3 -108,-68.5 -104,-68 -98,-67.8 -96,-69.5 -95,-71.5 -92,-70 -90,-68.5 -85,-69.5 -82,-68.5 -81.5,-66.8 -86,-66.2 -87,-64.5 -91,-62.8 -94.5,-61 -93.5,-58.8 -92.5,-57 -88,-56.5 -85,-55.3 -82.3,-52.9 -80.5,-51.3 -79,-51.5 -79,-54.5 -76.8,-56.5 -77.5,-58.5 -78,-60.5 -77.5,-62.5 -73,-62 -70,-61 -69.5,-59 -67,-58.3 -65,-60.3 -64,-59.3 -61.5,-56 -59,-55 -57,-53 -55.7,-52 -57.5,-51.3 -60,-50.2 -64,-50.2 -66.5,-50 -68.6,-48.7 -65,-49.2 -64.3,-48.5 -65,-47.5 -64.5,-46.2 -61.5,-45.6 -60,-46 -61,-45 -64,-44.5 -65.8,-43.6 -66,-44.8 -67.8,-44.5 -70,-43.7 -70.6,-42.5 -70,-41.7 -71.5,-41.4 -74,-40.6 -74.2,-39.5 -75.5,-38.5 -75.9,-37 -76,-35.5 -75.5,-35.2 -77,-34.5 -79,-33.3 -81,-31.5 -81.3,-29.8 -80,-26.5 -80.5,-25.2 -81.3,-25.8 -82,-26.5 -82.7,-28 -83,-29 -84,-30 -85.5,-29.7 -87,-30.4 -89,-30.2 -89.5,-29.2 -90.5,-29.1 -92,-29.6 -94,-29.6 -95.5,-28.7 -97.2,-27.8 -97.5,-26 -97.7,-24 -97.3,-21.5 -96.2,-19.5 -95,-18.6 -94,-18.2 -91.5,-18.5 -90.5,-19.8 -90.3,-21 -87,-21.5 -87.5,-19.8 -87.8,-18.3 -88.3,-17.5 -88.3,-16 -86,-15.9 -84,-15.8 -83.3,-15 -83.6,-13 -83.3,-11 -82.6,-10Z" fill="#ffffff" fill-rule="evenodd"/><path d="M-180,-69 -176,-67.8 -174,-67 -171.8,-66.9 -169.8,-66 -171,-65.5 -172.5,-64.5 -175,-64.8 -178,-64.7 -180,-65.3ZM180,-65.3 178.7,-64.5 177.5,-64.7 179,-62.8 177,-62.5 173.5,-61.7 170.5,-60.2 168,-60.5 164.8,-59.8 163.4,-59.3 162,-58 158,-58 161,-60.5 160.5,-61.3 159.5,-61.8 157,-61.5 154,-59.5 151,-59 148,-59.3 145.5,-59.4 143,-59.3 141.5,-58.7 140.7,-58 24,-58 23.7,-58.8 24.5,-59.4 26,-59.6 28,-60 29.5,-60.1 26,-60.4 23,-60 21.3,-60.7 21.5,-63 23.5,-64 25.3,-65 24.5,-65.8 22.5,-65.8 21.2,-65 19.5,-63.5 17.5,-62.3 17.3,-61 18.8,-60 18.3,-59.2 16.5,-58.5 16.5,-58 11.6,-58 11,-58.8 10.5,-59.6 10,-59 8,-58 6.5,-58.1 5.5,-58.8 5,-60 5,-61 5.5,-62.3 7,-62.8 9,-63.5 10.5,-64.5 12.5,-65.8 13.5,-67.8 15,-68.4 16,-69 18,-69.7 19,-70 21,-70.2 23.5,-70.8 25.5,-71.1 28,-71 30,-70.5 31,-70 33,-69.3 36.5,-69 40,-67.8 41,-67.5 41,-66.7 39,-66 35,-66.3 34,-65 36,-64.5 37.5,-64.2 40.5,-64.6 42,-66.3 44.2,-66.5 44.2,-68.5 46,-68 48,-67.7 53.5,-68.5 58,-68.9 60.5,-69.8 64,-69.4 67,-69.2 67,-70.5 66.8,-71.5 69,-73 70.5,-73.2 72,-72.5 72.5,-71 72,-68.5 73.6,-68.5 74,-70 73,-71.5 72.8,-72.7 76,-72 78,-72.3 80,-72.3 81,-73.5 84,-73.8 87,-74 86.5,-75.2 90,-75.6 95,-76 99,-76.5 104,-77.7 107,-77 111,-76.7 113.5,-76 113,-74 112,-73.5 115,-73.7 118.5,-73.6 123,-73 127,-73.5 129,-72.5 129.5,-71 132,-71.5 136,-71.6 140,-72.5 143,-72.7 146,-72.3 150,-71.5 152,-70.9 155,-71.1 159,-70.8 161,-69.5 165,-69.6 170,-70 175,-69.8 178,-69.4 180,-69ZM-5.4,-58 -5,-58.6 -3.1,-58.6 -2.3,-58ZM-77.3,-58 -77.5,-58.5 -78,-60.5 -77.5,-62.5 -73,-62 -70,-61 -69.5,-59 -67,-58.3 -65,-60.3 -64,-59.3 -63,-58ZM-134.7,-58 -135,-58.2 -137,-58.5 -139.5,-59.6 -142,-60 -146,-60.8 -148,-60 -150,-59.5 -151.5,-59.2 -152.5,-58 -157.8,-58 -157,-58.7 -159,-58.4 -162,-58.5 -162,-60 -165,-60.5 -165,-61.8 -164.5,-63 -161,-64.5 -163.5,-64.6 -166,-64.7 -166.5,-65.3 -168,-65.5 -163,-67 -166,-68.8 -161,-70.3 -156.8,-71.3 -152,-70.8 -150,-70.4 -145,-70.1 -141,-69.7 -136,-69 -133,-69.6 -128,-70.2 -124,-69.6 -120,-69.3 -114,-68.3 -108,-68.5 -104,-68 -98,-67.8 -96,-69.5 -95,-71.5 -92,-70 -90,-68.5 -85,-69.5 -82,-68.5 -81.5,-66.8 -86,-66.2 -87,-64.5 -91,-62.8 -94.5,-61 -93.5,-58.8 -93.1,-58ZM-84,-65.5 -81,-63.8 -87,-63.5 -86,-66ZM-18.7,-63.4 -22.5,-64 -24,-65.5 -22,-66.4 -18,-66.2 -14.5,-66.4 -13.5,-65 -15,-64.3ZM-71.5,-63.5 -74,-64.5 -77.8,-64.4 -73,-67 -73.5,-68 -77,-69.5 -79,-70 -84,-69.8 -87,-70 -89,-71.5 -86,-73.8 -80,-73.5 -76,-72.5 -71.5,-71 -68.5,-70.2 -66.5,-68.5 -61.8,-66.8 -64,-65.5 -65,-64.5 -64.5,-63 -66,-62 -68,-62.5ZM-114,-68.4 -117.5,-69.5 -118.5,-71 -117.8,-72.4 -120,-71.5 -125.5,-71.9 -123,-73.8 -118.5,-74.5 -115.5,-73.4 -116.3,-73.1 -113,-73.2 -107,-73.5 -104.5,-71.5 -101.5,-69.6 -107,-68.8ZM-32,-83.6 -24,-82.9 -20,-82 -12,-81.5 -17,-80 -19,-78.5 -18,-77 -19,-74 -22,-72.5 -22,-70.5 -24.5,-69.5 -27,-68.5 -31,-68 -34,-66.5 -37,-65.7 -40,-65 -41,-63.5 -42.5,-61 -43.5,-60 -45.5,-60.5 -48,-61.2 -49.5,-62.8 -51,-64 -52.5,-65.5 -53.5,-67 -52.5,-68.5 -51,-69.6 -54,-70.5 -54.5,-71.5 -55.5,-72.5 -56,-73.5 -58,-75.2 -62,-76 -66,-76.1 -68,-76.5 -71,-77.2 -73,-78 -69,-79 -66,-80.2 -62,-81.3 -57,-82.2 -50,-82.5 -42,-83.2ZM-96,-72 -101,-72 -98,-74 -93,-73.5ZM-87,-79 -91,-81 -80,-83 -70,-83 -62,-82.5 -66,-80.5 -75,-78.5 -80,-76.2 -88.6,-76.5 -79.5,-75.5 -80.5,-74.5 -91,-74.7 -89,-76.5 -90,-76.5ZM-96,-78 -100,-76 -120,-76 -110,-78.5ZM58,-71 56,-70.5 52,-71.5 55,-74.5 60,-76.5 67,-77 68,-76.5 60,-75.5 56,-73ZM11,-79.8 20,-80.5 27,-79.5 22,-77.5 16,-76.5 11,-78.5ZM95,-80.5 102,-81 106,-79 100,-78 95,-79ZM143,-73.5 136,-75.5 142,-76 150,-75Z" fill="#ffffff" fill-rule="evenodd"/><path d="M-69,-79 -66,-80.2 -62,-81.3 -57,-82.2 -50,-82.5 -42,-83.2 -32,-83.6 -24,-82.9 -20,-82 -12,-81.5 -17,-80 -19,-78.5 -18,-77 -19,-74 -22,-72.5 -22,-70.5 -24.5,-69.5 -27,-68.5 -31,-68 -34,-66.5 -37,-65.7 -40,-65 -41,-63.5 -42.5,-61 -43.5,-60 -45.5,-60.5 -48,-61.2 -49.5,-62.8 -51,-64 -52.5,-65.5 -53.5,-67 -52.5,-68.5 -51,-69.6 -54,-70.5 -54.5,-71.5 -55.5,-72.5 -56,-73.5 -58,-75.2 -62,-76 -66,-76.1 -68,-76.5 -71,-77.2 -73,-78Z" fill="#d5d5d5" fill-rule="evenodd"/><path d="M-18.7,-63.4 -22.5,-64 -24,-65.5 -22,-66.4 -18,-66.2 -14.5,-66.4 -13.5,-65 -15,-64.3Z" fill="#d5d5d5" fill-rule="evenodd"/><path d="M80,-72.3 81,-73.5 84,-73.8 87,-74 86.5,-75.2 90,-75.6 95,-76 99,-76.5 104,-77.7 107,-77 111,-76.7 113.5,-76 113,-74 112,-73.5 115,-73.7 115,-70 80,-70ZM95,-80.5 102,-81 106,-79 100,-78 95,-79Z" fill="#d5d5d5" fill-rule="evenodd"/><use href="#bd"/><use href="#cs"/></svg>
<svg class="frame" style="left:44.00px;top:495.60px;width:307.80px;height:162.00px"><rect x="8" y="8" width="291.8" height="146" fill="none" stroke="#3a3a3a" stroke-width="1.1"/><path d="M8.00 8.00v-5.00M8.00 154.00v5.00M16.11 8.00v-2.50M16.11 154.00v2.50M24.21 8.00v-2.50M24.21 154.00v2.50M32.32 8.00v-5.00M32.32 154.00v5.00M40.42 8.00v-2.50M40.42 154.00v2.50M48.53 8.00v-2.50M48.53 154.00v2.50M56.63 8.00v-5.00M56.63 154.00v5.00M64.74 8.00v-2.50M64.74 154.00v2.50M72.84 8.00v-2.50M72.84 154.00v2.50M80.95 8.00v-5.00M80.95 154.00v5.00M89.06 8.00v-2.50M89.06 154.00v2.50M97.16 8.00v-2.50M97.16 154.00v2.50M105.27 8.00v-5.00M105.27 154.00v5.00M113.37 8.00v-2.50M113.37 154.00v2.50M121.48 8.00v-2.50M121.48 154.00v2.50M129.58 8.00v-5.00M129.58 154.00v5.00M137.69 8.00v-2.50M137.69 154.00v2.50M145.79 8.00v-2.50M145.79 154.00v2.50M153.90 8.00v-5.00M153.90 154.00v5.00M162.01 8.00v-2.50M162.01 154.00v2.50M170.11 8.00v-2.50M170.11 154.00v2.50M178.22 8.00v-5.00M178.22 154.00v5.00M186.32 8.00v-2.50M186.32 154.00v2.50M194.43 8.00v-2.50M194.43 154.00v2.50M202.53 8.00v-5.00M202.53 154.00v5.00M210.64 8.00v-2.50M210.64 154.00v2.50M218.74 8.00v-2.50M218.74 154.00v2.50M226.85 8.00v-5.00M226.85 154.00v5.00M234.96 8.00v-2.50M234.96 154.00v2.50M243.06 8.00v-2.50M243.06 154.00v2.50M251.17 8.00v-5.00M251.17 154.00v5.00M259.27 8.00v-2.50M259.27 154.00v2.50M267.38 8.00v-2.50M267.38 154.00v2.50M275.48 8.00v-5.00M275.48 154.00v5.00M283.59 8.00v-2.50M283.59 154.00v2.50M291.69 8.00v-2.50M291.69 154.00v2.50M299.80 8.00v-5.00M299.80 154.00v5.00M8.00 8.00h-5.00M299.80 8.00h5.00M8.00 16.11h-2.50M299.80 16.11h2.50M8.00 24.22h-2.50M299.80 24.22h2.50M8.00 32.33h-5.00M299.80 32.33h5.00M8.00 40.44h-2.50M299.80 40.44h2.50M8.00 48.56h-2.50M299.80 48.56h2.50M8.00 56.67h-5.00M299.80 56.67h5.00M8.00 64.78h-2.50M299.80 64.78h2.50M8.00 72.89h-2.50M299.80 72.89h2.50M8.00 81.00h-5.00M299.80 81.00h5.00M8.00 89.11h-2.50M299.80 89.11h2.50M8.00 97.22h-2.50M299.80 97.22h2.50M8.00 105.33h-5.00M299.80 105.33h5.00M8.00 113.44h-2.50M299.80 113.44h2.50M8.00 121.56h-2.50M299.80 121.56h2.50M8.00 129.67h-5.00M299.80 129.67h5.00M8.00 137.78h-2.50M299.80 137.78h2.50M8.00 145.89h-2.50M299.80 145.89h2.50M8.00 154.00h-5.00M299.80 154.00h5.00" stroke="#3a3a3a" stroke-width="0.9" fill="none"/></svg>
<div class="yl" style="left:-20.50px;top:498.00px">90N</div>
<div class="yl" style="left:-20.50px;top:522.33px">60N</div>
<div class="yl" style="left:-20.50px;top:546.67px">30N</div>
<div class="yl" style="left:-20.50px;top:571.00px">0</div>
<div class="yl" style="left:-20.50px;top:595.33px">30S</div>
<div class="yl" style="left:-20.50px;top:619.67px">60S</div>
<div class="yl" style="left:-20.50px;top:644.00px">90S</div>
<div class="xl" style="left:22.00px;top:660.90px">180</div>
<div class="xl" style="left:46.32px;top:660.90px">150W</div>
<div class="xl" style="left:70.63px;top:660.90px">120W</div>
<div class="xl" style="left:94.95px;top:660.90px">90W</div>
<div class="xl" style="left:119.27px;top:660.90px">60W</div>
<div class="xl" style="left:143.58px;top:660.90px">30W</div>
<div class="xl" style="left:167.90px;top:660.90px">0</div>
<div class="xl" style="left:192.22px;top:660.90px">30E</div>
<div class="xl" style="left:216.53px;top:660.90px">60E</div>
<div class="xl" style="left:240.85px;top:660.90px">90E</div>
<div class="xl" style="left:265.17px;top:660.90px">120E</div>
<div class="xl" style="left:289.48px;top:660.90px">150E</div>
<div class="xl" style="left:313.80px;top:660.90px">180</div>
<div class="tl" style="left:52.30px;top:487.00px">AOD 550 nm</div>
<div class="tc" style="left:52.00px;top:487.00px;width:291.80px">CAM-STRATMAM-DJF</div>
<div class="tr" style="left:243.80px;top:487.00px">0.13</div>
<div class="lab" style="left:55.80px;top:621.20px">d)</div>
<svg class="cb" style="left:52.70px;top:676.40px;width:289.60px;height:9.80px"><rect x="0.50" y="0.5" width="9.31" height="8.80" fill="#ffffff"/><rect x="9.81" y="0.5" width="9.31" height="8.80" fill="#d7d7ff"/><rect x="19.12" y="0.5" width="9.31" height="8.80" fill="#b9b9ff"/><rect x="28.43" y="0.5" width="9.31" height="8.80" fill="#9b9bff"/><rect x="37.74" y="0.5" width="9.31" height="8.80" fill="#7d7dff"/><rect x="47.05" y="0.5" width="9.31" height="8.80" fill="#5c5cff"/><rect x="56.36" y="0.5" width="9.31" height="8.80" fill="#3a3aff"/><rect x="65.67" y="0.5" width="9.31" height="8.80" fill="#1c1cff"/><rect x="74.98" y="0.5" width="9.31" height="8.80" fill="#0000fa"/><rect x="84.29" y="0.5" width="9.31" height="8.80" fill="#0523d7"/><rect x="93.60" y="0.5" width="9.31" height="8.80" fill="#0a37b9"/><rect x="102.91" y="0.5" width="9.31" height="8.80" fill="#0f5596"/><rect x="112.22" y="0.5" width="9.31" height="8.80" fill="#0f6e78"/><rect x="121.53" y="0.5" width="9.31" height="8.80" fill="#0f8750"/><rect x="130.84" y="0.5" width="9.31" height="8.80" fill="#0f9637"/><rect x="140.15" y="0.5" width="9.31" height="8.80" fill="#0fb414"/><rect x="149.45" y="0.5" width="9.31" height="8.80" fill="#2dbe19"/><rect x="158.76" y="0.5" width="9.31" height="8.80" fill="#4bc81e"/><rect x="168.07" y="0.5" width="9.31" height="8.80" fill="#64cd23"/><rect x="177.38" y="0.5" width="9.31" height="8.80" fill="#8cd71e"/><rect x="186.69" y="0.5" width="9.31" height="8.80" fill="#bee614"/><rect x="196.00" y="0.5" width="9.31" height="8.80" fill="#e6f50a"/><rect x="205.31" y="0.5" width="9.31" height="8.80" fill="#fff000"/><rect x="214.62" y="0.5" width="9.31" height="8.80" fill="#ffd200"/><rect x="223.93" y="0.5" width="9.31" height="8.80" fill="#ffb900"/><rect x="233.24" y="0.5" width="9.31" height="8.80" fill="#ff9600"/><rect x="242.55" y="0.5" width="9.31" height="8.80" fill="#ff7800"/><rect x="251.86" y="0.5" width="9.31" height="8.80" fill="#ff5000"/><rect x="261.17" y="0.5" width="9.31" height="8.80" fill="#ff2d00"/><rect x="270.48" y="0.5" width="9.31" height="8.80" fill="#ff1400"/><rect x="279.79" y="0.5" width="9.31" height="8.80" fill="#ff0000"/><path d="M0.50 0.5v8.80M9.81 0.5v8.80M19.12 0.5v8.80M28.43 0.5v8.80M37.74 0.5v8.80M47.05 0.5v8.80M56.36 0.5v8.80M65.67 0.5v8.80M74.98 0.5v8.80M84.29 0.5v8.80M93.60 0.5v8.80M102.91 0.5v8.80M112.22 0.5v8.80M121.53 0.5v8.80M130.84 0.5v8.80M140.15 0.5v8.80M149.45 0.5v8.80M158.76 0.5v8.80M168.07 0.5v8.80M177.38 0.5v8.80M186.69 0.5v8.80M196.00 0.5v8.80M205.31 0.5v8.80M214.62 0.5v8.80M223.93 0.5v8.80M233.24 0.5v8.80M242.55 0.5v8.80M251.86 0.5v8.80M261.17 0.5v8.80M270.48 0.5v8.80M279.79 0.5v8.80M289.10 0.5v8.80" stroke="#444" stroke-width="0.6" fill="none"/><rect x="0.5" y="0.5" width="288.60" height="8.80" fill="none" stroke="#444" stroke-width="0.7"/></svg>
<div class="cl" style="left:41.82px;top:687.50px">0.1</div>
<div class="cl" style="left:69.75px;top:687.50px">0.25</div>
<div class="cl" style="left:97.68px;top:687.50px">0.4</div>
<div class="cl" style="left:125.61px;top:687.50px">0.55</div>
<div class="cl" style="left:153.54px;top:687.50px">0.7</div>
<div class="cl" style="left:181.46px;top:687.50px">0.85</div>
<div class="cl" style="left:209.39px;top:687.50px">1</div>
<div class="cl" style="left:237.32px;top:687.50px">1.15</div>
<div class="cl" style="left:265.25px;top:687.50px">1.3</div>
<div class="cl" style="left:293.18px;top:687.50px">1.45</div>
<svg class="map" style="left:416.60px;top:503.40px;width:291.80px;height:146.00px" viewBox="-180 -90 360 180" preserveAspectRatio="none"><rect x="-180" y="-90" width="360" height="180" fill="#e1e1ff"/><path d="M-180,-36 -160,-37 -130,-34 -122,-26 -126,-12 -150,-11 -180,-12Z" fill="#ffe1e1"/><ellipse cx="-155" cy="-16.5" rx="22" ry="6.5" fill="#ffafaf"/><path d="M118,-22 150,-21 180,-21 180,-7 150,-7 118,-10Z" fill="#ffe1e1"/><ellipse cx="162" cy="-14" rx="19" ry="4.8" fill="#ffb9b9"/><ellipse cx="128" cy="-16" rx="7" ry="3" fill="#ffc3c3"/><path d="M-180,-8 -130,-7.5 -95,-6 -90,-2 -130,-2 -180,-3Z" fill="#b4b4ff"/><ellipse cx="-82" cy="-3" rx="4" ry="3" fill="#0005ff"/><path d="M-180,-62 -165,-60 -150,-58 -138,-59 -140,-54 -160,-50 -180,-52Z" fill="#c2c2ff"/><path d="M-65,-48 -67.4,-44.6 -67.8,-44.5 -70,-43.7 -70.6,-42.5 -70,-41.7 -71.5,-41.4 -74,-40.6 -74.2,-39.5 -75.5,-38.5 -75.7,-37.7 -95,-36 -112,-40 -112,-49Z" fill="#b4b4ff" fill-rule="evenodd"/><path d="M-112,-40 -100,-33 -97.2,-27.7 -97.5,-26 -97.7,-24 -97.3,-21.5 -96.2,-19.5 -95,-18.6 -94,-18.2 -92.3,-18.4 -90,-14 -91.7,-14.2 -93,-15.6 -94.5,-16.2 -97,-16 -98.5,-16.3 -101.5,-17.5 -104.5,-19.2 -105.5,-20 -105.3,-21.5 -106.5,-23.5 -108,-25.2 -109,-26.5 -110.6,-27.8 -112.2,-29.5 -113,-31 -114.8,-31.8 -114.3,-30 -113,-29 -112.2,-27.5 -111.3,-25.6 -110.5,-24.2 -109.5,-23 -109.9,-23.3 -112,-25 -112.2,-26 -114,-27.5 -114.3,-28.6 -116,-30.5 -116.7,-31.8 -117.1,-32.5 -118.5,-34 -120.6,-34.6 -121.9,-36.5 -122.5,-37.5 -123,-38 -123.8,-39.5 -124,-40Z" fill="#ffe1e1" fill-rule="evenodd"/><ellipse cx="-90" cy="-25" rx="7" ry="4" fill="#b4b4ff"/><ellipse cx="-67" cy="-8" rx="7" ry="4" fill="#ff5252"/><path d="M-40,-63 -10,-62 5,-56 5,-40 -20,-38 -40,-45Z" fill="#ffe1e1"/><ellipse cx="-20" cy="-52" rx="12" ry="5" fill="#ffbebe"/><path d="M-62,-58 -50,-63 -45,-60 -45,-50 -55,-45 -62,-45Z" fill="#9b9bff"/><ellipse cx="-36" cy="-18" rx="29" ry="15" fill="#ffafaf"/><ellipse cx="-39" cy="-17" rx="22" ry="12" fill="#ff8282"/><ellipse cx="-39" cy="-10" rx="16" ry="5" fill="#ff5252"/><path d="M18.8,-60 18.3,-59.2 16.5,-58.5 16.5,-57 15.8,-56.1 14.5,-56 12.8,-55.5 12.5,-56.4 11.8,-57.7 11,-58.8 10.5,-59.6 10,-59 8,-58 6.5,-58.1 5.5,-58.8 5,-60ZM45,-60 45,-36 36,-36 36,-36.5 34.5,-36.8 32.5,-36.1 30.5,-36.5 28,-36.8 27.3,-37.5 26.5,-38.5 26.3,-40 27.5,-40.3 29,-41 28.6,-41.1 27,-40.5 26,-40.8 24,-40.8 23,-40.3 22.8,-39.5 24,-38 23,-37.5 22.5,-36.5 21.8,-36.9 21,-37.7 21.2,-38.3 20.2,-39.6 19.4,-41.8 18,-42.7 16,-43.5 15,-44.5 13.7,-45.6 12.3,-45.3 12.5,-44 14,-42.5 15.3,-42 16,-41.4 18.5,-40.2 17.5,-40.3 16.6,-38.8 16,-38 15.7,-38 15.8,-40 14,-40.8 12,-41.9 10.5,-43 9.5,-44 8.8,-44.4 7.5,-43.8 6.5,-43.1 5,-43.4 3.2,-43.2 3.2,-42 2,-41.3 0.5,-40.6 -0.3,-39.5 0.2,-38.7 -0.7,-37.6 -2.1,-36.7 -4.4,-36.7 -5.6,-36 -6.3,-36.8 -7.4,-37.2 -9,-37 -8.8,-38.5 -9.5,-39 -8.8,-41 -8.8,-42.8 -8,-43.7 -5,-43.5 -1.8,-43.4 -1.2,-46 -2.5,-47.3 -4.7,-48.4 -3,-48.8 -1.5,-48.7 -1.3,-49.7 0,-49.6 1.5,-50.5 2.5,-51.1 3.5,-51.5 4.5,-52.5 5,-53.3 7,-53.5 8.5,-53.8 8.8,-54.5 8.5,-55.5 8.2,-57 10.5,-57.7 10.2,-56 10.8,-55.5 11,-54 13,-54.4 14,-54 16,-54.4 18,-54.8 19.5,-54.4 21,-55 21,-57 22,-57.5 23.5,-57 24.3,-57.3 23.7,-58.8 24.5,-59.4 26,-59.6 28,-60Z" fill="#aaaaff" fill-rule="evenodd"/><path d="M35,-33 35.9,-35.5 36,-36.5 35,-36.7 35,-40 62,-40 62,-25.2 59.5,-25.4 57.5,-25.7 57,-27 56.3,-27.2 54,-26.7 52.5,-27.5 51.5,-27.9 50.3,-30 49,-30.4 48.5,-30 48,-29.5 48.5,-28.5 49.5,-27.2 50,-26.5 50.5,-25.2 51.5,-25.8 51.5,-24.7 52,-24 54.5,-24.2 55.5,-25.3 56,-26 56.3,-24.5 57.5,-23.8 58.5,-23.6 59.8,-22.5 58.7,-20.8 57.8,-19 56.5,-18 55,-17 52,-15.8 50,-15 48.7,-14 47,-13.3 45,-12.8 43.4,-12.7 42.8,-15 42.6,-16.5 41.5,-18 40,-20 39.1,-21.7 38.5,-24 37.2,-25.3 36.5,-26 35.5,-27.5 35,-28Z" fill="#9b9bff" fill-rule="evenodd"/><path d="M-16.7,-15.9 -16.5,-16.2 -16.3,-17.1 -12.7,-27.8 -11.5,-28.2 -10,-29.5 -9.8,-31 -9.6,-32 -8.5,-33.2 -6.8,-34 -6.2,-35.2 -5.9,-35.8 -4,-35.2 -2,-35.1 0,-35.8 0.6,-36 10.6,-36 11,-35.2 10.3,-34.3 10.3,-33.5 11.5,-33.1 12,-32.9 15.5,-31.5 16.5,-31.2 19,-30.3 20,-31.5 20,-32.3 22.5,-32.8 23.5,-32.3 25,-31.6 27,-31.3 29,-30.9 31,-31.5 32.3,-31.3 34.2,-31.3 34.3,-30 34.9,-29.5 34.2,-28 33.6,-27.9 33,-29.5 32.5,-29.9 32.7,-28.5 33.9,-27 35,-24.8 35,-15 -17,-15Z" fill="#ffc8c8" fill-rule="evenodd"/><ellipse cx="10" cy="-22" rx="3" ry="2" fill="#8282ff"/><path d="M-17,-15 -10,-25 -1,-27 0,-15 -5,-8 -15,-8Z" fill="#ff5252"/><path d="M-15,-5 -5,-10 5,-12 15,-18 25,-22 34,-27 38,-22 38,-8 43,-4 38,3 25,4 10,2 0,-2Z" fill="#e60000"/><path d="M7,-5 15,-12 25,-17 33,-22 37,-18 37,-3 25,0 10,-1Z" fill="#ac0000"/><ellipse cx="28" cy="-9" rx="7" ry="6" fill="#8c0000"/><ellipse cx="-30" cy="0" rx="16" ry="2" fill="#b4b4ff"/><path d="M45,-52 105,-52 125,-50 125,-42 105,-38 45,-36Z" fill="#6a6aff" fill-rule="evenodd"/><ellipse cx="75" cy="-8" rx="22" ry="10" fill="#b4b4ff"/><ellipse cx="60" cy="-45" rx="2.5" ry="2" fill="#ff0000"/><path d="M62,-33 95,-33 95,-15.9 94.5,-16 94.2,-18.8 93.5,-19.5 92.3,-20.7 91.8,-22.3 91.5,-22.5 90.5,-22.2 90,-21.9 89,-21.6 88.5,-21.7 86.9,-20.6 86.5,-19.9 85,-19.4 84,-18.3 82.3,-16.6 81.3,-16.2 80.3,-15.5 80.2,-13.5 80.2,-13 79.8,-11.5 79.8,-10.3 79,-9.3 77.5,-8.1 76.5,-9.5 75.8,-11.5 74.8,-12.8 74.2,-14.8 73.5,-16 73,-18 72.8,-19.3 72.8,-20.5 72.6,-21.3 71.5,-20.8 70.5,-21.2 69.2,-22.3 70,-22.8 68.5,-23.5 67.5,-23.9 66.7,-25.2 64.5,-25.2 62,-25.2Z" fill="#1416ff" fill-rule="evenodd"/><path d="M72,-30 78,-31 88,-27 86,-24 76,-25Z" fill="#0000eb"/><path d="M104,-32.8 103.9,-32.6 103.9,-32.4 103.8,-32.2 103.6,-32 103.5,-31.8 103.3,-31.7 103.1,-31.5 102.8,-31.3 102.6,-31.1 102.3,-30.9 102,-30.8 101.6,-30.6 101.3,-30.5 100.9,-30.3 100.5,-30.2 100.1,-30 99.6,-29.9 99.1,-29.8 98.7,-29.7 98.2,-29.6 97.7,-29.5 97.1,-29.4 96.6,-29.3 96,-29.2 95.5,-29.2 94.9,-29.1 94.3,-29.1 93.8,-29 93.2,-29 92.6,-29 92,-29 91.4,-29 90.8,-29 90.2,-29 89.7,-29.1 89.1,-29.1 88.5,-29.2 88,-29.2 87.4,-29.3 86.9,-29.4 86.3,-29.5 85.8,-29.6 85.3,-29.7 84.9,-29.8 84.4,-29.9 83.9,-30 83.5,-30.2 83.1,-30.3 82.7,-30.5 82.4,-30.6 82,-30.8 81.7,-30.9 81.4,-31.1 81.2,-31.3 80.9,-31.5 80.7,-31.7 80.5,-31.8 80.4,-32 80.2,-32.2 80.1,-32.4 80.1,-32.6 80,-32.8 80,-33 80,-33.2 80.1,-33.4 80.1,-33.6 80.2,-33.8 80.4,-34 80.5,-34.2 80.7,-34.3 80.9,-34.5 81.2,-34.7 81.4,-34.9 81.7,-35.1 82,-35.2 82.4,-35.4 82.7,-35.5 83.1,-35.7 83.5,-35.8 83.9,-36 84.4,-36.1 84.9,-36.2 85.3,-36.3 85.8,-36.4 86.3,-36.5 86.9,-36.6 87.4,-36.7 88,-36.8 88.5,-36.8 89.1,-36.9 89.7,-36.9 90.2,-37 90.8,-37 91.4,-37 92,-37 92.6,-37 93.2,-37 93.8,-37 94.3,-36.9 94.9,-36.9 95.5,-36.8 96,-36.8 96.6,-36.7 97.1,-36.6 97.7,-36.5 98.2,-36.4 98.7,-36.3 99.1,-36.2 99.6,-36.1 100.1,-36 100.5,-35.8 100.9,-35.7 101.3,-35.5 101.6,-35.4 102,-35.2 102.3,-35.1 102.6,-34.9 102.8,-34.7 103.1,-34.5 103.3,-34.3 103.5,-34.2 103.6,-34 103.8,-33.8 103.9,-33.6 103.9,-33.4 104,-33.2 104,-33Z" fill="#cacaff" fill-rule="evenodd"/><path d="M100,-24 105,-40 118,-46 130,-43 132,-33 122,-21 105,-20Z" fill="#0002f5"/><path d="M104,-27 110,-38 118,-42 125,-37 121,-26 110,-23Z" fill="#0000aa"/><path d="M118,-26 132,-40 150,-52 165,-56 170,-48 150,-36 132,-23Z" fill="#6a6aff"/><path d="M128,-22 150,-32 180,-40 180,-26 150,-23 128,-20Z" fill="#b4b4ff"/><path d="M92,-6 110,-6 130,-2 142,3 130,9 110,9 92,4Z" fill="#3d3dff"/><ellipse cx="70" cy="0" rx="25" ry="8" fill="#b4b4ff"/><ellipse cx="150" cy="0" rx="28" ry="5" fill="#b4b4ff"/><path d="M-180,5 -150,7 -125,15 -110,28 -98,40 -108,44 -125,32 -150,20 -180,15Z" fill="#9b9bff"/><ellipse cx="-176" cy="28" rx="7" ry="4" fill="#ffe1e1"/><ellipse cx="-108" cy="17" rx="33" ry="11" fill="#ffe1e1" transform="rotate(15 -108 17)"/><ellipse cx="-106" cy="16" rx="14" ry="3.8" fill="#ffafaf" transform="rotate(15 -106 16)"/><ellipse cx="-167" cy="40" rx="16" ry="5" fill="#b4b4ff"/><ellipse cx="-12" cy="18" rx="27" ry="11" fill="#ffafaf"/><ellipse cx="-10" cy="17" rx="21" ry="6" fill="#ff8282"/><ellipse cx="86" cy="22" rx="27" ry="10" fill="#ffc8c8"/><ellipse cx="89" cy="21.5" rx="20" ry="6.5" fill="#ffafaf"/><ellipse cx="45" cy="28" rx="15" ry="4" fill="#ffe1e1"/><path d="M114.2,21.8 115,21.5 116.7,20.6 118.5,20.3 120,20 121.3,19.5 122.2,18 123.5,17 125,15 126,14 127.7,14.3 128.5,14.9 129.5,14.8 130,13.2 131,12.2 133,11.3 135.5,12 136.8,12.2 135.5,14.8 137.3,16 139,16.8 140,17.7 141.5,17 141.5,15 141.6,12.8 142,11.5 142.5,10.7 143.5,13.5 144,14.3 145.3,14.8 145.4,16 146,17 146.3,19 148,19.8 149,20.5 150.8,22.5 151.5,24 153,25 153.6,28 153,31 152.5,32.3 151.2,33.9 150.2,35.5 150,37.5 148,37.8 146.3,39 145,38 143.5,38.8 141.5,38.3 140,37.5 139.5,36.5 138.5,35.5 137.5,35.5 137.8,34 137.8,32.7 136,34.5 135.6,34.8 134,32.5 131,31.5 129,31.7 126,32.3 123.5,33.9 120,34 118,35 116.5,35 115,34.3 115.7,33.5 115.7,31.8 115,29.5 114,26.5 113.5,24.5 113.5,22Z" fill="#ffafaf" fill-rule="evenodd"/><path d="M138,24.3 138,24.6 137.9,24.9 137.8,25.2 137.7,25.5 137.6,25.7 137.4,26 137.2,26.3 137,26.6 136.8,26.8 136.6,27.1 136.3,27.3 136,27.6 135.7,27.8 135.4,28 135.1,28.2 134.7,28.4 134.3,28.6 134,28.8 133.6,29 133.1,29.1 132.7,29.3 132.3,29.4 131.8,29.5 131.4,29.6 130.9,29.7 130.4,29.8 130,29.9 129.5,29.9 129,30 128.5,30 128,30 127.5,30 127,30 126.5,29.9 126,29.9 125.6,29.8 125.1,29.7 124.6,29.6 124.2,29.5 123.7,29.4 123.3,29.3 122.9,29.1 122.4,29 122,28.8 121.7,28.6 121.3,28.4 120.9,28.2 120.6,28 120.3,27.8 120,27.6 119.7,27.3 119.4,27.1 119.2,26.8 119,26.6 118.8,26.3 118.6,26 118.4,25.7 118.3,25.5 118.2,25.2 118.1,24.9 118,24.6 118,24.3 118,24 118,23.7 118,23.4 118.1,23.1 118.2,22.8 118.3,22.5 118.4,22.3 118.6,22 118.8,21.7 119,21.4 119.2,21.2 119.4,20.9 119.7,20.7 120,20.4 120.3,20.2 120.6,20 120.9,19.8 121.3,19.6 121.7,19.4 122,19.2 122.4,19 122.9,18.9 123.3,18.7 123.7,18.6 124.2,18.5 124.6,18.4 125.1,18.3 125.6,18.2 126,18.1 126.5,18.1 127,18 127.5,18 128,18 128.5,18 129,18 129.5,18.1 130,18.1 130.4,18.2 130.9,18.3 131.4,18.4 131.8,18.5 132.3,18.6 132.7,18.7 133.1,18.9 133.6,19 134,19.2 134.3,19.4 134.7,19.6 135.1,19.8 135.4,20 135.7,20.2 136,20.4 136.3,20.7 136.6,20.9 136.8,21.2 137,21.4 137.2,21.7 137.4,22 137.6,22.3 137.7,22.5 137.8,22.8 137.9,23.1 138,23.4 138,23.7 138,24Z" fill="#ff8282" fill-rule="evenodd"/><path d="M60,0 180,0 180,8 60,8Z" fill="#aaaaff"/><path d="M108,7 140,7 140,16 120,18 108,14Z" fill="#8282ff"/><ellipse cx="172" cy="25" rx="12" ry="12" fill="#c2c2ff"/><path d="M-71.5,-10 -71.2,-9.5 -71.1,-10 -61,-10 -60.5,-8.5 -58,-6.8 -56,-5.9 -54,-5.8 -52.5,-5 -51.5,-4 -50.8,-2 -50,-1.5 -50,-0.2 -48.5,1 -47,0.6 -44.5,2.5 -42,2.8 -40,2.8 -38,3.8 -37,5 -35.3,5.5 -35,7 -35,9.5 -36.5,10.5 -37.5,12.5 -39,14 -39,17.5 -39.8,19.5 -40.5,21.5 -42,23 -45,23.7 -47,24.5 -48.5,26 -48.8,28.5 -50,30 -51,31 -52.5,33 -53.5,34 -55,34.9 -56.5,34.8 -58.3,34 -58.5,34.5 -57,36.5 -57.8,38.3 -60,38.8 -62,39 -62.3,40.5 -65,41 -64.5,42.5 -63.8,42.2 -65,43.5 -65.5,45 -67.5,46.3 -66,47.8 -67.5,49 -69,50.5 -68.5,52.3 -69.5,52.5 -68.5,53.3 -67.5,54.5 -65.5,55 -67,55.3 -69,55.5 -71,55 -72.5,54 -74,52.5 -75.3,50 -75.4,47.8 -74.5,46.5 -73.5,44.5 -73.5,42 -73.3,40 -73.5,37.5 -72.5,35.5 -71.5,32.5 -71.4,28 -70.5,25 -70.5,23 -70.2,18.5 -71.5,17.5 -73,16.5 -76,14 -76.5,12.5 -77.5,11 -79,8.2 -79.5,7 -80,6.6 -80,2.5 -80,-0.8 -78.9,-1.5 -78.5,-2.5 -77.3,-3.8 -77.4,-6.5 -77.8,-7.5 -77.3,-8.5 -76.5,-9.5 -76,-10Z" fill="#f3e1ed" fill-rule="evenodd"/><ellipse cx="-62" cy="3" rx="28" ry="10" fill="#8c8cff"/><path d="M-36.8,5.4 -37.1,5.9 -37.5,6.4 -38,6.8 -38.5,7.3 -39.1,7.7 -39.7,8.1 -40.4,8.6 -41.1,9 -41.9,9.3 -42.7,9.7 -43.6,10.1 -44.5,10.4 -45.5,10.7 -46.5,11 -47.6,11.3 -48.6,11.6 -49.7,11.8 -50.9,12 -52.1,12.2 -53.2,12.4 -54.5,12.6 -55.7,12.7 -56.9,12.8 -58.2,12.9 -59.5,13 -60.7,13 -62,13 -63.3,13 -64.5,13 -65.8,12.9 -67.1,12.8 -68.3,12.7 -69.5,12.6 -70.8,12.4 -71.9,12.2 -73.1,12 -74.3,11.8 -75.4,11.6 -76.4,11.3 -77.5,11 -77.5,11 -79,8.2 -79.5,7 -81.2,5.5 -81.2,4.5 -80.3,3.5 -80,2.5 -80.9,1.5 -80.3,-0 -80,-0.8 -78.9,-1.5 -78.5,-2.5 -77.3,-3.8 -77.3,-5.1 -76.4,-5.3 -75.4,-5.6 -74.3,-5.8 -73.1,-6 -71.9,-6.2 -70.8,-6.4 -69.5,-6.6 -68.3,-6.7 -67.1,-6.8 -65.8,-6.9 -64.5,-7 -63.3,-7 -62,-7 -60.7,-7 -59.5,-7 -58.2,-6.9 -58.1,-6.9 -58,-6.8 -56,-5.9 -54,-5.8 -52.5,-5 -51.5,-4 -50.8,-2 -50,-1.5 -50,-0.2 -48.5,1 -47,0.6 -44.5,2.5 -42,2.8 -40,2.8 -38,3.8 -37,5 -36.6,5.1Z" fill="#7878ff" fill-rule="evenodd"/><path d="M-64,2.2 -64,2.5 -64.1,2.7 -64.2,3 -64.3,3.2 -64.4,3.5 -64.5,3.7 -64.7,3.9 -64.9,4.1 -65.1,4.4 -65.3,4.6 -65.5,4.8 -65.8,5 -66,5.2 -66.3,5.4 -66.6,5.5 -67,5.7 -67.3,5.9 -67.6,6 -68,6.2 -68.4,6.3 -68.8,6.4 -69.2,6.5 -69.6,6.6 -70,6.7 -70.4,6.8 -70.8,6.9 -71.2,6.9 -71.7,6.9 -72.1,7 -72.6,7 -73,7 -73.4,7 -73.9,7 -74.3,6.9 -74.8,6.9 -75.2,6.9 -75.6,6.8 -76,6.7 -76.4,6.6 -76.8,6.5 -77.2,6.4 -77.6,6.3 -78,6.2 -78.4,6 -78.7,5.9 -79,5.7 -79.4,5.5 -79.7,5.4 -80,5.2 -80.2,5 -80.5,4.8 -80.7,4.6 -80.9,4.4 -81,4.3 -80.3,3.5 -80,2.5 -80.9,1.5 -80.3,-0 -80,-0.8 -78.9,-1.5 -78.8,-1.8 -78.7,-1.9 -78.4,-2 -78,-2.2 -77.6,-2.3 -77.2,-2.4 -76.8,-2.5 -76.4,-2.6 -76,-2.7 -75.6,-2.8 -75.2,-2.9 -74.8,-2.9 -74.3,-2.9 -73.9,-3 -73.4,-3 -73,-3 -72.6,-3 -72.1,-3 -71.7,-2.9 -71.2,-2.9 -70.8,-2.9 -70.4,-2.8 -70,-2.7 -69.6,-2.6 -69.2,-2.5 -68.8,-2.4 -68.4,-2.3 -68,-2.2 -67.6,-2 -67.3,-1.9 -67,-1.7 -66.6,-1.5 -66.3,-1.4 -66,-1.2 -65.8,-1 -65.5,-0.8 -65.3,-0.6 -65.1,-0.4 -64.9,-0.1 -64.7,0.1 -64.5,0.3 -64.4,0.5 -64.3,0.8 -64.2,1 -64.1,1.3 -64,1.5 -64,1.8 -64,2Z" fill="#3030ff" fill-rule="evenodd"/><path d="M-48,1.7 -48,1.9 -48.1,2.1 -48.1,2.3 -48.1,2.5 -48.2,2.7 -48.3,2.8 -48.4,3 -48.5,3.2 -48.6,3.4 -48.7,3.6 -48.8,3.7 -49,3.9 -49.1,4 -49.3,4.2 -49.5,4.3 -49.6,4.5 -49.8,4.6 -50,4.7 -50.2,4.8 -50.4,4.9 -50.6,5 -50.9,5.1 -51.1,5.2 -51.3,5.3 -51.5,5.3 -51.8,5.4 -52,5.4 -52.3,5.5 -52.5,5.5 -52.8,5.5 -53,5.5 -53.2,5.5 -53.5,5.5 -53.7,5.5 -54,5.4 -54.2,5.4 -54.5,5.3 -54.7,5.3 -54.9,5.2 -55.1,5.1 -55.4,5 -55.6,4.9 -55.8,4.8 -56,4.7 -56.2,4.6 -56.4,4.5 -56.5,4.3 -56.7,4.2 -56.9,4 -57,3.9 -57.2,3.7 -57.3,3.6 -57.4,3.4 -57.5,3.2 -57.6,3 -57.7,2.8 -57.8,2.7 -57.9,2.5 -57.9,2.3 -57.9,2.1 -58,1.9 -58,1.7 -58,1.5 -58,1.3 -58,1.1 -57.9,0.9 -57.9,0.7 -57.9,0.5 -57.8,0.3 -57.7,0.2 -57.6,-0 -57.5,-0.2 -57.4,-0.4 -57.3,-0.6 -57.2,-0.7 -57,-0.9 -56.9,-1 -56.7,-1.2 -56.5,-1.3 -56.4,-1.5 -56.2,-1.6 -56,-1.7 -55.8,-1.8 -55.6,-1.9 -55.4,-2 -55.1,-2.1 -54.9,-2.2 -54.7,-2.3 -54.5,-2.3 -54.2,-2.4 -54,-2.4 -53.7,-2.5 -53.5,-2.5 -53.2,-2.5 -53,-2.5 -52.8,-2.5 -52.5,-2.5 -52.3,-2.5 -52,-2.4 -51.8,-2.4 -51.5,-2.3 -51.3,-2.3 -51.1,-2.2 -50.9,-2.1 -50.8,-2.1 -50.8,-2 -50,-1.5 -50,-0.2 -48.5,1 -48.1,0.9 -48.1,0.9 -48,1.1 -48,1.3 -48,1.5Z" fill="#3d3dff" fill-rule="evenodd"/><path d="M-51,27.3 -51,27.7 -51.1,28 -51.2,28.4 -51.2,28.7 -51.3,29 -51.5,29.4 -51.6,29.7 -51.8,30 -51.9,30.3 -52.1,30.6 -52.3,30.9 -52.6,31.2 -52.8,31.4 -53.1,31.7 -53.3,31.9 -53.6,32.2 -53.9,32.4 -54.2,32.6 -54.6,32.8 -54.9,33 -55.2,33.2 -55.6,33.3 -55.9,33.5 -56.3,33.6 -56.7,33.7 -57.1,33.8 -57.4,33.9 -57.8,33.9 -58.2,34 -58.6,34 -59,34 -59.4,34 -59.8,34 -60.2,33.9 -60.6,33.9 -60.9,33.8 -61.3,33.7 -61.7,33.6 -62.1,33.5 -62.4,33.3 -62.8,33.2 -63.1,33 -63.4,32.8 -63.8,32.6 -64.1,32.4 -64.4,32.2 -64.7,31.9 -64.9,31.7 -65.2,31.4 -65.4,31.2 -65.7,30.9 -65.9,30.6 -66.1,30.3 -66.2,30 -66.4,29.7 -66.5,29.4 -66.7,29 -66.8,28.7 -66.8,28.4 -66.9,28 -67,27.7 -67,27.3 -67,27 -67,26.7 -67,26.3 -66.9,26 -66.8,25.6 -66.8,25.3 -66.7,25 -66.5,24.6 -66.4,24.3 -66.2,24 -66.1,23.7 -65.9,23.4 -65.7,23.1 -65.4,22.8 -65.2,22.6 -64.9,22.3 -64.7,22.1 -64.4,21.8 -64.1,21.6 -63.8,21.4 -63.4,21.2 -63.1,21 -62.8,20.8 -62.4,20.7 -62.1,20.5 -61.7,20.4 -61.3,20.3 -60.9,20.2 -60.6,20.1 -60.2,20.1 -59.8,20 -59.4,20 -59,20 -58.6,20 -58.2,20 -57.8,20.1 -57.4,20.1 -57.1,20.2 -56.7,20.3 -56.3,20.4 -55.9,20.5 -55.6,20.7 -55.2,20.8 -54.9,21 -54.6,21.2 -54.2,21.4 -53.9,21.6 -53.6,21.8 -53.3,22.1 -53.1,22.3 -52.8,22.6 -52.6,22.8 -52.3,23.1 -52.1,23.4 -51.9,23.7 -51.8,24 -51.6,24.3 -51.5,24.6 -51.3,25 -51.2,25.3 -51.2,25.6 -51.1,26 -51,26.3 -51,26.7 -51,27Z" fill="#ffafaf" fill-rule="evenodd"/><path d="M-39,15.3 -39,15.6 -39.1,15.9 -39.1,16.2 -39.2,16.5 -39.3,16.7 -39.4,17 -39.5,17.3 -39.6,17.6 -39.7,17.8 -39.9,18.1 -40,18.3 -40.2,18.6 -40.4,18.8 -40.6,19 -40.8,19.2 -41,19.4 -41.2,19.6 -41.4,19.8 -41.7,20 -41.9,20.1 -42.2,20.3 -42.4,20.4 -42.7,20.5 -43,20.6 -43.3,20.7 -43.5,20.8 -43.8,20.9 -44.1,20.9 -44.4,21 -44.7,21 -45,21 -45.3,21 -45.6,21 -45.9,20.9 -46.2,20.9 -46.5,20.8 -46.7,20.7 -47,20.6 -47.3,20.5 -47.6,20.4 -47.8,20.3 -48.1,20.1 -48.3,20 -48.6,19.8 -48.8,19.6 -49,19.4 -49.2,19.2 -49.4,19 -49.6,18.8 -49.8,18.6 -50,18.3 -50.1,18.1 -50.3,17.8 -50.4,17.6 -50.5,17.3 -50.6,17 -50.7,16.7 -50.8,16.5 -50.9,16.2 -50.9,15.9 -51,15.6 -51,15.3 -51,15 -51,14.7 -51,14.4 -50.9,14.1 -50.9,13.8 -50.8,13.5 -50.7,13.3 -50.6,13 -50.5,12.7 -50.4,12.4 -50.3,12.2 -50.1,11.9 -50,11.7 -49.8,11.4 -49.6,11.2 -49.4,11 -49.2,10.8 -49,10.6 -48.8,10.4 -48.6,10.2 -48.3,10 -48.1,9.9 -47.8,9.7 -47.6,9.6 -47.3,9.5 -47,9.4 -46.7,9.3 -46.5,9.2 -46.2,9.1 -45.9,9.1 -45.6,9 -45.3,9 -45,9 -44.7,9 -44.4,9 -44.1,9.1 -43.8,9.1 -43.5,9.2 -43.3,9.3 -43,9.4 -42.7,9.5 -42.4,9.6 -42.2,9.7 -41.9,9.9 -41.7,10 -41.4,10.2 -41.2,10.4 -41,10.6 -40.8,10.8 -40.6,11 -40.4,11.2 -40.2,11.4 -40,11.7 -39.9,11.9 -39.7,12.2 -39.6,12.4 -39.5,12.7 -39.4,13 -39.3,13.3 -39.2,13.5 -39.1,13.8 -39.1,14.1 -39,14.4 -39,14.7 -39,15Z" fill="#ffc8c8" fill-rule="evenodd"/><path d="M-69.3,52.9 -69.5,53 -69.8,53 -70,53 -70.2,53 -70.5,53 -70.7,52.9 -71,52.8 -71.2,52.8 -71.5,52.7 -71.7,52.5 -71.9,52.4 -72.1,52.2 -72.4,52.1 -72.6,51.9 -72.8,51.7 -73,51.4 -73.2,51.2 -73.4,50.9 -73.5,50.7 -73.7,50.4 -73.9,50.1 -74,49.8 -74.2,49.4 -74.3,49.1 -74.4,48.8 -74.5,48.4 -74.6,48.1 -74.7,47.7 -74.8,47.3 -74.8,47 -74.5,46.5 -73.5,44.5 -73.5,42 -73.3,40 -73.4,39.1 -73.4,39.1 -73.2,38.8 -73,38.6 -72.8,38.3 -72.6,38.1 -72.4,37.9 -72.1,37.8 -71.9,37.6 -71.7,37.5 -71.5,37.3 -71.2,37.2 -71,37.2 -70.7,37.1 -70.5,37 -70.2,37 -70,37 -69.8,37 -69.5,37 -69.3,37.1 -69,37.2 -68.8,37.2 -68.5,37.3 -68.3,37.5 -68.1,37.6 -67.9,37.8 -67.6,37.9 -67.4,38.1 -67.2,38.3 -67,38.6 -66.8,38.8 -66.6,39.1 -66.5,39.3 -66.3,39.6 -66.1,39.9 -66,40.2 -65.8,40.6 -65.7,40.9 -65.6,41.2 -65.5,41.6 -65.4,41.9 -65.3,42.3 -65.2,42.7 -65.1,43.1 -65.1,43.4 -65.1,43.7 -65.5,45 -67.5,46.3 -66,47.8 -67.5,49 -69,50.5 -68.5,52.3 -69.5,52.5 -69.1,52.9Z" fill="#9b9bff" fill-rule="evenodd"/><path d="M-60.2,-8.3 -60.3,-8.1 -60.4,-8 -60.5,-7.9 -60.7,-7.7 -60.8,-7.6 -61,-7.5 -61.2,-7.3 -61.4,-7.2 -61.6,-7.1 -61.8,-7 -62.1,-6.9 -62.3,-6.8 -62.6,-6.7 -62.8,-6.6 -63.1,-6.5 -63.4,-6.4 -63.7,-6.4 -64,-6.3 -64.3,-6.2 -64.6,-6.2 -65,-6.1 -65.3,-6.1 -65.6,-6.1 -66,-6 -66.3,-6 -66.7,-6 -67,-6 -67.3,-6 -67.7,-6 -68,-6 -68.4,-6.1 -68.7,-6.1 -69,-6.1 -69.4,-6.2 -69.7,-6.2 -70,-6.3 -70.3,-6.4 -70.6,-6.4 -70.9,-6.5 -71.2,-6.6 -71.4,-6.7 -71.7,-6.8 -71.9,-6.9 -72.2,-7 -72.4,-7.1 -72.6,-7.2 -72.8,-7.3 -73,-7.5 -73.2,-7.6 -73.3,-7.7 -73.5,-7.9 -73.6,-8 -73.7,-8.1 -73.8,-8.3 -73.9,-8.4 -73.9,-8.6 -74,-8.7 -74,-8.9 -74,-9 -74,-9.1 -74,-9.3 -73.9,-9.4 -73.9,-9.6 -73.8,-9.7 -73.7,-9.9 -73.6,-10 -73.5,-10.1 -73.3,-10.3 -73.2,-10.4 -73,-10.5 -72.8,-10.7 -72.6,-10.8 -72.4,-10.9 -72.2,-11 -71.9,-11.1 -71.7,-11.2 -71.5,-11.3 -71.8,-10.5 -71.2,-9.5 -71,-10.5 -70,-11.5 -68,-10.5 -66,-10.6 -64,-10.6 -62,-10.6 -61,-10 -60.5,-8.5 -60.2,-8.3Z" fill="#ff5252" fill-rule="evenodd"/><ellipse cx="-20" cy="2" rx="25" ry="3" fill="#9b9bff"/><ellipse cx="21" cy="24.5" rx="13" ry="5" fill="#e60000" transform="rotate(33 21 24.5)"/><ellipse cx="19" cy="24" rx="7" ry="3.5" fill="#a00000" transform="rotate(33 19 24)"/><path d="M-180,49 -150,52 -100,52 -70,47 -40,43 0,43 60,40 120,40 180,46 180,80 -180,80Z" fill="#a0a0ff"/><path d="M-180,56 -120,56 -60,51 0,50 60,50 120,53 180,55 180,80 -180,80Z" fill="#7d7dff"/><path d="M-159.6 72.9h3.6v2.1h-3.6zM61.1 64.9h3v1.9h-3zM29.2 70.3h2.6v1.6h-2.6zM80.3 40.2h3.9v1.8h-3.9zM-19.9 66.3h1.6v1h-1.6zM-12.6 64.5h2.5v2.3h-2.5zM9.3 55.8h2.1v1h-2.1zM-62.9 71.1h2.8v2.5h-2.8zM62.8 69.5h3.7v2.2h-3.7zM84.4 43.4h3.4v2.2h-3.4zM166.3 70.2h3.4v2.1h-3.4zM-13.9 56.9h2.7v2.4h-2.7zM0.3 46.1h2.4v2.3h-2.4zM143.9 59.4h2.9v2.4h-2.9zM80.6 58.5h2.1v1.5h-2.1zM71.8 70h3.8v1.4h-3.8zM148.1 64.9h3.9v2.1h-3.9zM1.5 57.4h3.1v1.9h-3.1zM-67.7 68.5h2.8v2.4h-2.8zM44.4 73.3h3.6v2.1h-3.6zM146.8 69.1h3.4v1.1h-3.4zM55 66.2h2.1v2.3h-2.1zM-141.7 57.2h3.6v1.4h-3.6zM-27.7 50.2h1.6v1.5h-1.6zM-118.1 51.8h1.7v2.4h-1.7zM-170.9 49.7h1.6v1.4h-1.6zM112.8 70.3h2v2h-2zM-41.2 74.4h4v1.2h-4zM-166.9 63.6h3v2.1h-3zM-139.3 63.9h1.6v1.7h-1.6zM95.7 49.4h3.8v2.1h-3.8zM130.5 50.6h2.7v1.3h-2.7zM57.9 64.6h1.8v1.7h-1.8zM134.9 71.4h3v1.6h-3zM5.3 70.8h3.9v1.4h-3.9zM38.2 60.9h1.5v1.8h-1.5zM-129.4 74h1.6v1.2h-1.6zM-145.5 53.1h2.8v2.5h-2.8zM-96.3 60h2.1v1.9h-2.1zM44.7 47.2h3.3v1.4h-3.3zM-27.7 57.1h1.5v1.1h-1.5zM-32.9 72h3.3v1.4h-3.3zM-144.1 69.5h2.1v1.3h-2.1zM7.5 59.3h2.3v2h-2.3zM166.7 49.8h2.6v1.8h-2.6zM29.2 74.2h2.5v1.8h-2.5zM-114.8 72.6h3.5v1.5h-3.5zM6.9 42.8h3v1.4h-3zM174.1 62.6h1.5v2h-1.5zM-143.6 65h3.6v2h-3.6zM-174.3 59.7h2.5v1.7h-2.5zM-105 54.8h1.7v1.4h-1.7zM-110.8 55.4h2.5v1.7h-2.5zM91.3 61.8h1.8v1.2h-1.8zM50.8 41.5h3.2v1h-3.2zM57.3 48h3.3v1.7h-3.3zM-51.3 59.5h3.5v1.4h-3.5zM9.5 58.8h3.9v2.2h-3.9zM155.5 45.9h2.2v1.3h-2.2zM-4 66.7h2.6v2h-2.6zM150.7 54.9h3.5v1.1h-3.5zM-127.3 61h1.7v1.1h-1.7zM53.3 71.4h2.2v1.3h-2.2zM61.5 51.5h2.6v1.8h-2.6zM-139.7 56.5h3.9v2.1h-3.9zM-145.4 57.4h3.3v1.4h-3.3zM142.2 59.4h3.3v1.6h-3.3zM178.2 47.8h2.9v1.2h-2.9zM-21.2 74.9h3v2.3h-3zM-115 57.6h2.7v1.6h-2.7zM75.8 42.3h3.3v1.7h-3.3zM166.3 64.1h3.4v2h-3.4zM94.2 45.3h2.1v1.9h-2.1zM-35 52h3.9v2h-3.9zM-175.8 59.3h3.3v2.3h-3.3zM54 46.6h1.5v2.4h-1.5zM82.6 54.2h3.8v2.3h-3.8zM96.1 68.8h3.4v1.9h-3.4zM-130.4 54h2.6v1.4h-2.6zM23.8 59.2h2v2.5h-2zM-5.2 45.9h3.1v2.1h-3.1zM-5.4 51.7h2.3v1.4h-2.3zM102.4 61.4h3.2v2.2h-3.2zM131 71.1h1.9v1.6h-1.9zM-12.7 65.4h1.5v1.8h-1.5zM168.1 62.8h2.8v1.6h-2.8zM-20.6 44.7h2.3v2h-2.3zM-5.8 56.6h3.8v1.1h-3.8zM116.8 65h3.1v2.2h-3.1zM55.2 61.9h3.6v1.1h-3.6zM48 61.9h2.8v2.3h-2.8zM107.2 53.4h2.3v1.3h-2.3zM-15.3 67.6h2.2v2.4h-2.2zM-43.5 62.9h2.3v1.1h-2.3zM-15.3 70h2.6v1.4h-2.6zM142 42.8h2.6v2h-2.6zM154.7 64.3h1.7v1.4h-1.7zM-111.8 51.6h2.4v1.5h-2.4zM106.2 67.6h3.5v1.9h-3.5zM-35.9 46.4h2.4v2.3h-2.4zM153.3 57.9h3.2v2.4h-3.2zM87.3 49h3.7v2.4h-3.7zM91.3 40.8h2.2v1.9h-2.2zM61.4 62.8h2.5v1.3h-2.5zM164.8 63.3h2.7v2.3h-2.7zM-134.3 75h2.4v1.5h-2.4zM150.4 44.2h3.4v1.7h-3.4zM15.4 67.5h3.6v1.6h-3.6zM-77.5 53h1.9v1.5h-1.9zM153.4 72.6h1.9v1.3h-1.9zM-89.6 60.9h2.1v1.5h-2.1zM-91.3 67.4h3v1.5h-3zM-45.8 48.4h1.7v1.2h-1.7zM126.3 60.5h3.4v1.2h-3.4zM8.3 45.6h2.3v2.2h-2.3zM39.7 61.8h4v1.6h-4zM-9.4 53.7h2.3v2.3h-2.3zM35.1 54.8h2.8v2.5h-2.8zM176 45.7h2.6v1.6h-2.6zM8.9 74.3h1.8v2.5h-1.8zM64.7 43.1h1.7v1.5h-1.7zM-141.9 63.4h1.9v1.2h-1.9zM61.1 72.7h3.9v2h-3.9zM-93.1 58.7h2.9v1.2h-2.9zM0.8 73.8h2v2.4h-2zM115.9 57.2h3.2v2.3h-3.2zM-129.6 58.3h1.8v1.2h-1.8zM-141 68.4h1.6v1.3h-1.6zM-43.5 53.6h3.6v2.4h-3.6zM78.3 57.7h3.8v1.2h-3.8zM45.8 68.4h2.4v1.4h-2.4zM-24.9 60.6h2.5v2.2h-2.5zM112.1 55.8h2.7v1.4h-2.7zM95.5 40.5h2.1v2.1h-2.1zM71.7 52.3h1.6v1.8h-1.6zM-107.3 69h2.9v2h-2.9zM45.2 49.3h3.3v1.7h-3.3zM116.3 45.9h3v1.1h-3zM-109.5 72.1h3.1v1.8h-3.1zM172.1 43.6h2.7v1.4h-2.7zM72.3 66h3.8v1.9h-3.8zM-31.4 61h3.3v1.7h-3.3zM57.3 71.6h3.3v1.4h-3.3zM147.8 68.3h2.3v1.8h-2.3zM-38.7 57.1h3.8v1.3h-3.8zM98 51h3.5v1.7h-3.5zM-16.4 63.5h2.7v1.4h-2.7zM-111.3 58.9h2v1.7h-2zM26.4 64.9h1.9v1.9h-1.9zM129.7 68h3v2h-3zM138.5 51.4h2.3v1.3h-2.3zM121.3 65.2h1.5v2.3h-1.5zM-108.8 64.7h2.3v1.4h-2.3zM80.7 63.7h2.6v1.6h-2.6zM28.7 71.3h1.9v1.9h-1.9zM-44.7 73.7h3v2.4h-3zM52.2 58.2h3.5v2.4h-3.5zM-125.5 65.2h3.9v2.4h-3.9zM134.8 54.7h3.3v1.8h-3.3zM-95.5 68.3h1.7v2h-1.7zM-130.2 53.6h2.5v1.7h-2.5zM169.4 61.9h2.7v1.6h-2.7zM-102.6 67.9h2.8v2.2h-2.8zM62.8 74.1h3.3v1.6h-3.3zM5.3 72.4h2.8v1.8h-2.8zM101.7 55.1h3.3v2.1h-3.3zM-100.4 75.1h2.7v1.2h-2.7zM-129 64.4h2.8v1.9h-2.8zM52.7 42.1h1.8v1.8h-1.8zM-148.8 51.9h2.6v1.2h-2.6zM-68.2 52.2h2.7v2.4h-2.7zM-52.1 63.8h3.8v1.9h-3.8zM48.9 47h3.7v1.8h-3.7zM-57.5 45.8h1.5v2h-1.5zM179.7 50.2h3.7v1.1h-3.7zM14.5 54.1h2.6v1.6h-2.6zM104.6 70.1h1.6v1.9h-1.6zM167.9 46.2h3.2v1.4h-3.2zM142.1 61.5h3.8v1.2h-3.8zM34.9 73.6h2.1v1.3h-2.1zM-177.7 61.4h2.8v1.4h-2.8zM54.6 74.1h2.8v1.8h-2.8zM-34.9 43.1h1.8v1.6h-1.8zM-14.5 62.6h3.9v1.9h-3.9zM5.9 60.2h2.6v2.4h-2.6zM107.7 52.7h1.9v1.9h-1.9zM-134 63.4h1.6v2.1h-1.6zM171.9 53h2.9v1.4h-2.9zM-20.7 59.3h2.6v1.4h-2.6zM162.9 46.4h3.1v1h-3.1zM170.2 56.3h2.9v2h-2.9zM-91 50.4h2.4v2.3h-2.4zM-13.8 52.1h2.9v1.8h-2.9zM91.7 60.9h2.8v2.3h-2.8zM88.9 52.5h3.9v1.2h-3.9zM35.3 53.5h2.6v2.4h-2.6zM168.3 61.9h3v2.1h-3zM70.6 62.9h3.5v1.5h-3.5zM-127.1 52.1h3.1v1.6h-3.1zM110.9 61.3h3.8v1.9h-3.8zM-34.2 52.7h3.5v2.3h-3.5zM61.3 52h2.5v1.1h-2.5zM-16.3 71.9h3.9v1.5h-3.9zM37.8 49.6h1.9v2.3h-1.9zM-62.8 73.1h3v1.6h-3zM150.9 60h1.7v1h-1.7zM-169.1 58.2h3.3v1.1h-3.3zM-61.3 58.8h3.7v2.5h-3.7zM135 53h2.9v1.3h-2.9zM40.4 70h2.3v2.2h-2.3zM24.5 49.9h2.7v1.4h-2.7zM1.3 55.4h2.1v2.3h-2.1zM173.2 69.5h2.1v2.2h-2.1zM79.9 67.9h3v1.4h-3zM130.6 54.9h2.8v1.2h-2.8zM-33.9 59h2.4v1.3h-2.4zM153 45.6h3v2.2h-3zM-131.9 68.4h3.3v1h-3.3zM-109.1 69.3h2.5v2.3h-2.5zM-70.3 55.4h2.7v1.2h-2.7zM165 69.7h3.5v2.3h-3.5zM-157.4 70.7h2.7v1.1h-2.7zM110.8 57h3.5v1.4h-3.5zM-105 61h1.8v1.9h-1.8zM-13 68.9h1.6v1.5h-1.6zM102.1 70.5h2.1v1.9h-2.1zM48.6 47h3.1v2.3h-3.1zM-169.6 71.7h1.8v2.2h-1.8zM41.1 63.4h3.9v2.1h-3.9zM-109.4 56.1h1.6v1h-1.6zM50 50.1h3.7v2.1h-3.7zM173.2 51.6h2.7v1.4h-2.7zM-157.1 53.5h3.9v1.2h-3.9zM115.5 43.7h2.4v2.3h-2.4zM-123.9 65.2h2.9v2.3h-2.9zM12.9 72.8h3.8v1.9h-3.8zM100.4 67.7h2.3v1.1h-2.3zM-112.8 60.3h2.5v2h-2.5zM120.1 64h3.8v2h-3.8zM-55.9 69.3h3.9v2h-3.9zM-164.5 51.4h2.4v1.6h-2.4zM95.6 68h2.2v1.8h-2.2zM145.7 72.9h3.6v2.1h-3.6zM-116.2 52.2h3.1v2.1h-3.1zM13.4 64.7h2.8v1.4h-2.8zM-16.1 61.4h1.8v1.3h-1.8zM-56 61.8h2.9v2.1h-2.9zM-86.7 56h2.3v1.3h-2.3zM155.6 46.1h1.9v1.2h-1.9zM-142.4 65.2h2.6v1h-2.6zM-28 51.2h3.6v1.3h-3.6zM-43.1 64.7h1.9v1.4h-1.9zM-84.1 66.8h2.1v1.8h-2.1zM112.8 64.9h2.5v1.7h-2.5zM123.2 48.4h4v1.3h-4zM110 65.4h2.9v1.8h-2.9zM26.9 64.4h1.7v1h-1.7zM153.9 44.1h2.7v1.1h-2.7zM121.7 57.9h2.7v2h-2.7zM-123.3 68.1h3.5v2.1h-3.5zM174.2 60.4h3.9v2.3h-3.9zM2.7 43.9h1.9v1.1h-1.9zM113.1 70.9h2.8v2.1h-2.8zM64.6 68.1h3.5v1.1h-3.5zM22.3 43.7h2.9v1.5h-2.9zM179 49.8h3.5v2.3h-3.5zM156.6 55.3h3.6v1.8h-3.6zM-88.2 66h2.2v1h-2.2zM43.2 61.6h3.8v1.1h-3.8zM101.9 69h2.3v1.4h-2.3zM164.6 52.7h2.7v1.3h-2.7zM-162.8 62.8h3.9v1.7h-3.9zM63.2 44.3h1.6v1.5h-1.6zM-29.6 67.9h2.5v2h-2.5zM-131.5 51h2.2v2h-2.2zM-29.1 46h3.9v1.9h-3.9zM-172.3 62.8h3.9v2h-3.9zM93.1 58.9h3.9v2.4h-3.9zM40.6 54.8h1.8v1h-1.8zM125 48.3h3.7v1h-3.7zM-169.7 66.8h1.5v1.9h-1.5zM154.7 43.6h1.8v2h-1.8zM61.6 52.3h2.5v1.4h-2.5zM139 43.5h3.3v1.8h-3.3zM-168.1 66h2.1v1.4h-2.1zM-102.2 52h3.2v1.3h-3.2zM164 55h3.1v1.4h-3.1zM68.9 44.4h2v1.2h-2zM103.6 67h1.8v1.7h-1.8zM-112.7 68.3h2.2v1.1h-2.2zM114.8 55.6h3.1v1.4h-3.1zM99.1 41.4h4v1.1h-4zM-68.2 72.8h2.7v2h-2.7zM39 63.2h3.9v1.9h-3.9zM178.8 60.7h3.1v1.1h-3.1zM12.9 52.7h2.1v1.9h-2.1zM-132.4 59.4h3v1.7h-3zM-125.5 69.2h2.4v2h-2.4zM-24.1 68.8h2.3v1.5h-2.3zM-130.5 54.8h2.7v1.5h-2.7z" fill="#3535ff"/><path d="M-163.7 71.9h2.4v2.2h-2.4zM157.1 48.7h2.1v2.3h-2.1zM-168.3 72h1.8v1.8h-1.8zM33.7 53.4h4.3v2.1h-4.3zM87.8 69.8h4.2v2.4h-4.2zM118.2 73.1h3.6v1.8h-3.6zM13.4 66.4h3.8v2.2h-3.8zM97.1 65.1h3.7v1.1h-3.7zM-177.8 72.2h3.5v2.5h-3.5zM-11.7 52.8h3.3v2.3h-3.3zM169.1 46.6h2.5v1.1h-2.5zM141.6 66h3.8v2.3h-3.8zM-119.5 69h2.8v2.3h-2.8zM-81.7 53.6h4.1v1.6h-4.1zM31.3 67.9h4.1v1.7h-4.1zM-4.9 52.4h2.5v2.2h-2.5zM-14.7 60.5h3.7v2h-3.7zM75.5 44.5h3.9v1.6h-3.9zM51.8 44.9h1.7v2h-1.7zM9.9 61.5h1.9v1.4h-1.9zM90 44.2h4.5v2.1h-4.5zM136.9 46.3h2v2h-2zM132.9 48.9h2.3v2.1h-2.3zM-39.7 60.4h3.7v2h-3.7zM-131 52.9h1.7v1.3h-1.7zM116.9 43.1h2.3v2.1h-2.3zM-114.3 58.1h2.5v1.1h-2.5zM-24.1 56.1h4.1v1.2h-4.1zM-104.9 66.4h4v2.4h-4zM-102.6 58.6h3.1v1.7h-3.1zM-166.1 61.3h3.1v2h-3.1zM10.9 46.5h1.8v1.7h-1.8zM118.9 69.9h2v1.9h-2zM-127.8 56.4h1.9v1.3h-1.9zM-59.7 47.8h3.3v1.9h-3.3zM46 61.7h4.4v1.9h-4.4zM46.3 73.6h2.2v1.9h-2.2zM164.1 50.7h1.7v2.2h-1.7zM-103.6 54.6h2.1v1.1h-2.1zM98.2 58.5h3.3v2.1h-3.3zM33.8 61h2.5v1.8h-2.5zM-91.4 66.6h3.9v1.5h-3.9zM79.6 51.5h2.9v2.2h-2.9zM125.4 49h3.7v2.4h-3.7zM-33.1 60.7h3.3v2.3h-3.3zM-78.8 48.7h4.4v1.4h-4.4zM-173.7 70.2h3.4v1.3h-3.4zM161.4 72.7h4.2v1.5h-4.2zM151.3 63.8h1.8v2h-1.8zM116.2 66.8h3v1.8h-3zM98.2 66.5h3.2v1.8h-3.2zM31.7 56h2.8v1.6h-2.8zM8 72.2h2.7v2.1h-2.7zM65.6 73.1h2.7v1.7h-2.7zM124.3 66.4h4.2v2.2h-4.2zM-172.9 58.1h3.1v1.9h-3.1zM139.5 68.7h4v1h-4zM119.9 66.6h1.6v2.2h-1.6zM169.5 52.3h3.8v1.6h-3.8zM-90.8 52.1h3.9v1.4h-3.9zM-44.8 66.3h2.3v2.3h-2.3zM-177.5 75.2h2.1v2.2h-2.1zM25.2 48.7h3.6v2.3h-3.6zM-143.2 61.2h1.9v1.5h-1.9zM167.3 51.8h2.8v1.6h-2.8zM-154.7 59.7h1.9v1.8h-1.9zM113.9 61.6h3.6v2.2h-3.6zM149.3 60.6h2.2v2.3h-2.2zM-0.3 66.2h3.6v2.3h-3.6zM174 62.4h2.3v1.4h-2.3zM-72.6 68.2h4.3v2h-4.3zM-161.9 72.6h2.1v2.5h-2.1zM-56.8 47h2.2v1.3h-2.2zM159.2 73.3h3v1.8h-3zM-58.5 48.8h4.1v1.3h-4.1zM-71.4 58.5h2.9v1.9h-2.9zM98.8 63.8h4.3v1.7h-4.3zM-169.7 60.8h3.1v1.3h-3.1zM136.7 54.5h3.1v1.4h-3.1zM-132.1 66.1h3.4v2h-3.4zM100.1 51h3.5v1.8h-3.5zM127.3 41.4h3.3v1.6h-3.3zM14.9 47.2h3.5v2.2h-3.5zM-68.7 54.3h2.2v1.9h-2.2zM-174.6 56.8h3.7v2.4h-3.7zM-5.4 44.6h2.1v1h-2.1zM19.1 63.6h2.7v1.9h-2.7zM92.1 45h2.5v1.9h-2.5zM46.7 51.3h3.3v1.7h-3.3zM103 70h2v2h-2zM-16.3 63.7h1.7v1.1h-1.7zM-83.6 72.5h3.6v1.3h-3.6zM-43 60.8h3.6v2.2h-3.6zM47.4 68.2h1.9v1.8h-1.9zM-48.2 49.9h2.1v2h-2.1zM-51 65.9h2v2.1h-2zM1.5 56.4h4v1h-4zM16.3 64.2h2.2v2.2h-2.2zM-92.6 61.3h2.8v1.2h-2.8zM0.1 53.4h4.5v2.4h-4.5zM-142.5 70.6h3.1v2h-3.1zM33.8 74.7h2.7v1.7h-2.7zM-40.9 48.6h3.7v1.1h-3.7zM-12.5 50.9h3.9v2h-3.9zM171.9 49.4h2.7v2.3h-2.7zM40.4 54.5h3.3v2.1h-3.3zM75.1 59.5h3.9v1.6h-3.9zM86.7 43.1h3.1v1.2h-3.1zM146.1 68.3h2.1v1.1h-2.1zM-29 61.6h4v1.3h-4zM-44.2 48.3h1.6v1.6h-1.6zM-72.3 70.9h1.8v1.3h-1.8zM73.1 71.8h1.6v1.4h-1.6zM93 56.8h2.5v1.1h-2.5zM77.4 67.3h3.1v2.5h-3.1zM-93.6 51.2h2.8v1.8h-2.8zM-34.3 50.7h3.1v1h-3.1zM115.1 67.4h2.6v1.7h-2.6zM33.9 48.7h1.9v1.6h-1.9zM43.6 59.1h2.2v2.2h-2.2zM166.8 52.8h3.1v1.2h-3.1zM-7.6 47.7h2.4v1.7h-2.4zM-18.8 64.9h3.3v1.4h-3.3zM151.8 45.8h2.4v1.1h-2.4zM-27.6 71.7h1.6v2.2h-1.6zM-51.4 53.4h2.5v2h-2.5zM-129.2 66.4h1.9v1.1h-1.9zM-76.6 70.2h1.6v1.5h-1.6zM-149 58.2h2.9v1.3h-2.9zM138.2 55h3.8v1.4h-3.8zM79.8 51h3.8v1.3h-3.8zM161.8 59.6h1.7v2.4h-1.7zM-105.2 73.4h3v1.8h-3zM62.6 52.9h2.6v2.1h-2.6zM5.4 70.8h3.3v1.5h-3.3zM16.3 70.3h2.3v1.4h-2.3zM-30.1 61.5h4.1v1.2h-4.1zM5.3 46.8h2.7v2.4h-2.7zM-88.5 58.2h2.4v1.4h-2.4zM55.5 45.9h2.9v1.3h-2.9zM57.7 42.4h3.2v1.4h-3.2zM8.2 45.3h4v1.9h-4zM-130.6 75.6h2.9v1.7h-2.9zM17 49.7h4.4v2.1h-4.4zM88.9 53h3.1v2.2h-3.1zM101.8 65.3h3.9v1.2h-3.9zM11.6 42.9h2.2v2.3h-2.2zM-5.7 49.7h2v1.1h-2zM-89.6 54.6h4.2v1.8h-4.2zM8 62.3h3v2.1h-3zM132.1 63.5h3.5v1.5h-3.5zM-88.8 74h2.7v1.9h-2.7zM3.3 59.9h3.8v1.7h-3.8zM68.8 56h4.3v1.5h-4.3zM-20.9 48.4h2.4v2.2h-2.4zM-63.2 70.5h3.1v1.8h-3.1zM-70 66.2h4.5v1.8h-4.5zM75.7 60.9h3.2v1.4h-3.2zM65.4 65h2.7v1.8h-2.7zM-156.6 53.9h4.5v2h-4.5zM-12.2 71.7h3.1v1.9h-3.1zM71.1 44.2h2.3v1.2h-2.3zM168.9 56.8h4.2v1.9h-4.2zM144.5 54.3h3.7v2h-3.7zM163.1 49h4.4v1.6h-4.4zM-105.8 68.8h2.9v1.8h-2.9zM68.1 59.3h4.4v1.6h-4.4zM-176.9 57h3.5v1.4h-3.5zM87.2 68.9h4.2v1.7h-4.2zM162.9 53.9h3.7v1.3h-3.7zM-126.1 55.1h2v2.3h-2zM131.3 43.2h3.8v1.6h-3.8zM47.4 73.9h1.8v1.8h-1.8zM86.7 65.4h1.5v1.1h-1.5zM-61.2 62.6h4.2v2h-4.2zM137.6 48.8h3.6v2.1h-3.6zM29.1 52.8h3v1.7h-3zM123.7 47.2h2.1v2.3h-2.1zM14.3 73.8h3.9v2.3h-3.9zM-23.7 60.5h2.3v1.3h-2.3zM12.5 60.3h3.5v2h-3.5zM-17.7 61.3h2.1v1.9h-2.1zM64.7 47.8h4v1.5h-4zM16.7 53.9h2.7v1h-2.7zM82.4 43.6h2.9v2.4h-2.9zM-161.4 55h2.7v2h-2.7zM-50.3 50.1h2.1v1.4h-2.1zM-31.7 61h2.7v2.4h-2.7zM5 55.8h1.9v1.8h-1.9zM93.9 50.7h4.4v1.9h-4.4zM-46.3 44.7h4.4v2.5h-4.4zM-138.7 51.7h2v1.4h-2zM99.5 44.5h3.3v1.5h-3.3zM-5.1 64.9h2.3v1.3h-2.3zM89.5 49.9h2.3v1.8h-2.3zM113.5 50.8h4.3v1.1h-4.3zM-60.8 62.7h2.7v2.5h-2.7zM168.5 46.1h3.5v2.2h-3.5zM125.5 68.3h3.4v2.5h-3.4zM-120.1 60h2.6v2.3h-2.6zM-13.3 71h2.6v2h-2.6zM113.6 65.8h1.6v1.9h-1.6zM61.4 54.1h1.8v1h-1.8zM80.7 57.7h1.5v1.8h-1.5zM-149.8 59h3.6v1.3h-3.6zM-33.7 50.1h2.3v1.9h-2.3zM-159.8 50.7h2.2v1.6h-2.2zM177.9 48h2.1v2.2h-2.1zM-36.8 58.2h2.3v1.3h-2.3zM175.1 62h2.1v2.2h-2.1zM-142.2 61.1h1.8v1.1h-1.8zM174.1 58.4h3.5v1.2h-3.5zM-48.8 73.9h4v1h-4zM-108.6 65.7h2v1h-2zM-8.9 57.1h4.1v1.7h-4.1zM-117.2 60.6h2v1.1h-2zM-40.4 46h1.7v2.5h-1.7zM122.8 40.2h3.3v1.5h-3.3zM97.3 70.7h3.1v2.2h-3.1zM13.2 48.5h2v2.3h-2z" fill="#cacaff"/><ellipse cx="-46" cy="71.5" rx="14" ry="4.2" fill="#ffffff"/><path d="M-180,-68 -168,-66 -160,-70 -140,-70.5 -132,-62 -100,-60 -68,-58 -62,-62 -57,-64 -50,-66 -45,-70 -20,-70 0,-70 20,-72 40,-71 60,-68 80,-70 100,-72 130,-70 160,-68 175,-66 180,-66 180,-90 -180,-90Z" fill="#ffffff"/><path d="M-95,-64 -75,-64 -75,-51 -95,-51Z" fill="#ffffff"/><path d="M-66.3,-49 -65,-49.2 -64.8,-49ZM-123,-49 -125,-50 -127.5,-50.8 -128,-52 -130,-54.5 -131.5,-55.5 -133,-57 -135,-58.2 -137,-58.5 -139.5,-59.6 -142,-60 -146,-60.8 -148,-60 -150,-59.5 -151.5,-59.2 -152.5,-58 -154,-57.5 -156.5,-56.5 -158,-56.5 -161,-55.5 -163,-55 -164.5,-54.5 -162,-55.6 -160,-56.5 -158,-57.8 -157,-58.7 -159,-58.4 -162,-58.5 -162,-60 -165,-60.5 -165,-61.8 -164.5,-63 -161,-64.5 -163.5,-64.6 -166,-64.7 -166.5,-65.3 -168,-65.5 -163,-67 -166,-68.8 -161,-70.3 -156.8,-71.3 -152,-70.8 -150,-70.4 -145,-70.1 -141,-69.7 -136,-69 -133,-69.6 -128,-70.2 -124,-69.6 -120,-69.3 -114,-68.3 -108,-68.5 -104,-68 -98,-67.8 -96,-69.5 -95,-71.5 -92,-70 -90,-68.5 -85,-69.5 -82,-68.5 -81.5,-66.8 -86,-66.2 -87,-64.5 -91,-62.8 -94.5,-61 -93.5,-58.8 -92.5,-57 -88,-56.5 -85,-55.3 -82.3,-52.9 -80.5,-51.3 -79,-51.5 -79,-54.5 -76.8,-56.5 -77.5,-58.5 -78,-60.5 -77.5,-62.5 -73,-62 -70,-61 -69.5,-59 -67,-58.3 -65,-60.3 -64,-59.3 -61.5,-56 -59,-55 -57,-53 -55.7,-52 -57.5,-51.3 -60,-50.2 -64,-50.2 -66.5,-50 -68.1,-49Z" fill="#d5d5d5" fill-rule="evenodd"/><path d="M-180,-69 -176,-67.8 -174,-67 -171.8,-66.9 -169.8,-66 -171,-65.5 -172.5,-64.5 -175,-64.8 -178,-64.7 -180,-65.3ZM180,-65.3 178.7,-64.5 177.5,-64.7 179,-62.8 177,-62.5 173.5,-61.7 170.5,-60.2 168,-60.5 165,-59.8 165,-61 160.7,-61 160.5,-61.3 159.5,-61.8 157,-61.5 156.2,-61 155,-61 155,-60.2 154,-59.5 151,-59 148,-59.3 145.5,-59.4 143,-59.3 141.5,-58.7 141.3,-58.5 23.8,-58.5 23.7,-58.8 24.5,-59.4 26,-59.6 28,-60 29.5,-60.1 26,-60.4 23,-60 21.3,-60.7 21.5,-63 23.5,-64 25.3,-65 24.5,-65.8 22.5,-65.8 21.2,-65 19.5,-63.5 17.5,-62.3 17.3,-61 18.8,-60 18.3,-59.2 16.5,-58.5 11.2,-58.5 11,-58.8 10.5,-59.6 10,-59 9,-58.5 5.9,-58.5 5.5,-58.8 5,-60 5,-61 5.5,-62.3 7,-62.8 9,-63.5 10.5,-64.5 12.5,-65.8 13.5,-67.8 15,-68.4 16,-69 18,-69.7 19,-70 21,-70.2 23.5,-70.8 25.5,-71.1 28,-71 30,-70.5 31,-70 33,-69.3 36.5,-69 40,-67.8 41,-67.5 41,-66.7 39,-66 35,-66.3 34,-65 36,-64.5 37.5,-64.2 40.5,-64.6 42,-66.3 44.2,-66.5 44.2,-68.5 46,-68 48,-67.7 53.5,-68.5 58,-68.9 60.5,-69.8 64,-69.4 67,-69.2 67,-70.5 66.8,-71.5 69,-73 70.5,-73.2 72,-72.5 72.5,-71 72,-68.5 73.6,-68.5 74,-70 73,-71.5 72.8,-72.7 76,-72 78,-72.3 80,-72.3 81,-73.5 84,-73.8 87,-74 86.5,-75.2 90,-75.6 95,-76 99,-76.5 104,-77.7 107,-77 111,-76.7 113.5,-76 113,-74 112,-73.5 115,-73.7 118.5,-73.6 123,-73 127,-73.5 129,-72.5 129.5,-71 132,-71.5 136,-71.6 140,-72.5 143,-72.7 146,-72.3 150,-71.5 152,-70.9 155,-71.1 159,-70.8 161,-69.5 165,-69.6 170,-70 175,-69.8 178,-69.4 180,-69ZM-5.1,-58.5 -5,-58.6 -3.1,-58.6 -3,-58.5ZM-66.8,-58.5 -65,-60.3 -64,-59.3 -63.4,-58.5ZM-77.5,-58.5 -78,-60.5 -77.5,-62.5 -73,-62 -70,-61 -69.5,-59 -67.7,-58.5ZM-137,-58.5 -139.5,-59.6 -142,-60 -146,-60.8 -148,-60 -150,-59.5 -151.5,-59.2 -152.1,-58.5 -157.2,-58.5 -157,-58.7 -158.3,-58.5 -162,-58.5 -162,-60 -165,-60.5 -165,-61.8 -164.5,-63 -161,-64.5 -163.5,-64.6 -166,-64.7 -166.5,-65.3 -168,-65.5 -163,-67 -166,-68.8 -161,-70.3 -156.8,-71.3 -152,-70.8 -150,-70.4 -145,-70.1 -141,-69.7 -136,-69 -133,-69.6 -128,-70.2 -124,-69.6 -120,-69.3 -114,-68.3 -108,-68.5 -104,-68 -98,-67.8 -96,-69.5 -95,-71.5 -92,-70 -90,-68.5 -85,-69.5 -82,-68.5 -81.5,-66.8 -86,-66.2 -87,-64.5 -91,-62.8 -94.5,-61 -93.5,-58.8 -93.3,-58.5ZM-84,-65.5 -81,-63.8 -87,-63.5 -86,-66ZM-18.7,-63.4 -22.5,-64 -24,-65.5 -22,-66.4 -18,-66.2 -14.5,-66.4 -13.5,-65 -15,-64.3ZM-71.5,-63.5 -74,-64.5 -77.8,-64.4 -73,-67 -73.5,-68 -77,-69.5 -79,-70 -84,-69.8 -87,-70 -89,-71.5 -86,-73.8 -80,-73.5 -76,-72.5 -71.5,-71 -68.5,-70.2 -66.5,-68.5 -61.8,-66.8 -64,-65.5 -65,-64.5 -64.5,-63 -66,-62 -68,-62.5ZM-114,-68.4 -117.5,-69.5 -118.5,-71 -117.8,-72.4 -120,-71.5 -125.5,-71.9 -123,-73.8 -118.5,-74.5 -115.5,-73.4 -116.3,-73.1 -113,-73.2 -107,-73.5 -104.5,-71.5 -101.5,-69.6 -107,-68.8ZM-32,-83.6 -24,-82.9 -20,-82 -12,-81.5 -17,-80 -19,-78.5 -18,-77 -19,-74 -22,-72.5 -22,-70.5 -24.5,-69.5 -27,-68.5 -31,-68 -34,-66.5 -37,-65.7 -40,-65 -41,-63.5 -42.5,-61 -43.5,-60 -45.5,-60.5 -48,-61.2 -49.5,-62.8 -51,-64 -52.5,-65.5 -53.5,-67 -52.5,-68.5 -51,-69.6 -54,-70.5 -54.5,-71.5 -55.5,-72.5 -56,-73.5 -58,-75.2 -62,-76 -66,-76.1 -68,-76.5 -71,-77.2 -73,-78 -69,-79 -66,-80.2 -62,-81.3 -57,-82.2 -50,-82.5 -42,-83.2ZM-96,-72 -101,-72 -98,-74 -93,-73.5ZM-87,-79 -91,-81 -80,-83 -70,-83 -62,-82.5 -66,-80.5 -75,-78.5 -80,-76.2 -88.6,-76.5 -79.5,-75.5 -80.5,-74.5 -91,-74.7 -89,-76.5 -90,-76.5ZM-96,-78 -100,-76 -120,-76 -110,-78.5ZM58,-71 56,-70.5 52,-71.5 55,-74.5 60,-76.5 67,-77 68,-76.5 60,-75.5 56,-73ZM11,-79.8 20,-80.5 27,-79.5 22,-77.5 16,-76.5 11,-78.5ZM95,-80.5 102,-81 106,-79 100,-78 95,-79ZM143,-73.5 136,-75.5 142,-76 150,-75Z" fill="#d5d5d5" fill-rule="evenodd"/><path d="M25,-59.5 26,-59.6 28,-60 29.5,-60.1 26,-60.4 25,-60.3 25,-64.8 25.3,-65 25,-65.3 25,-71 25.5,-71.1 28,-71 30,-70.5 31,-70 33,-69.3 36.5,-69 40,-67.8 41,-67.5 41,-66.7 39,-66 35,-66.3 34,-65 36,-64.5 37.5,-64.2 40.5,-64.6 42,-66.3 44.2,-66.5 44.2,-68.5 46,-68 48,-67.7 53.5,-68.5 58,-68.9 60.5,-69.8 64,-69.4 67,-69.2 67,-70.5 66.8,-71.5 69,-73 70.5,-73.2 72,-72.5 72.5,-71 72,-68.5 73.6,-68.5 74,-70 73,-71.5 72.8,-72.7 76,-72 78,-72.3 80,-72.3 81,-73.5 84,-73.8 87,-74 86.5,-75.2 90,-75.6 95,-76 99,-76.5 104,-77.7 107,-77 111,-76.7 113.5,-76 113,-74 112,-73.5 115,-73.7 118.5,-73.6 123,-73 127,-73.5 129,-72.5 129.5,-71 132,-71.5 136,-71.6 140,-72.5 143,-72.7 146,-72.3 150,-71.5 152,-70.9 155,-71.1 159,-70.8 161,-69.5 165,-69.6 170,-70 175,-69.8 178,-69.4 180,-69 180,-65.3 178.7,-64.5 177.5,-64.7 179,-62.8 177,-62.5 173.5,-61.7 173.2,-61.5 165,-61 160.7,-61 160.5,-61.3 159.5,-61.8 157,-61.5 156.2,-61 155,-61 151.9,-59.2 151,-59 148,-59.3 145.5,-59.4 143,-59.3 141.5,-58.7 140.5,-57.8 138,-56.5 136.5,-54.8 137,-54 139,-54.2 140.5,-53.2 141.3,-52 140.5,-50.5 140.4,-48.5 139.5,-47.5 138.2,-46.5 137.6,-45.7 135,-50 110,-50 108,-46 60,-46 50,-47 40,-50 25,-56Z" fill="#d5d5d5" fill-rule="evenodd"/><path d="M180,90 -180,90 -180,78.3 -170,78 -163,78.2 -158,77 -150,76.5 -145,75.5 -140,75 -135,74.5 -130,74.5 -125,73.8 -120,73.8 -115,74.2 -110,74.5 -105,74.5 -100,73.5 -95,73.3 -90,73 -85,73.4 -80,73.5 -77,72.5 -75,71.5 -72,70.5 -70,69.5 -68,67.8 -67,66.5 -65,65.5 -63,64.5 -59,63.3 -57,63.5 -58,64.5 -60.5,65.5 -62,66.5 -63,68 -62.5,70 -61,72 -61,74 -63,76 -60,77.5 -55,78 -50,78 -45,78 -40,77.8 -35,77.5 -30,76 -25,75 -20,74 -15,72.5 -10,71 -5,70.5 0,70 5,70 10,70 15,70 20,70 25,70 30,69.5 35,69 40,69 45,68 50,67 55,66.5 60,67 65,67.5 68,68 70,69.5 72,70 75,69.5 78,68.5 80,67 85,66.5 90,66.5 95,66 100,65.5 105,66 110,66 115,66.5 120,66.5 125,66 130,66 135,66 140,66.5 145,67.5 150,68.5 155,69 160,70 165,71 170,72 170,73.5 166,74.5 163,76.5 165,77.5 168,78 175,78.2 180,78.3Z" fill="#d5d5d5" fill-rule="evenodd"/><use href="#bd"/><use href="#cs"/></svg>
<svg class="frame" style="left:408.60px;top:495.40px;width:307.80px;height:162.00px"><rect x="8" y="8" width="291.8" height="146" fill="none" stroke="#3a3a3a" stroke-width="1.1"/><path d="M8.00 8.00v-5.00M8.00 154.00v5.00M16.11 8.00v-2.50M16.11 154.00v2.50M24.21 8.00v-2.50M24.21 154.00v2.50M32.32 8.00v-5.00M32.32 154.00v5.00M40.42 8.00v-2.50M40.42 154.00v2.50M48.53 8.00v-2.50M48.53 154.00v2.50M56.63 8.00v-5.00M56.63 154.00v5.00M64.74 8.00v-2.50M64.74 154.00v2.50M72.84 8.00v-2.50M72.84 154.00v2.50M80.95 8.00v-5.00M80.95 154.00v5.00M89.06 8.00v-2.50M89.06 154.00v2.50M97.16 8.00v-2.50M97.16 154.00v2.50M105.27 8.00v-5.00M105.27 154.00v5.00M113.37 8.00v-2.50M113.37 154.00v2.50M121.48 8.00v-2.50M121.48 154.00v2.50M129.58 8.00v-5.00M129.58 154.00v5.00M137.69 8.00v-2.50M137.69 154.00v2.50M145.79 8.00v-2.50M145.79 154.00v2.50M153.90 8.00v-5.00M153.90 154.00v5.00M162.01 8.00v-2.50M162.01 154.00v2.50M170.11 8.00v-2.50M170.11 154.00v2.50M178.22 8.00v-5.00M178.22 154.00v5.00M186.32 8.00v-2.50M186.32 154.00v2.50M194.43 8.00v-2.50M194.43 154.00v2.50M202.53 8.00v-5.00M202.53 154.00v5.00M210.64 8.00v-2.50M210.64 154.00v2.50M218.74 8.00v-2.50M218.74 154.00v2.50M226.85 8.00v-5.00M226.85 154.00v5.00M234.96 8.00v-2.50M234.96 154.00v2.50M243.06 8.00v-2.50M243.06 154.00v2.50M251.17 8.00v-5.00M251.17 154.00v5.00M259.27 8.00v-2.50M259.27 154.00v2.50M267.38 8.00v-2.50M267.38 154.00v2.50M275.48 8.00v-5.00M275.48 154.00v5.00M283.59 8.00v-2.50M283.59 154.00v2.50M291.69 8.00v-2.50M291.69 154.00v2.50M299.80 8.00v-5.00M299.80 154.00v5.00M8.00 8.00h-5.00M299.80 8.00h5.00M8.00 16.11h-2.50M299.80 16.11h2.50M8.00 24.22h-2.50M299.80 24.22h2.50M8.00 32.33h-5.00M299.80 32.33h5.00M8.00 40.44h-2.50M299.80 40.44h2.50M8.00 48.56h-2.50M299.80 48.56h2.50M8.00 56.67h-5.00M299.80 56.67h5.00M8.00 64.78h-2.50M299.80 64.78h2.50M8.00 72.89h-2.50M299.80 72.89h2.50M8.00 81.00h-5.00M299.80 81.00h5.00M8.00 89.11h-2.50M299.80 89.11h2.50M8.00 97.22h-2.50M299.80 97.22h2.50M8.00 105.33h-5.00M299.80 105.33h5.00M8.00 113.44h-2.50M299.80 113.44h2.50M8.00 121.56h-2.50M299.80 121.56h2.50M8.00 129.67h-5.00M299.80 129.67h5.00M8.00 137.78h-2.50M299.80 137.78h2.50M8.00 145.89h-2.50M299.80 145.89h2.50M8.00 154.00h-5.00M299.80 154.00h5.00" stroke="#3a3a3a" stroke-width="0.9" fill="none"/></svg>
<div class="yl" style="left:344.10px;top:497.80px">90N</div>
<div class="yl" style="left:344.10px;top:522.13px">60N</div>
<div class="yl" style="left:344.10px;top:546.47px">30N</div>
<div class="yl" style="left:344.10px;top:570.80px">0</div>
<div class="yl" style="left:344.10px;top:595.13px">30S</div>
<div class="yl" style="left:344.10px;top:619.47px">60S</div>
<div class="yl" style="left:344.10px;top:643.80px">90S</div>
<div class="xl" style="left:386.60px;top:660.70px">180</div>
<div class="xl" style="left:410.92px;top:660.70px">150W</div>
<div class="xl" style="left:435.23px;top:660.70px">120W</div>
<div class="xl" style="left:459.55px;top:660.70px">90W</div>
<div class="xl" style="left:483.87px;top:660.70px">60W</div>
<div class="xl" style="left:508.18px;top:660.70px">30W</div>
<div class="xl" style="left:532.50px;top:660.70px">0</div>
<div class="xl" style="left:556.82px;top:660.70px">30E</div>
<div class="xl" style="left:581.13px;top:660.70px">60E</div>
<div class="xl" style="left:605.45px;top:660.70px">90E</div>
<div class="xl" style="left:629.77px;top:660.70px">120E</div>
<div class="xl" style="left:654.08px;top:660.70px">150E</div>
<div class="xl" style="left:678.40px;top:660.70px">180</div>
<div class="tc" style="left:416.60px;top:486.80px;width:291.80px">Difference</div>
<div class="lab" style="left:420.40px;top:621.00px">e)</div>
<svg class="cb" style="left:417.80px;top:676.20px;width:289.70px;height:9.80px"><rect x="0.50" y="0.5" width="13.12" height="8.80" fill="#00007d"/><rect x="13.62" y="0.5" width="13.12" height="8.80" fill="#00009b"/><rect x="26.75" y="0.5" width="13.12" height="8.80" fill="#0000b9"/><rect x="39.87" y="0.5" width="13.12" height="8.80" fill="#0000d2"/><rect x="52.99" y="0.5" width="13.12" height="8.80" fill="#0000eb"/><rect x="66.11" y="0.5" width="13.12" height="8.80" fill="#0005ff"/><rect x="79.24" y="0.5" width="13.12" height="8.80" fill="#2828ff"/><rect x="92.36" y="0.5" width="13.12" height="8.80" fill="#5252ff"/><rect x="105.48" y="0.5" width="13.12" height="8.80" fill="#8282ff"/><rect x="118.60" y="0.5" width="13.12" height="8.80" fill="#b4b4ff"/><rect x="131.73" y="0.5" width="13.12" height="8.80" fill="#e1e1ff"/><rect x="144.85" y="0.5" width="13.12" height="8.80" fill="#ffe1e1"/><rect x="157.97" y="0.5" width="13.12" height="8.80" fill="#ffafaf"/><rect x="171.10" y="0.5" width="13.12" height="8.80" fill="#ff8282"/><rect x="184.22" y="0.5" width="13.12" height="8.80" fill="#ff5252"/><rect x="197.34" y="0.5" width="13.12" height="8.80" fill="#ff2a2a"/><rect x="210.46" y="0.5" width="13.12" height="8.80" fill="#ff0000"/><rect x="223.59" y="0.5" width="13.12" height="8.80" fill="#e60000"/><rect x="236.71" y="0.5" width="13.12" height="8.80" fill="#cd0000"/><rect x="249.83" y="0.5" width="13.12" height="8.80" fill="#b90000"/><rect x="262.95" y="0.5" width="13.12" height="8.80" fill="#a00000"/><rect x="276.08" y="0.5" width="13.12" height="8.80" fill="#780000"/><path d="M0.50 0.5v8.80M13.62 0.5v8.80M26.75 0.5v8.80M39.87 0.5v8.80M52.99 0.5v8.80M66.11 0.5v8.80M79.24 0.5v8.80M92.36 0.5v8.80M105.48 0.5v8.80M118.60 0.5v8.80M131.73 0.5v8.80M144.85 0.5v8.80M157.97 0.5v8.80M171.10 0.5v8.80M184.22 0.5v8.80M197.34 0.5v8.80M210.46 0.5v8.80M223.59 0.5v8.80M236.71 0.5v8.80M249.83 0.5v8.80M262.95 0.5v8.80M276.08 0.5v8.80M289.20 0.5v8.80" stroke="#444" stroke-width="0.6" fill="none"/><rect x="0.5" y="0.5" width="288.70" height="8.80" fill="none" stroke="#444" stroke-width="0.7"/></svg>
<div class="cl cl2" style="left:401.42px;top:686.70px">-0.5</div>
<div class="cl cl2" style="left:427.67px;top:686.70px">-0.4</div>
<div class="cl cl2" style="left:453.91px;top:686.70px">-0.3</div>
<div class="cl cl2" style="left:480.16px;top:686.70px">-0.2</div>
<div class="cl cl2" style="left:506.40px;top:686.70px">-0.1</div>
<div class="cl cl2" style="left:532.65px;top:686.70px">0</div>
<div class="cl cl2" style="left:558.90px;top:686.70px">0.1</div>
<div class="cl cl2" style="left:585.14px;top:686.70px">0.2</div>
<div class="cl cl2" style="left:611.39px;top:686.70px">0.3</div>
<div class="cl cl2" style="left:637.63px;top:686.70px">0.4</div>
<div class="cl cl2" style="left:663.88px;top:686.70px">0.5</div>
</body></html>
